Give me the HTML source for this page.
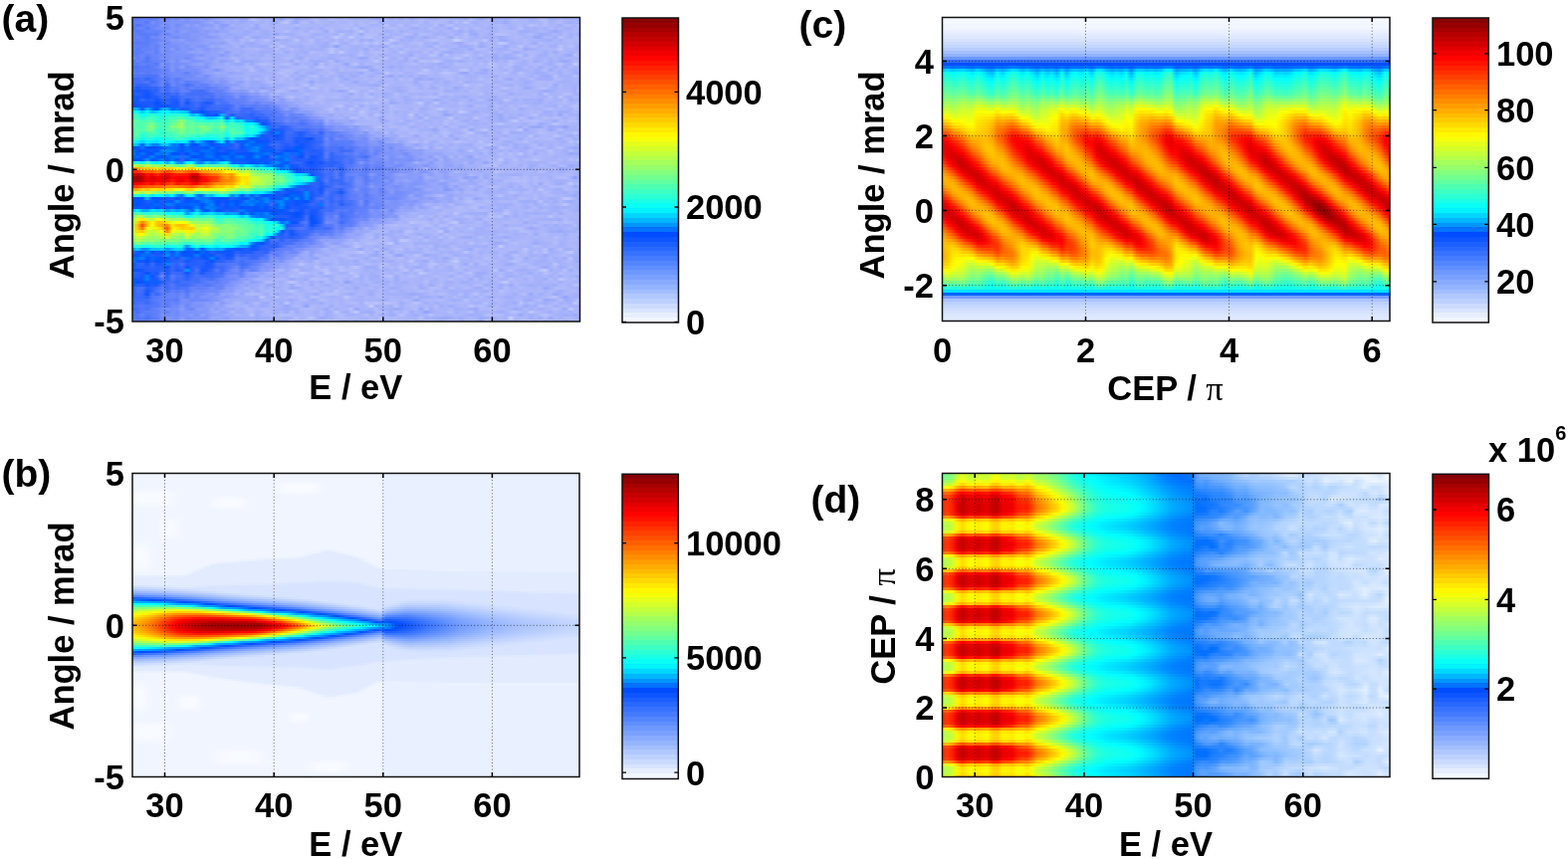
<!DOCTYPE html><html><head><meta charset="utf-8"><style>
html,body{margin:0;padding:0;background:#fff}
body{width:1575px;height:863px;position:relative;overflow:hidden;filter:blur(0.45px)}
.hm{position:absolute;overflow:hidden}
.hm i{display:block;width:100%}
svg{position:absolute;left:0;top:0}
text{font-family:"Liberation Sans",Arial,sans-serif;font-weight:bold;fill:#000}
</style></head><body>
<div class="hm" style="left:133px;top:17.5px;width:449.5px;height:305.5px"><i style="height:3px;background:linear-gradient(90deg,#6080fa,#5b7dfa,#6281fa,#6582fa,#6281fa,#6482fa,#7c93fa,#6e89fa,#7c93fa,#7890fa,#8398fa,#7990fa,#889bfa,#879afa,#8a9dfa,#879afa,#8fa0fa,#97a7fa,#9caafa,#9cabfa,#9dabfa,#a3b0fa,#96a6fa,#9aa9fa,#b7c1fa,#b2bbfa,#a6b2fa,#a9b4fa,#a5b2fa 140px 145px,#98a7fa,#b0bafa,#abb6fa,#99a8fa,#a4b0fa 170px 175px,#acb7fa,#b6bffa,#a7b3fa,#a8b4fa,#b2bcfa,#aeb8fa,#a9b5fa,#b0bafa,#a9b5fa,#a8b4fa,#a9b4fa,#acb7fa,#a5b1fa,#a2affa,#a6b3fa,#afb9fa,#a4b0fa,#acb7fa,#a2affa,#b1bbfa,#a2affa,#a9b5fa,#b2bcfa,#abb6fa,#a8b4fa,#a7b3fa,#b0bafa,#b1bbfa,#a7b3fa,#acb7fa,#a7b3fa,#a3b0fa,#b6c0fa,#a7b3fa,#a0aefa,#abb6fa,#afb9fa,#a3b0fa,#a7b3fa,#a2affa,#abb6fa,#b4befa,#aab5fa,#acb7fa,#a3b0fa,#a7b3fa,#b6bffa,#b2bcfa,#a2affa,#a4b1fa,#adb8fa,#a9b4fa,#a6b2fa,#a5b2fa,#a2affa)"></i><i style="height:3px;background:linear-gradient(90deg,#6180fa 0px 5px,#6583fa,#5579fa,#768ffa,#6885fa,#7990fa,#7a92fa,#7c93fa,#7e94fa 45px 50px,#7d93fa,#7f95fa,#7e94fa,#8599fa,#91a2fa,#9aa9fa,#899cfa,#97a6fa,#9fadfa,#9cabfa,#a2affa,#99a8fa,#a1affa,#a2affa,#a9b4fa,#a1affa,#adb8fa,#a2affa,#9caafa,#b3bdfa,#bcc5fb,#a4b0fa,#96a6fa,#b0bafa,#b2bcfa,#a4b1fa,#afb9fa,#acb7fa,#abb6fa,#a5b1fa,#acb7fa,#a7b3fa,#aab5fa,#afb9fa,#abb6fa,#b0bafa,#a9b4fa,#b1bbfa 240px 245px,#9eacfa,#a9b5fa 255px 260px,#a5b2fa,#acb7fa,#aab6fa,#a6b2fa,#a7b3fa,#b1bbfa,#a3b0fa,#adb8fa,#b1bafa,#afb9fa,#acb7fa,#9dabfa,#b2bbfa,#a8b4fa,#bac4fb,#a9b4fa,#a2affa,#abb6fa,#adb8fa,#a7b3fa,#a4b0fa,#a4b1fa,#9ba9fa,#a7b3fa,#adb8fa,#aab5fa,#a9b5fa,#a8b4fa,#a9b5fa,#a8b3fa,#b6c0fa,#a3b0fa,#adb8fa,#b2bbfa,#a4b1fa,#9fadfa,#a5b2fa,#a8b3fa)"></i><i style="height:3px;background:linear-gradient(90deg,#6985fa,#4d75fa,#5e7ffa,#6382fa,#6d88fa,#6784fa,#8397fa,#708bfa,#8197fa,#728cfa,#7d93fa,#8e9ffa,#8397fa,#90a1fa,#8096fa,#899cfa,#8b9efa,#9dabfa,#899cfa,#8c9efa,#a5b1fa,#9eacfa,#a4b1fa,#a2affa,#abb6fa,#96a6fa,#acb7fa,#a8b4fa,#a3b0fa,#acb7fa,#a9b5fa,#acb7fa,#a9b5fa,#b1bbfa,#abb6fa,#aab5fa,#abb6fa,#a8b4fa,#abb6fa,#a3b0fa,#abb6fa,#aab5fa,#aeb8fa,#adb7fa,#b2bcfa,#a5b1fa,#b1bbfa,#aeb9fa,#a6b2fa 240px 245px,#acb7fa,#b9c3fb,#a6b2fa,#a7b3fa,#b4befa,#a3b0fa,#aeb8fa,#b1bbfa,#a8b4fa,#aab5fa,#a7b3fa,#b5bffa,#9caafa,#adb8fa,#b5bffa,#a4b1fa,#abb6fa,#a6b3fa,#abb6fa,#a9b5fa,#a7b3fa,#aeb9fa,#a4b1fa,#acb7fa,#afb9fa,#a8b4fa,#a6b2fa,#aab6fa,#afb9fa,#a4b1fa,#b7c0fa,#b0bafa,#a9b4fa,#b3bdfa,#a9b4fa,#a9b5fa,#a2affa,#afbafa,#adb8fa,#a6b3fa,#bdc6fb)"></i><i style="height:3px;background:linear-gradient(90deg,#4e75fa,#6583fa,#6885fa,#567afa,#6885fa,#728cfa,#758efa,#6c88fa,#8197fa,#7b92fa,#8096fa,#8297fa,#8096fa,#8499fa,#8c9efa,#94a5fa,#91a2fa,#9baafa,#8fa0fa,#99a8fa,#98a7fa,#a0adfa,#9dacfa,#a7b3fa,#9dabfa,#97a6fa,#a7b3fa,#aab5fa,#a8b4fa,#aab6fa,#acb7fa,#a7b3fa,#aab5fa,#9eacfa,#a8b4fa,#a6b2fa,#a2affa,#abb6fa,#9eacfa,#adb8fa,#afb9fa,#abb6fa,#aab5fa,#b4bdfa,#a9b5fa,#b6c0fa,#9fadfa,#a9b5fa,#adb8fa,#afb9fa,#acb7fa,#aab6fa,#b0bafa,#afbafa,#aab5fa,#adb7fa,#a2affa,#a1aefa,#a9b4fa,#a5b2fa,#b3bdfa,#a4b1fa,#a9b5fa,#a5b2fa,#9dabfa,#bcc5fb,#a7b3fa,#b1bbfa,#a5b1fa,#b3bdfa,#acb7fa,#a7b3fa,#a4b1fa,#a8b4fa,#afb9fa,#adb7fa,#a2affa,#a9b4fa,#b6c0fa,#a3b0fa,#a6b2fa,#a3b0fa,#abb6fa,#a3b0fa,#b1bbfa,#a5b1fa,#acb7fa,#a4b1fa,#a2affa,#aeb9fa,#a9b5fa)"></i><i style="height:3px;background:linear-gradient(90deg,#6281fa,#587bfa,#5f7ffa,#6482fa,#6583fa,#6281fa,#6b87fa,#7c93fa,#8297fa,#718bfa,#8c9efa,#8498fa,#8095fa,#7f95fa,#8c9efa,#879bfa,#8ea0fa,#8a9dfa,#96a6fa,#93a4fa,#a4b0fa,#a2affa,#a0aefa,#99a8fa,#9eacfa,#a9b5fa,#a0adfa,#a0aefa,#a8b3fa,#a9b4fa 145px 150px,#b5bffa,#a7b3fa,#a6b3fa,#afb9fa,#a3b0fa,#b3bdfa,#adb7fa,#acb7fa,#9aa9fa,#b5bffa,#a5b1fa,#a2affa,#a6b2fa,#a0aefa,#b0bafa,#bcc5fb,#a3b0fa,#b2bcfa,#abb6fa,#b2bcfa,#a1affa,#a3b0fa,#aeb8fa,#a2affa,#a8b4fa,#aab5fa,#a8b4fa,#aab6fa,#a4b1fa,#a7b3fa,#abb6fa,#a2affa,#adb8fa,#a7b3fa,#a6b2fa,#9eacfa,#acb7fa,#9cabfa,#a8b3fa,#aab5fa,#aeb8fa,#a5b1fa,#a8b4fa,#b1bbfa 370px 375px,#adb8fa,#aeb8fa,#a1aefa,#9fadfa,#a3b0fa,#a6b2fa,#acb7fa,#a8b4fa,#a2affa,#99a8fa,#a2affa,#abb6fa,#a9b4fa,#acb7fa,#aeb9fa)"></i><i style="height:3px;background:linear-gradient(90deg,#6482fa,#5f7ffa,#577bfa,#5b7dfa,#5f7ffa,#5b7dfa,#7890fa,#6784fa,#7a91fa,#7c93fa,#8197fa,#7c93fa,#8499fa,#879afa,#869afa,#889bfa,#96a6fa,#95a5fa,#a1aefa,#98a8fa,#99a8fa,#a0adfa,#9dabfa,#9dacfa,#a7b3fa,#a5b2fa,#a1aefa,#9eacfa,#a4b1fa,#95a5fa,#a8b4fa,#a1aefa,#9fadfa,#a9b5fa,#aeb9fa,#b1bbfa,#a7b3fa,#a1aefa,#a7b3fa 190px 195px,#abb6fa,#a5b1fa,#bac4fb,#a7b3fa,#a9b4fa,#b3bdfa,#99a8fa,#b4bdfa,#b1bbfa,#b2bcfa,#a1aefa,#afb9fa,#a4b1fa,#a5b1fa,#a7b3fa,#b3bdfa,#adb8fa,#9dabfa,#b3bcfa,#afb9fa,#aab5fa,#a3b0fa,#a7b3fa,#a3b0fa,#b1bbfa,#a2affa,#a5b1fa,#b5bffa,#9eacfa,#98a8fa,#aeb9fa,#a8b4fa,#9fadfa,#b4befa,#b9c2fb,#b3bdfa,#adb8fa 380px 385px,#a4b1fa,#a7b3fa,#b2bcfa,#a5b1fa,#9baafa,#a0aefa,#a2affa,#a9b4fa,#a2affa,#b0bafa,#a3b0fa,#a9b5fa,#a1aefa)"></i><i style="height:3px;background:linear-gradient(90deg,#5f7ffa,#6784fa,#6381fa,#5479fa,#6f8afa,#6b87fa,#7e94fa,#7b92fa,#7890fa,#718bfa,#7e94fa,#7a92fa,#8398fa,#8498fa,#8c9efa,#8599fa,#889bfa,#8ea0fa,#9aa9fa 90px 95px,#9eacfa,#94a4fa,#9eacfa,#afb9fa,#9fadfa,#96a6fa,#a0adfa,#9fadfa,#a6b3fa,#b6c0fa,#b5bffa,#b1bbfa,#a9b4fa,#a6b2fa,#a3b0fa,#abb6fa,#a2affa,#abb6fa,#aeb8fa,#a3b0fa,#afb9fa,#c0c9fb,#b0bafa,#a8b4fa,#c3ccfb,#abb6fa 225px 230px,#b4befa 235px 240px,#acb7fa,#adb7fa,#a0adfa,#a6b2fa,#b5bffa,#afb9fa,#a4b0fa,#9baafa,#a6b2fa,#a7b3fa,#9baafa,#a9b5fa,#abb6fa,#b4befa,#acb7fa,#99a8fa,#b4befa,#a9b4fa,#b4bdfa,#a8b4fa,#a2affa,#abb6fa,#a4b0fa 355px 360px,#a6b2fa,#9cabfa,#a3b0fa,#abb6fa,#aeb8fa,#afb9fa,#a5b2fa,#abb6fa,#95a5fa,#9caafa,#aab6fa,#abb6fa,#9dabfa,#b8c2fa,#acb7fa,#a2affa,#afbafa,#acb7fa)"></i><i style="height:3px;background:linear-gradient(90deg,#6583fa,#5c7dfa,#6381fa,#597cfa,#6482fa,#6784fa,#728cfa,#768ffa,#889bfa,#8599fa,#8e9ffa,#8095fa,#7c93fa,#8499fa,#8b9dfa,#92a3fa,#93a4fa,#98a7fa,#9aa9fa,#a5b1fa,#a1aefa,#99a8fa,#afb9fa,#a3b0fa,#b2bcfa,#a2affa,#aab5fa,#b6bffa,#a6b2fa,#9aa9fa,#a6b3fa,#9fadfa,#a8b4fa,#bac3fb,#a5b1fa,#abb6fa,#b4befa,#a3b0fa,#a7b3fa,#adb7fa,#a2affa,#afb9fa,#a4b1fa,#b0bafa,#a5b1fa,#b1bbfa,#9eacfa,#a7b3fa,#9eacfa,#afb9fa,#acb7fa,#a3b0fa,#c0c9fb,#b1bbfa,#a1affa,#a5b2fa,#a2affa,#abb6fa,#a5b1fa,#aeb8fa,#b3bdfa,#b6c0fa,#adb7fa 310px 315px,#adb8fa,#c7d0fb,#b9c3fb,#adb7fa,#a7b3fa,#adb8fa,#afb9fa,#bcc5fb,#9aa9fa,#b1bbfa,#9dabfa,#9eacfa,#a7b3fa,#adb8fa,#a8b4fa,#b1bbfa,#a7b3fa,#a9b4fa,#a5b1fa,#a2affa,#9cabfa,#acb7fa,#a1affa,#afb9fa 435px 440px,#adb8fa,#b0bafa)"></i><i style="height:3px;background:linear-gradient(90deg,#5c7dfa,#5a7cfa,#5b7dfa,#5c7dfa,#6683fa,#6b87fa,#8096fa,#6e89fa,#7d93fa,#8196fa,#7f95fa,#879bfa,#8498fa,#8a9cfa,#8b9dfa,#92a3fa,#899cfa,#91a2fa,#8d9ffa,#99a8fa,#a7b3fa,#a3b0fa,#a8b4fa,#9eacfa,#99a8fa,#a1affa,#a9b5fa,#a8b4fa,#a5b2fa,#b2bcfa,#a6b2fa,#a6b3fa,#acb7fa,#abb6fa,#a7b3fa,#afb9fa 175px 180px,#a3b0fa,#a7b3fa,#9dabfa,#b0bafa,#b7c1fa,#a2affa 210px 215px,#aeb9fa,#b4befa,#a9b5fa,#b7c1fa,#abb6fa,#bbc4fb,#abb6fa,#bac4fb,#abb6fa,#9eacfa,#abb6fa,#a4b0fa,#aeb8fa,#afbafa,#b5bffa,#a2affa,#a9b5fa,#9dacfa,#b2bcfa,#abb6fa,#a9b4fa,#9fadfa,#9caafa,#aeb8fa,#b2bcfa,#b7c1fa,#a0adfa,#aab5fa,#aeb8fa,#aab5fa,#bfc8fb,#b7c1fa,#a2affa,#a6b2fa,#a8b4fa,#b0bafa,#a5b1fa,#9cabfa,#b3bcfa,#a9b5fa,#acb7fa,#a7b3fa,#a9b5fa,#aab6fa,#b0bafa,#a9b5fa,#aeb8fa)"></i><i style="height:3px;background:linear-gradient(90deg,#6382fa,#6180fa,#5f7ffa,#6080fa,#6a86fa,#6080fa,#7a92fa,#738dfa,#7991fa,#7890fa,#8398fa,#7b92fa,#8b9dfa,#8398fa,#7f95fa,#879bfa,#9baafa,#93a4fa,#9dabfa,#9cabfa,#9dabfa,#aab5fa,#96a6fa,#a2affa,#9dabfa,#9fadfa,#9baafa,#9dabfa,#b2bcfa,#a7b3fa,#b9c2fb,#abb6fa,#a3b0fa,#a2affa,#9fadfa,#abb6fa,#a6b3fa,#a8b4fa,#a0adfa,#9eacfa,#acb7fa,#8e9ffa,#a9b5fa,#acb7fa,#a5b1fa,#a4b0fa,#a5b2fa,#aeb8fa,#9eacfa,#a9b4fa,#9eacfa,#9fadfa,#b3bdfa,#b0bafa 265px 270px,#a7b3fa,#a9b4fa,#a7b3fa,#afb9fa,#a6b2fa,#9fadfa,#b3bdfa,#aab6fa,#a7b3fa,#aab5fa,#aab6fa,#9cabfa,#a0adfa,#a3b0fa,#aeb9fa,#99a8fa,#a6b2fa,#adb8fa,#abb6fa,#acb7fa,#9aa9fa,#a7b3fa,#a8b4fa,#bbc4fb,#a4b0fa,#b1bbfa 400px 405px,#a4b1fa,#afb9fa,#a3b0fa,#a1aefa,#b7c1fa,#aab5fa,#b5bffa,#a9b5fa,#a2affa)"></i><i style="height:3px;background:linear-gradient(90deg,#6a87fa,#5479fa,#6583fa,#6382fa,#6885fa,#6281fa,#8197fa,#718bfa,#879bfa,#728cfa,#8297fa,#7f95fa,#7c93fa,#8ea0fa,#8a9dfa,#7f95fa,#90a1fa,#8b9efa,#95a5fa,#9fadfa 95px 100px,#a0aefa,#a2affa,#a8b4fa 115px 120px,#aeb9fa,#a4b1fa,#a3b0fa,#a2affa,#b5bffa,#a2affa,#a8b4fa,#b3bdfa,#a8b3fa,#a3b0fa,#a5b1fa,#a3b0fa,#a2affa 185px 190px,#a9b5fa,#bac3fb,#aeb9fa,#a6b2fa,#acb7fa,#a4b1fa,#a3b0fa,#a9b4fa,#9baafa,#b0bafa,#a2affa,#acb7fa,#afb9fa,#a5b1fa,#adb8fa,#a3b0fa,#b2bcfa,#a9b4fa,#afb9fa,#abb6fa,#acb7fa,#b1bbfa,#a4b1fa,#b2bcfa,#b0bafa,#a3b0fa,#a2affa,#a4b1fa,#a6b3fa,#99a8fa,#b2bcfa,#aeb9fa,#b0bafa,#a2affa,#a7b3fa,#a1aefa,#a2affa,#abb6fa,#afb9fa,#b0bafa,#99a8fa,#a2affa,#a5b1fa,#abb6fa,#aab6fa,#abb6fa 420px 425px,#bdc6fb,#a9b5fa,#acb7fa,#a7b3fa 445px 450px)"></i><i style="height:3px;background:linear-gradient(90deg,#5b7dfa,#5f7ffa,#5d7efa,#6c87fa,#6e89fa,#5b7dfa,#8096fa,#738cfa,#7a91fa,#7f95fa,#7e94fa,#8599fa,#8fa1fa,#8ea0fa,#93a3fa,#8b9dfa,#92a2fa,#93a3fa,#9dacfa,#899cfa,#9eacfa,#a1aefa,#9cabfa,#a3b0fa,#a7b3fa,#a3b0fa,#9eacfa,#a1aefa,#a0aefa,#abb6fa,#adb8fa,#99a8fa,#aab5fa,#a5b1fa,#a3b0fa,#9eacfa,#b3bdfa,#acb7fa 185px 190px,#abb6fa,#bdc6fb,#aab5fa,#c1cafb,#a7b3fa,#a5b1fa 220px 225px,#b2bcfa,#a2affa,#afb9fa,#b2bcfa,#b0bafa,#afb9fa,#a8b3fa,#a3b0fa,#bac3fb,#adb7fa,#a2affa,#a7b3fa,#a5b2fa,#b5befa,#a2affa,#b5bffa,#a7b3fa,#9fadfa,#9baafa,#a5b2fa,#a2affa,#adb8fa,#acb7fa,#a0aefa,#a9b4fa,#aab5fa,#b4befa,#a8b4fa,#a4b1fa,#afb9fa,#acb7fa,#9dacfa,#a8b3fa,#abb6fa,#b1bbfa,#adb8fa,#abb6fa,#9fadfa,#adb8fa,#9caafa,#afbafa,#abb6fa,#a3b0fa,#abb6fa,#afb9fa)"></i><i style="height:3px;background:linear-gradient(90deg,#6180fa,#5b7dfa,#6d88fa,#5c7efa,#6784fa,#6885fa,#738cfa,#748dfa,#8096fa,#7991fa,#7e94fa,#7d93fa,#7991fa,#8b9dfa,#7f95fa,#90a1fa 75px 80px,#92a3fa,#889bfa,#94a4fa,#a0aefa,#97a7fa,#a1aefa,#a7b3fa,#9fadfa,#a3b0fa,#9eacfa,#aab5fa,#a4b1fa,#a2affa,#a5b2fa,#a8b4fa,#adb8fa,#a2affa,#a7b3fa,#a5b1fa,#abb6fa,#a9b4fa,#b0bafa,#a8b4fa,#a3b0fa,#a8b4fa,#a3b0fa,#a7b3fa,#9fadfa,#aab5fa,#b6bffa,#a6b2fa,#aab5fa,#b0bafa,#a4b1fa,#a7b3fa,#a6b2fa,#abb6fa,#a7b3fa 270px 275px,#9caafa,#aeb8fa,#a9b4fa,#a6b2fa,#b7c0fa,#b5bffa,#99a8fa,#b7c1fa,#a5b1fa,#afb9fa,#aeb9fa,#b9c2fb,#afb9fa,#a3b0fa,#b4bdfa,#a5b1fa,#a7b3fa,#9aa9fa,#acb7fa,#a0adfa,#a2affa,#abb6fa,#b6c0fa,#9eacfa,#b3bdfa,#acb7fa,#a2affa,#a1aefa,#afb9fa,#a9b5fa,#abb6fa,#a0aefa,#97a6fa,#b8c1fa,#a2affa)"></i><i style="height:3px;background:linear-gradient(90deg,#728cfa,#5d7efa,#6985fa,#4d75fa,#6583fa,#6986fa,#7a91fa,#748dfa,#7c93fa,#7991fa,#7e94fa,#718bfa,#7e94fa,#8d9ffa,#92a3fa,#8fa1fa,#889bfa,#97a7fa,#9ba9fa,#99a8fa,#a7b3fa,#a9b4fa,#9caafa,#a4b0fa,#a5b2fa,#a1affa,#a9b5fa,#aab6fa,#aab5fa,#a3b0fa,#a7b3fa,#b0bafa,#aab5fa,#a3b0fa,#9baafa,#b1bbfa,#a6b2fa,#aab6fa,#a3b0fa,#a5b2fa,#9eacfa,#a5b1fa,#adb7fa 210px 215px,#a6b2fa 220px 225px,#98a7fa,#9dabfa,#b2bbfa,#a6b2fa,#b3bdfa,#b6c0fa,#a3b0fa,#a5b1fa,#b0bafa,#9dabfa,#b0bafa,#b2bbfa,#a4b1fa,#a7b3fa,#aab5fa,#a9b5fa,#a7b3fa,#aab5fa 315px 320px,#b8c2fa,#b3bdfa,#a4b1fa,#aeb8fa,#a5b1fa,#a0adfa,#abb6fa,#a7b3fa,#9aa9fa,#a4b1fa,#9caafa,#9eacfa,#a3b0fa,#aab5fa,#afb9fa,#b1bbfa,#a5b2fa 405px 410px,#aab5fa,#a3b0fa,#adb8fa,#a1aefa,#a9b4fa,#a9b5fa,#a9b4fa,#aab5fa)"></i><i style="height:3px;background:linear-gradient(90deg,#4d75fa,#6684fa,#5f7ffa,#5177fa,#6080fa,#6583fa,#6a86fa,#768efa,#8599fa,#748dfa,#8b9dfa,#8a9dfa,#7c93fa,#8095fa,#8297fa,#8d9ffa 75px 80px,#9caafa,#8a9cfa,#94a5fa,#98a7fa,#afb9fa,#99a8fa,#97a6fa,#99a8fa,#9eacfa,#a5b1fa,#a8b4fa,#a2affa,#a4b1fa,#a6b2fa,#aab5fa,#9caafa,#b1bbfa,#a8b4fa,#adb7fa,#a1aefa,#9eacfa,#a0adfa,#a3b0fa,#b4bdfa,#9aa9fa,#a5b1fa,#aab5fa,#a9b4fa,#abb6fa,#a6b2fa,#a7b3fa,#abb6fa,#bec7fb,#a9b5fa,#a5b2fa,#a5b1fa,#aab5fa,#a6b2fa,#a1affa,#acb7fa,#9eacfa,#b9c2fb,#b2bcfa,#afb9fa,#bdc6fb,#b0bafa,#a0adfa 315px 320px,#a8b4fa,#9cabfa,#a7b3fa,#acb7fa,#a7b3fa,#aab5fa,#a4b0fa,#b5befa,#a2affa,#acb7fa,#a3b0fa,#b5bffa,#acb7fa,#a8b4fa,#a2affa,#b2bcfa,#9dabfa,#a5b2fa,#adb7fa,#a0aefa,#a8b4fa,#a0aefa,#98a7fa,#a3b0fa,#adb7fa,#acb7fa)"></i><i style="height:3px;background:linear-gradient(90deg,#587bfa,#577bfa,#6482fa,#5c7dfa,#5e7ffa,#5177fa,#8599fa,#6986fa,#7d93fa,#718bfa,#7b92fa,#7991fa,#879bfa,#8d9ffa,#93a3fa,#8197fa,#90a1fa,#98a7fa,#97a7fa,#a4b0fa,#9ba9fa,#97a7fa 105px 110px,#adb7fa,#98a7fa,#a9b5fa,#b3bdfa,#aeb9fa,#aeb8fa,#a7b3fa,#afb9fa,#b3bdfa,#aab5fa,#9aa9fa,#adb8fa,#a5b2fa,#a8b4fa,#95a5fa,#b8c1fa,#a1aefa,#b2bcfa,#adb8fa,#a9b5fa,#92a3fa,#aeb9fa,#b8c2fa,#9fadfa,#afb9fa,#abb6fa,#a9b5fa,#a8b4fa,#aab5fa,#a7b3fa,#a6b2fa,#a3b0fa,#acb7fa,#aeb9fa,#b1bbfa,#a5b1fa,#a9b5fa,#a5b1fa 300px 305px,#9dabfa,#a7b3fa,#a3b0fa,#b2bcfa,#b1bbfa,#abb6fa,#b2bcfa,#a4b1fa,#b3bdfa,#a8b4fa,#bdc6fb,#b1bbfa,#abb6fa 370px 375px,#b7c1fa,#a8b4fa,#a2affa,#a4b1fa,#aeb8fa,#adb8fa,#b2bcfa,#a4b1fa,#9eacfa,#adb7fa,#b6c0fa,#a7b3fa,#a4b0fa,#c0c9fb,#a8b4fa)"></i><i style="height:3px;background:linear-gradient(90deg,#4a73fa,#5076fa,#577afa,#5177fa,#5a7cfa,#6583fa,#7890fa,#6a86fa,#7f95fa,#738dfa,#8b9dfa,#738cfa,#7a92fa,#8397fa,#8398fa,#7e94fa,#95a5fa,#9aa9fa,#9dabfa 90px 95px,#a4b1fa,#a0aefa,#a4b0fa,#acb7fa,#adb8fa,#9baafa,#a5b2fa,#a7b3fa 135px 145px,#a2affa,#a4b0fa,#acb7fa,#aeb8fa,#b0bafa,#b2bcfa,#9eacfa,#afb9fa,#b9c3fb,#afb9fa,#aeb9fa,#a6b3fa,#afb9fa,#a5b1fa,#a6b2fa,#a0adfa,#99a8fa,#94a4fa,#9fadfa,#b1bbfa,#acb7fa,#a7b3fa,#9aa9fa,#a4b1fa,#a0aefa,#aab5fa,#a5b1fa,#a4b0fa,#acb7fa,#a3b0fa,#a1aefa,#aab5fa,#a1affa,#9dabfa,#a8b4fa,#a9b4fa,#abb6fa,#adb8fa,#a8b4fa,#acb7fa,#abb6fa,#aeb9fa,#b5bffa,#b0bafa,#a6b3fa,#b2bcfa,#adb8fa,#9dabfa,#a1aefa,#aeb8fa,#a4b1fa,#adb8fa,#9dabfa,#adb8fa,#a8b4fa,#9fadfa,#afb9fa,#9fadfa,#afb9fa,#a7b3fa,#abb6fa)"></i><i style="height:3px;background:linear-gradient(90deg,#587bfa,#5378fa,#597cfa,#587bfa 15px 20px,#597cfa,#6a86fa,#5f7ffa,#8196fa,#6a86fa,#738dfa,#7890fa,#768ffa,#778ffa,#869afa,#90a1fa,#8ea0fa,#8095fa,#92a2fa,#a1affa,#9eacfa,#a7b3fa,#a2affa,#a0aefa,#b5bffa,#a1aefa,#9aa9fa,#a7b3fa,#a9b5fa,#9fadfa,#b0bafa,#b1bbfa,#b3bcfa,#a9b5fa,#a5b2fa,#a9b5fa,#a5b1fa,#a3b0fa,#a5b1fa,#afb9fa,#abb6fa,#a0adfa,#b0bafa,#abb6fa,#acb7fa,#aab5fa,#b1bbfa,#b3bdfa,#96a6fa,#a2affa,#aeb8fa,#a9b5fa,#a4b1fa,#abb6fa,#a4b1fa,#adb8fa,#abb6fa,#a9b5fa,#acb7fa,#bdc6fb,#a9b4fa,#a7b3fa,#a5b2fa,#b0bafa,#a6b2fa,#a7b3fa,#b7c1fa,#bbc4fb,#a5b2fa,#b0bafa,#a2affa,#99a8fa,#adb8fa,#aeb8fa,#a9b4fa,#a4b1fa,#b1bbfa,#a0adfa,#a2affa,#a4b1fa,#adb7fa,#a2affa,#a3b0fa,#b2bcfa,#9aa9fa,#abb6fa,#a6b2fa,#adb7fa,#a6b2fa,#a0aefa,#afb9fa)"></i><i style="height:3px;background:linear-gradient(90deg,#6281fa,#567afa,#6080fa,#5378fa,#5c7dfa,#5f7ffa,#6a86fa,#6784fa,#728bfa,#718bfa,#6f8afa,#6080fa,#768ffa,#718bfa,#8397fa,#8e9ffa,#92a3fa,#9caafa,#98a8fa 90px 95px,#92a3fa,#9ba9fa,#9baafa,#a4b0fa,#a7b3fa,#a3b0fa 125px 130px,#a4b0fa,#a4b1fa,#a8b4fa,#b6c0fa,#b0bafa,#aeb8fa,#9caafa,#abb6fa,#a4b0fa,#9eacfa,#a6b2fa,#abb6fa 190px 195px,#b0bafa,#a7b3fa,#a1aefa,#a5b1fa,#a3b0fa,#a4b0fa,#9aa9fa,#adb8fa,#a8b4fa,#a4b0fa,#a0adfa,#bdc6fb,#adb7fa,#aab6fa,#b0bafa,#a3b0fa,#a7b3fa,#acb7fa,#b6bffa,#b3bdfa,#b0bafa,#a6b2fa,#b2bcfa,#bac3fb,#b4befa,#adb8fa,#9dabfa,#97a6fa,#acb7fa,#a2affa,#9fadfa,#a0adfa,#aab5fa,#b3bdfa,#acb7fa,#b8c1fa,#a7b3fa,#a3b0fa,#b8c2fa,#a9b5fa,#a7b3fa,#a0adfa,#9fadfa,#a3b0fa,#aeb8fa,#abb6fa,#a0aefa,#adb8fa,#a9b5fa,#9eacfa,#a8b4fa)"></i><i style="height:3px;background:linear-gradient(90deg,#5378fa,#5077fa,#4f76fa,#4a73fa,#4973fa,#4d75fa,#718bfa,#6180fa,#6f8afa,#708bfa,#718bfa,#6e89fa,#708afa,#7c93fa,#8096fa,#748dfa,#8c9efa,#92a3fa,#93a4fa,#96a6fa,#9fadfa 100px 105px,#a2affa,#a3b0fa,#9eacfa 120px 125px,#a1aefa,#aab6fa,#a4b0fa,#a8b3fa,#a8b4fa,#b5bffa,#a3b0fa,#a9b5fa,#9caafa,#a4b1fa,#b1bbfa,#b3bdfa,#a0aefa,#afb9fa,#a4b1fa,#abb6fa,#9aa9fa,#a8b4fa,#9eacfa,#9fadfa,#acb7fa,#abb6fa,#9eacfa,#a9b4fa,#afb9fa,#a0aefa,#96a6fa,#a9b5fa,#9facfa,#aab5fa,#9fadfa,#aab6fa,#9fadfa,#a5b1fa,#aab5fa,#a7b3fa,#acb7fa,#b1bbfa,#b0bafa,#a9b4fa,#b0bafa,#a5b2fa,#a5b1fa 340px 345px,#acb7fa,#a8b4fa,#a9b4fa,#9fadfa,#aeb9fa,#abb6fa,#aab5fa,#a9b5fa,#aeb8fa,#adb8fa,#a1aefa,#adb8fa,#a2affa,#9aa9fa,#9fadfa,#b7c0fa,#a3b0fa,#a5b1fa,#a4b1fa,#b5bffa,#a3b0fa)"></i><i style="height:3px;background:linear-gradient(90deg,#3f6dfa 0px 5px,#4872fa,#3266fb,#4671fa,#5378fa,#5d7efa,#5479fa,#6a86fa,#587bfa,#6a86fa,#728cfa,#748dfa,#778ffa,#758efa,#7991fa,#869afa,#8b9dfa,#8499fa,#90a1fa,#97a7fa,#9eacfa,#9baafa,#acb7fa,#9eacfa,#a9b5fa,#a2affa,#afb9fa,#9fadfa,#a4b1fa,#b0bafa,#a6b2fa,#adb8fa,#9ba9fa,#a4b1fa,#aeb8fa,#a6b3fa,#a8b4fa,#a0adfa,#a6b2fa,#a5b1fa,#b0bafa,#a3b0fa,#99a8fa,#a4b0fa,#a9b4fa,#a7b3fa,#afb9fa,#a7b3fa,#b0bafa,#a8b4fa,#abb6fa,#aeb9fa,#a4b1fa,#b4befa,#a9b4fa,#b2bcfa,#9baafa,#9aa9fa,#a2affa,#9ba9fa,#a4b1fa 305px 310px,#abb6fa,#afb9fa,#a7b3fa,#acb7fa,#abb6fa,#a3b0fa,#a9b5fa,#b4befa,#aab5fa,#aeb8fa,#aab6fa,#b0bafa,#a0adfa,#9ba9fa,#b0bafa,#a4b0fa,#a4b1fa,#b0bafa,#a8b3fa,#9eacfa,#a2affa,#9dabfa,#b1bbfa,#aeb8fa,#a6b2fa 435px 440px,#a8b4fa,#abb6fa)"></i><i style="height:3px;background:linear-gradient(90deg,#3c6bfa,#406efa,#426efa,#5077fa,#3768fa,#4b74fa,#6b87fa,#4d75fa,#6e89fa,#5c7efa,#6f8afa,#5a7cfa,#6482fa,#6583fa,#718bfa,#7991fa,#7d93fa,#8b9dfa,#7e94fa,#8a9cfa,#9baafa,#90a1fa,#8e9ffa,#a5b1fa,#98a7fa,#97a7fa,#9cabfa,#abb6fa,#afbafa,#a7b3fa,#aab5fa,#a7b3fa,#a8b4fa,#a4b1fa,#acb7fa,#a9b5fa,#93a3fa,#a9b5fa,#a3b0fa,#a6b3fa,#a7b3fa,#afb9fa,#a5b1fa,#a9b5fa,#a3b0fa,#9aa9fa,#a7b3fa,#a3b0fa,#b0bafa,#a8b4fa,#9dacfa,#a9b5fa,#adb8fa,#a7b3fa,#aab5fa,#aab6fa,#abb6fa,#9aa9fa,#afb9fa,#acb7fa,#adb7fa,#a0adfa,#abb6fa,#9fadfa,#a7b3fa,#a9b4fa,#b4befa,#a0adfa,#a5b1fa,#a6b2fa,#a9b5fa,#acb7fa,#b2bcfa,#a2affa,#a7b3fa,#abb6fa,#adb8fa,#a8b4fa,#a9b5fa,#9dabfa,#a3b0fa,#adb8fa,#b1bbfa,#aab6fa,#afb9fa,#a8b4fa,#a6b2fa,#a4b1fa,#a6b2fa,#aab5fa,#a4b1fa)"></i><i style="height:3px;background:linear-gradient(90deg,#4570fa,#2f64fb,#3266fb,#3668fa,#4a73fa,#4f76fa,#6b87fa,#3969fa,#6c88fa,#5f7ffa,#6080fa,#4671fa,#5479fa,#6885fa,#6080fa,#6180fa,#7890fa,#748dfa,#7a92fa,#8599fa,#8a9dfa,#8b9dfa,#9aa9fa,#a2affa,#98a7fa,#9cabfa,#96a6fa,#9cabfa,#a8b4fa,#a1aefa,#9eacfa,#a5b1fa,#aab5fa,#a3b0fa,#abb6fa,#b7c1fa,#9fadfa,#b2bcfa,#abb6fa 190px 205px,#b4bdfa,#a5b1fa,#a8b4fa 220px 225px,#a1aefa 230px 235px,#9fadfa,#9baafa,#a5b2fa,#b5befa,#a7b3fa,#a9b4fa,#a8b4fa,#adb8fa,#afb9fa,#a3b0fa,#a2affa,#b1bbfa,#a5b1fa,#aab5fa,#abb6fa,#a4b0fa,#a9b5fa,#adb7fa,#a8b4fa,#b9c2fb,#adb8fa,#acb7fa,#b3bdfa,#a7b3fa 355px 360px,#adb8fa,#aab5fa,#a4b1fa,#a1aefa,#aeb9fa,#a6b2fa,#a1affa,#a9b4fa,#aeb9fa 405px 410px,#abb6fa,#b0bafa,#9aa9fa,#adb8fa,#a6b2fa,#a7b3fa,#a4b1fa,#acb7fa)"></i><i style="height:3px;background:linear-gradient(90deg,#3b6bfa,#1958fe,#2d63fc,#2a61fc,#3165fb,#3265fb,#5278fa,#3a6afa,#587bfa,#567afa,#6482fa,#567afa,#6482fa,#597cfa,#6080fa,#567afa,#6281fa,#6784fa,#758efa,#708bfa,#91a2fa,#9aa9fa,#92a3fa,#9aa9fa,#94a4fa,#99a8fa,#8fa0fa,#98a7fa,#99a8fa,#a1aefa,#a6b2fa,#abb6fa,#b3bdfa,#aeb8fa,#abb6fa,#a3b0fa,#b6c0fa,#b3bdfa,#a7b3fa,#b0bafa,#a6b2fa,#acb7fa,#aeb9fa,#b3bdfa,#a9b5fa,#aeb8fa,#adb8fa 230px 235px,#a7b3fa,#a8b4fa,#b6c0fa,#aab5fa,#a6b2fa,#a1affa,#a3b0fa,#a7b3fa,#b1bbfa,#aeb9fa,#a2affa,#aeb8fa,#a1affa,#a0adfa,#b1bbfa,#a6b2fa,#aab5fa,#9aa9fa,#a3b0fa,#acb7fa,#a6b2fa,#afbafa,#aab5fa,#a7b3fa,#a8b4fa,#a7b3fa,#afb9fa,#b8c1fa,#abb6fa,#afb9fa,#aeb8fa,#99a8fa,#a0aefa,#aab5fa,#b4befa,#b3bdfa,#a6b2fa,#a1aefa,#abb6fa,#a8b4fa,#a7b3fa,#a1aefa,#b8c2fa)"></i><i style="height:3px;background:linear-gradient(90deg,#245efd,#1657fe,#1a58fe,#1757fe,#2961fc,#2e64fb,#567afa,#3e6cfa,#567afa,#4b74fa,#6382fa,#6080fa,#4771fa,#4772fa,#3e6cfa,#5177fa,#6683fa,#6080fa,#6482fa,#7890fa,#8a9cfa,#899cfa,#869afa,#8b9dfa,#a5b1fa,#91a2fa,#acb7fa,#a1affa,#99a8fa,#afb9fa,#b1bbfa,#a8b4fa,#9ba9fa,#9caafa,#acb7fa,#a1aefa,#a4b1fa,#a7b3fa,#a6b2fa,#aeb8fa,#a3b0fa,#a1aefa,#95a5fa,#a2affa,#bdc6fb,#b2bcfa,#a6b3fa,#a8b4fa,#b8c1fa,#aab5fa,#abb6fa,#a9b5fa,#aab5fa,#a2affa,#9eacfa,#a4b1fa,#b1bbfa,#afb9fa,#aeb8fa,#a9b5fa,#acb7fa,#abb6fa,#afbafa,#a2affa,#a3b0fa,#a2affa,#a9b5fa,#a6b2fa,#afbafa,#b0bafa,#adb7fa,#a5b1fa,#aab5fa,#b1bbfa,#a8b4fa,#a6b2fa,#a8b4fa,#aeb8fa,#a8b4fa,#acb7fa,#abb6fa,#a9b5fa,#a3b0fa,#9caafa,#9eacfa,#a4b1fa,#acb7fa,#abb6fa 435px 440px,#a1aefa,#c0c9fb)"></i><i style="height:3px;background:linear-gradient(90deg,#225dfd,#265ffc,#1f5bfd,#0c54ff,#225dfd,#3467fb,#3f6dfa,#2f64fb,#446ffa,#3668fb,#597cfa,#4470fa,#426efa,#4470fa,#436ffa,#446ffa,#4b74fa,#6180fa,#597cfa,#6684fa,#728cfa,#7c93fa,#738cfa,#7d93fa,#8b9dfa,#8599fa,#97a7fa,#95a5fa,#a8b4fa,#a9b5fa,#9dabfa,#a4b0fa,#a4b1fa,#a2affa,#a5b1fa,#afb9fa,#a8b4fa,#a9b5fa,#acb7fa,#aab5fa,#abb6fa,#adb8fa,#abb6fa,#a7b3fa,#9aa9fa,#afb9fa,#a5b1fa,#b4befa,#9dabfa,#abb6fa,#a8b4fa,#a0adfa,#a2affa,#b4befa,#a5b1fa,#aab6fa,#a4b1fa,#a8b4fa,#a4b0fa,#a7b3fa,#aab5fa,#a0aefa,#b5bffa,#acb7fa,#b0bafa,#aab5fa,#acb7fa,#aab5fa,#acb7fa 340px 345px,#b6bffa,#a9b5fa,#a7b3fa,#adb8fa,#aeb8fa,#adb8fa,#9dabfa,#a7b3fa,#a6b2fa,#abb6fa,#acb7fa,#afb9fa,#9eacfa,#b6c0fa,#a7b3fa,#a9b5fa,#abb6fa,#b5bffa,#b2bcfa,#a2affa,#aeb8fa)"></i><i style="height:3px;background:linear-gradient(90deg,#1d5afd,#1557fe,#1b59fe,#0e54fe,#1e5bfd,#235efd,#3f6dfa,#3b6afa,#2860fc,#2f64fb,#4973fa,#4470fa,#4872fa,#5177fa,#436ffa,#4e75fa,#436ffa,#5d7efa,#567afa,#5f7ffa,#6482fa,#7f95fa,#6180fa,#6c88fa,#7990fa,#7c93fa,#8699fa,#879afa,#9eacfa,#91a2fa,#97a6fa,#aab5fa,#b6bffa,#a5b2fa,#a8b4fa,#9fadfa,#a8b4fa,#acb7fa,#b3bdfa,#a9b5fa,#adb8fa,#b1bbfa,#aab5fa,#a1aefa,#a8b4fa,#b0bafa,#a6b3fa,#b1bbfa,#b5bffa,#a5b2fa,#adb7fa,#a1aefa,#a7b3fa,#afb9fa,#a7b3fa,#9fadfa,#aab5fa,#b1bbfa,#aeb8fa,#afb9fa,#b2bcfa,#b3bcfa,#a6b2fa,#a1aefa,#abb6fa,#a3b0fa,#a2affa,#9dabfa,#aab5fa,#abb6fa,#a6b2fa,#a8b4fa,#a7b3fa,#9fadfa,#acb7fa,#a7b3fa,#b0bafa,#aab5fa,#aeb8fa,#aeb9fa,#aab6fa,#acb7fa,#a6b2fa,#a3b0fa,#b4befa,#a2affa,#bbc4fb,#a7b3fa,#a4b0fa,#adb8fa,#aab6fa)"></i><i style="height:3px;background:linear-gradient(90deg,#1c59fe,#0f55fe,#3567fb,#1e5bfd,#265ffc,#0f55fe,#2760fc,#2a61fc,#215cfd,#1e5afd,#4a73fa,#245efd,#3e6cfa,#4e75fa,#416efa,#3869fa,#3768fa,#4a73fa,#4772fa,#5d7efa,#5f7ffa,#6582fa,#6381fa,#6a86fa,#7b92fa,#768efa,#7a92fa,#8397fa,#8fa1fa,#99a8fa,#879afa,#98a8fa,#a7b3fa,#99a8fa,#a4b1fa,#a1aefa,#a9b4fa,#aeb8fa 185px 190px,#a6b2fa,#a3b0fa,#a5b2fa,#a4b1fa,#a0aefa,#a7b3fa,#a1affa,#a1aefa,#a7b3fa,#a9b5fa,#acb7fa,#b2bbfa,#b5befa,#9fadfa,#a9b4fa,#acb7fa,#9dabfa,#a2affa,#a8b4fa,#a1affa,#aab5fa,#a6b2fa,#9baafa,#a1aefa,#aab6fa,#a3b0fa,#a0adfa,#a9b5fa,#abb6fa,#9baafa,#aab6fa,#b2bcfa,#a7b3fa,#98a7fa,#a4b0fa,#a1affa,#bac3fb,#acb7fa,#9fadfa,#abb6fa,#9eacfa,#a5b1fa 400px 405px,#9caafa,#acb7fa,#abb6fa,#a7b3fa,#a6b2fa,#b5bffa,#9fadfa,#a6b2fa,#a9b5fa)"></i><i style="height:3px;background:linear-gradient(90deg,#0050ff,#1557fe,#1a58fe,#1c59fe,#1958fe,#0451ff,#1b59fe,#2e64fb,#1d5afe,#1557fe,#416efa,#1055fe,#3567fb,#3f6dfa,#2d63fc,#1958fe,#275ffc,#5479fa,#4972fa,#4b74fa,#5f7ffa,#6080fa,#6180fa,#6a86fa,#6d89fa,#6180fa,#728cfa,#748dfa,#728cfa,#8c9efa,#889bfa,#90a1fa,#94a4fa,#9eacfa,#9baafa,#aab5fa,#aeb8fa,#a3b0fa,#b0bafa,#a5b2fa,#a8b4fa,#adb8fa,#abb6fa,#a9b4fa,#a5b1fa,#adb7fa,#aab5fa,#b3bdfa,#aab6fa,#b8c1fa,#a9b4fa,#acb7fa,#99a8fa,#9fadfa,#a9b5fa,#a2affa,#a6b2fa,#b1bbfa,#bcc6fb,#a0aefa,#a6b2fa,#b8c2fa,#a4b1fa,#a2affa,#adb8fa,#a3b0fa,#b6c0fa,#aab5fa,#a8b4fa,#a3b0fa,#a6b2fa,#a7b3fa,#a5b1fa,#adb8fa,#9eacfa,#abb6fa,#a3b0fa,#a9b4fa,#aab6fa,#a4b1fa,#a5b2fa,#9fadfa,#a1aefa,#adb7fa,#a5b1fa,#a8b4fa,#aeb9fa,#b1bbfa,#a7b3fa,#acb7fa,#b3bdfa)"></i><i style="height:3px;background:linear-gradient(90deg,#0251ff,#0652ff,#1657fe,#1958fe,#1f5bfd,#0b54ff,#0d54fe,#0f55fe,#1a59fe,#1958fe,#3668fa,#2a61fc,#3165fb,#416efa,#255ffd,#2b62fc,#3e6cfa,#3f6dfa,#416efa,#3e6cfa,#4470fa,#6784fa,#5077fa,#5e7ffa,#5579fa,#5b7dfa,#6583fa,#5b7dfa,#6d89fa,#728cfa,#8297fa,#869afa,#93a4fa,#8fa0fa,#a0aefa,#9baafa,#a4b0fa,#a3b0fa,#a4b0fa,#a8b4fa,#a9b4fa,#b4befa,#b8c2fa,#a0adfa,#a5b1fa,#b4befa,#9baafa,#aeb8fa,#a5b2fa,#a6b2fa,#a8b4fa,#a4b1fa,#b3bdfa,#a9b5fa,#abb6fa,#a8b4fa,#abb6fa,#adb8fa,#aeb8fa,#a2affa,#afb9fa,#a6b2fa 305px 310px,#aab5fa,#a6b2fa,#a5b1fa,#adb7fa,#a6b3fa,#9baafa,#b1bbfa,#abb6fa,#aeb9fa,#9ba9fa,#b4bdfa,#a9b4fa,#a2affa,#afb9fa,#aab5fa,#aeb8fa,#b3bdfa,#a9b5fa,#a5b2fa,#acb7fa,#a8b3fa,#a4b1fa,#a0aefa,#b2bcfa,#a4b1fa,#adb8fa,#b8c2fa,#aeb9fa)"></i><i style="height:3px;background:linear-gradient(90deg,#00b6ff,#00b2ff,#0e54fe,#00bcff,#0071ff,#0050ff,#00a8ff,#00b6ff,#0062ff,#0077ff,#1c5afe,#1858fe,#2f64fb,#3366fb,#1657fe,#3567fb,#3768fa,#3e6cfa,#3a6afa,#3366fb,#4a73fa,#5d7efa,#3f6dfa,#3d6cfa,#3f6dfa,#5b7dfa,#5c7dfa,#5177fa,#6180fa,#6281fa,#7a91fa,#8d9ffa,#7a91fa,#7d93fa,#94a4fa,#9aa9fa,#9baafa,#9eacfa,#9fadfa,#aab5fa,#b7c0fa,#9eacfa,#acb7fa,#a0adfa,#b9c2fb,#a6b2fa,#acb7fa,#b1bbfa,#a2affa,#a0adfa,#adb8fa,#a4b1fa,#b1bbfa,#adb8fa,#abb6fa 270px 275px,#a4b1fa,#b2bcfa,#a2affa 290px 295px,#aab6fa,#b2bbfa,#bcc6fb,#a9b5fa,#aeb8fa,#a8b4fa,#b0bafa,#a9b4fa,#a9b5fa,#a9b4fa,#a7b3fa 350px 355px,#a2affa,#aeb9fa,#a4b0fa,#a8b4fa,#acb7fa,#b0bafa,#9eacfa,#a7b3fa,#acb7fa,#a8b4fa,#a9b4fa,#adb7fa,#b3bdfa,#a8b4fa,#aab5fa,#abb6fa,#a2affa,#b3bdfa,#b0bafa)"></i><i style="height:3px;background:linear-gradient(90deg,#05fffa,#0cfff3,#00caff,#00fdff,#00bfff,#00d3ff,#00ffff,#05fffa,#00d8ff,#00e1ff,#00cbff,#00c3ff,#1757fe,#1b59fe,#0351ff,#1958fe,#235dfd,#215cfd,#2b62fc,#3f6dfa,#4570fa,#4c74fa,#3a6afa,#436ffa,#3a6afa,#406efa,#4d75fa,#5278fa 135px 140px,#567afa,#6c87fa,#748dfa,#6f8afa,#869afa,#8b9dfa,#899cfa,#90a1fa,#9dabfa,#a5b2fa,#a3b0fa,#b3bdfa,#a3b0fa,#a9b4fa,#a8b4fa,#adb8fa,#a3b0fa,#bcc5fb,#afb9fa,#a5b1fa,#aeb8fa,#9eacfa,#a6b2fa,#aeb9fa,#a1aefa,#a9b5fa,#a4b1fa,#adb8fa 280px 285px,#a4b0fa,#a8b4fa,#aeb8fa,#afb9fa,#a4b1fa,#9caafa,#aeb9fa,#a4b0fa,#c1cafb,#b3bdfa,#a4b0fa,#9dabfa,#a8b4fa,#a5b1fa,#a7b3fa,#a1affa,#b0bafa,#a4b1fa,#acb7fa,#abb6fa,#a8b4fa,#aab5fa,#aeb8fa,#aab6fa,#afb9fa,#9eacfa,#a3b0fa,#abb6fa,#9dabfa,#9fadfa,#a5b1fa,#acb7fa,#a7b3fa)"></i><i style="height:3px;background:linear-gradient(90deg,#32ffce,#3affc6,#06fff9,#17ffe8,#32ffcd,#18ffe7,#1effe1,#19ffe6,#22ffdd,#25ffda,#27ffd9,#10ffef,#00b3ff,#00d8ff,#0087ff,#0c54ff,#1858fe,#0953ff,#00bcff,#4470fa,#1c5afe,#3e6cfa,#396afa,#3568fb,#2b62fc,#3d6cfa,#3a6afa,#4c74fa 135px 140px,#5b7dfa 145px 150px,#7991fa,#6181fa,#6b87fa,#6986fa,#8197fa,#8a9cfa,#95a5fa,#9fadfa,#9eacfa,#98a7fa,#a7b3fa,#a0aefa,#a9b5fa,#a5b1fa,#a5b2fa,#b3bdfa,#aeb9fa,#a2affa,#b8c1fa,#a9b4fa,#abb6fa,#afb9fa,#a8b4fa,#a7b3fa,#a5b1fa,#bfc8fb,#9dabfa,#acb7fa,#a1affa,#aab5fa,#adb8fa,#a9b5fa,#92a3fa,#9dacfa,#abb6fa,#a7b3fa,#a1aefa,#a5b1fa,#a8b4fa,#aab5fa,#b1bbfa,#a3b0fa,#a1aefa,#99a8fa,#adb7fa,#a4b1fa,#a9b5fa,#a0adfa,#a9b5fa,#adb8fa,#b6c0fa,#a4b0fa,#a8b3fa,#a1aefa,#adb7fa,#96a6fa,#aeb8fa,#a5b2fa,#a6b2fa,#a1aefa)"></i><i style="height:3px;background:linear-gradient(90deg,#46ffba,#40ffc0,#1dffe2,#3effc2,#43ffbd,#2dffd3,#28ffd8,#38ffc7,#42ffbe,#4cffb4,#4fffb1,#2cffd3,#30ffcf,#11ffee,#04fffb,#00c6ff,#00c2ff,#00d5ff,#0ffff0,#0150ff,#00e8ff,#2760fc,#3065fb,#3567fb,#2f64fb,#215cfd,#3668fb,#3466fb,#5378fa,#4f76fa,#577bfa,#6482fa,#5f7ffa,#5d7efa,#6885fa,#6d89fa,#7e94fa,#8297fa,#8fa0fa,#9baafa,#9eacfa,#a3b0fa,#a6b2fa,#9aa9fa,#b2bcfa,#b3bdfa,#a4b0fa,#b0bafa,#acb7fa 240px 245px,#98a8fa,#aeb8fa,#aeb9fa,#acb7fa,#a7b3fa,#a5b2fa,#b4befa,#a6b2fa,#9baafa,#b7c1fa,#a5b1fa,#a3b0fa,#a8b4fa,#aab6fa,#bcc6fb,#a0aefa,#abb6fa,#aab6fa,#a0aefa,#bcc5fb,#a9b5fa,#a5b1fa,#a4b0fa,#a4b1fa,#9aa9fa,#a7b3fa,#a1affa,#a3b0fa,#b4befa,#aeb9fa,#9aa9fa,#abb6fa,#a9b5fa,#b3bdfa,#abb6fa,#b3bdfa,#adb8fa,#a5b1fa,#afb9fa,#adb8fa,#9fadfa)"></i><i style="height:3px;background:linear-gradient(90deg,#5affa6,#5cffa4,#43ffbc,#4bffb5,#5bffa4,#29ffd6,#40ffbf,#41ffbe,#57ffa8,#66ff9a,#91ff6f,#55ffaa,#55ffab,#2cffd3,#33ffcc,#21ffde,#23ffdc,#2affd6,#4cffb4,#00ddff,#21ffde,#00d3ff,#00e1ff,#008aff,#0089ff,#1757fe,#225dfd,#1f5bfd,#4771fa,#5479fa,#5378fa,#6d88fa,#5e7ffa,#6784fa,#5378fa,#6382fa,#6f89fa,#7c93fa,#748dfa,#9eacfa,#899cfa,#9aa9fa 205px 210px,#9dabfa,#94a4fa,#a4b1fa,#a6b2fa,#a8b4fa,#aab6fa,#adb8fa,#9caafa,#9eacfa,#aeb8fa,#a8b3fa,#b1bbfa,#a2affa,#a4b0fa,#a8b4fa,#afb9fa,#a3b0fa,#a4b1fa,#aab5fa,#a3b0fa,#b3bdfa,#adb8fa,#b0bafa,#a8b4fa,#9dabfa,#a8b4fa,#a1aefa,#a9b4fa,#acb7fa,#a1affa,#a5b1fa,#9eacfa,#a2affa,#afb9fa,#bec7fb,#a8b4fa,#b2bbfa,#b4bdfa,#b4befa,#adb8fa,#aab5fa,#a9b4fa,#9aa9fa,#b2bcfa,#a9b4fa,#b2bcfa,#b0bafa,#a8b4fa)"></i><i style="height:3px;background:linear-gradient(90deg,#60ffa0,#52ffae,#51ffaf,#61ff9f,#80ff80,#45ffba,#46ffba,#4dffb3,#61ff9f,#8eff72,#9dff63,#52ffad,#68ff98,#5dffa2,#5fffa0,#4cffb4,#5fffa0,#46ffb9,#71ff8f,#1cffe4,#4bffb4,#31ffcf,#25ffdb,#00f1ff,#00fdff,#00d4ff,#0853ff,#1356fe,#3467fb,#3c6bfa,#4671fa,#577bfa,#5479fa,#567afa,#4972fa,#5278fa,#6784fa,#6d88fa,#6583fa,#93a3fa,#889bfa,#8c9efa,#8fa0fa,#9caafa,#9baafa,#acb7fa,#a9b4fa,#aab5fa 235px 245px,#a9b4fa,#abb6fa,#acb7fa,#a6b2fa,#a2affa 270px 275px,#b2bbfa,#a7b3fa,#a4b0fa,#abb6fa,#a6b2fa,#abb6fa,#a6b2fa,#b5bffa,#a6b2fa,#acb7fa,#aeb9fa,#abb6fa,#a2affa 340px 345px,#a7b3fa,#a3b0fa,#acb7fa,#b2bcfa,#b8c2fa,#a9b5fa,#aab5fa,#a9b4fa,#a8b4fa,#a0aefa,#b0bafa,#afb9fa,#9baafa,#a3b0fa,#abb6fa,#bac3fb,#afb9fa,#acb7fa,#aab5fa,#a8b4fa,#abb6fa)"></i><i style="height:3px;background:linear-gradient(90deg,#67ff99,#54ffac,#48ffb7,#6eff91,#89ff77,#4affb5,#45ffba,#49ffb7,#84ff7c,#8cff74,#a0ff60,#5fffa1,#6dff93,#61ff9e,#87ff78,#6eff92,#5dffa3,#4bffb4,#94ff6c,#47ffb9,#40ffc0,#46ffba,#38ffc7,#04fffb,#30ffd0,#00feff,#00c7ff,#0088ff,#3366fb,#3d6bfa,#2c62fc,#3467fb,#4872fa,#5479fa,#567afa 170px 175px,#597cfa,#6080fa,#597cfa,#7b92fa,#738dfa,#8699fa,#8096fa,#8499fa,#94a4fa,#869afa,#9baafa,#99a8fa,#a1aefa,#b1bbfa,#b3bdfa,#a5b1fa,#b1bbfa,#adb7fa,#abb6fa,#afbafa,#a0aefa,#a3b0fa,#a8b3fa,#a5b1fa,#afb9fa,#a3b0fa,#afb9fa,#9eacfa,#aeb8fa,#adb8fa,#a0aefa,#a4b1fa,#b0bafa,#a4b1fa,#a9b4fa 350px 355px,#a4b1fa 360px 365px,#a1affa,#a5b2fa,#a6b3fa,#aab5fa,#9eacfa,#aeb9fa,#9baafa,#99a8fa 405px 410px,#aab5fa,#9aa9fa,#a0aefa,#a1aefa,#91a2fa,#a7b3fa,#a5b1fa,#b2bcfa)"></i><i style="height:3px;background:linear-gradient(90deg,#49ffb7,#61ff9f,#4bffb4,#70ff90,#7bff85,#34ffcb,#41ffbe,#51ffae,#6aff96,#66ff99,#8bff75,#54ffab,#6bff95,#4bffb4,#75ff8b 70px 75px,#55ffaa,#3fffc0,#77ff89,#2effd2,#61ff9f,#42ffbd 105px 110px,#04fffb,#1effe1,#13ffec,#00f1ff,#0095ff,#205cfd 140px 145px,#1d5afe,#3567fb,#3a6afa,#4a73fa,#4470fa,#3f6dfa,#4e75fa,#5579fa,#4c74fa,#6784fa,#738dfa,#7f95fa,#8499fa,#7e94fa,#8599fa,#879afa,#95a5fa,#a0aefa,#9aa9fa,#abb6fa,#a4b1fa,#a8b4fa,#a2affa 260px 265px,#acb7fa,#aeb9fa,#a9b5fa,#adb8fa,#a2affa,#a6b2fa,#9fadfa,#96a6fa,#afb9fa,#adb8fa,#a5b2fa,#a6b2fa,#abb6fa,#b7c0fa,#96a6fa,#a8b4fa,#b2bcfa,#bdc6fb,#9fadfa,#a6b3fa,#a9b4fa,#b0bafa,#aab5fa,#acb7fa,#bec7fb,#95a5fa,#a6b2fa,#abb6fa,#b0bafa,#adb8fa,#97a7fa,#a6b2fa,#b3bdfa,#a2affa,#a5b2fa,#a5b1fa,#aab5fa)"></i><i style="height:3px;background:linear-gradient(90deg,#57ffa9,#5bffa4,#3bffc5,#44ffbb,#57ffa8,#3dffc3,#2cffd4,#41ffbe,#4dffb2,#5cffa3,#7cff84,#4fffb1,#64ff9c,#52ffae,#67ff99,#43ffbd,#46ffb9,#41ffbe,#4cffb3,#15ffea,#5dffa3,#4dffb2,#4effb2,#08fff7,#22ffdd,#01fffe,#00a5ff,#2b62fc,#1155fe,#0086ff,#1456fe,#3c6bfa,#3d6cfa,#2961fc,#215cfd,#3567fb,#426ffa,#5278fa,#2d63fc,#6381fa,#577bfa,#6482fa,#6e89fa,#748dfa,#8095fa,#869afa,#90a1fa,#7f95fa,#a2affa,#98a7fa,#9dabfa,#b1bbfa,#99a8fa,#abb6fa,#aab5fa,#a7b3fa,#afbafa,#afb9fa,#a9b5fa,#afb9fa,#a8b4fa,#a0adfa,#b0bafa,#b6bffa,#aab5fa,#a6b2fa,#a4b1fa,#b1bbfa,#bdc6fb,#a3b0fa,#a4b0fa,#9eacfa,#b0bafa,#a5b1fa,#a2affa,#b8c1fa,#a1affa,#9facfa,#a5b1fa 390px 395px,#a4b0fa,#abb6fa,#b4befa,#b0bafa,#aab6fa,#afb9fa,#a2affa,#acb7fa,#aab5fa,#b7c1fa,#a6b2fa)"></i><i style="height:3px;background:linear-gradient(90deg,#47ffb9,#5bffa5,#1cffe4,#3cffc3,#41ffbe,#28ffd7,#3fffc1,#3fffc0,#37ffc9,#4cffb4,#59ffa7,#48ffb8,#3affc6,#34ffcb,#35ffcb,#21ffde,#29ffd6,#23ffdc,#4affb6,#08fff7,#43ffbd,#26ffda,#17ffe8,#00e2ff,#00f1ff,#00a4ff,#1256fe,#1f5bfd,#1e5bfd,#0953ff,#1657fe,#3a6afa,#3668fa,#2a61fc,#1f5bfd,#396afa 175px 180px,#3f6dfa,#406efa,#6381fa,#5c7dfa,#6382fa,#5b7dfa,#718bfa 215px 220px,#8398fa,#7b92fa,#8096fa,#92a3fa,#9baafa,#99a8fa,#a0aefa,#9fadfa,#9cabfa,#b0bafa,#a9b5fa,#aab5fa,#98a7fa,#aab6fa,#adb8fa,#a4b0fa,#b1bbfa,#a5b2fa,#b6c0fa,#9aa9fa,#a9b5fa,#acb7fa,#b3bdfa,#aab5fa,#a8b4fa,#aeb9fa,#a0aefa,#abb6fa,#a8b4fa,#a7b3fa,#9fadfa,#acb7fa,#a8b4fa,#a7b3fa,#a5b1fa,#b8c1fa,#a1aefa,#aab5fa,#aeb9fa,#a9b5fa,#b9c2fb,#aeb9fa,#a8b3fa,#9fadfa,#aab5fa,#a6b2fa)"></i><i style="height:3px;background:linear-gradient(90deg,#34ffcc,#3effc2,#0cfff3,#25ffda,#20ffdf,#07fff8,#14ffec,#1bffe4,#2affd5,#3effc2,#33ffcd,#1bffe4,#15ffea,#16ffea,#02fffd,#00fbff,#08fff7,#12ffed,#28ffd8,#00bfff,#20ffdf,#00bfff,#00c3ff,#007bff,#0052ff,#005bff,#1958fe,#1657fe,#2760fc,#1356fe,#1d5afd,#3869fa,#3266fb,#1958fe,#1d5afd,#1256fe,#0a53ff,#3d6bfa,#3d6cfa,#728cfa,#4d75fa,#718bfa,#6784fa,#6683fa,#728cfa,#7b92fa,#7890fa,#738cfa,#96a6fa,#899cfa,#90a1fa,#8b9dfa,#94a4fa,#a0aefa,#a0adfa,#a2affa,#a8b3fa,#a6b2fa,#a5b1fa,#a9b4fa,#adb8fa,#acb7fa 305px 310px,#a6b2fa,#a8b4fa,#9ba9fa,#aab5fa,#a8b4fa,#adb8fa,#a8b4fa,#acb7fa,#afb9fa,#a8b3fa,#9dabfa,#afb9fa,#adb8fa,#a9b5fa,#a7b3fa,#9fadfa,#adb8fa,#aab5fa,#afb9fa 405px 410px,#acb7fa,#b1bbfa,#a6b2fa,#a1affa,#adb7fa,#aeb8fa,#9fadfa,#aab6fa)"></i><i style="height:3px;background:linear-gradient(90deg,#20ffdf,#00f3ff,#00d3ff,#00f1ff,#00e7ff,#00e1ff,#08fff7,#00fcff,#00f7ff,#00dfff,#00f5ff,#00e7ff,#0062ff,#00cbff,#008fff,#0062ff,#0150ff,#009fff,#00eeff,#0e54fe,#00a5ff,#1e5bfd,#005eff,#0060ff,#0075ff,#0050ff,#0c54ff,#0b54ff,#2760fc,#3165fb,#265ffc,#3266fb,#3065fb,#1356fe,#1f5bfd,#1858fe,#245efd,#3366fb,#3567fb,#6784fa,#5479fa,#5e7efa,#597cfa,#5e7efa,#597cfa,#718bfa,#728cfa,#758efa,#899cfa,#8398fa,#758efa,#95a5fa,#94a4fa,#a1aefa,#93a4fa,#a1aefa,#aeb8fa,#b3bcfa,#a3b0fa,#b3bdfa,#a0aefa,#a1aefa,#b1bbfa,#abb6fa,#a9b4fa,#b5befa,#b2bcfa,#aeb8fa,#a9b5fa,#a7b3fa,#b8c2fa,#a7b3fa,#aab5fa,#abb6fa,#acb7fa,#a2affa,#9eacfa,#acb7fa,#aab6fa,#b6bffa,#acb7fa,#a4b1fa,#aab5fa,#a7b3fa,#aab5fa,#a8b4fa,#a4b1fa,#a4b0fa,#b9c2fb,#abb6fa,#c2cbfb)"></i><i style="height:3px;background:linear-gradient(90deg,#00ceff,#00c2ff,#005aff,#00cdff,#0088ff,#0081ff,#00c1ff,#00ccff,#0078ff,#0083ff,#0052ff,#009fff,#0150ff 60px 65px,#0084ff,#0071ff,#0853ff,#1155fe,#006cff,#006dff,#1b59fe,#3d6bfa,#0953ff,#0082ff,#0060ff,#0069ff,#0066ff,#1657fe,#3b6bfa,#3f6dfa,#2e63fb,#215cfd,#2d63fc,#205cfd,#0e55fe,#1f5bfd,#2760fc,#3366fb,#4771fa,#6684fa,#5479fa,#5378fa,#597cfa,#577bfa,#5f7ffa,#6e89fa,#7790fa,#708bfa,#8196fa,#8297fa,#7991fa,#8397fa,#8196fa,#889bfa,#899cfa,#9eacfa,#a0aefa,#92a3fa,#a0aefa,#a6b2fa,#9dabfa,#abb6fa,#a1affa,#aab6fa,#9fadfa,#aab5fa,#a3b0fa,#a1aefa,#9dabfa,#afb9fa,#acb7fa,#b4befa,#b7c0fa,#acb7fa,#a8b4fa,#a0adfa,#acb7fa,#9baafa,#a7b3fa,#a2affa,#abb6fa,#b2bcfa,#9dacfa,#abb6fa,#a1aefa,#abb6fa,#a5b1fa,#aab5fa,#abb6fa,#aab5fa,#a4b1fa)"></i><i style="height:3px;background:linear-gradient(90deg,#0652ff,#0451ff,#0077ff,#0150ff,#0050ff,#0752ff,#0061ff,#0076ff,#0079ff,#0071ff,#0752ff,#006eff,#0d54fe,#1155fe,#005fff,#0852ff,#0078ff,#0752ff,#1055fe,#1b59fe,#275ffc,#2f64fb,#0953ff,#006aff,#0070ff,#008aff,#0065ff,#0f55fe,#1d5afd,#3768fa,#265ffc,#1757fe,#1d5afe,#005cff,#0b53ff,#225dfd,#265ffc,#3467fb,#3266fb,#587bfa,#4972fa,#4d75fa,#3f6dfa,#5a7cfa,#4f76fa,#5d7efa,#6a86fa,#6985fa,#7991fa,#6e89fa,#728cfa,#889bfa,#708afa,#8c9efa,#879afa,#91a2fa,#93a4fa,#a7b3fa,#a2affa,#b0bafa,#98a7fa,#adb7fa,#b1bbfa,#9eacfa,#abb6fa,#a9b5fa,#a1aefa,#a5b2fa,#a6b3fa,#a4b1fa,#b9c2fb,#9fadfa 355px 360px,#9baafa,#bac3fb,#afb9fa,#adb7fa,#9cabfa,#a5b1fa,#9caafa,#a5b2fa,#adb8fa,#b3bcfa,#adb7fa,#9facfa,#afb9fa,#b7c0fa,#a7b3fa,#9fadfa,#97a7fa,#a0adfa)"></i><i style="height:3px;background:linear-gradient(90deg,#0073ff,#0b54ff,#0053ff,#0057ff,#005cff,#0051ff,#0085ff,#008cff,#0083ff,#006aff,#0052ff,#0071ff,#0063ff,#0c54ff,#006bff,#0072ff,#0066ff,#0059ff,#1e5bfd,#0e54fe,#005fff,#1d5afd,#1557fe,#1958fe,#007fff,#0085ff,#0b54ff,#0063ff,#005eff,#2b62fc,#1858fe,#0552ff,#0953ff,#0058ff,#0069ff,#2a61fc,#215cfd,#265ffc,#2a61fc,#5278fa,#4872fa,#4e75fa,#3e6cfa,#416efa,#4470fa,#6683fa,#6482fa,#5e7efa,#7e94fa,#6583fa,#6f8afa,#8398fa,#7b92fa,#8599fa,#7b92fa,#879afa,#8d9ffa,#8e9ffa,#8b9efa,#9aa9fa,#9caafa,#a0aefa,#9eacfa,#a2affa,#a6b2fa,#a5b2fa,#97a7fa,#a2affa,#b7c1fa,#9fadfa,#a8b4fa,#b0bafa,#9fadfa,#a9b5fa,#a2affa,#adb8fa,#a1affa,#abb6fa,#a2affa,#a3b0fa,#b1bbfa,#a6b2fa,#a5b2fa,#a9b5fa,#b7c1fa,#a7b3fa,#abb6fa,#a0aefa,#b1bbfa,#a2affa,#a8b4fa)"></i><i style="height:3px;background:linear-gradient(90deg,#0087ff,#0150ff,#0077ff,#0752ff,#0251ff,#007cff,#0071ff,#0085ff,#0150ff,#0552ff,#1557fe,#0150ff,#0073ff,#006cff,#0752ff,#006cff,#006bff,#0250ff,#0652ff,#0251ff,#0069ff,#0d54fe,#0953ff,#0a53ff,#0652ff,#0070ff,#0065ff,#0077ff,#235dfd,#0e55fe,#005eff,#007bff,#215cfd,#0071ff,#1055fe,#3065fb,#255ffd,#2860fc,#215cfd,#5e7efa,#3266fb,#4973fa,#4771fa,#5a7cfa,#5579fa,#6885fa,#577afa,#6080fa,#728cfa,#6482fa,#7890fa,#7e94fa,#7c93fa,#8196fa,#8297fa,#728cfa,#899cfa,#8e9ffa,#8a9cfa,#97a7fa 295px 300px,#95a5fa,#96a6fa,#a1aefa,#a0aefa,#a5b1fa,#a0aefa 330px 335px,#a4b0fa,#a6b2fa,#9baafa,#afb9fa,#9dabfa,#a5b1fa,#b5bffa,#a8b4fa,#b4befa,#aab5fa,#b9c3fb,#a4b0fa,#aeb9fa,#9dabfa,#aeb8fa,#a8b4fa,#b3bdfa,#aab5fa,#a8b4fa,#a5b2fa,#97a7fa,#9dabfa,#a3b0fa)"></i><i style="height:3px;background:linear-gradient(90deg,#0953ff,#006dff,#0059ff,#1155fe,#0080ff,#0059ff,#0057ff,#0064ff,#0072ff,#0078ff,#2b62fc,#0079ff,#0552ff,#0451ff,#0b53ff,#0073ff 75px 80px,#0150ff,#0069ff,#0075ff,#0054ff,#0072ff,#007cff,#0853ff,#005bff,#0089ff,#0061ff,#0351ff,#3869fa,#0086ff,#006cff,#0073ff,#2961fc,#1f5bfd,#0451ff,#3969fa,#1256fe,#1b59fe,#2960fc,#5a7dfa,#3165fb,#3a6afa,#3e6dfa,#4872fa,#4e75fa,#5e7ffa,#5278fa,#4570fa,#6b87fa,#738dfa,#8095fa,#899cfa,#778ffa,#8197fa,#8b9efa,#7f95fa,#7c93fa,#8b9dfa,#92a3fa,#97a6fa,#8a9dfa,#a2affa,#9caafa,#91a2fa,#acb7fa,#9caafa,#acb7fa,#9baafa,#90a1fa,#aeb8fa,#a7b3fa,#a5b1fa,#acb7fa,#a4b1fa,#adb8fa,#acb7fa,#aeb9fa,#a9b4fa,#a5b1fa,#a1affa,#a9b5fa,#b0bafa,#acb7fa 410px 415px,#abb6fa,#a4b1fa,#a9b5fa,#a8b4fa 435px 440px,#a9b5fa,#acb7fa)"></i><i style="height:3px;background:linear-gradient(90deg,#0351ff,#0050ff,#0351ff,#0094ff,#0150ff,#005fff,#007fff,#0b53ff,#0076ff,#0050ff,#2f64fb,#0652ff,#0075ff 60px 65px,#0d54fe,#005aff,#0059ff,#006dff,#0053ff,#0076ff,#005dff,#1456fe,#0062ff,#0a53ff,#0953ff,#0062ff,#0b54ff,#1256fe,#1a59fe,#006dff,#005eff,#0083ff,#2a61fc,#205cfd,#225dfd,#265ffc,#1757fe,#1958fe,#2961fc,#4972fa,#2c62fc,#3f6dfa,#3e6cfa,#5077fa,#426ffa,#5e7ffa,#6784fa,#597cfa,#748dfa,#758efa,#708afa,#889cfa,#748dfa,#7c93fa,#7e94fa,#7a91fa,#768ffa,#8a9dfa,#8196fa,#94a4fa,#97a7fa,#8c9efa,#a5b2fa,#8d9ffa,#9baafa,#a2affa,#9eacfa,#9fadfa,#99a8fa,#9eacfa,#a3b0fa,#a8b4fa,#afb9fa,#a7b3fa,#bec7fb,#a2affa,#a9b4fa,#b6c0fa,#a5b1fa,#afb9fa,#acb7fa,#b7c1fa,#aeb9fa,#a8b4fa,#a9b5fa,#a7b3fa,#aeb8fa,#a5b1fa,#b4befa,#adb8fa,#bfc8fb)"></i><i style="height:3px;background:linear-gradient(90deg,#1fffe0,#2affd6,#00eeff,#51ffae,#02fffd,#00ebff,#02fffd,#00aeff,#0ffff0,#009bff,#0085ff,#06fff9,#04fffb,#0085ff,#0087ff,#00d0ff,#009aff,#00b6ff,#00e6ff,#00f7ff,#0060ff,#0067ff,#1c59fe,#0060ff,#0451ff,#0a53ff,#0061ff,#0551ff,#0071ff,#0089ff,#0064ff,#0f55fe,#2760fc,#3266fb,#2f64fb,#1256fe,#0451ff,#1e5bfd,#1757fe,#3266fb,#2b62fc,#2c62fc,#3b6bfa,#4e75fa,#4470fa,#6281fa,#8297fa,#6381fa,#7990fa,#6c88fa 245px 250px,#7c93fa,#778ffa,#879bfa,#7a92fa,#8297fa,#889bfa,#a0aefa,#95a5fa,#97a7fa,#8599fa,#9aa9fa,#9eacfa,#94a4fa,#96a6fa,#a1affa,#9dabfa,#aab5fa,#94a5fa,#a6b2fa,#a3b0fa,#92a3fa,#abb6fa,#b2bbfa,#b0bafa,#9dabfa,#aab5fa,#aeb9fa,#a9b5fa 390px 395px,#a2affa,#a4b0fa,#a6b2fa,#a5b2fa,#afb9fa,#b2bcfa,#a6b2fa,#a5b1fa,#a8b3fa,#a7b3fa,#a4b1fa)"></i><i style="height:3px;background:linear-gradient(90deg,#b5ff4b,#c4ff3b,#8fff71,#c0ff40,#95ff6a,#90ff70,#a0ff60,#88ff77,#89ff77,#66ff9a,#57ffa8,#98ff67,#a7ff59,#37ffc8,#44ffbc,#6bff95,#52ffae,#5cffa4,#57ffa9,#61ff9f,#13ffec,#1bffe4,#00beff,#07fff8,#00d8ff,#00a8ff,#00c9ff,#008fff,#0084ff,#0063ff,#0056ff,#0083ff,#1356fe,#1b59fe,#2d63fc,#1c59fe,#1356fe,#1d5afe,#2760fc,#3366fb,#2860fc,#3869fa,#3165fb,#5378fa,#5277fa,#6281fa,#6c87fa,#597bfa,#708afa,#6482fa,#6986fa,#7e94fa 255px 260px,#748dfa,#768efa,#8297fa,#889bfa,#8a9cfa,#8ea0fa,#7e94fa,#90a1fa,#94a4fa,#a1affa,#92a3fa,#91a2fa,#9dabfa,#96a6fa,#a3b0fa,#a1aefa,#a4b1fa,#a9b5fa,#b0bafa,#aeb9fa,#b7c1fa,#a3b0fa,#aab5fa 375px 380px,#adb8fa,#a2affa,#afb9fa,#9dabfa,#a1aefa,#aeb8fa,#aab6fa,#a4b1fa,#a0adfa,#afb9fa,#acb7fa,#97a6fa,#a2affa 445px 450px)"></i><i style="height:3px;background:linear-gradient(90deg,#ff9e00,#ffa100,#ffce00,#ffc700,#ffd400,#ffea00,#ffcb00,#ffe400,#ffdf00,#fcff03,#edff12,#ffe400,#ffd200,#f5ff0a,#ddff23,#f4ff0b,#deff21,#d7ff29,#e6ff1a,#beff41,#97ff69,#85ff7b,#58ffa8,#79ff87,#49ffb7,#2cffd3,#27ffd8,#08fff7,#06fff9,#00adff,#0070ff,#0090ff,#1356fe,#0a53ff,#205cfd,#2860fc,#1456fe,#235dfd,#2c63fc,#4b74fa,#3f6dfa,#4872fa,#1a59fe,#5579fa,#5d7efa,#6a86fa,#6c87fa,#4d75fa,#6d88fa,#5e7efa,#5c7dfa,#708bfa,#6f8afa,#7890fa,#8498fa,#7f95fa,#7991fa,#8ea0fa,#8e9ffa,#a9b5fa,#879bfa,#91a2fa,#9fadfa,#95a5fa,#9caafa,#98a7fa,#91a2fa,#a5b2fa,#9fadfa,#a5b2fa,#a9b4fa,#a3b0fa,#9cabfa,#a5b1fa,#acb7fa,#a5b1fa,#a7b3fa,#a3b0fa,#adb7fa,#a8b4fa,#9dabfa,#a9b4fa,#a2affa,#a9b4fa,#a8b4fa,#aeb9fa,#94a4fa,#a0aefa 435px 445px,#b0bafa)"></i><i style="height:3px;background:linear-gradient(90deg,#ff3700,#ff2100,#ff4b00,#ff6200,#ff5b00,#ff8000,#ff5e00,#ff4400,#ff6000,#ff7a00,#ff8400,#ff6300,#ff5500,#ff6200,#ff9d00,#ff9a00,#ffb700,#ffbb00,#ffd700,#fffa00,#ffeb00,#daff25,#b0ff50,#d0ff2f,#8eff71,#7cff84,#5affa5,#5affa6,#50ffaf,#09fff7,#04fffb,#00f0ff,#009aff,#0c54ff,#1156fe,#205cfd,#1a59fe,#255ffd,#3768fa,#4b74fa,#3969fa,#567afa,#3567fb,#5378fa,#607ffa,#6683fa,#6482fa,#567afa,#6e89fa,#6c88fa,#6e89fa,#7c93fa,#718bfa,#758efa,#8196fa,#7f95fa,#8297fa,#91a2fa,#8096fa 290px 295px,#90a1fa,#9eacfa,#8c9efa,#91a2fa,#9aa9fa,#acb7fa,#9fadfa,#a0adfa,#a2affa,#a5b2fa,#9dabfa,#a8b4fa,#a4b1fa,#b7c1fa,#b0bafa,#a9b4fa,#afb9fa,#a9b4fa,#a9b5fa,#a7b3fa,#abb6fa,#a4b1fa,#b3bdfa,#acb7fa,#9eacfa,#acb7fa,#9eacfa,#a6b2fa,#aab6fa,#a8b4fa,#9dabfa)"></i><i style="height:3px;background:linear-gradient(90deg,#db0000,#c70000,#d20000,#ff1400,#ff0400,#ff2b00,#ff0100,#e70000,#ff1500,#ff1c00,#ff1800,#ff1600,#de0000,#d90000,#ff3100,#ff4c00,#ff6400,#ff7100,#ff9d00,#ffaf00,#ff9600,#ffea00,#fbff04,#fffc00,#b3ff4d,#9eff62,#9cff64,#97ff69,#8eff72,#52ffae,#51ffae,#38ffc7,#23ffdc,#00daff,#00ddff,#00c6ff,#0d54fe,#245efd,#2c62fc,#426ffa,#3f6dfa,#587bfa,#2f64fb,#6281fa,#6684fa,#6e89fa,#5e7ffa,#5d7efa,#8499fa,#738cfa,#6583fa,#7a92fa,#7790fa,#8d9ffa,#92a3fa,#8c9efa,#879bfa,#899cfa,#8a9dfa,#99a8fa,#899cfa,#9baafa 305px 310px,#8fa0fa,#a3b0fa,#9dacfa,#9eacfa,#98a7fa,#b0bafa,#a4b0fa,#a9b5fa,#9dabfa,#a7b3fa,#acb7fa,#a2affa,#a4b1fa,#a1affa,#a1aefa,#a3b0fa,#adb8fa,#a7b3fa 400px 405px,#a6b2fa,#a6b3fa,#a8b4fa,#acb7fa,#a9b5fa,#b0bafa,#afb9fa,#a4b0fa,#abb6fa)"></i><i style="height:3px;background:linear-gradient(90deg,#b00000,#a20000,#bc0000,#fe0000,#d50000,#f90000,#e90000,#cd0000,#ff0700,#f30000,#f80000,#fd0000,#b60000 60px 65px,#ff0400,#ff1500,#ff3200,#ff3900,#ff7700,#ffa100,#ff8200,#ffbf00,#ffe400,#ffe100,#d0ff2f,#c7ff39,#adff52,#abff55,#95ff6b,#69ff97,#77ff89,#3dffc2,#2fffd1,#10ffef,#22ffde,#2bffd4,#00f2ff,#0079ff,#2d63fc,#4a73fa,#3969fa,#567afa,#3a6afa,#5c7dfa,#5278fa,#6f8afa,#6c88fa,#5378fa,#768efa,#6b87fa,#748dfa,#6f8afa,#7890fa,#869afa,#899cfa,#8a9cfa,#889bfa,#8a9dfa,#8096fa,#a0aefa,#9aa9fa,#96a6fa,#9aa9fa,#8c9efa,#98a7fa,#9eacfa,#a4b0fa,#8fa0fa,#98a8fa,#8fa0fa,#aeb9fa,#99a8fa,#a8b3fa,#aeb9fa,#a8b4fa 370px 375px,#abb6fa,#b4befa,#abb6fa,#b3bcfa,#a8b4fa,#b3bdfa,#a7b3fa,#acb7fa,#a2affa,#afb9fa,#b3bdfa,#b4befa,#a7b3fa,#8c9efa,#b4bdfa)"></i><i style="height:3px;background:linear-gradient(90deg,#b90000,#a50000,#bb0000,#f30000,#df0000,#f50000,#ea0000,#f30000,#ff1600,#fa0000,#e80000,#ff0b00,#da0000,#c70000,#ff0700,#ff0b00,#ff3900,#ff4200,#ff7e00,#ff8500,#ff8c00,#ffb800,#ffea00,#ffe500,#d0ff2f,#cfff30,#b5ff4b,#a0ff60,#9fff60,#6eff91,#85ff7b,#55ffaa,#3bffc4,#10ffef,#16ffe9,#23ffdc,#00eeff,#006bff,#2d63fc,#587bfa,#3266fb,#3d6cfa,#3768fa,#5c7dfa,#5177fa,#778ffa,#718bfa,#587bfa,#6a86fa,#6d88fa,#718bfa,#8498fa,#6e89fa,#8fa0fa,#8b9dfa,#95a5fa,#8c9efa,#8499fa,#8297fa,#95a5fa,#90a1fa,#8fa0fa,#a3b0fa,#9aa9fa,#97a7fa 320px 325px,#aab5fa,#a6b2fa,#97a7fa,#a5b2fa,#a2affa,#afb9fa,#9fadfa,#a6b2fa,#a0adfa,#b1bbfa,#aeb8fa,#b3bdfa 385px 390px,#b4befa,#a9b4fa,#b1bbfa,#aab6fa,#afb9fa,#a8b4fa,#a4b1fa 425px 435px,#abb6fa,#a5b2fa,#acb7fa)"></i><i style="height:3px;background:linear-gradient(90deg,#e70000,#f20000,#f90000,#ff1c00,#ff0000,#ff2500,#ff0a00,#ff2e00,#ff4600,#ff1200,#ff2100,#ff2700,#ff0b00,#f80000,#ff2d00,#ff4300,#ff6200,#ff9000,#ff8b00,#ff9f00,#ffa300,#ffd000,#fff800,#ffde00,#bfff41,#b9ff47,#b2ff4e,#9bff65,#93ff6d,#57ffa9,#62ff9e,#32ffcd,#1dffe3,#00eaff,#00d3ff,#00a2ff,#2d63fc,#3064fb,#1b59fe,#4872fa,#3769fa,#4872fa,#3366fb,#426ffa,#5378fa,#738cfa,#738dfa,#5c7dfa,#7991fa,#6d89fa,#738cfa,#748dfa,#7b92fa,#8a9cfa,#7f95fa,#899cfa,#8498fa,#7f95fa,#8297fa,#8c9efa,#97a6fa 300px 305px,#8a9dfa,#8fa0fa,#a1aefa,#a5b1fa,#9eacfa 330px 340px,#9cabfa,#acb7fa,#abb6fa,#a0adfa,#a6b2fa,#abb6fa,#aab5fa,#a4b1fa,#a7b3fa,#aeb8fa,#b2bcfa,#a3b0fa,#b2bcfa,#9aa9fa,#b2bcfa,#adb8fa,#a1aefa,#9facfa,#a8b4fa,#bfc8fb,#aab5fa,#bac4fb)"></i><i style="height:3px;background:linear-gradient(90deg,#ff3a00,#ff3700,#ff5100,#ff5d00,#ff6000,#ff6b00,#ff6a00,#ff7d00,#ff8600,#ff8000,#ff7600,#ff6e00,#ff5a00,#ff7700,#ff8d00,#ff7e00,#ffa700,#ffc500,#ffc100,#ffe100,#ffd300,#eeff12,#beff41,#e8ff17,#a6ff5a,#80ff80,#88ff78,#70ff8f,#5bffa5,#23ffdc,#26ffd9,#16ffea,#00b2ff,#0075ff,#1a59fe,#1b59fe,#225dfd,#3165fb,#1b59fe,#2e63fb,#3d6bfa,#5177fa,#4872fa,#4973fa,#4e76fa,#6f8afa,#6b87fa,#6784fa,#8599fa,#7990fa,#718bfa,#7e94fa 255px 260px,#738dfa,#7b92fa,#889bfa,#8297fa,#8a9dfa,#8ea0fa,#8fa0fa,#93a3fa,#95a5fa,#98a7fa,#899cfa,#a1aefa,#91a2fa,#a1aefa,#a2affa,#aeb9fa,#a2affa,#9fadfa,#acb7fa,#b2bcfa 360px 365px,#a8b4fa,#a9b4fa,#9dacfa,#acb7fa,#a3b0fa,#b2bcfa,#abb6fa,#a1aefa,#abb6fa,#a5b2fa,#b3bdfa,#b0bafa,#adb8fa,#b1bbfa,#acb7fa,#9eacfa,#abb6fa)"></i><i style="height:3px;background:linear-gradient(90deg,#ffad00,#ffa500,#ffd400,#ffbc00,#ffde00,#ffd900,#ffd200,#ffe300,#ffe600,#e9ff16,#feff01,#ffd300,#ffd400,#eaff15,#e1ff1f,#fff200,#ddff22,#e1ff1e,#eeff11,#ddff22,#bfff40,#9eff61,#7dff83,#95ff6b,#5fffa1,#46ffb9,#4fffb1,#34ffcc,#2effd2,#00d7ff,#0096ff,#0953ff,#0061ff,#1958fe,#2860fc,#1657fe,#255ffd,#2961fc,#1155fe,#4570fa,#416efa,#3e6cfa,#2b62fc,#4e76fa,#5e7ffa,#7c93fa,#6281fa,#6180fa,#708bfa,#768efa,#6080fa,#7d93fa,#879afa,#7991fa,#8297fa,#8498fa,#8297fa,#7b92fa,#8398fa,#97a7fa,#98a8fa,#93a3fa,#9aa9fa,#8498fa,#8c9efa,#a0aefa,#91a2fa,#a7b3fa 335px 340px,#97a7fa,#acb7fa,#aab5fa,#9caafa,#abb6fa,#9fadfa,#a4b0fa,#acb7fa,#a4b1fa,#a1aefa,#a3b0fa,#afb9fa,#a2affa,#bcc6fb,#abb6fa,#a8b4fa,#a2affa,#9fadfa,#b3bdfa,#adb8fa,#aab5fa,#acb7fa)"></i><i style="height:3px;background:linear-gradient(90deg,#c1ff3e,#c9ff36,#99ff67,#ccff33,#acff54,#87ff79,#97ff69,#85ff7b,#8eff72,#5effa2,#60ffa0,#8eff72,#97ff69,#43ffbd,#5dffa2,#6cff94,#5affa6,#6dff93,#90ff70,#6dff92,#4cffb3,#36ffca,#11ffef,#35ffcb,#10ffef,#00e9ff,#00f5ff,#00c7ff,#00a9ff,#1155fe,#225dfd,#1757fe,#0058ff,#1055fe,#1356fe,#0090ff,#1858fe,#3064fb,#1657fe,#577bfa,#3769fa,#3266fb,#1757fe,#4671fa,#6080fa,#6885fa 225px 230px,#5e7ffa,#748dfa 240px 245px,#6582fa,#718bfa,#889bfa,#748dfa,#768efa,#7b92fa,#7f95fa,#8b9dfa,#869afa,#8b9dfa,#8fa0fa,#94a5fa,#93a4fa,#97a6fa,#9cabfa,#a6b3fa,#a0adfa,#abb6fa,#acb7fa,#a5b1fa,#adb8fa,#a2affa 355px 360px,#a5b1fa,#a4b0fa,#a5b2fa,#b5bffa,#b1bbfa,#a7b3fa,#b1bbfa,#aeb8fa,#a9b5fa,#a7b3fa,#b6bffa,#a9b4fa,#a3b0fa,#a6b2fa,#9eacfa,#acb7fa,#a0adfa,#99a8fa)"></i><i style="height:3px;background:linear-gradient(90deg,#28ffd7,#37ffc9,#00fdff,#39ffc7,#00e7ff,#07fff8,#00f3ff,#00ceff,#01fffe,#0099ff,#0077ff,#02fffd,#00f8ff,#007cff,#0069ff,#00ccff,#00b8ff,#00fcff,#15ffea,#0afff6,#0086ff,#00baff,#0752ff,#009bff,#005eff,#0089ff,#0054ff,#0251ff,#1155fe,#1858fe,#1256fe,#0050ff,#0067ff,#0064ff,#0f55fe,#0090ff,#1657fe,#2961fc,#2f64fb,#4f76fa,#3366fb,#436ffa,#3366fb,#4d75fa,#5b7dfa,#5e7efa,#708afa,#5479fa,#6c87fa,#728cfa,#6a86fa,#7890fa,#7790fa,#758efa,#778ffa,#7d94fa,#98a7fa,#7f95fa,#8398fa,#9aa9fa,#99a8fa,#a5b1fa,#b0bafa,#9baafa,#92a3fa,#a0aefa 325px 330px,#a4b0fa,#a1aefa,#a7b3fa,#aeb8fa,#adb8fa,#a4b1fa,#acb7fa,#b8c2fa,#a5b1fa,#a7b3fa,#9fadfa,#a8b4fa,#a9b4fa,#aab5fa,#afb9fa,#a7b3fa,#adb7fa,#b0bafa,#aab5fa,#a8b4fa,#a6b2fa,#a4b1fa,#99a8fa,#abb6fa)"></i><i style="height:3px;background:linear-gradient(90deg,#0056ff,#0351ff,#0451ff,#00b4ff,#0251ff,#0250ff,#0f55fe,#1256fe,#1f5bfd,#0b53ff,#1c59fe,#0351ff,#0a53ff,#0085ff,#0073ff,#007bff,#0c54ff,#0351ff,#0451ff,#0150ff,#2760fc,#0062ff,#0d54fe,#0351ff,#0087ff,#0552ff,#006eff,#0084ff,#0251ff,#0e55fe,#0062ff,#0090ff,#0351ff,#008cff,#0351ff,#0087ff,#0e55fe,#436ffa,#4973fa,#446ffa,#3266fb,#4b74fa,#3869fa,#4c74fa,#5c7dfa,#6381fa,#6985fa,#5e7ffa,#6683fa,#6e89fa,#738dfa 250px 255px,#6f8afa 260px 265px,#7991fa,#8398fa,#90a1fa,#92a2fa,#889bfa,#90a1fa,#899cfa,#95a5fa,#9facfa,#99a8fa,#97a6fa,#aeb8fa,#99a8fa,#adb7fa,#adb8fa,#96a6fa,#a1aefa,#adb7fa,#a3b0fa,#9fadfa,#a4b1fa,#a1aefa,#a6b2fa,#a5b1fa,#b1bbfa,#b0bafa,#a7b3fa,#b3bdfa,#a4b1fa,#a9b5fa,#a0aefa,#a2affa,#acb7fa,#bfc8fb,#b4befa,#a9b4fa,#9aa9fa)"></i><i style="height:3px;background:linear-gradient(90deg,#0351ff,#0052ff,#0752ff,#1e5bfd,#0066ff,#0552ff,#205cfd,#0061ff,#0b54ff,#008dff,#1858fe,#0652ff,#005bff,#0055ff,#0074ff,#0084ff,#0072ff,#0050ff,#0f55fe,#0652ff,#0060ff,#0055ff,#1155fe,#0086ff,#0071ff,#0073ff,#0061ff,#0088ff,#265ffc,#007dff,#0086ff,#0063ff,#1958fe,#0057ff,#1155fe,#0055ff,#245efd,#3768fa,#2a61fc,#4d75fa,#2f64fb,#436ffa,#3064fb,#4a73fa,#4671fa,#5b7dfa,#7a91fa,#4c74fa,#6c88fa,#6e89fa,#708bfa,#8498fa,#7c93fa,#7890fa,#8297fa 270px 275px,#869afa,#8196fa,#90a1fa,#93a4fa,#9aa9fa,#92a2fa,#9caafa,#9eacfa,#96a6fa,#a4b1fa,#a5b2fa,#b2bcfa,#b6c0fa,#acb7fa,#a8b4fa,#b1bbfa,#b0bafa,#a3b0fa,#adb7fa,#adb8fa,#abb6fa,#b1bbfa,#a2affa,#9eacfa,#a1aefa,#9eacfa,#b9c2fb,#a2affa,#aab5fa,#9fadfa,#adb8fa,#a3b0fa,#9caafa,#a4b1fa,#a8b3fa)"></i><i style="height:3px;background:linear-gradient(90deg,#0053ff,#0150ff,#0a53ff,#1356fe,#005dff,#0069ff,#1456fe,#0080ff,#0078ff,#005bff,#0061ff,#0060ff,#006bff,#006aff,#0050ff,#006fff,#0088ff,#0050ff,#1e5bfd,#0055ff,#006dff,#0150ff,#0074ff,#0071ff,#0085ff,#005cff,#0067ff,#0061ff,#3e6cfa,#005eff,#0090ff,#1256fe,#1858fe,#0953ff,#1256fe,#225dfd,#3768fa,#2d63fc,#0077ff,#4e75fa,#3b6afa,#4b74fa,#255ffd,#3e6cfa,#4570fa,#5a7cfa,#748dfa,#5077fa,#7991fa,#6985fa,#6e89fa,#7f95fa,#7d93fa,#7e94fa,#7f95fa,#8d9ffa,#8398fa,#91a2fa,#92a2fa,#aab5fa,#a4b0fa,#a0aefa,#a8b4fa,#9facfa,#b1bbfa,#9fadfa,#a2affa,#a7b3fa,#acb7fa,#b1bbfa 345px 350px,#aeb8fa,#a8b4fa,#a4b0fa,#a3b0fa,#a1aefa 375px 380px,#adb8fa,#acb7fa,#a1aefa,#aeb9fa,#a1aefa,#a8b4fa,#b3bdfa,#a5b2fa,#a7b3fa,#aeb9fa,#bcc5fb,#a6b2fa,#a5b2fa,#a2affa)"></i><i style="height:3px;background:linear-gradient(90deg,#0063ff,#0a53ff,#1456fe,#0552ff,#0065ff,#0652ff,#1858fe,#0853ff,#1e5afd,#0050ff,#005cff,#0150ff,#005eff,#0083ff,#0752ff,#0086ff,#0078ff,#0068ff,#1457fe,#0752ff,#005fff,#1456fe,#0552ff,#0853ff,#0c54ff,#0251ff,#0065ff,#0652ff,#1f5bfd,#0062ff,#0080ff,#0451ff,#1d5afe,#1858fe,#1757fe 170px 175px,#265ffc 180px 185px,#1f5bfd,#436ffa,#3a6afa,#4771fa,#4772fa,#4771fa,#5177fa,#567afa,#6381fa,#5f7ffa,#6a87fa,#6583fa,#6b87fa,#7b92fa,#7f95fa,#7d94fa,#91a2fa,#8fa0fa,#8c9efa,#a0aefa,#8fa0fa,#99a8fa,#a2affa,#b4befa,#abb6fa,#a1affa,#a3b0fa,#afb9fa,#b2bcfa,#a8b4fa,#b1bbfa,#b5bffa,#9eacfa,#a8b4fa,#a6b2fa,#aab5fa,#a1affa 370px 375px,#a9b5fa,#abb6fa 385px 390px,#a2affa,#a7b3fa,#b1bbfa,#9fadfa,#a8b4fa,#a5b1fa,#9eacfa,#a5b1fa,#a2affa,#a9b4fa,#a4b1fa,#a2affa)"></i><i style="height:3px;background:linear-gradient(90deg,#00baff,#00f4ff,#00aeff,#00acff,#00e8ff,#00c8ff,#00dcff,#0091ff,#00c0ff,#0097ff,#00bbff,#0094ff,#005cff,#00d0ff,#006aff,#0150ff,#008bff,#0853ff,#0c54ff,#215cfd,#1356fe,#255efd,#0080ff,#0061ff,#0a53ff,#0053ff,#0953ff,#0552ff 135px 140px,#1055fe,#0057ff,#1356fe,#3366fb,#1e5bfd,#0f55fe,#2e64fb,#1a58fe,#1b59fe,#3969fa,#4570fa,#3c6bfa,#567afa,#5378fa,#587bfa,#4e75fa,#5f7ffa,#6281fa,#6381fa,#8398fa,#758efa,#8196fa,#8c9efa,#6f8afa,#8a9cfa,#98a7fa,#93a4fa,#95a5fa,#9baafa,#a3b0fa,#a1affa,#a6b2fa,#a5b1fa,#a1aefa,#adb8fa,#a8b4fa,#adb7fa,#afbafa,#adb8fa,#a8b4fa,#adb8fa,#b0bafa,#aeb9fa,#a8b4fa,#9fadfa,#a0aefa,#b6bffa,#abb6fa,#a5b1fa,#acb7fa,#aab5fa,#b0bafa,#a8b4fa,#aab5fa,#afb9fa,#a5b2fa,#a2affa,#a6b2fa,#b1bbfa,#a7b3fa,#a4b0fa,#a1aefa)"></i><i style="height:3px;background:linear-gradient(90deg,#20ffdf,#56ffaa,#2effd2,#27ffd9,#39ffc7,#32ffce,#34ffcb,#06fff9,#18ffe7,#08fff7,#14ffeb,#0093ff,#00d8ff,#0dfff2,#00bcff,#00d3ff,#00e3ff,#00baff,#00c8ff,#0095ff,#00a8ff,#009eff,#0050ff,#0085ff,#0251ff,#0074ff,#0067ff,#0089ff,#0050ff,#0953ff,#1356fe,#0e55fe,#0f55fe,#0451ff,#0c54ff,#2961fc,#1456fe,#1c5afe,#3567fb,#577bfa,#5177fa,#5c7dfa,#446ffa,#5177fa,#4d75fa,#6a86fa,#6181fa,#6482fa,#7b92fa 240px 245px,#7a91fa,#889bfa,#7d93fa,#95a5fa,#9aa9fa,#9dabfa,#a8b4fa 280px 285px,#a2affa,#a5b1fa,#a3b0fa,#a6b2fa,#afb9fa,#b0bafa,#a2affa,#bbc4fb,#a8b4fa,#a4b1fa,#a1aefa,#9fadfa,#a1affa,#9baafa,#b7c1fa,#abb6fa,#a7b3fa,#bbc5fb,#aeb9fa,#a1aefa,#aeb8fa,#a2affa,#a4b1fa,#a0aefa,#a3b0fa,#a5b1fa,#a4b1fa,#afb9fa,#9dabfa,#aab6fa,#afb9fa,#a6b2fa,#b3bdfa)"></i><i style="height:3px;background:linear-gradient(90deg,#5fffa0,#b1ff4f,#a3ff5d,#6eff92,#79ff87,#8fff71,#83ff7d,#57ffa8,#58ffa8,#4dffb3,#4effb1,#0cfff3,#21ffde,#40ffbf,#25ffda,#42ffbd,#39ffc7,#10ffef,#1affe5,#16ffea,#18ffe8,#03fffd,#00cbff,#00f7ff,#0084ff,#0079ff,#0070ff,#0076ff,#0080ff,#225dfd,#235efd,#245efd,#1256fe,#0251ff,#1557fe,#436ffa,#0351ff,#1c59fe,#3366fb,#6281fa,#567afa,#728cfa,#3b6bfa,#4a73fa,#5579fa,#5e7ffa,#6a86fa,#6683fa,#7790fa,#7a92fa,#7890fa,#7f95fa,#899cfa,#7f95fa,#a6b2fa,#a0aefa,#a5b1fa,#a5b2fa,#b6c0fa,#a7b3fa,#acb7fa,#a3b0fa,#b0bafa,#9cabfa,#a9b4fa,#acb7fa,#a6b3fa,#b4befa,#b0bafa,#a5b1fa,#abb6fa,#a8b4fa,#bbc4fb,#b3bdfa,#b6c0fa,#9dabfa,#aab5fa,#a0aefa,#abb6fa,#a2affa,#adb8fa,#adb7fa,#aab6fa,#a9b4fa,#bac3fb,#a9b5fa,#b0bafa,#aeb9fa,#abb6fa,#acb7fa,#aab5fa)"></i><i style="height:3px;background:linear-gradient(90deg,#7eff82,#efff10,#ffe200,#d0ff2f,#b6ff49,#f1ff0e,#e2ff1d,#b3ff4d,#99ff66,#9cff64,#98ff68,#88ff78,#66ff9a,#78ff88,#64ff9b,#6bff94,#77ff89,#2effd1,#44ffbb,#54ffab,#4dffb3,#3cffc3,#43ffbd,#34ffcb,#04fffb,#00eeff,#08fff8,#008cff,#0552ff,#0d54fe,#0251ff,#1858fe,#1356fe,#1958fe,#1f5bfd,#4470fa,#0050ff,#1858fe,#3064fb,#6683fa,#6281fa,#6784fa,#4c74fa,#4b74fa,#5f7ffa,#6d88fa,#748dfa,#6d88fa,#8a9dfa,#8297fa,#92a3fa,#93a3fa,#9baafa,#91a2fa,#a2affa,#a9b5fa,#acb7fa,#aeb8fa,#a9b4fa,#a7b3fa,#9dabfa,#b2bcfa,#a5b1fa,#b3bdfa,#abb6fa,#a1aefa,#a0aefa,#a3b0fa,#adb8fa,#a2affa,#9eacfa,#b3bdfa,#adb7fa,#a8b4fa,#a7b3fa,#a6b3fa,#aab5fa,#adb8fa,#a5b1fa,#aeb8fa,#aab5fa,#a5b2fa 405px 410px,#a2affa 415px 420px,#a4b0fa,#9eacfa,#b2bcfa,#a7b3fa 440px 445px,#aab5fa)"></i><i style="height:3px;background:linear-gradient(90deg,#8fff71,#ffd900,#ff8500,#ffc500,#fffe00,#ffc200,#ffc100,#ffde00,#e1ff1f,#fbff04,#fcff03,#e4ff1c,#a3ff5d,#9dff63,#95ff6b,#9dff63,#7fff81,#51ffaf,#45ffbb,#6aff96,#66ff9a,#54ffab,#5cffa3,#47ffb8,#3dffc3,#24ffdc,#2effd2,#0dfff2,#06fff9,#00ddff,#0067ff,#0095ff,#0852ff,#0b53ff,#4771fa,#5479fa,#0251ff,#1155fe,#2f64fb,#748dfa,#6b87fa,#6482fa,#3d6cfa,#5579fa,#5d7efa,#6c87fa,#8699fa,#7f95fa,#899cfa,#90a1fa,#8a9dfa,#97a7fa,#9caafa,#a4b1fa,#a9b4fa,#a4b0fa,#b9c2fb,#b4befa,#b0bafa,#b3bdfa,#a9b4fa,#b1bbfa,#a4b1fa,#a9b5fa,#b6bffa,#bdc6fb,#9baafa,#a7b3fa,#a6b2fa,#acb7fa,#b0bafa,#9fadfa,#b2bbfa,#acb7fa,#a9b4fa,#afb9fa,#adb7fa 380px 385px,#acb7fa,#9eacfa,#a9b4fa,#a2affa,#afb9fa,#adb8fa 415px 420px,#b5bffa,#a9b4fa,#b4befa,#b2bcfa,#a9b5fa,#a7b3fa)"></i><i style="height:3px;background:linear-gradient(90deg,#93ff6d,#ffc000,#ff4600,#ffc400,#fbff04,#ffc200,#ffaa00,#ff8100,#ffee00,#ffc300,#ffbd00,#ffd600,#f2ff0d,#bbff44,#c1ff3e,#c9ff36,#a7ff59,#77ff89,#8aff76,#88ff78,#7cff84,#6aff96,#67ff99,#52ffad,#5dffa3,#37ffc8,#49ffb7,#18ffe7,#21ffdf,#2fffd1,#00e1ff,#1657fe,#215dfd,#2961fc,#3768fa,#4a73fa,#0d54fe,#2860fc,#3f6dfa,#587bfa,#5479fa,#6d89fa,#5278fa,#6281fa,#5b7dfa,#748dfa,#899cfa 230px 235px,#8d9efa,#9caafa,#a7b3fa,#a9b4fa,#aeb9fa,#b2bcfa,#aab5fa,#aeb9fa,#abb6fa,#a6b2fa,#adb7fa,#b4befa,#b0bafa,#a3b0fa,#b1bbfa 310px 315px,#a6b2fa,#b0bafa 325px 330px,#a7b3fa,#aab5fa,#adb8fa,#acb7fa,#a1aefa,#a6b3fa,#aeb8fa,#acb7fa,#9dabfa,#aab6fa,#a6b2fa,#a7b3fa,#acb7fa,#a8b3fa,#b0bafa,#abb6fa,#a0aefa,#aab5fa,#9eacfa,#a7b3fa,#a5b1fa,#a8b4fa,#afb9fa,#a1aefa)"></i><i style="height:3px;background:linear-gradient(90deg,#a9ff57,#ffc900,#ff7000,#fdff02,#d9ff27,#ffef00,#ffcc00,#ff4f00,#fff100,#ffe900,#ffcc00,#ffd800,#ffc900,#cdff32,#d8ff28,#fcff03,#b6ff49,#b5ff4b,#80ff80,#88ff78,#90ff6f,#7eff82,#74ff8c,#5cffa4,#5cffa3,#49ffb7,#52ffae,#17ffe8,#32ffce,#09fff6,#16ffe9,#2e63fb,#3a6afa,#4771fa,#5177fa,#436ffa,#2c62fc,#406dfa,#4470fa,#3c6bfa,#4973fa,#6c88fa,#597cfa,#768efa,#7c93fa,#8fa0fa,#8a9dfa,#a4b1fa,#93a3fa,#a0aefa,#a6b3fa,#a5b1fa,#aab5fa,#abb6fa,#a6b2fa,#a5b1fa,#adb8fa,#9eacfa,#b3bdfa,#a3b0fa,#a7b3fa,#b1bbfa,#a3b0fa,#a0adfa,#b6bffa,#a5b1fa,#aab5fa,#a8b3fa,#b7c0fa,#a5b1fa,#a1aefa,#a7b3fa,#aeb8fa,#acb7fa,#a7b3fa,#abb6fa,#b4bdfa,#b2bcfa,#b5bffa,#a9b4fa,#9caafa,#a0adfa,#abb6fa 410px 415px,#a2affa,#a4b1fa,#a0aefa,#a6b2fa,#acb7fa,#a5b1fa,#9cabfa)"></i><i style="height:3px;background:linear-gradient(90deg,#9dff62,#ffdb00,#ffc600,#d3ff2d,#c0ff3f,#d0ff2f,#fffb00,#ff7b00,#eaff15,#e0ff1f,#deff21,#fff300,#fff000,#c0ff3f,#d0ff2f,#e0ff20,#a6ff5a 80px 85px,#85ff7b,#8cff74,#91ff6f,#64ff9c,#77ff89,#65ff9b,#4affb6,#3fffc1,#5bffa4,#1affe5,#2fffd0,#00f7ff,#0055ff,#3065fb,#0e55fe,#3467fb,#3f6dfa,#3d6cfa,#416efa,#5479fa,#4f76fa,#5278fa,#5c7efa,#728cfa,#6a86fa,#7d93fa,#869afa,#98a8fa,#96a6fa,#9aa9fa,#a4b1fa,#a9b5fa,#aab5fa,#afb9fa,#9cabfa,#a5b1fa,#9ba9fa,#b7c0fa,#b6bffa,#a7b3fa,#aab6fa,#acb7fa,#adb8fa,#abb6fa,#bfc8fb,#98a7fa,#abb6fa 320px 325px,#a2affa,#aab6fa,#a7b3fa,#a4b1fa,#a3b0fa,#a5b1fa,#a1aefa 360px 365px,#a8b4fa,#a5b1fa,#acb7fa,#a3b0fa,#b2bcfa,#b3bdfa,#aeb8fa,#a5b1fa,#adb7fa,#abb6fa,#9fadfa,#9dabfa,#99a8fa,#a0aefa,#a3b0fa,#a4b1fa,#b0bafa)"></i><i style="height:3px;background:linear-gradient(90deg,#98ff68,#f4ff0b,#fffc00,#c6ff39,#adff52,#b5ff4b,#d9ff26,#ffd900,#baff45,#b7ff48,#96ff6a,#eaff15,#b4ff4c,#99ff66,#b6ff49,#c5ff3a,#96ff6a,#7bff85,#78ff88,#83ff7d,#84ff7c,#62ff9e,#6dff92,#64ff9c,#37ffc9,#41ffbe,#53ffac,#02fffd,#04fffb,#0082ff,#1c5afe,#3768fa,#0e54fe,#275ffc,#3a6afa,#396afa,#5479fa,#6c88fa,#577afa,#6885fa,#6281fa,#7890fa,#7a91fa,#8ea0fa,#97a7fa,#90a1fa,#99a8fa,#a9b5fa,#acb7fa,#9baafa,#a6b2fa,#a0aefa,#9eacfa,#aab5fa,#a2affa,#b1bbfa,#a9b5fa,#a3b0fa,#9fadfa,#a9b4fa,#a5b1fa,#afb9fa,#a2affa,#b3bcfa,#abb6fa,#aab5fa,#afbafa,#adb8fa,#abb6fa,#a2affa,#a4b1fa,#a6b2fa 355px 365px,#b0bafa,#abb6fa,#aab6fa,#a3b0fa,#a7b3fa,#a5b1fa,#b1bbfa,#9dacfa,#adb8fa,#b0bafa,#a9b4fa,#a7b3fa,#aab6fa,#9eacfa,#adb8fa,#acb7fa,#b3bdfa)"></i><i style="height:3px;background:linear-gradient(90deg,#92ff6e,#d2ff2d,#c1ff3e,#9cff64,#9fff61 20px 25px,#b5ff4a,#d0ff30,#a8ff58,#94ff6c,#83ff7d,#c5ff3b,#96ff6a 60px 65px,#a3ff5c,#9bff64,#92ff6e,#70ff90,#5cffa4,#7eff82,#82ff7e,#59ffa7,#5cffa4,#47ffb9,#41ffbf,#15ffea,#20ffdf,#00b7ff,#0351ff,#3366fb,#265ffc,#3064fb,#265ffc,#3165fb,#3a6afa,#4b74fa,#6a87fa,#6f8afa,#7a92fa,#7f95fa,#768efa,#7d94fa,#8599fa,#8d9ffa,#98a7fa,#9aa9fa,#a1aefa,#acb7fa,#b3bdfa,#9ba9fa,#aeb9fa,#b0bafa,#a1aefa,#a0aefa,#aab5fa,#9fadfa,#acb7fa,#abb6fa,#b3bdfa,#9aa9fa,#a8b3fa,#a3b0fa,#b5bffa,#a5b1fa,#b7c0fa,#adb8fa,#a3b0fa,#9eacfa,#9dabfa,#a8b4fa,#b2bcfa,#a5b2fa,#abb6fa,#a3b0fa,#a5b1fa,#9caafa,#a4b0fa,#a9b5fa,#a5b1fa,#aab6fa,#abb6fa,#acb7fa,#aab5fa,#adb7fa,#a8b4fa,#b4bdfa,#acb7fa,#a4b1fa,#aeb8fa,#b0bafa,#9baafa)"></i><i style="height:3px;background:linear-gradient(90deg,#65ff9b,#beff41,#96ff6a,#8eff72,#94ff6c,#83ff7d,#89ff77,#88ff78,#7dff83,#85ff7b,#64ff9c,#74ff8c,#70ff90,#71ff8f,#6dff93,#7aff86,#75ff8b,#36ffca,#5bffa4,#61ff9f,#4dffb2,#39ffc7,#43ffbd,#2effd1,#02fffd,#00efff,#00d8ff,#1557fe,#4973fa,#4a73fa,#2c62fc,#4872fa,#416efa,#3f6dfa,#587bfa,#5d7efa,#6482fa,#7890fa,#8fa0fa 190px 195px,#92a3fa,#8fa0fa,#8fa1fa,#9caafa,#a8b4fa,#9eacfa,#aab6fa,#afb9fa,#a8b4fa,#a9b4fa,#b1bbfa,#afbafa,#a7b3fa,#9caafa,#bdc6fb,#bcc6fb,#aeb8fa,#acb7fa,#a3b0fa,#b5bffa,#a7b3fa,#a6b2fa,#a2affa,#adb8fa,#aeb9fa,#aab5fa,#acb7fa 330px 340px,#a3b0fa,#aab5fa 350px 355px,#a4b1fa,#aab6fa,#a7b3fa,#b4bdfa,#a8b4fa 380px 385px,#adb8fa,#acb7fa,#aeb9fa,#a0adfa,#a9b5fa,#adb8fa 415px 420px,#afb9fa,#a7b3fa 430px 435px,#aeb9fa,#aeb8fa,#a7b3fa)"></i><i style="height:3px;background:linear-gradient(90deg,#32ffcd,#87ff79,#5cffa3,#51ffaf,#65ff9b,#4cffb3,#67ff98,#48ffb8,#5affa6,#59ffa7,#41ffbe,#29ffd6,#39ffc7,#4fffb1,#4affb6,#54ffac,#4bffb5,#24ffdc,#2dffd2,#32ffce,#30ffd0,#1cffe4,#00f0ff,#05fffa,#0088ff,#005cff,#0050ff,#215dfd,#3a6afa,#2f64fb,#4470fa 150px 155px,#4872fa,#5f7ffa,#6180fa,#6f8afa,#6885fa,#7b92fa,#8599fa,#9dacfa,#94a4fa,#8d9ffa,#96a6fa,#a8b4fa,#a7b3fa,#b5bffa,#a7b3fa,#b0bafa,#b4bdfa,#b0bafa,#a3b0fa,#b5befa,#c0c9fb,#9aa9fa,#acb7fa 270px 275px,#b1bbfa,#a1aefa,#a4b1fa,#a3b0fa,#a5b2fa,#a2affa,#a6b2fa,#aab5fa,#a2affa,#a7b3fa,#adb7fa,#a6b2fa,#b8c2fa,#a8b4fa,#aeb8fa,#b4befa,#a5b1fa,#9ba9fa,#a0adfa,#a4b1fa,#aeb9fa,#b4bdfa,#abb6fa,#aeb8fa,#a7b3fa,#9cabfa,#a3b0fa,#a6b2fa 415px 420px,#b5befa,#a4b0fa,#a7b3fa,#aeb8fa,#a9b5fa,#aab5fa)"></i><i style="height:3px;background:linear-gradient(90deg,#06fff9,#2effd1,#1affe6,#12ffee,#24ffdb,#2dffd2,#26ffda,#0efff1,#10fff0,#1effe1,#1cffe3,#0086ff,#00f1ff,#20ffdf,#00e6ff,#0cfff4,#0dfff2,#00edff,#0afff5,#00f9ff,#00f4ff,#00d2ff,#00adff,#00aeff,#0c54ff,#0062ff,#2a61fc,#3266fb,#2860fc,#2b62fc,#4470fa,#5b7dfa,#6684fa,#6683fa,#6684fa,#748dfa,#7f95fa,#889bfa,#869afa,#96a5fa,#a3b0fa,#a2affa,#9dabfa,#97a6fa,#a4b1fa,#bbc4fb,#adb8fa,#a6b2fa,#abb6fa,#a1aefa,#abb6fa,#a5b2fa 255px 260px,#acb7fa,#adb7fa,#acb7fa,#b1bbfa,#a9b4fa,#aeb8fa,#a9b5fa,#b1bbfa,#9dacfa,#a5b2fa,#9fadfa,#adb8fa,#acb7fa,#a5b2fa,#a6b3fa,#a7b3fa,#a3b0fa,#a5b2fa,#a1aefa,#adb7fa,#a2affa,#c7cffb,#a7b3fa,#abb6fa,#acb7fa,#a9b5fa,#aab5fa,#a6b2fa,#b0bafa,#adb8fa,#a6b2fa,#adb7fa,#acb7fa,#a5b2fa,#a7b3fa,#adb8fa,#afb9fa,#a5b2fa)"></i><i style="height:3px;background:linear-gradient(90deg,#0092ff,#00d3ff,#008dff,#008eff,#00c4ff,#00beff,#00c9ff,#008eff,#00baff,#00d2ff,#00cdff,#005eff,#0070ff,#00baff,#0150ff,#0097ff,#00b5ff,#009dff,#00a8ff,#0063ff,#0065ff,#0d54fe,#1456fe,#1f5bfd,#0c54ff,#1557fe,#2b62fc 130px 135px,#3d6cfa,#5378fa,#6180fa,#6582fa,#6583fa,#7991fa,#7a92fa,#889bfa,#8d9ffa,#91a2fa,#a0aefa,#a9b5fa,#9aa9fa,#a2affa,#a8b4fa 210px 215px,#a7b3fa,#a9b4fa,#99a8fa,#adb8fa,#a5b1fa,#b2bcfa,#a5b1fa,#9dabfa,#aab5fa,#afb9fa,#b6bffa,#a1aefa,#aeb8fa,#a8b3fa,#a4b1fa,#b0bafa,#a9b4fa,#a0adfa,#afb9fa,#abb6fa,#a9b4fa,#b6bffa,#acb7fa,#a3b0fa,#9ba9fa,#b0bafa,#a9b4fa,#a6b3fa,#abb6fa,#adb8fa,#aab6fa,#acb7fa,#afb9fa,#abb6fa,#aab5fa,#bbc5fb,#a8b4fa,#aab6fa,#a8b4fa,#b9c2fb,#9baafa,#a9b4fa,#b6bffa,#a1affa,#a4b1fa,#adb7fa,#a0aefa)"></i><i style="height:3px;background:linear-gradient(90deg,#2961fc,#1456fe,#0250ff,#0087ff,#0050ff,#1a59fe,#0652ff,#0082ff,#0752ff,#0087ff,#0652ff,#0050ff,#1055fe,#0050ff,#0069ff,#0d54fe,#245efd,#1456fe,#1356fe,#1456fe 95px 100px,#2f64fb,#1e5bfd,#1c5afe,#245efd,#3869fa,#3467fb,#2e63fb,#6080fa,#6582fa,#6382fa,#7a91fa,#6c87fa,#708bfa,#8fa0fa,#a2affa,#899cfa,#98a7fa,#9baafa,#a6b3fa,#a5b2fa,#a2affa,#a9b4fa,#adb7fa,#afb9fa,#b5befa,#bdc6fb,#acb7fa 235px 240px,#97a7fa,#adb8fa,#b1bbfa,#9baafa,#aeb9fa,#abb6fa,#a2affa 275px 285px,#a4b1fa,#afbafa,#adb8fa,#acb7fa,#a4b1fa,#aab6fa,#a1aefa,#a7b3fa,#a6b2fa,#bbc4fb,#a7b3fa,#b0bafa,#a2affa,#aab5fa,#a3b0fa,#a4b0fa,#acb7fa,#adb8fa,#a1aefa,#9fadfa,#aeb8fa,#b5bffa,#a2affa,#b3bdfa,#a9b4fa,#b9c3fb,#a1aefa,#a6b2fa,#abb6fa,#b1bbfa,#c0c9fb,#a9b4fa,#a3b0fa)"></i><i style="height:3px;background:linear-gradient(90deg,#0e54fe,#0a53ff,#006fff,#006aff,#255efd,#1557fe,#1f5bfd,#0094ff,#1456fe,#0078ff,#0f55fe,#0b54ff,#0a53ff,#0085ff,#0552ff,#005fff,#0b54ff,#2860fc,#235dfd,#1055fe,#0f55fe,#4470fa,#2961fc,#3e6cfa,#3265fb,#3869fa,#3e6cfa,#5278fa,#738cfa,#597cfa,#6f89fa,#7b92fa,#7d94fa,#8498fa,#9aa9fa,#9cabfa,#8ea0fa,#a6b2fa,#a2affa,#9caafa,#a8b4fa 200px 205px,#afb9fa,#aeb8fa,#a0aefa,#a4b1fa,#a6b3fa,#acb7fa,#9cabfa,#9caafa,#a7b3fa,#aeb9fa,#b0bafa,#98a7fa,#96a5fa,#adb8fa,#a7b3fa,#b9c2fb,#aeb9fa,#9aa9fa,#a3b0fa,#a2affa,#abb6fa,#b0bafa,#abb6fa,#a0aefa,#a6b2fa,#a4b0fa 335px 340px,#aeb8fa,#a8b3fa,#afb9fa,#b0bafa,#a5b1fa,#b3bcfa,#9eacfa,#a7b3fa,#b3bdfa,#adb7fa,#b0bafa,#a2affa,#a4b1fa,#a8b4fa,#9cabfa,#a8b4fa,#aab6fa,#afb9fa,#b2bbfa,#a6b2fa,#a3b0fa,#a9b5fa)"></i><i style="height:3px;background:linear-gradient(90deg,#006eff,#006cff,#0084ff,#0351ff,#0068ff,#005dff,#0c54ff,#0056ff,#245efd,#1356fe,#3467fb,#0073ff,#1657fe,#255efd,#1256fe,#0652ff,#0086ff,#0058ff,#2c62fc,#1958fe,#205cfd,#5177fa,#4771fa,#4772fa,#3668fa,#3b6bfa,#597cfa,#5479fa,#7c93fa,#7991fa,#6f8afa,#8196fa,#879afa,#a0aefa,#95a5fa,#9fadfa,#95a5fa,#91a2fa,#a9b5fa,#aab6fa,#a9b5fa 200px 205px,#a1affa,#adb8fa,#aeb9fa,#a9b5fa,#a9b4fa,#9eacfa,#adb7fa,#adb8fa,#a5b1fa,#a5b2fa,#b0bafa,#acb7fa,#b4bdfa,#a3b0fa,#afb9fa,#aeb8fa,#acb7fa,#b0bafa,#a9b4fa,#a3b0fa,#a7b3fa,#9aa9fa,#a8b4fa,#b7c0fa,#a9b5fa,#adb8fa,#a2affa,#abb6fa,#a7b3fa,#b4befa,#aeb9fa,#a8b4fa,#acb7fa,#a9b5fa,#9dabfa,#b3bcfa,#b2bcfa,#a0adfa,#a7b3fa,#aeb8fa,#a6b2fa,#a2affa,#aeb9fa,#a2affa,#aab5fa,#9fadfa,#bbc4fb,#9baafa,#aab5fa)"></i><i style="height:3px;background:linear-gradient(90deg,#007cff,#0f55fe,#1557fe,#0150ff,#1e5bfd,#0251ff,#1456fe,#0064ff,#275ffc,#2961fc,#2e64fb,#1456fe,#215cfd,#265ffc,#2961fc,#1a58fe,#0953ff,#2860fc,#2b62fc,#3a6afa,#3c6bfa,#5278fa,#416efa,#5076fa 115px 120px,#577bfa,#6381fa,#6683fa,#7e94fa,#8398fa,#7b92fa,#91a2fa,#99a8fa,#9dacfa,#a6b3fa,#9eacfa,#9aa9fa,#aeb9fa,#a5b2fa,#a9b4fa,#a5b2fa,#adb8fa,#a0adfa,#a4b1fa,#a5b1fa,#9aa9fa,#aeb8fa,#a9b5fa,#a4b0fa,#a1affa,#a8b4fa,#a4b1fa,#9eacfa,#aab5fa,#abb6fa,#a8b4fa,#bdc6fb,#a5b1fa 285px 290px,#9aa9fa,#b3bdfa,#a6b3fa,#a6b2fa,#a4b0fa,#b2bcfa,#c3ccfb,#a8b4fa,#a7b3fa 335px 340px,#aeb8fa,#afb9fa,#aab5fa,#b0bafa 360px 365px,#a7b3fa,#a5b1fa,#b1bbfa,#b8c1fa,#b0bafa,#a4b1fa,#abb6fa,#a4b1fa 405px 410px,#a0aefa,#abb6fa,#a8b4fa,#a3b0fa,#acb7fa,#b0bafa,#a1aefa,#9eacfa)"></i><i style="height:3px;background:linear-gradient(90deg,#0652ff,#2b62fc,#3265fb,#1457fe,#3a6afa,#1557fe,#1e5bfd,#0085ff,#3a6afa,#2b62fc,#4470fa,#215cfd,#255efd,#2860fc,#2a61fc,#1055fe,#1d5afe,#4772fa,#4570fa,#4b74fa,#5378fa,#5479fa,#3e6cfa,#4570fa,#587bfa,#6180fa,#738cfa,#889bfa,#8498fa,#8d9ffa,#92a3fa,#93a4fa,#a2affa,#a6b2fa,#b8c2fa,#a7b3fa,#a3b0fa,#acb7fa,#a1aefa,#9eacfa,#a4b1fa,#abb6fa,#a4b0fa 210px 215px,#a8b4fa,#a1aefa,#a6b2fa,#b2bcfa,#abb6fa,#a8b4fa,#b2bcfa,#b4befa,#a8b4fa,#a5b2fa,#b0bafa,#a5b2fa,#b0bafa,#b2bcfa,#a3b0fa,#a8b4fa,#b8c1fa,#b6c0fa,#a9b4fa,#afbafa,#afb9fa,#b4befa,#abb6fa,#99a8fa,#b6c0fa,#9dabfa,#b0bafa,#b2bcfa,#a3b0fa,#abb6fa 365px 370px,#a1aefa,#9baafa,#a6b3fa,#b1bbfa 390px 395px,#aab5fa,#a2affa,#a6b2fa,#a7b3fa,#a1affa,#bcc5fb,#a3b0fa,#a9b4fa,#a9b5fa,#a6b2fa,#abb6fa)"></i><i style="height:3px;background:linear-gradient(90deg,#1155fe,#2860fc,#255ffd 10px 15px,#3064fb,#215dfd,#265ffc,#0552ff,#3869fa,#245efd,#3869fa,#0c54ff,#2961fc,#3467fb,#1e5bfd,#1657fe,#215cfd,#3b6bfa,#3969fa,#4872fa,#577bfa,#6b87fa,#4671fa,#5378fa,#6583fa,#6d88fa,#8096fa,#7e94fa,#889bfa,#8fa0fa,#9aa9fa,#95a5fa,#9dacfa,#a2affa,#a0aefa,#a9b5fa,#a0aefa,#bac3fb,#a5b1fa,#afb9fa,#a6b2fa,#aeb9fa,#b6bffa,#a5b2fa,#b3bdfa,#bdc6fb,#abb6fa,#9fadfa,#9cabfa,#9eacfa,#b8c2fa,#a9b5fa,#b0bafa,#a8b3fa,#b8c2fa,#a4b1fa,#a8b3fa,#a0adfa,#a0aefa,#a8b4fa,#b6bffa,#a5b1fa,#aeb8fa,#a9b4fa,#a0aefa,#b9c2fb,#abb6fa,#b0bafa,#a7b3fa,#a6b2fa,#a7b3fa,#a6b2fa,#afb9fa,#adb8fa,#aab5fa,#a8b3fa,#aab5fa,#b0bafa,#abb6fa,#a8b4fa,#b2bcfa,#b0bafa,#a5b2fa,#99a8fa,#a8b4fa,#b1bbfa,#9eacfa,#a5b1fa,#b1bafa,#a7b3fa,#a6b2fa)"></i><i style="height:3px;background:linear-gradient(90deg,#0953ff,#0c54ff,#1356fe,#255ffd 15px 20px,#235dfd,#2b62fc,#1a58fe,#3668fa,#1d5afd,#2a61fc,#009aff,#245efd,#4b74fa,#1456fe,#1d5afe,#3064fb,#5579fa,#3567fb,#4e76fa,#6b87fa,#748dfa,#5579fa,#748dfa,#5d7efa,#6d88fa,#879bfa,#8599fa,#92a3fa,#a2affa,#aab6fa,#98a7fa,#a8b3fa,#b4befa,#a0aefa,#a1aefa,#a6b2fa,#aab5fa,#b1bbfa,#b7c1fa,#a4b1fa,#a6b2fa,#b5bffa,#b1bafa,#b0bafa,#adb8fa,#abb6fa,#9fadfa,#a9b5fa,#a2affa,#a9b5fa,#a3b0fa,#abb6fa,#a3b0fa,#afb9fa,#b8c2fa,#a2affa,#b4befa,#b3bdfa,#9fadfa,#acb7fa,#a9b5fa,#a8b4fa,#a6b2fa,#a2affa,#acb7fa,#b1bbfa,#a3b0fa,#abb6fa,#adb8fa,#a5b1fa 350px 355px,#a8b4fa,#bbc5fb,#9aa9fa,#aab5fa,#b5bffa,#a6b2fa,#a0aefa,#a1aefa,#a7b3fa,#a6b2fa,#b8c2fa,#c1cafb,#a0aefa,#a8b4fa 425px 430px,#b6c0fa,#9dacfa,#aeb9fa,#a4b0fa)"></i><i style="height:3px;background:linear-gradient(90deg,#215cfd,#2760fc,#1c5afe,#0752ff,#235dfd,#1958fe,#5177fa,#1858fe,#3c6bfa,#3b6afa,#3366fb,#0f55fe,#3165fb,#416efa,#1d5afe,#3266fb,#3768fa,#4771fa,#406efa,#6381fa,#6582fa,#6b87fa,#6180fa,#869afa,#8a9dfa,#92a3fa,#90a1fa,#9dabfa,#a1aefa,#a2affa,#9baafa,#9fadfa,#abb6fa,#a9b5fa,#b7c1fa,#aeb8fa,#abb6fa,#adb8fa,#9baafa,#bfc8fb,#aeb8fa,#aab5fa,#a3b0fa,#a7b3fa,#b8c1fa,#b1bbfa,#a6b2fa,#a9b4fa,#a2affa,#a5b2fa,#abb6fa,#acb7fa,#a4b1fa,#afb9fa,#acb7fa,#a1affa,#adb7fa,#a6b2fa,#c0c9fb,#afbafa,#aab5fa,#a6b2fa,#abb6fa,#a9b5fa,#b0bafa,#aab5fa,#a4b1fa,#b1bbfa,#b5befa,#a2affa,#9cabfa,#9fadfa,#aeb9fa,#abb6fa,#adb7fa,#a5b2fa,#a4b0fa,#afb9fa,#a5b1fa,#a7b3fa,#9fadfa,#abb6fa,#a7b3fa,#b8c1fa,#adb7fa,#a5b1fa,#b3bdfa,#afbafa,#aab5fa,#acb7fa,#b0bafa)"></i><i style="height:3px;background:linear-gradient(90deg,#1f5bfd,#245efd,#1657fe,#0081ff,#0c54ff,#2c63fc,#6e89fa,#205cfd,#5579fa,#416efa 45px 50px,#225dfd,#3869fa,#4872fa,#3d6cfa,#3a6afa 75px 80px,#4671fa,#4c74fa,#6c88fa,#768efa,#7890fa,#6784fa,#869afa,#8599fa,#899cfa,#9dabfa,#99a8fa,#97a7fa,#9fadfa,#a4b0fa,#9fadfa,#b2bcfa,#acb7fa,#a8b4fa,#a3b0fa,#a0adfa,#adb8fa,#a8b4fa,#a0aefa,#a1aefa,#adb8fa,#b0bafa,#acb7fa,#a6b3fa,#bdc6fb,#9fadfa,#abb6fa,#a2affa,#9eacfa,#acb7fa,#b5befa,#b7c0fa,#9dabfa,#aeb8fa,#a9b5fa,#b4befa,#adb8fa,#a7b3fa,#a5b2fa,#a9b5fa,#b1bbfa,#abb6fa 310px 315px,#a0aefa,#adb8fa,#b3bcfa,#a6b2fa,#b0bafa,#a0adfa 345px 350px,#acb7fa 355px 360px,#a4b1fa,#b6c0fa,#a2affa,#a0adfa,#a7b3fa,#a8b4fa,#aeb8fa,#afb9fa,#a6b2fa,#a7b3fa,#adb8fa,#a2affa,#acb7fa,#a2affa,#b0bafa,#a7b3fa,#a4b1fa,#a2affa)"></i><i style="height:3px;background:linear-gradient(90deg,#0953ff,#1457fe,#1657fe,#0083ff,#1757fe,#1d5afe,#4e75fa,#2860fc,#4c75fa,#3b6afa,#3d6cfa,#2a61fc,#416efa 60px 65px,#4e75fa,#4d75fa,#4470fa,#577afa,#6482fa,#6a86fa,#708afa,#748efa,#879bfa,#8b9dfa,#95a5fa,#a1affa,#a2affa,#a0aefa,#a8b4fa,#a7b3fa,#aab5fa,#a6b2fa,#98a7fa,#a4b1fa,#a1affa,#9aa9fa,#b3bdfa,#b2bcfa,#afb9fa,#b3bdfa,#a1aefa,#b2bcfa,#aeb8fa,#a2affa,#afb9fa,#a7b3fa,#a3b0fa,#aeb8fa,#a0aefa,#a4b1fa,#a6b2fa,#aab5fa,#b0bafa,#9baafa,#adb8fa,#abb6fa,#aab5fa 280px 285px,#a5b1fa,#aeb9fa,#a9b5fa,#a2affa,#b1bbfa,#a9b5fa,#b2bcfa,#aab5fa,#a7b3fa,#afb9fa,#9baafa,#b4befa,#a0aefa,#aab5fa,#a7b3fa,#b0bafa,#a5b1fa,#a6b2fa,#b6c0fa,#aab5fa,#abb6fa,#a3b0fa,#b2bcfa,#a4b0fa,#a7b3fa,#9eacfa,#b3bdfa,#a2affa,#c0c9fb,#b3bdfa,#abb6fa,#b2bcfa,#a4b0fa)"></i><i style="height:3px;background:linear-gradient(90deg,#0068ff,#0251ff,#0e55fe,#0065ff,#1958fe,#0065ff,#265ffc,#3a6afa,#4470fa,#3065fb,#426ffa,#416efa,#4872fa,#4470fa,#4f76fa,#5c7dfa,#6281fa,#5b7dfa,#6885fa,#6c87fa,#7f95fa,#8498fa,#8c9efa,#9caafa,#8b9dfa,#92a3fa,#9baafa,#afb9fa,#abb6fa,#a3b0fa,#a0aefa,#aeb8fa,#bdc6fb,#b0bafa,#a4b0fa,#aeb9fa,#9eacfa,#abb6fa,#9dabfa,#b1bbfa,#a9b5fa,#a3b0fa,#afb9fa,#90a1fa,#a0aefa,#acb7fa,#a5b2fa,#abb6fa,#aab6fa,#9fadfa,#a7b3fa,#9dabfa,#a9b5fa,#a2affa,#a4b1fa,#a0aefa,#abb6fa,#a6b2fa 285px 290px,#b4befa,#a3b0fa,#a7b3fa,#afb9fa,#a4b1fa,#a2affa,#acb7fa,#a5b2fa,#9fadfa,#a6b2fa,#a8b4fa,#aab5fa,#b0bafa,#a1affa,#aab5fa,#afbafa,#c1cafb,#a9b5fa,#aeb8fa,#aab6fa,#a9b4fa,#abb6fa,#a6b2fa,#a2affa,#acb7fa,#a7b3fa,#adb8fa,#a3b0fa,#abb6fa 435px 440px,#a7b3fa,#a9b4fa)"></i><i style="height:3px;background:linear-gradient(90deg,#1256fe,#265ffc,#2760fc,#1256fe,#215dfd,#1e5afd,#4872fa,#3e6cfa,#5378fa,#3c6bfa 45px 50px,#3e6cfa,#4b73fa,#5a7cfa,#5b7dfa,#4f76fa,#597cfa,#6784fa,#6884fa,#7a91fa,#7f95fa,#8c9efa,#97a6fa,#90a1fa,#9caafa,#99a8fa,#a8b4fa,#99a8fa,#96a6fa,#aab6fa,#a2affa,#aeb9fa,#9aa9fa,#b2bcfa,#abb6fa,#acb7fa,#9cabfa,#b0bafa,#a6b2fa,#a1aefa,#a6b3fa,#acb7fa,#a7b3fa,#acb7fa,#a4b1fa,#a5b1fa,#a7b3fa,#a2affa,#acb7fa,#abb6fa,#a7b3fa,#a5b1fa,#acb7fa,#a5b1fa,#a4b1fa,#a8b4fa,#aab5fa,#acb7fa,#9fadfa,#aeb9fa,#9dabfa,#abb6fa,#b4befa,#a4b1fa,#a8b4fa,#acb7fa,#aab5fa,#abb6fa,#a4b1fa,#b2bbfa,#b0bafa,#a0aefa,#a5b2fa,#aab6fa,#9eacfa,#adb7fa,#9aa9fa,#aeb8fa,#a7b3fa 390px 395px,#9eacfa,#a4b1fa,#a5b2fa,#a4b1fa,#a2affa,#a1affa,#adb8fa,#acb7fa,#a7b3fa,#b5bffa,#b6c0fa)"></i><i style="height:3px;background:linear-gradient(90deg,#215cfd,#436ffa,#4772fa,#265ffc,#2d63fc,#406efa,#5c7dfa,#3869fa,#4f76fa,#436ffa,#4d75fa,#4973fa,#6482fa,#6180fa,#5e7ffa,#6281fa,#728cfa,#6583fa,#6885fa,#8599fa,#8398fa,#93a3fa,#94a4fa,#a4b1fa,#98a7fa,#9eacfa,#aab5fa,#9eacfa,#abb6fa,#9fadfa,#a6b2fa,#abb6fa,#99a8fa,#9eacfa,#a3b0fa,#afb9fa,#abb6fa,#a5b1fa,#acb7fa,#adb8fa,#a6b2fa,#a7b3fa,#b3bcfa,#a3b0fa,#a9b4fa,#9aa9fa,#a9b5fa,#aab5fa,#aeb8fa,#a4b1fa,#abb6fa,#a8b4fa,#a1aefa,#9fadfa,#a7b3fa,#abb6fa,#aab5fa,#b0bafa,#9fadfa,#a4b1fa,#b3bcfa,#b2bcfa,#adb8fa,#9dacfa,#b4bdfa,#a9b5fa,#a8b4fa,#b1bbfa,#abb6fa,#9eacfa,#a1aefa,#b4befa,#a6b2fa,#a9b4fa,#a1aefa,#b2bcfa,#a8b4fa,#a4b1fa,#b1bbfa,#a9b5fa 395px 400px,#a6b2fa,#adb8fa,#96a6fa,#a4b1fa,#b1bbfa,#afb9fa,#b1bbfa,#a8b4fa 440px 445px,#a4b0fa)"></i><i style="height:3px;background:linear-gradient(90deg,#255efd,#4470fa,#3f6dfa,#1757fe,#3266fb,#4973fa,#6381fa,#436ffa,#6180fa,#5177fa,#6482fa,#4c74fa,#6583fa,#6c87fa,#6784fa,#6d88fa,#6f8afa,#708afa,#8096fa,#8a9cfa,#879bfa,#9baafa,#99a8fa,#96a6fa,#a8b4fa,#9aa9fa,#a5b1fa,#aab5fa,#a9b5fa,#acb7fa,#a2affa,#acb7fa,#b8c2fa,#adb7fa,#a3b0fa,#aab5fa,#adb8fa,#b0bafa,#a1aefa,#adb8fa,#a5b1fa,#b9c3fb,#abb6fa,#afb9fa,#abb6fa,#a8b4fa,#acb7fa,#a6b2fa,#a1aefa,#a8b4fa,#b2bbfa,#a2affa,#aeb8fa,#a9b5fa,#a1affa,#a8b4fa,#aab5fa,#aab6fa,#b2bcfa,#acb7fa,#b2bcfa,#a6b2fa,#acb7fa,#a9b5fa,#a1affa,#a3b0fa,#a7b3fa,#a3b0fa,#a4b0fa,#a9b4fa,#a4b1fa,#9fadfa,#abb6fa,#a7b3fa,#b5bffa,#afb9fa,#a8b4fa,#acb7fa,#a7b3fa,#abb6fa,#aab5fa,#a9b5fa,#adb8fa,#a4b1fa,#aeb8fa,#a8b4fa,#a0adfa,#a8b4fa,#adb8fa,#adb7fa,#a5b1fa)"></i><i style="height:3px;background:linear-gradient(90deg,#265ffc,#3f6dfa,#3a6afa,#0853ff,#4c74fa,#3668fa,#597cfa,#5d7efa,#6885fa,#6080fa,#708bfa,#577afa,#758efa,#6b87fa,#6f8afa,#7991fa,#8398fa,#748dfa,#92a3fa,#8fa1fa,#94a4fa,#a6b2fa,#92a3fa,#aab6fa,#aeb8fa,#acb7fa,#abb6fa,#9caafa,#b0bafa,#99a8fa,#a6b2fa,#a1aefa,#a4b1fa,#aeb8fa,#abb6fa,#a5b2fa,#a6b2fa,#9aa9fa,#afb9fa,#b3bdfa,#b2bcfa,#b3bdfa,#aab5fa,#a7b3fa,#9baafa,#a8b4fa,#adb8fa,#a8b4fa,#9ba9fa,#adb7fa,#afb9fa,#a5b2fa,#a4b0fa 260px 265px,#a4b1fa,#a2affa,#9caafa 280px 285px,#a1affa,#a6b2fa,#afb9fa,#adb8fa,#b3bdfa,#adb8fa,#a8b4fa,#a3b0fa,#b2bcfa,#9fadfa,#aab6fa,#b8c1fa,#a6b3fa,#b0bafa,#afb9fa,#a9b5fa,#b1bbfa,#a9b4fa,#a8b4fa,#a1aefa,#b0bafa,#b2bcfa,#96a6fa,#adb8fa,#9fadfa,#aab5fa,#acb7fa,#99a8fa,#a3b0fa,#acb7fa,#abb6fa,#a4b0fa,#aab5fa)"></i><i style="height:3px;background:linear-gradient(90deg,#2f64fb,#3c6bfa,#3b6bfa,#265ffc,#4f76fa,#5379fa,#6181fa,#6180fa,#6683fa,#5f7ffa,#748dfa,#597cfa,#7790fa,#6985fa,#7a92fa,#7c93fa,#7991fa,#8499fa,#8a9cfa,#869afa,#94a4fa,#95a5fa,#9caafa,#a0aefa,#a1affa,#98a7fa,#bec7fb,#a3b0fa 135px 140px,#b4befa,#a6b2fa,#a9b5fa,#afb9fa,#a7b3fa,#b1bbfa,#9eacfa,#b2bcfa 180px 185px,#acb7fa,#a9b5fa,#a4b1fa,#a7b3fa,#a8b4fa,#bfc8fb,#acb7fa,#aab5fa,#a2affa,#b0bafa,#a6b2fa,#acb7fa,#afb9fa,#a9b5fa,#abb6fa,#a8b4fa,#a9b5fa,#a2affa,#a3b0fa,#b1bbfa,#9eacfa,#9fadfa,#a3b0fa,#a7b3fa,#9baafa,#abb6fa,#a7b3fa,#b0bafa,#a7b3fa,#a0aefa,#acb7fa,#a3b0fa,#b0bafa,#a5b1fa,#9dabfa,#aab6fa,#a9b5fa,#a1aefa,#a1affa,#a9b5fa,#a7b3fa,#a8b4fa,#a2affa,#a4b1fa,#a7b3fa,#aeb8fa,#b4befa,#b8c1fa,#a6b2fa,#93a3fa,#a4b1fa,#a2affa,#a9b5fa)"></i><i style="height:3px;background:linear-gradient(90deg,#3769fa,#406efa,#3e6cfa,#3d6cfa,#5177fa,#5b7dfa,#6281fa,#5c7dfa,#5d7efa,#597bfa,#778ffa 50px 55px,#6a86fa,#6e89fa,#6f8afa 70px 75px,#7e94fa,#7e95fa,#8fa0fa,#9aa9fa,#98a8fa,#9eacfa,#9caafa,#9baafa 115px 120px,#9aa9fa,#a7b3fa,#aab5fa,#a3b0fa,#a0aefa,#a4b1fa,#a5b2fa,#9aa9fa,#a4b1fa,#afb9fa,#acb7fa,#9cabfa,#a2affa,#b3bdfa,#afb9fa,#a6b2fa,#abb6fa,#a5b1fa,#b0bafa,#a9b4fa,#a6b2fa,#a4b1fa,#a8b4fa,#a9b4fa,#a9b5fa,#a5b1fa,#a4b0fa,#adb8fa,#aeb8fa,#a8b4fa,#b0bafa,#aab6fa,#97a7fa,#a5b1fa,#acb7fa 295px 300px,#adb8fa,#b0bafa,#abb6fa,#a3b0fa,#a2affa,#a3b0fa,#b9c2fb,#a7b3fa,#aeb9fa,#a8b4fa,#a9b5fa,#abb6fa,#b2bcfa,#aab5fa,#a9b5fa,#a5b2fa,#a8b4fa,#afbafa,#9eacfa,#9dabfa,#abb6fa,#b3bdfa,#98a7fa,#9dabfa,#a3b0fa,#b5bffa,#9cabfa,#a1aefa,#adb8fa,#bdc6fb)"></i><i style="height:3px;background:linear-gradient(90deg,#2e63fb,#4872fa,#4a73fa,#396afa,#4c74fa,#5479fa,#6583fa,#5b7dfa,#6985fa,#6180fa,#7890fa,#718bfa,#768ffa,#8197fa,#7f95fa,#889bfa,#8398fa,#9aa9fa,#8599fa,#97a6fa,#9caafa,#a9b5fa,#a3b0fa,#96a5fa,#a2affa,#afb9fa,#9facfa,#9aa9fa,#aab5fa,#a7b3fa,#9caafa,#bcc5fb,#9fadfa,#adb8fa,#a5b2fa,#a0adfa,#a3b0fa,#a5b1fa,#9fadfa,#adb8fa,#a7b3fa,#aeb9fa,#a6b2fa,#acb7fa,#afbafa 220px 225px,#a2affa,#b7c1fa,#b3bdfa,#b8c2fa,#b2bcfa,#b8c2fa,#b4bdfa,#b2bcfa,#9eacfa,#a9b4fa,#afb9fa,#b9c3fb,#afb9fa,#a0adfa,#acb7fa,#a3b0fa,#a7b3fa,#a9b5fa,#acb7fa,#abb6fa,#acb7fa,#afb9fa,#a9b5fa,#a2affa,#a6b2fa,#b6bffa,#a5b2fa,#a7b3fa,#aeb8fa,#a3b0fa,#a5b1fa,#9caafa,#bbc5fb,#a4b1fa,#b2bcfa,#a8b4fa,#a6b2fa,#9fadfa,#a8b4fa,#afb9fa,#a4b0fa,#a6b2fa,#a1aefa,#c0c9fb,#a9b5fa)"></i><i style="height:3px;background:linear-gradient(90deg,#4c74fa 0px 5px,#5579fa,#4c74fa,#5278fa,#5378fa,#6482fa,#577bfa,#6d88fa 40px 45px,#8297fa,#6a86fa,#7a91fa,#7e94fa,#7c93fa,#889bfa,#8c9efa,#93a3fa,#8e9ffa,#a1affa,#a5b2fa 100px 105px,#a5b1fa,#a8b4fa,#9dabfa,#a8b4fa,#98a7fa,#9fadfa,#a7b3fa,#a8b4fa,#a3b0fa,#97a6fa,#a5b2fa,#afb9fa,#a8b4fa,#90a1fa,#b0bafa,#abb6fa,#a9b4fa,#adb8fa,#9fadfa,#aeb8fa,#aab5fa,#a5b2fa,#a5b1fa,#abb6fa,#a8b4fa,#aab5fa,#c6cffb,#a4b0fa,#a7b3fa,#aab5fa,#a2affa,#b8c1fa,#a0adfa,#adb8fa,#b0bafa,#b1bbfa,#a6b2fa,#aeb8fa,#a4b0fa,#b4befa,#a0aefa,#abb6fa,#9caafa,#a6b2fa,#acb7fa,#abb6fa,#b8c2fa,#abb6fa,#b3bdfa,#aeb8fa,#9aa9fa,#b1bbfa,#a5b1fa,#a5b2fa,#abb6fa,#aab5fa,#aeb8fa,#9caafa,#a5b1fa,#a1affa,#b7c1fa,#aab5fa,#b1bbfa,#a1aefa,#abb6fa,#afb9fa,#a8b4fa 440px 445px,#aab5fa)"></i><i style="height:3px;background:linear-gradient(90deg,#3e6cfa,#4570fa,#5278fa,#4872fa,#5b7dfa,#6482fa,#718bfa,#758efa,#6f8afa,#738dfa,#899cfa,#738cfa,#6b87fa,#8599fa 65px 70px,#8498fa,#95a5fa,#899cfa,#98a7fa,#97a7fa,#97a6fa,#a2affa,#9aa9fa,#adb8fa,#acb7fa,#a2affa,#aab5fa 130px 135px,#a7b3fa,#a2affa,#9eacfa,#9aa9fa,#9dacfa,#a1aefa,#aeb9fa,#afb9fa,#b2bcfa,#abb6fa,#a7b3fa,#9aa9fa,#aeb8fa,#a4b0fa,#acb7fa,#a9b4fa,#b7c0fa,#97a6fa,#a7b3fa,#a8b4fa 235px 240px,#b3bdfa,#a2affa,#a5b2fa,#a1affa,#9cabfa,#a2affa,#acb7fa,#aab5fa,#b3bdfa,#97a6fa,#b3bdfa,#9fadfa,#aeb9fa,#a6b2fa,#a8b4fa,#afb9fa,#a1aefa,#a2affa,#a7b3fa,#a1affa,#9baafa,#b0bafa,#acb7fa,#b2bcfa,#aeb8fa,#aab5fa 370px 375px,#a7b3fa,#9caafa,#a2affa,#abb6fa,#a4b1fa,#acb7fa,#a1aefa,#abb6fa,#a9b5fa,#b3bdfa,#acb7fa,#9aa9fa,#bec7fb,#a9b5fa,#adb8fa)"></i><i style="height:3px;background:linear-gradient(90deg,#597bfa,#426ffa,#587bfa,#5c7dfa,#5e7ffa,#6080fa,#718bfa,#6180fa,#758efa,#6e89fa,#8297fa,#7b92fa,#7c93fa,#7f95fa,#8096fa,#8599fa,#92a3fa,#9aa9fa,#8d9ffa,#94a4fa,#abb6fa,#9dabfa,#9cabfa,#a8b4fa,#abb6fa,#9eacfa,#a2affa,#b0bafa,#a7b3fa,#9eacfa,#aab6fa,#9baafa,#b3bdfa,#9facfa,#aab5fa,#b0bafa,#abb6fa,#a2affa,#b3bdfa,#a1aefa,#a4b0fa,#bdc6fb,#a7b3fa,#a0aefa,#aeb9fa,#c0c9fb,#a3b0fa,#a1aefa,#9eacfa,#b0bafa,#b1bbfa,#adb8fa,#a0adfa,#b0bafa,#a8b4fa,#b7c0fa,#9eacfa,#a9b5fa,#a8b4fa,#90a1fa,#a1aefa,#a5b1fa,#a9b4fa,#aab6fa,#b5bffa,#a2affa,#abb6fa,#aab6fa,#b6bffa,#a0adfa,#a8b4fa,#a7b3fa,#acb7fa,#a5b1fa,#a2affa,#a4b1fa,#b1bbfa,#b7c1fa,#aab5fa,#a5b2fa,#bec8fb,#b0bafa,#adb8fa,#a9b4fa,#a1aefa,#acb7fa,#a2affa,#abb6fa,#a2affa,#aeb8fa,#a9b5fa)"></i><i style="height:3px;background:linear-gradient(90deg,#4f76fa 0px 5px,#6583fa,#5177fa,#5c7efa,#5f7ffa,#7a92fa,#6f8afa,#768ffa,#708afa,#7d93fa,#7d94fa,#879afa,#768ffa,#8ea0fa,#8297fa,#8e9ffa,#91a2fa,#93a4fa,#9cabfa,#99a8fa,#a8b4fa,#a2affa,#a0aefa,#b7c1fa,#9aa9fa,#a6b3fa,#a8b4fa,#afb9fa,#a9b4fa,#b3bdfa,#b0bafa,#aeb8fa,#a9b4fa,#a9b5fa,#aeb9fa,#adb8fa,#a5b1fa,#afb9fa,#9eacfa,#a5b1fa,#aeb9fa,#b4befa,#a9b4fa,#a2affa,#a8b4fa,#a9b4fa,#b6bffa,#a3b0fa,#b2bcfa,#9eacfa,#a9b5fa,#9dabfa,#a4b1fa,#bac3fb,#aab5fa,#a5b1fa,#9fadfa,#aab6fa,#a6b2fa,#b7c1fa,#a8b4fa,#abb6fa,#a5b1fa,#aab5fa,#abb6fa,#aab5fa,#a5b1fa,#9fadfa,#a2affa,#a1aefa,#b1bbfa,#b5befa,#b2bbfa,#b1bbfa,#a5b2fa,#aab5fa,#abb6fa,#98a8fa,#abb6fa,#a2affa,#a9b4fa,#b1bbfa,#b7c1fa,#adb8fa,#a6b2fa,#a5b2fa,#a0adfa,#a5b1fa,#9baafa,#aeb9fa)"></i><i style="height:3px;background:linear-gradient(90deg,#5b7dfa,#4d75fa,#577bfa,#4872fa,#567afa,#5d7efa,#758efa,#7d94fa,#7d93fa,#748efa,#899cfa,#778ffa,#8095fa,#8398fa,#8096fa,#8095fa,#96a6fa 80px 85px,#93a4fa,#8ea0fa,#9cabfa,#9caafa,#9eacfa,#a0adfa,#a0aefa,#9baafa,#a0aefa,#9eacfa,#a5b2fa,#a9b4fa,#a7b3fa,#a0aefa,#a7b3fa,#b4befa,#a5b1fa,#b1bbfa,#bbc5fb,#a9b5fa,#9caafa,#a2affa,#a4b1fa,#afb9fa,#b1bbfa 210px 215px,#acb7fa,#aeb9fa,#a8b4fa,#a7b3fa,#b0bafa,#a5b2fa,#bcc5fb,#adb8fa 255px 260px,#afb9fa,#abb6fa 270px 275px,#a7b3fa,#a6b2fa,#b7c1fa,#a2affa,#a6b2fa,#a0adfa,#9eacfa,#9caafa,#9fadfa,#a9b4fa,#9eacfa,#a8b4fa,#abb6fa,#a8b4fa,#9baafa,#a1aefa,#a7b3fa,#a8b4fa,#afb9fa,#a2affa,#c8d1fb,#a8b4fa,#abb6fa,#adb8fa,#a2affa,#abb6fa,#9eacfa,#b2bcfa,#99a8fa,#adb8fa,#a3b0fa,#adb7fa,#adb8fa,#a8b4fa,#a3b0fa)"></i><i style="height:2.5px;background:linear-gradient(90deg,#5f7ffa,#5d7efa,#5f7ffa,#5d7efa,#6b87fa,#6180fa,#708afa,#6985fa,#7d93fa,#778ffa,#93a4fa,#8196fa,#8599fa,#8297fa,#8499fa,#8b9dfa,#8fa0fa,#869afa,#9cabfa,#9aa9fa,#a1aefa,#a6b2fa,#a2affa,#a1aefa,#a8b4fa,#96a6fa,#a6b2fa,#a7b3fa,#9baafa,#9caafa,#9eacfa,#9fadfa,#b7c1fa,#acb7fa,#abb6fa,#aeb9fa,#9eacfa,#a2affa,#afb9fa,#b4befa,#b6bffa,#b3bdfa,#a8b4fa,#a5b1fa,#adb8fa,#9eacfa,#abb6fa,#a6b2fa,#b2bcfa,#abb6fa,#b3bdfa,#a9b4fa,#a3b0fa,#abb6fa,#aab5fa,#a0aefa,#acb7fa,#a1aefa,#a7b3fa,#aeb8fa,#afbafa,#a7b3fa,#a2affa,#aab6fa,#b3bdfa,#adb8fa,#a2affa,#a7b3fa,#abb6fa,#a9b5fa,#9aa9fa,#c0c9fb,#b3bdfa,#a1aefa,#a4b1fa,#a6b2fa,#afb9fa,#a2affa,#afb9fa,#adb8fa,#b0bafa,#a5b1fa,#b3bcfa,#a5b1fa,#adb8fa,#a4b1fa,#acb7fa,#9dabfa,#abb6fa,#aab5fa,#adb8fa)"></i></div>
<div class="hm" style="left:133px;top:475.5px;width:449px;height:305px"><i style="height:8px;background:linear-gradient(90deg,#f0f5ff 0px 249px,#e9f0ff 254px 449px)"></i><i style="height:2px;background:linear-gradient(90deg,#f0f5ff 0px 140px,#f1f6ff,#f3f7ff,#f4f7ff,#f4f8ff 160px 175px,#f3f7ff,#f2f7ff,#f1f6ff,#f0f5ff 195px 249px,#e9f0ff 254px 449px)"></i><i style="height:2px;background:linear-gradient(90deg,#f0f5ff 0px 140px,#f2f7ff,#f5f8ff,#f7faff 155px 180px,#f5f8ff,#f2f6ff,#f0f5ff 195px 249px,#e9f0ff 254px 449px)"></i><i style="height:2px;background:linear-gradient(90deg,#f0f5ff 0px 140px,#f3f7ff,#f5f9ff,#f7faff,#f8fbff 160px 175px,#f7faff,#f5f9ff,#f2f7ff,#f0f5ff 195px 249px,#e9f0ff 254px 449px)"></i><i style="height:2px;background:linear-gradient(90deg,#f1f5ff 0px 5px,#f1f6ff 10px 25px,#f1f5ff 30px 35px,#f0f5ff 40px 140px,#f3f7ff,#f6f9ff,#f7faff,#f8fbff 160px 175px,#f7faff,#f5f9ff,#f2f7ff,#f0f5ff 195px 249px,#e9f0ff 254px 449px)"></i><i style="height:2px;background:linear-gradient(90deg,#f3f7ff 0px 5px,#f4f7ff 10px 25px,#f3f7ff 30px 35px,#f2f6ff,#f0f5ff 45px 140px,#f3f7ff,#f5f9ff,#f7faff,#f8fbff 160px 175px,#f7faff,#f5f9ff,#f2f7ff,#f0f5ff 195px 249px,#e9f0ff 254px 449px)"></i><i style="height:2px;background:linear-gradient(90deg,#f5f9ff,#f6f9ff,#f7faff 10px 20px,#f6faff,#f6f9ff,#f5f8ff,#f3f7ff,#f1f6ff,#f0f5ff 50px 140px,#f2f6ff,#f4f8ff,#f5f9ff,#f6f9ff 160px 175px,#f5f9ff,#f4f8ff,#f2f6ff,#f0f5ff 195px 249px,#e9f0ff 254px 449px)"></i><i style="height:2px;background:linear-gradient(90deg,#f6f9ff,#f8faff,#f8fbff 10px 25px,#f7faff,#f6f9ff,#f4f8ff,#f1f6ff,#f0f5ff 50px 145px,#f1f6ff,#f2f6ff 155px 180px,#f1f6ff,#f0f5ff 190px 249px,#e9f0ff 254px 449px)"></i><i style="height:2px;background:linear-gradient(90deg,#f7faff,#f8faff,#f8fbff 10px 25px,#f8faff,#f6f9ff,#f4f8ff,#f1f6ff,#f0f5ff 50px 75px,#f1f5ff,#f1f6ff,#f2f6ff 90px 105px,#f1f6ff,#f1f5ff,#f0f5ff 120px 249px,#e9f0ff 254px 449px)"></i><i style="height:2px;background:linear-gradient(90deg,#f7faff,#f8faff,#f8fbff 10px 25px,#f8faff,#f6f9ff,#f4f8ff,#f1f6ff,#f0f5ff 50px 75px,#f2f7ff,#f5f8ff,#f6f9ff 90px 105px,#f5f8ff,#f2f6ff,#f0f5ff 120px 249px,#e9f0ff 254px 449px)"></i><i style="height:2px;background:linear-gradient(90deg,#f7faff,#f8faff,#f8fbff 10px 25px,#f8faff,#f6f9ff,#f4f8ff,#f1f6ff,#f0f5ff 50px 75px,#f3f7ff,#f6f9ff,#f8faff,#f8fbff 95px 100px,#f8faff,#f6f9ff,#f3f7ff,#f0f5ff 120px 249px,#e9f0ff 254px 449px)"></i><i style="height:2px;background:linear-gradient(90deg,#f6f9ff,#f7faff 5px 30px,#f6f9ff,#f4f7ff,#f1f6ff,#f0f5ff 50px 70px,#f1f5ff,#f3f7ff,#f7faff,#f8fbff 90px 105px,#f6f9ff,#f3f7ff,#f0f5ff 120px 249px,#e9f0ff 254px 449px)"></i><i style="height:2px;background:linear-gradient(90deg,#f4f8ff,#f5f8ff,#f5f9ff 10px 25px,#f5f8ff,#f4f8ff,#f2f7ff,#f1f6ff,#f0f5ff 50px 70px,#f1f5ff,#f3f7ff,#f7faff,#f8fbff 90px 105px,#f6f9ff,#f3f7ff,#f0f5ff 120px 249px,#e9f0ff 254px 449px)"></i><i style="height:2px;background:linear-gradient(90deg,#f2f6ff 0px 35px,#f1f6ff,#f0f5ff 45px 75px,#f3f7ff,#f6f9ff,#f7faff 90px 105px,#f6f9ff,#f3f7ff,#f0f5ff 120px 249px,#e9f0ff 254px 449px)"></i><i style="height:2px;background:linear-gradient(90deg,#f0f5ff 0px 75px,#f2f6ff,#f3f7ff,#f4f8ff 90px 105px,#f3f7ff,#f1f6ff,#f0f5ff 120px 249px,#e9f0ff 254px 449px)"></i><i style="height:6px;background:linear-gradient(90deg,#f0f5ff 0px 249px,#e9f0ff 254px 449px)"></i><i style="height:2px;background:linear-gradient(90deg,#f0f5ff 0px 25px,#f1f6ff 30px 40px,#f1f5ff,#f0f5ff 50px 249px,#e9f0ff 254px 449px)"></i><i style="height:2px;background:linear-gradient(90deg,#f0f5ff 0px 25px,#f3f7ff 30px 40px,#f2f7ff,#f0f5ff 50px 249px,#e9f0ff 254px 449px)"></i><i style="height:2px;background:linear-gradient(90deg,#f0f5ff 0px 25px,#f5f8ff,#f6f9ff 35px 40px,#f4f8ff,#f0f5ff 50px 249px,#e9f0ff 254px 449px)"></i><i style="height:2px;background:linear-gradient(90deg,#f0f5ff 0px 20px,#f1f5ff,#f6f9ff,#f8faff,#f7faff,#f5f8ff,#f0f5ff 50px 249px,#e9f0ff 254px 449px)"></i><i style="height:8px;background:linear-gradient(90deg,#f0f5ff 0px 20px,#f1f5ff,#f6f9ff,#f8fbff 35px 40px,#f5f9ff,#f0f5ff 50px 249px,#e9f0ff 254px 449px)"></i><i style="height:2px;background:linear-gradient(90deg,#f0f5ff 0px 20px,#f1f5ff,#f6f9ff,#f8fbff,#f8faff,#f5f9ff,#f0f5ff 50px 249px,#e9f0ff 254px 449px)"></i><i style="height:2px;background:linear-gradient(90deg,#f0f5ff 0px 20px,#f1f5ff,#f5f9ff,#f7faff 35px 40px,#f5f8ff,#f0f5ff 50px 249px,#e9f0ff 254px 449px)"></i><i style="height:2px;background:linear-gradient(90deg,#f0f5ff 0px 25px,#f4f7ff,#f5f8ff 35px 40px,#f3f7ff,#f0f5ff 50px 249px,#e9f0ff 254px 449px)"></i><i style="height:2px;background:linear-gradient(90deg,#f0f5ff 0px 25px,#f2f6ff 30px 40px,#f1f6ff,#f0f5ff 50px 249px,#e9f0ff 254px 449px)"></i><i style="height:2px;background:linear-gradient(90deg,#f0f5ff 0px 249px,#e9f0ff 254px 449px)"></i><i style="height:2px;background:linear-gradient(90deg,#f1f6ff,#f2f6ff 5px 10px,#f1f6ff,#f0f5ff 20px 249px,#e9f0ff 254px 449px)"></i><i style="height:2px;background:linear-gradient(90deg,#f3f7ff 0px 15px,#f1f5ff,#f0f5ff 25px 249px,#e9f0ff 254px 449px)"></i><i style="height:2px;background:linear-gradient(90deg,#f5f8ff,#f5f9ff 5px 10px,#f4f8ff,#f1f6ff,#f0f5ff 25px 249px,#e9f0ff 254px 449px)"></i><i style="height:2px;background:linear-gradient(90deg,#f6f9ff,#f7faff 5px 10px,#f5f9ff,#f1f6ff,#f0f5ff 25px 249px,#e9f0ff 254px 449px)"></i><i style="height:2px;background:linear-gradient(90deg,#f7faff,#f8faff 5px 10px,#f6f9ff,#f2f6ff,#f0f5ff 25px 185px,#eff4ff,#eaf0ff 195px 200px,#eff4ff,#f0f5ff 210px 249px,#e9f0ff 254px 449px)"></i><i style="height:2px;background:linear-gradient(90deg,#f7faff,#f8fbff 5px 10px,#f7faff,#f2f6ff,#f0f5ff 25px 180px,#edf3ff,#e6eeff,#e2ebff 195px 200px,#e6eeff,#edf3ff,#f0f5ff 215px 249px,#e9f0ff 254px 449px)"></i><i style="height:2px;background:linear-gradient(90deg,#f7faff,#f8fbff 5px 10px,#f7faff,#f2f6ff,#f0f5ff 25px 170px,#eff4ff,#e9f0ff,#e3ecff,#e2ebff 190px 205px,#e3ecff,#eaf0ff,#eff4ff,#f0f5ff 224px 249px,#e9f0ff 254px 449px)"></i><i style="height:2px;background:linear-gradient(90deg,#f7faff,#f8fbff 5px 10px,#f7faff,#f2f6ff,#f0f5ff 25px 160px,#eff4ff,#edf3ff,#e6eeff,#e2ebff 180px 215px,#e6eeff,#edf3ff,#f0f5ff 229px 249px,#e9f0ff 254px 449px)"></i><i style="height:2px;background:linear-gradient(90deg,#f7faff,#f8fbff 5px 10px,#f7faff,#f2f6ff,#f0f5ff 25px 120px,#eff5ff,#eff4ff,#eef3ff,#edf3ff,#ecf2ff,#ebf1ff,#e9f0ff,#e8efff,#e7eeff,#e3ecff,#e2ebff 175px 220px,#e3ecff,#ecf2ff,#f0f5ff 234px 249px,#e9f0ff 254px 449px)"></i><i style="height:2px;background:linear-gradient(90deg,#f7faff,#f8fbff 5px 10px,#f7faff,#f2f6ff,#f0f5ff 25px 100px,#eff4ff,#edf3ff,#ecf2ff,#e9f0ff,#e7efff,#e6eeff,#e4edff,#e4ecff,#e3ecff,#e2ebff 150px 224px,#e3ecff,#eef4ff,#f0f5ff 239px 249px,#e9f0ff 254px 449px)"></i><i style="height:2px;background:linear-gradient(90deg,#f7faff,#f8fbff 5px 10px,#f7faff,#f2f6ff,#f0f5ff 25px 80px,#eef4ff,#ecf2ff,#eaf1ff,#e8efff,#e6eeff,#e4ecff,#e3ebff,#e2ebff 120px 229px,#e5edff,#eff5ff,#f0f5ff 244px 249px,#e9f0ff 254px 449px)"></i><i style="height:2px;background:linear-gradient(90deg,#f7faff,#f8faff 5px 10px,#f6f9ff,#f2f6ff,#f0f5ff 25px 75px,#e9f0ff,#e5edff,#e3ecff,#e2ebff 95px 234px,#e7efff,#f0f5ff 244px 249px,#e9f0ff 254px 449px)"></i><i style="height:2px;background:linear-gradient(90deg,#f6f9ff,#f7faff 5px 10px,#f6f9ff,#f2f6ff,#f0f5ff 25px 70px,#e9f0ff,#e2ebff 80px 239px,#eaf1ff,#eff4ff,#e9f0ff 254px 449px)"></i><i style="height:2px;background:linear-gradient(90deg,#f5f9ff,#f6f9ff 5px 10px,#f5f8ff,#f1f6ff,#f0f5ff 25px 65px,#eaf1ff,#e2ebff 75px 244px,#e7eeff,#e8efff,#e9f0ff 259px 449px)"></i><i style="height:2px;background:linear-gradient(90deg,#f4f8ff 0px 10px,#f3f7ff,#f1f6ff,#f0f5ff 25px 60px,#ebf1ff,#e2ebff 70px 269px,#e3ecff,#e4ecff,#e4edff,#e5edff,#e6eeff,#e7efff,#e9f0ff 304px 449px)"></i><i style="height:2px;background:linear-gradient(90deg,#f2f6ff,#f2f7ff 5px 10px,#f2f6ff,#f0f5ff 20px 55px,#ecf2ff,#e2ebff 65px 319px,#e3ebff 324px 329px,#e3ecff 334px 364px,#e4ecff 369px 384px,#e4edff 389px 399px,#e5edff 404px 429px,#e6eeff 434px 449px)"></i><i style="height:2px;background:linear-gradient(90deg,#f0f5ff 0px 15px,#eff4ff 20px 50px,#ecf2ff,#e3ebff,#e2ebff 65px 449px)"></i><i style="height:2px;background:linear-gradient(90deg,#e7eeff 0px 15px,#e6eeff 20px 50px,#e3ecff,#e2ebff 60px 449px)"></i><i style="height:2px;background:#e2ebff"></i><i style="height:2px;background:linear-gradient(90deg,#e2ebff 0px 180px,#e1eaff,#e0eaff,#dfe9ff 195px 200px,#e0eaff,#e1eaff,#e2ebff 215px 449px)"></i><i style="height:2px;background:linear-gradient(90deg,#e2ebff 0px 145px,#e1eaff 150px 155px,#e0e9ff,#dfe9ff,#dee8ff,#dde7ff,#dbe6ff,#dae5ff,#d9e5ff,#d8e4ff 195px 200px,#d9e5ff,#dae5ff,#dbe6ff,#dde7ff,#dee8ff,#e1eaff,#e2ebff 234px 449px)"></i><i style="height:2px;background:linear-gradient(90deg,#e0e9ff,#e1eaff,#e2ebff 10px 80px,#e1eaff 85px 100px,#e0eaff,#e0e9ff 110px 115px,#dfe9ff 120px 125px,#dee8ff,#dde8ff,#dce7ff,#dbe6ff,#dae6ff,#d9e5ff,#d9e4ff,#d8e4ff 165px 224px,#dae5ff,#dee8ff,#e2ebff 239px 449px)"></i><i style="height:2px;background:linear-gradient(90deg,#d3e0ff,#d4e1ff,#d6e2ff,#d8e4ff,#d9e5ff,#dbe6ff,#dce7ff,#dee8ff,#e0eaff,#e1ebff 45px 50px,#e1eaff,#e0eaff,#dfe9ff,#dee8ff,#dce7ff,#dbe6ff,#dae6ff,#dae5ff 90px 95px,#d9e5ff 100px 105px,#d9e4ff 110px 115px,#d8e4ff 120px 234px,#dbe6ff,#e0e9ff,#e2ebff 249px 449px)"></i><i style="height:2px;background:linear-gradient(90deg,#c2d4ff,#c4d6ff,#c6d7ff,#c8d9ff,#cadaff,#ccdcff,#ceddff,#d0dfff,#d3e0ff,#d6e2ff,#d8e4ff,#dae6ff,#d9e5ff,#d8e4ff 65px 239px,#d9e4ff,#dbe6ff,#dce6ff,#dce7ff,#dde7ff,#dde8ff,#dee8ff 274px 279px,#dfe9ff 284px 289px,#e0e9ff,#e0eaff,#e1eaff 304px 314px,#e2ebff 319px 449px)"></i><i style="height:2px;background:linear-gradient(90deg,#aec6ff,#b0c8ff,#b3caff,#b5cbff,#b8cdff,#bacfff,#bcd0ff,#bfd2ff,#c3d5ff,#c6d7ff,#c9d9ff,#ccdbff,#cfddff,#d1dfff,#d5e2ff,#d8e4ff 75px 289px,#d9e4ff,#d9e5ff,#dae5ff 304px 309px,#dbe6ff 314px 319px,#dce6ff,#dce7ff,#dde7ff,#dde8ff,#dee8ff,#dee9ff,#dfe9ff,#e0e9ff,#e0eaff 364px 369px,#e1eaff 374px 379px,#e1ebff,#e2ebff 389px 449px)"></i><i style="height:2px;background:linear-gradient(90deg,#96b5ff,#99b7ff,#9cb9ff,#9fbbff,#a2bdff,#a4bfff,#a7c1ff,#abc4ff,#afc7ff,#b2c9ff,#b6ccff,#bacfff,#bdd1ff,#c1d3ff,#c5d6ff,#c9d9ff,#cddcff,#d1dfff,#d4e1ff,#d7e3ff,#d8e4ff 100px 354px,#d9e4ff,#d9e5ff 364px 369px,#dae5ff,#dae6ff,#dbe6ff 384px 389px,#dce7ff,#dde7ff,#dde8ff,#dee8ff 409px 414px,#dfe9ff 419px 424px,#e0e9ff,#e0eaff,#e1eaff 439px 444px,#e1ebff)"></i><i style="height:2px;background:linear-gradient(90deg,#78a0ff,#7ca3ff,#80a5ff,#83a8ff,#87abff,#8aadff,#8eafff,#92b2ff,#97b6ff,#9bb9ff,#a0bcff,#a4bfff,#a8c2ff,#acc5ff,#b1c8ff,#b6ccff,#bbd0ff,#c0d3ff,#c4d6ff,#c8d8ff,#cbdbff,#cfddff,#d2e0ff,#d5e2ff,#d8e4ff 120px 424px,#d9e4ff,#d9e5ff,#dae5ff 439px 444px,#dbe6ff)"></i><i style="height:2px;background:linear-gradient(90deg,#5083ff,#5587ff,#5a8bff,#5f8eff,#6492ff,#6995ff,#6d98ff,#739cff,#79a1ff,#7fa5ff,#85a9ff,#8aadff,#8fb0ff,#94b4ff,#9ab8ff,#a0bcff,#a6c0ff,#acc4ff,#b0c8ff,#b5cbff,#b9ceff,#bdd1ff,#c1d4ff,#c5d6ff,#c8d9ff,#ccdbff,#cfdeff,#d2e0ff,#d5e2ff,#d8e4ff 145px 449px)"></i><i style="height:2px;background:linear-gradient(90deg,#1d5fff,#2364ff,#2968ff,#2f6cff,#3571ff,#3b75ff,#4179ff,#497eff,#5184ff,#598aff,#618fff,#6895ff,#6f99ff,#759eff,#7da3ff,#85a9ff,#8caeff,#93b3ff,#99b7ff,#9ebbff,#a3bfff,#a8c2ff,#adc5ff,#b1c9ff,#b6ccff,#baceff,#bed1ff,#c1d4ff,#c5d6ff,#c8d9ff,#ccdbff,#cfdeff,#d2e0ff,#d5e2ff,#d8e4ff 170px 449px)"></i><i style="height:2px;background:linear-gradient(90deg,#0081ff,#0074ff,#0065ff,#0055ff,#024cff,#0850ff,#0d54ff,#155aff,#1f61ff,#2867ff,#316eff,#3a74ff,#437bff,#4c81ff,#5688ff,#6190ff,#6b97ff,#749dff,#7ca3ff,#83a7ff,#89acff,#8fb0ff,#95b4ff,#9ab8ff,#9fbcff,#a4bfff,#a9c2ff,#adc5ff,#b1c9ff,#b6ccff,#baceff,#bdd1ff,#c1d4ff,#c5d6ff,#c9d9ff,#ceddff,#d2e0ff,#d7e3ff,#d8e4ff 190px 269px,#d6e3ff,#d3e1ff,#d3e0ff 284px 314px,#d4e1ff,#d6e2ff,#d7e3ff,#d8e4ff 334px 449px)"></i><i style="height:2px;background:linear-gradient(90deg,#00b6ff,#00aaff,#00a9ff,#00a6ff,#00a2ff,#009dff,#0097ff,#008dff,#007dff,#0068ff,#0050ff,#0750ff,#1056ff,#195dff,#2465ff,#316eff,#3e77ff,#4a80ff,#5587ff,#5e8eff,#6794ff,#6f99ff,#769fff,#7da4ff,#84a8ff,#8aacff,#8fb1ff,#95b4ff,#9ab8ff,#9fbcff,#a4bfff,#a8c2ff,#adc5ff,#b1c9ff,#b6ccff,#bcd0ff,#c2d4ff,#c7d8ff,#ccdbff,#d1dfff,#d5e2ff,#d8e4ff 205px 264px,#d3e1ff,#ceddff,#cbdaff 279px 284px,#cadaff,#cbdaff,#cbdbff 299px 309px,#ccdbff,#cddcff,#d0deff,#d2dfff,#d3e1ff,#d5e2ff,#d6e3ff,#d8e4ff 349px 449px)"></i><i style="height:2px;background:linear-gradient(90deg,#12ffed,#0ffff0,#0bfff4,#06fff9,#00ffff,#00f7ff,#00ebff,#00d6ff,#00b7ff,#00a9ff,#00a5ff,#009eff,#0094ff,#0087ff,#0071ff,#0050ff,#0a52ff,#175bff,#2364ff,#2e6bff,#3973ff,#437aff,#4d82ff,#5788ff,#5f8fff,#6894ff,#6f9aff,#769fff,#7da4ff,#84a8ff,#8aacff,#8fb0ff,#95b4ff,#9ab8ff,#a0bcff,#a7c1ff,#aec6ff,#b4caff,#bacfff,#bfd3ff,#c5d7ff,#cbdbff,#d0deff,#d5e2ff,#d8e4ff 220px 254px,#d6e3ff,#d0deff,#c9daff,#c3d5ff,#c0d3ff 279px 289px,#c1d3ff,#c1d4ff,#c2d4ff,#c2d5ff,#c3d5ff,#c5d7ff,#c8d9ff,#cbdaff,#cddcff,#cfddff,#d1dfff,#d3e0ff,#d4e1ff,#d6e2ff,#d7e3ff,#d8e4ff 369px 449px)"></i><i style="height:2px;background:linear-gradient(90deg,#4affb5,#4bffb5,#4bffb4,#4affb5,#4bffb5 20px 25px,#4affb6,#45ffbb,#3cffc4,#30ffcf,#21ffde,#0ffff0,#00f8ff,#00d5ff,#00aaff,#00a5ff,#009aff,#008aff,#0074ff,#0059ff,#054fff,#0f56ff,#1a5dff,#2565ff,#306dff,#3a74ff,#447bff,#4e82ff,#5788ff,#5f8fff,#6794ff,#6f9aff,#769fff,#7da4ff,#85a9ff,#8eafff,#96b5ff,#9dbaff,#a4bfff,#abc4ff,#b2c9ff,#b9ceff,#bfd2ff,#c5d7ff,#cbdbff,#d0deff,#d5e2ff,#d8e4ff 234px 249px,#d4e1ff,#ccdbff,#c4d6ff,#bcd0ff,#b5cbff,#b2c9ff,#b3caff,#b4caff,#b5cbff,#b6ccff,#b7ccff,#b8cdff,#b9ceff,#bcd0ff,#bfd3ff,#c3d5ff,#c5d6ff,#c7d8ff,#cadaff,#ccdbff,#ceddff,#d0deff,#d2e0ff,#d3e1ff,#d5e2ff,#d6e3ff,#d8e4ff 384px 449px)"></i><i style="height:2px;background:linear-gradient(90deg,#7dff83,#81ff7f,#85ff7b,#88ff78,#8dff73,#92ff6d,#97ff69,#99ff67,#97ff69,#94ff6c,#8cff74,#81ff7f,#73ff8d,#64ff9b,#4effb2,#31ffce,#11ffee,#00e4ff,#00aaff,#00a7ff,#00a0ff,#0094ff,#0085ff,#006fff,#0054ff,#064fff,#1057ff,#1b5eff,#2565ff,#306dff,#3a74ff,#447bff,#4d82ff,#5788ff,#6190ff,#6d98ff,#77a0ff,#81a6ff,#8aadff,#92b2ff,#9ab8ff,#a3beff,#aac4ff,#b2c9ff,#b8ceff,#bfd2ff,#c6d7ff,#ccdcff,#d3e0ff,#d8e4ff 244px 249px,#c6d8ff,#bdd1ff,#b4caff,#acc5ff,#a5c0ff,#a2beff,#a4bfff,#a5c0ff,#a7c1ff,#a9c2ff,#aac4ff,#acc5ff,#aec6ff,#b1c9ff,#b6ccff,#b9ceff,#bcd0ff,#bfd2ff,#c2d4ff,#c5d6ff,#c7d8ff,#cadaff,#cbdbff,#cddcff,#cfdeff,#d1dfff,#d2e0ff,#d4e1ff,#d6e2ff,#d7e3ff,#d8e4ff 404px 449px)"></i><i style="height:2px;background:linear-gradient(90deg,#a9ff57,#b0ff50,#b7ff49,#bdff43,#c6ff3a,#d0ff2f,#daff26,#e1ff1e,#e6ff1a,#e9ff16,#e7ff18,#e1ff1e,#daff26,#d1ff2e,#c2ff3d,#aeff52,#97ff69,#7eff82,#63ff9d,#48ffb8,#2affd5,#0bfff4,#00daff,#00a9ff,#00a6ff,#009fff,#0093ff,#0084ff,#006fff,#0055ff,#064fff,#1056ff,#1a5eff,#2565ff,#326eff,#4179ff,#4f83ff,#5c8cff,#6895ff,#739cff,#7ea4ff,#88abff,#91b2ff,#9ab8ff,#a2beff,#aac4ff,#b2c9ff,#bacfff,#c2d4ff,#c9d9ff,#d0deff,#b4caff,#a9c3ff,#a0bcff,#98b7ff,#92b2ff,#90b1ff,#92b3ff,#95b4ff,#97b6ff,#9ab8ff,#9dbaff,#9fbcff,#a2beff,#a6c1ff,#abc4ff,#afc7ff,#b3c9ff,#b6ccff,#b9ceff,#bcd0ff,#c0d3ff,#c2d5ff,#c4d6ff,#c7d8ff,#c9d9ff,#cbdaff,#cddcff,#cfddff,#d1dfff,#d2e0ff,#d4e1ff,#d5e2ff,#d6e3ff,#d8e4ff 419px 449px)"></i><i style="height:2px;background:linear-gradient(90deg,#cfff31,#d9ff27,#e2ff1d,#ebff14,#f8ff07,#fff800,#ffeb00,#ffe000,#ffd600,#ffce00,#ffcb00,#ffcc00,#ffcf00,#ffd200,#ffda00,#ffe700,#fff600,#f6ff09,#e3ff1c,#d0ff30,#baff45,#a3ff5c,#8bff75,#6fff91,#4fffb1,#2dffd3,#09fff6,#00d5ff,#00a9ff,#00a6ff,#009fff,#0093ff,#0085ff,#006fff,#004eff,#0d54ff,#1c5fff,#2b6aff,#3a74ff,#497fff,#5789ff,#6593ff,#729cff,#7ea4ff,#88abff,#91b2ff,#9bb9ff,#a5c0ff,#aec6ff,#b6ccff,#bed2ff,#9cb9ff,#91b2ff,#88acff,#82a7ff,#7da3ff,#7ca3ff,#80a5ff,#83a8ff,#87aaff,#8aadff,#8eafff,#91b2ff,#95b5ff,#9ab8ff,#a0bcff,#a4bfff,#a8c2ff,#acc5ff,#b0c8ff,#b4caff,#b7cdff,#bacfff,#bdd1ff,#bfd2ff,#c2d4ff,#c4d6ff,#c6d7ff,#c9d9ff,#cbdbff,#cddcff,#ceddff,#d0deff,#d1dfff,#d3e0ff,#d4e1ff,#d6e2ff,#d7e4ff,#d8e4ff 439px 449px)"></i><i style="height:2px;background:linear-gradient(90deg,#f0ff10,#fcff03,#fff700,#ffec00,#ffdd00,#ffcd00,#ffbc00,#ffad00,#ff9f00,#ff9200,#ff8b00,#ff8900,#ff8700,#ff8600,#ff8a00,#ff9200,#ff9c00,#ffa700,#ffb300,#ffc000,#ffcf00,#ffde00,#ffef00,#fdff02,#e4ff1b,#c7ff38,#a7ff59,#84ff7c,#60ffa0,#3effc2,#1cffe3,#00faff,#00cbff,#00a9ff,#00a5ff,#0097ff,#0082ff,#0060ff,#0750ff,#155aff,#2666ff,#3772ff,#487eff,#5789ff,#6593ff,#729cff,#7fa5ff,#8badff,#96b5ff,#a0bcff,#a9c3ff,#7ea4ff,#749dff,#6e99ff,#6996ff,#6693ff,#6894ff,#6c98ff,#719bff,#769eff,#7ba2ff,#7fa5ff,#84a8ff,#88acff,#8eafff,#94b4ff,#9ab8ff,#9ebbff,#a2beff,#a6c1ff,#abc4ff,#afc7ff,#b2c9ff,#b5cbff,#b8cdff,#bacfff,#bdd1ff,#c0d3ff,#c2d5ff,#c5d6ff,#c7d8ff,#c8d9ff,#cadaff,#ccdbff,#ceddff,#cfdeff,#d1dfff,#d3e0ff,#d4e1ff,#d6e2ff,#d8e4ff)"></i><i style="height:2px;background:linear-gradient(90deg,#fff400,#ffe600,#ffd900,#ffcd00,#ffbc00,#ffa800,#ff9500,#ff8200,#ff7000,#ff5f00,#ff5500,#ff4f00,#ff4a00,#ff4600 65px 70px,#ff4a00,#ff4f00,#ff5500,#ff5d00,#ff6700,#ff7100,#ff7b00,#ff8700,#ff9300,#ffa500,#ffbb00,#ffd700,#fff700,#e6ff1a,#c4ff3c,#a1ff5f,#7dff83,#5affa6,#3affc5,#18ffe7,#00f0ff,#00bdff,#00a8ff,#009eff,#008cff,#006dff,#044eff,#1459ff,#2666ff,#3772ff,#487eff,#598aff,#6995ff,#78a0ff,#85a9ff,#90b1ff,#5b8cff,#5587ff,#5285ff,#5084ff,#5083ff,#5386ff,#598aff,#5f8eff,#6593ff,#6b97ff,#719bff,#769fff,#7ca3ff,#82a7ff,#89acff,#8fb0ff,#94b4ff,#99b7ff,#9dbaff,#a2beff,#a6c1ff,#aac4ff,#adc6ff,#b0c8ff,#b3caff,#b6ccff,#b9ceff,#bcd0ff,#bfd2ff,#c1d3ff,#c3d5ff,#c5d6ff,#c7d8ff,#c8d9ff,#cadaff,#ccdcff,#ceddff,#d0deff,#d2dfff,#d3e1ff)"></i><i style="height:2px;background:linear-gradient(90deg,#ffdf00,#ffd000,#ffc200,#ffb300,#ffa000,#ff8a00,#ff7400,#ff5f00,#ff4a00,#ff3500,#ff2800,#ff2000,#ff1900,#ff1100,#ff0e00,#ff0f00,#ff1100,#ff1300,#ff1700,#ff1d00,#ff2300,#ff2a00,#ff3100,#ff3900,#ff4600,#ff5700,#ff7000,#ff8e00,#ffad00,#ffcb00,#ffed00,#ecff13,#c7ff39,#a3ff5c,#7eff82,#56ffaa,#31ffce,#11ffee,#00efff,#00c7ff,#00a9ff,#00a1ff,#008eff,#006dff,#044eff,#1459ff,#2767ff,#3c75ff,#4f83ff,#6190ff,#719bff,#3872ff,#3671ff 259px 264px,#3873ff,#3b74ff,#4078ff,#477dff,#4e83ff,#5688ff,#5d8dff,#6391ff,#6a96ff,#719bff,#78a0ff,#7fa5ff,#86aaff,#8badff,#90b1ff,#95b4ff,#9ab8ff,#9fbbff,#a3beff,#a6c1ff,#a9c3ff,#adc5ff,#b0c8ff,#b3caff,#b6ccff,#b9ceff,#bbcfff,#bdd1ff,#bfd2ff,#c1d4ff,#c3d5ff,#c5d7ff,#c7d8ff,#c9daff,#cbdbff,#cddcff,#cfdeff)"></i><i style="height:2px;background:linear-gradient(90deg,#ffcf00,#ffbf00,#ffaf00,#ff9f00,#ff8b00,#ff7300,#ff5b00,#ff4400,#ff2c00,#ff1500,#ff0600,#fb0000,#f10000,#e80000,#e30000,#e10000,#e00000,#df0000,#e00000,#e30000,#e70000,#ea0000,#ee0000,#f30000,#fb0000,#ff0800,#ff1c00,#ff3800,#ff5400,#ff7000,#ff9100,#ffb600,#ffda00,#fffd00,#d8ff27,#aeff52,#86ff7a,#5fffa0,#3effc2,#21ffde,#08fff7,#00e9ff,#00c5ff,#00a9ff,#00a1ff,#008eff,#006aff,#0851ff,#1d5fff,#326eff,#467cff,#165aff,#195dff,#1d60ff,#2364ff,#2867ff,#2f6dff,#3873ff,#4078ff,#497fff,#5184ff,#5889ff,#608fff,#6794ff,#6f99ff,#779fff,#7ea4ff,#83a8ff,#88abff,#8eafff,#93b3ff,#98b7ff,#9dbaff,#a0bcff,#a4bfff,#a7c1ff,#aac4ff,#aec6ff,#b1c8ff,#b4cbff,#b6ccff,#b8ceff,#bbcfff,#bdd1ff,#bfd2ff,#c1d4ff,#c3d5ff,#c5d7ff,#c7d8ff,#c9d9ff,#cbdbff)"></i><i style="height:2px;background:linear-gradient(90deg,#ffc300,#ffb300,#ffa200,#ff9100,#ff7c00,#ff6300,#ff4900,#ff3000,#ff1700,#fe0000,#ed0000,#e20000,#d60000,#cb0000,#c50000,#c10000,#be0000,#bb0000,#ba0000,#bb0000,#bd0000,#be0000,#c00000,#c20000,#c60000,#cd0000,#dc0000,#f40000,#ff0d00,#ff2600,#ff4500,#ff6900,#ff8d00,#ffb000,#ffd700,#fdff02,#d2ff2d,#a8ff57,#84ff7c,#64ff9c,#46ffb9,#2cffd4,#15ffea,#01fffe,#00e4ff,#00c3ff,#00a9ff,#009dff,#0081ff,#004fff,#1258ff,#005dff,#024cff,#0a52ff,#1258ff,#1a5eff,#2364ff,#2c6aff,#3671ff,#3f78ff,#487eff,#5083ff,#5889ff,#608fff,#6895ff,#709bff,#77a0ff,#7da4ff,#83a7ff,#88abff,#8eafff,#93b3ff,#98b7ff,#9cb9ff,#9fbcff,#a3beff,#a6c1ff,#aac3ff,#adc6ff,#b0c8ff,#b3c9ff,#b5cbff,#b7cdff,#b9ceff,#bbd0ff,#bdd1ff,#c0d3ff,#c2d4ff,#c4d6ff,#c6d7ff,#c8d9ff)"></i><i style="height:2px;background:linear-gradient(90deg,#ffbd00,#ffab00,#ff9a00,#ff8900,#ff7300,#ff5900,#ff3f00,#ff2500,#ff0b00,#f00000,#df0000,#d30000,#c70000,#bb0000,#b30000,#af0000,#aa0000,#a60000,#a40000 90px 100px,#a50000 105px 110px,#a60000,#a70000,#a90000,#b40000,#c80000,#dc0000,#f00000,#ff0c00,#ff2d00,#ff4f00,#ff7000,#ff9600,#ffc000,#ffe900,#ebff14,#c5ff3b,#a3ff5c,#84ff7c,#67ff99,#4dffb2,#38ffc7,#23ffdc,#0ffff0,#00f8ff,#00d9ff,#00b4ff,#00a5ff,#0091ff,#008fff,#0073ff,#0052ff,#0851ff,#1157ff,#1b5eff,#2565ff,#2f6cff,#3973ff,#427aff,#4a80ff,#5386ff,#5b8cff,#6492ff,#6d98ff,#749dff,#79a1ff,#7fa5ff,#85a9ff,#8badff,#90b1ff,#95b5ff,#99b7ff,#9cbaff,#a0bcff,#a4bfff,#a7c1ff,#abc4ff,#aec6ff,#b0c8ff,#b2c9ff,#b5cbff,#b7cdff,#b9ceff,#bbd0ff,#bed1ff,#c0d3ff,#c2d4ff,#c4d6ff,#c6d7ff)"></i><i style="height:2px;background:linear-gradient(90deg,#ffbb00,#ffa900,#ff9800,#ff8700,#ff7100,#ff5600,#ff3c00,#ff2200,#ff0800,#ed0000,#db0000,#cf0000,#c20000,#b60000,#ae0000,#a90000,#a40000,#a00000,#9d0000 90px 125px,#a70000,#b80000,#c90000,#da0000,#f20000,#ff1100,#ff2f00,#ff4d00,#ff7000,#ff9700,#ffbf00,#ffe600,#f4ff0b,#d4ff2c,#b4ff4c,#95ff6b,#7aff86,#64ff9c,#4effb2,#38ffc7,#24ffdb,#11ffee,#00fdff,#00dcff,#00b4ff,#009cff,#0080ff,#005dff,#054eff,#0f56ff,#195dff,#2364ff,#2d6bff,#3772ff,#4079ff,#497fff,#5285ff,#5a8bff,#6391ff,#6b97ff,#739cff,#78a0ff,#7ea4ff,#84a8ff,#8aacff,#8fb0ff,#94b4ff,#98b7ff,#9cb9ff,#9fbcff,#a3beff,#a7c1ff,#aac4ff,#adc6ff,#b0c7ff,#b2c9ff,#b4caff,#b6ccff,#b8ceff,#bbcfff,#bdd1ff,#bfd2ff,#c1d4ff,#c4d5ff,#c6d7ff)"></i><i style="height:2px;background:linear-gradient(90deg,#ffbd00,#ffac00,#ff9c00,#ff8b00,#ff7400,#ff5a00,#ff4100,#ff2700,#ff0d00,#f20000,#e10000,#d50000,#c90000,#bd0000,#b60000,#b10000,#ad0000,#a90000,#a70000 90px 95px,#a80000 100px 105px,#a90000,#aa0000,#ab0000,#ae0000,#ba0000,#cf0000,#e40000,#f90000,#ff1600,#ff3800,#ff5a00,#ff7c00,#ffa200,#ffcc00,#fff500,#deff21,#b8ff47,#97ff69,#78ff88,#5bffa5,#42ffbe,#2dffd2,#19ffe7,#05fffa,#00e9ff,#00c6ff,#00a9ff,#009dff,#0081ff,#0089ff,#006cff,#004dff,#0952ff,#1358ff,#1c5fff,#2666ff,#306dff,#3a74ff,#437aff,#4b80ff,#5486ff,#5c8cff,#6592ff,#6d98ff,#749dff,#7aa1ff,#80a5ff,#85a9ff,#8badff,#91b1ff,#95b5ff,#99b7ff,#9dbaff,#a0bdff,#a4bfff,#a8c2ff,#abc4ff,#aec6ff,#b1c8ff,#b3caff,#b5cbff,#b7cdff,#b9ceff,#bcd0ff,#bed1ff,#c0d3ff,#c2d5ff,#c4d6ff,#c7d8ff)"></i><i style="height:2px;background:linear-gradient(90deg,#ffc500,#ffb500,#ffa400,#ff9400,#ff7e00,#ff6500,#ff4c00,#ff3400,#ff1b00,#ff0200,#f10000,#e60000,#db0000,#d00000,#ca0000,#c60000,#c30000,#c10000,#c00000,#c20000,#c40000,#c60000,#c80000,#ca0000,#cf0000,#d60000,#e70000,#ff0100,#ff1a00,#ff3300,#ff5300,#ff7700,#ff9b00,#ffbf00,#ffe600,#eeff11,#c3ff3c,#9aff65,#77ff89,#56ffa9,#3affc6,#20ffdf,#0afff5,#00f0ff,#00d0ff,#00b0ff,#00a5ff,#0091ff,#006aff,#0851ff,#1d5fff,#004eff,#064fff,#0d54ff,#155aff,#1d5fff,#2565ff,#2e6cff,#3772ff,#4179ff,#497fff,#5184ff,#598aff,#6190ff,#6995ff,#719bff,#79a0ff,#7ea4ff,#84a8ff,#89acff,#8fb0ff,#94b4ff,#99b7ff,#9cbaff,#a0bcff,#a3bfff,#a7c1ff,#aac4ff,#aec6ff,#b1c8ff,#b3caff,#b5cbff,#b8cdff,#bacfff,#bcd0ff,#bed2ff,#c0d3ff,#c2d5ff,#c5d6ff,#c7d8ff,#c9d9ff)"></i><i style="height:2px;background:linear-gradient(90deg,#ffd100,#ffc200,#ffb200,#ffa300,#ff8f00,#ff7700,#ff6000,#ff4800,#ff3200,#ff1b00,#ff0c00,#ff0200,#f80000,#ef0000,#ea0000,#e90000,#e80000 80px 85px,#e90000,#ed0000,#f10000,#f50000,#fa0000,#ff0000,#ff0900,#ff1600,#ff2b00,#ff4700,#ff6400,#ff8100,#ffa200,#ffc700,#ffeb00,#efff10,#c7ff39,#9dff63,#76ff8a,#50ffb0,#2fffd0,#14ffeb,#00f8ff,#00d4ff,#00b0ff,#00a6ff,#0097ff,#007dff,#004fff,#1258ff,#2767ff,#3c75ff,#4f83ff,#1c5fff,#1e60ff,#2263ff,#2766ff,#2c6aff,#326fff,#3b74ff,#437aff,#4b80ff,#5386ff,#5a8bff,#6190ff,#6995ff,#709bff,#78a0ff,#7fa5ff,#84a9ff,#8aacff,#8fb0ff,#94b4ff,#99b8ff,#9ebbff,#a1bdff,#a5c0ff,#a8c2ff,#abc4ff,#afc7ff,#b2c9ff,#b5cbff,#b7cdff,#b9ceff,#bbd0ff,#bed1ff,#c0d3ff,#c2d4ff,#c4d6ff,#c6d7ff,#c8d9ff,#cadaff,#ccdbff)"></i><i style="height:2px;background:linear-gradient(90deg,#ffe300,#ffd400,#ffc600,#ffb800,#ffa500,#ff9000,#ff7a00,#ff6500,#ff5100,#ff3d00,#ff3000,#ff2900,#ff2200,#ff1b00,#ff1900,#ff1a00,#ff1c00,#ff1f00,#ff2400,#ff2a00,#ff3100,#ff3900,#ff4100,#ff4a00,#ff5700,#ff6a00,#ff8300,#ffa200,#ffc100,#ffdf00,#fdff02,#d7ff29,#b2ff4d,#90ff70,#6aff96,#43ffbc,#20ffdf,#01fffe,#00d6ff,#00afff,#00a6ff,#0097ff,#007dff,#0053ff,#0d54ff,#1f61ff,#326eff,#467dff,#588aff,#6995ff,#78a0ff,#3f77ff,#3c75ff 259px 264px,#3d76ff,#3f77ff,#447bff,#4a80ff,#5285ff,#598aff,#608fff,#6693ff,#6c98ff,#739cff,#7aa1ff,#81a6ff,#87abff,#8caeff,#91b2ff,#96b5ff,#9bb9ff,#a0bcff,#a4bfff,#a8c2ff,#abc4ff,#aec6ff,#b1c8ff,#b4cbff,#b7cdff,#bacfff,#bcd0ff,#bed2ff,#c0d3ff,#c2d5ff,#c4d6ff,#c6d7ff,#c8d9ff,#cadaff,#ccdcff,#ceddff,#d0deff)"></i><i style="height:2px;background:linear-gradient(90deg,#fff800,#ffec00,#ffdf00,#ffd200,#ffc200,#ffaf00,#ff9c00,#ff8a00,#ff7900,#ff6800,#ff5f00,#ff5a00,#ff5500,#ff5200,#ff5300,#ff5800,#ff5e00,#ff6500,#ff6d00,#ff7700,#ff8200,#ff8e00,#ff9a00,#ffa800,#ffba00,#ffd100,#ffee00,#efff10,#cdff33,#abff55,#88ff78,#64ff9c,#43ffbd,#24ffdc,#03fffc,#00cfff,#00a9ff,#00a2ff,#0093ff,#007bff,#0053ff,#0d55ff,#1f61ff,#306dff,#4179ff,#5184ff,#6190ff,#719bff,#7ea5ff,#8badff,#96b5ff,#6391ff,#5c8cff,#5789ff,#5587ff,#5487ff,#5789ff,#5d8dff,#6291ff,#6895ff,#6e99ff,#739dff,#79a1ff,#7ea4ff,#85a9ff,#8baeff,#91b2ff,#96b5ff,#9ab8ff,#9fbcff,#a4bfff,#a8c2ff,#acc5ff,#afc7ff,#b2c9ff,#b5cbff,#b8cdff,#bacfff,#bdd1ff,#c0d3ff,#c2d4ff,#c4d6ff,#c6d7ff,#c8d8ff,#c9daff,#cbdbff,#cddcff,#cfdeff,#d1dfff,#d2e0ff,#d4e1ff)"></i><i style="height:2px;background:linear-gradient(90deg,#e9ff16,#f5ff0a,#fffd00,#fff300,#ffe500,#ffd500,#ffc500,#ffb700,#ffa900,#ff9d00,#ff9700,#ff9500,#ff9400 60px 65px,#ff9900,#ffa200,#ffad00,#ffb900,#ffc600,#ffd400,#ffe400,#fff400,#f7ff08,#e2ff1d,#c9ff37,#abff55,#8aff76,#66ff9a,#42ffbd,#21ffdf,#00ffff,#00cdff,#00a9ff,#00a6ff,#009cff,#0089ff,#006bff,#024dff,#1157ff,#2062ff,#306dff,#4179ff,#5184ff,#608fff,#6d98ff,#79a1ff,#85a9ff,#90b1ff,#9bb9ff,#a5c0ff,#aec6ff,#84a8ff,#7aa2ff,#739dff,#6e99ff,#6b97ff,#6c97ff,#709aff,#759dff,#79a1ff,#7ea4ff,#82a7ff,#86aaff,#8badff,#90b1ff,#96b6ff,#9cb9ff,#a0bcff,#a4bfff,#a8c2ff,#acc5ff,#b0c8ff,#b4caff,#b7ccff,#b9ceff,#bcd0ff,#bed2ff,#c1d4ff,#c4d6ff,#c6d7ff,#c8d8ff,#cadaff,#cbdbff,#cddcff,#cfddff,#d1dfff,#d2e0ff,#d4e1ff,#d5e2ff,#d7e3ff,#d8e4ff)"></i><i style="height:2px;background:linear-gradient(90deg,#c7ff38,#d1ff2f,#daff25,#e3ff1d,#eeff11,#fcff03,#fff500,#ffeb00,#ffe300,#ffdb00,#ffd900,#ffdb00,#ffde00,#ffe200,#ffec00,#fffa00,#f3ff0c,#e0ff20,#cbff34,#b6ff49,#a0ff60,#88ff78,#6cff93,#4fffb1,#2dffd2,#0afff5,#00d7ff,#00a9ff,#00a6ff,#009fff,#0093ff,#0085ff,#006fff,#0055ff,#0851ff,#175bff,#2766ff,#3671ff,#447bff,#5285ff,#608fff,#6d98ff,#79a1ff,#84a8ff,#8eafff,#97b6ff,#a0bcff,#a9c3ff,#b2c9ff,#bacfff,#c2d4ff,#a1bdff,#96b5ff,#8dafff,#87aaff,#81a6ff,#80a6ff,#83a8ff,#87aaff,#8aadff,#8eafff,#91b2ff,#94b4ff,#98b7ff,#9cbaff,#a2beff,#a7c1ff,#aac4ff,#aec6ff,#b2c9ff,#b5cbff,#b9ceff,#bcd0ff,#bed2ff,#c1d3ff,#c3d5ff,#c5d7ff,#c8d8ff,#cadaff,#ccdbff,#ceddff,#cfdeff,#d1dfff,#d2e0ff,#d4e1ff,#d5e2ff,#d7e3ff,#d8e4ff 434px 449px)"></i><i style="height:2px;background:linear-gradient(90deg,#a0ff5f,#a7ff59,#adff53,#b3ff4d,#bbff45,#c4ff3b,#cdff32,#d3ff2c,#d7ff29,#d9ff27,#d6ff2a,#cfff31,#c6ff39,#bdff43,#adff53,#97ff69,#7fff81,#63ff9d,#46ffba,#29ffd6,#0afff5,#00dbff,#00a9ff,#00a6ff,#009fff,#0093ff,#0084ff,#006fff,#0055ff,#064fff,#1056ff,#1b5eff,#2565ff,#2f6dff,#3c76ff,#4b80ff,#5889ff,#6492ff,#709aff,#7aa1ff,#84a8ff,#8eafff,#97b6ff,#9fbcff,#a7c1ff,#afc7ff,#b6ccff,#bed2ff,#c6d7ff,#ccdcff,#d3e0ff,#b8cdff,#aec6ff,#a4bfff,#9dbaff,#96b5ff,#94b4ff,#96b5ff,#98b7ff,#9bb8ff,#9dbaff,#9fbcff,#a2beff,#a5c0ff,#a8c2ff,#adc6ff,#b1c8ff,#b5cbff,#b8cdff,#bbcfff,#bed2ff,#c1d4ff,#c4d6ff,#c6d7ff,#c8d9ff,#cadaff,#ccdbff,#ceddff,#d0deff,#d2dfff,#d3e0ff,#d5e2ff,#d6e2ff,#d7e3ff,#d8e4ff 419px 449px)"></i><i style="height:2px;background:linear-gradient(90deg,#73ff8c,#77ff89,#7aff86,#7dff83,#81ff7f,#85ff7b,#89ff77 30px 35px,#86ff7a,#81ff7f,#78ff88,#6bff95,#5cffa3,#4cffb4,#34ffcb,#16ffe9,#00eeff,#00acff,#00a7ff,#00a0ff,#0095ff,#0086ff,#0070ff,#0055ff,#064fff,#1057ff,#1b5eff,#2565ff,#306dff,#3a74ff,#447bff,#4d82ff,#5788ff,#5f8eff,#6996ff,#749dff,#7ea4ff,#87abff,#90b1ff,#97b6ff,#9fbcff,#a7c1ff,#afc7ff,#b6ccff,#bcd0ff,#c3d5ff,#c9d9ff,#d0deff,#d5e2ff,#d8e4ff 244px 249px,#c9daff,#c0d3ff,#b8cdff,#b0c7ff,#a8c2ff,#a6c0ff,#a7c1ff,#a8c2ff,#aac3ff,#abc4ff,#adc5ff,#afc7ff,#b1c8ff,#b4caff,#b8cdff,#bbd0ff,#bed2ff,#c1d4ff,#c4d5ff,#c6d7ff,#c9d9ff,#cbdbff,#cddcff,#cfddff,#d0deff,#d2e0ff,#d4e1ff,#d5e2ff,#d7e3ff,#d8e4ff 399px 449px)"></i><i style="height:2px;background:linear-gradient(90deg,#40ffc0,#3fffc0,#3fffc1,#3dffc2,#3cffc3,#3bffc4,#39ffc6,#33ffcd,#28ffd7,#1bffe4,#0afff5,#00f2ff,#00ceff,#00aaff,#00a6ff,#009dff,#008dff,#0077ff,#005aff,#054eff,#0f56ff,#1a5dff,#2565ff,#306dff,#3a74ff,#447bff,#4e82ff,#5788ff,#5f8fff,#6894ff,#6f9aff,#769fff,#7da4ff,#84a8ff,#8badff,#93b3ff,#9bb9ff,#a2beff,#a9c2ff,#afc7ff,#b6ccff,#bcd0ff,#c3d5ff,#c9d9ff,#ceddff,#d3e0ff,#d8e4ff 229px 249px,#d6e2ff,#ceddff,#c7d8ff,#bfd2ff,#b8cdff,#b5cbff,#b6ccff 284px 289px,#b7cdff,#b8cdff,#b9ceff,#bacfff,#bbd0ff,#bed1ff,#c1d4ff,#c4d6ff,#c7d8ff,#c9d9ff,#cbdbff,#cddcff,#d0deff,#d1dfff,#d3e0ff,#d4e1ff,#d6e2ff,#d7e3ff,#d8e4ff 384px 449px)"></i><i style="height:2px;background:linear-gradient(90deg,#06fff9,#02fffd,#00fbff,#00f2ff,#00e8ff,#00dbff,#00cbff,#00b2ff,#00a9ff,#00a5ff,#009dff,#0093ff,#0085ff,#0073ff,#0057ff,#0851ff,#155aff,#2263ff,#2d6bff,#3873ff,#437aff,#4d81ff,#5688ff,#5f8eff,#6894ff,#6f9aff,#769fff,#7da4ff,#84a8ff,#8aacff,#8fb0ff,#95b4ff,#9ab8ff,#9fbcff,#a5c0ff,#acc4ff,#b2c9ff,#b8cdff,#bed1ff,#c3d5ff,#c9d9ff,#ceddff,#d3e0ff,#d8e4ff 215px 259px,#d2e0ff,#ccdbff,#c5d7ff,#c2d4ff 279px 284px,#c2d5ff,#c3d5ff 294px 299px,#c4d6ff 304px 309px,#c5d7ff,#c7d8ff,#cadaff,#ccdcff,#ceddff,#d0deff,#d2e0ff,#d4e1ff,#d5e2ff,#d7e3ff,#d8e4ff 364px 449px)"></i><i style="height:2px;background:linear-gradient(90deg,#00a9ff,#00a7ff,#00a4ff,#009fff,#0099ff,#0091ff,#0089ff,#007bff,#0065ff,#004dff,#0851ff,#1157ff,#1a5dff,#2364ff,#2f6cff,#3c75ff,#487eff,#5486ff,#5e8dff,#6693ff,#6e99ff,#769eff,#7da3ff,#84a8ff,#8aacff,#8fb1ff,#95b4ff,#9ab8ff,#9fbcff,#a4bfff,#a8c2ff,#adc5ff,#b1c9ff,#b5cbff,#bbcfff,#c0d3ff,#c5d7ff,#cadaff,#cfdeff,#d3e1ff,#d8e4ff 200px 264px,#d5e2ff,#d0deff,#cddcff,#ccdcff 284px 299px,#cddcff 304px 314px,#cfddff,#d1dfff,#d3e0ff,#d4e1ff,#d6e2ff,#d7e4ff,#d8e4ff 349px 449px)"></i><i style="height:2px;background:linear-gradient(90deg,#0069ff,#005aff,#004bff,#064fff,#0c53ff,#1257ff,#185cff,#2061ff,#2968ff,#326fff,#3c75ff,#447bff,#4d81ff,#5587ff,#5f8eff,#6995ff,#729cff,#7ba2ff,#82a7ff,#89acff,#8fb0ff,#94b4ff,#9ab8ff,#9fbcff,#a4bfff,#a9c2ff,#adc5ff,#b1c9ff,#b6ccff,#baceff,#bdd1ff,#c1d4ff,#c5d6ff,#c8d9ff,#ccdcff,#d1dfff,#d5e2ff,#d8e4ff 185px 269px,#d7e3ff,#d5e2ff,#d4e1ff 284px 314px,#d5e2ff,#d7e3ff,#d8e4ff 329px 449px)"></i><i style="height:2px;background:linear-gradient(90deg,#2767ff,#2d6bff,#3470ff,#3a74ff,#3f78ff,#457cff,#4b80ff,#5285ff,#5a8bff,#6290ff,#6995ff,#709aff,#769fff,#7ca3ff,#83a8ff,#8badff,#92b2ff,#98b7ff,#9ebbff,#a3beff,#a8c2ff,#adc5ff,#b1c8ff,#b6ccff,#baceff,#bed1ff,#c1d4ff,#c5d6ff,#c8d9ff,#ccdbff,#cfdeff,#d2e0ff,#d5e2ff,#d8e4ff 165px 389px,#d9e4ff,#d9e5ff 399px 404px,#dae5ff,#dbe6ff 414px 419px,#dce6ff,#dce7ff,#dde7ff,#dde8ff,#dee8ff,#dee9ff)"></i><i style="height:2px;background:linear-gradient(90deg,#598aff,#5e8dff,#6391ff,#6794ff,#6c97ff,#709aff,#749dff,#7aa1ff,#80a5ff,#85a9ff,#8badff,#90b1ff,#94b4ff,#99b7ff,#9fbbff,#a5c0ff,#aac4ff,#b0c8ff,#b5cbff,#b9ceff,#bdd1ff,#c1d4ff,#c5d6ff,#c8d9ff,#ccdbff,#cfdeff,#d2e0ff,#d5e2ff,#d8e4ff 140px 324px,#d9e4ff,#d9e5ff,#dae5ff 339px 344px,#dbe6ff 349px 354px,#dce7ff 359px 364px,#dde7ff,#dee8ff 374px 379px,#dfe9ff 384px 389px,#e0e9ff,#e0eaff,#e1eaff 404px 414px,#e2ebff 419px 449px)"></i><i style="height:2px;background:linear-gradient(90deg,#7fa5ff,#82a7ff,#86aaff,#89acff,#8dafff,#90b1ff,#93b3ff,#97b6ff,#9cb9ff,#a0bdff,#a5c0ff,#a9c2ff,#adc5ff,#b1c8ff,#b5cbff,#bacfff,#bfd2ff,#c4d6ff,#c8d8ff,#cbdbff,#cfddff,#d2e0ff,#d5e2ff,#d8e4ff 115px 284px,#d9e5ff,#dae5ff,#dbe6ff,#dce7ff,#dde7ff,#dee8ff,#dfe9ff 319px 324px,#e0e9ff,#e0eaff,#e1eaff 339px 344px,#e1ebff,#e2ebff 354px 449px)"></i><i style="height:2px;background:linear-gradient(90deg,#9bb9ff,#9ebbff,#a1bdff,#a4bfff,#a6c1ff,#a9c3ff,#acc5ff,#afc7ff,#b3caff,#b7ccff,#bacfff,#bed1ff,#c1d4ff,#c4d6ff,#c8d9ff,#ccdcff,#d0deff,#d4e1ff,#d7e3ff,#d8e4ff 95px 249px,#d9e5ff,#dae5ff,#dbe6ff,#dce7ff,#dde7ff,#dee8ff,#dfe9ff,#e0eaff,#e1eaff,#e1ebff,#e2ebff 304px 449px)"></i><i style="height:2px;background:linear-gradient(90deg,#b2c9ff,#b5cbff,#b7cdff,#b9ceff,#bcd0ff,#bed2ff,#c0d3ff,#c3d5ff,#c6d7ff,#c9daff,#ccdcff,#cfdeff,#d2e0ff,#d4e1ff,#d7e4ff,#d8e4ff 75px 234px,#d9e5ff,#dde7ff,#dfe9ff,#e0eaff,#e1eaff,#e1ebff,#e2ebff 269px 449px)"></i><i style="height:2px;background:linear-gradient(90deg,#c6d7ff,#c8d8ff,#cadaff,#ccdbff,#ceddff,#cfdeff,#d1dfff,#d3e1ff,#d6e2ff,#d8e4ff,#dbe6ff,#dde7ff 55px 60px,#dbe6ff,#dae5ff,#d9e5ff,#d8e4ff 80px 224px,#d9e5ff,#dde7ff,#e0eaff,#e2ebff 244px 449px)"></i><i style="height:2px;background:linear-gradient(90deg,#d6e2ff,#d7e3ff,#d9e4ff,#dae5ff,#dce7ff,#dde8ff,#dee8ff,#e0eaff,#e2ebff 40px 65px,#e1eaff,#e0eaff,#dfe9ff,#dee8ff 85px 90px,#dde8ff 95px 100px,#dde7ff,#dce7ff 110px 115px,#dbe6ff 120px 130px,#dae5ff 135px 140px,#d9e5ff 145px 150px,#d9e4ff,#d8e4ff 160px 210px,#d9e4ff,#dbe6ff,#dde8ff,#e0eaff,#e2ebff 234px 449px)"></i><i style="height:2px;background:linear-gradient(90deg,#e2ebff 0px 120px,#e1ebff 125px 130px,#e1eaff 135px 140px,#e0eaff 145px 150px,#e0e9ff,#dfe9ff 160px 165px,#dee8ff,#dde7ff,#dbe6ff,#dae5ff,#d9e5ff,#d8e4ff,#d9e4ff,#dbe6ff,#dde8ff,#e0e9ff,#e1ebff,#e2ebff 224px 449px)"></i><i style="height:2px;background:linear-gradient(90deg,#e2ebff 0px 180px,#e1eaff,#e0eaff,#dfe9ff,#e0e9ff,#e1ebff,#e2ebff 210px 449px)"></i><i style="height:2px;background:linear-gradient(90deg,#ebf2ff 0px 50px,#e9f0ff,#e4edff,#e2ebff 65px 449px)"></i><i style="height:2px;background:linear-gradient(90deg,#f0f5ff 0px 55px,#eef3ff,#e9f0ff,#e4ecff,#e2ebff 75px 449px)"></i><i style="height:2px;background:linear-gradient(90deg,#f0f5ff 0px 65px,#edf3ff,#e8efff,#e3ecff,#e2ebff 85px 449px)"></i><i style="height:2px;background:linear-gradient(90deg,#f0f5ff 0px 75px,#ecf2ff,#e9f0ff,#e6eeff,#e3ecff,#e2ebff 100px 449px)"></i><i style="height:2px;background:linear-gradient(90deg,#f0f5ff 0px 85px,#eff4ff,#ecf2ff,#e9f0ff,#e6eeff,#e3ecff,#e2ebff 115px 449px)"></i><i style="height:2px;background:linear-gradient(90deg,#f1f5ff,#f2f6ff 5px 10px,#f0f5ff 15px 100px,#eff4ff,#ecf2ff,#e9f0ff,#e6eeff,#e3ecff,#e2ebff 130px 239px,#e4edff,#ebf1ff,#e9f0ff 254px 264px,#e8efff,#e7efff,#e7eeff,#e6eeff,#e5edff 289px 294px,#e4ecff 299px 304px,#e3ecff,#e3ebff,#e2ebff 319px 449px)"></i><i style="height:2px;background:linear-gradient(90deg,#f2f6ff,#f3f7ff 5px 10px,#f1f6ff,#f0f5ff 20px 115px,#eff4ff,#edf3ff,#eaf1ff,#e7efff,#e5edff,#e3ecff,#e2ebff 150px 239px,#eef3ff,#f0f5ff,#e9f0ff 254px 449px)"></i><i style="height:2px;background:linear-gradient(90deg,#f3f7ff,#f5f9ff,#f5f8ff,#f2f6ff,#f0f5ff 20px 130px,#eff5ff,#eef4ff,#ecf2ff,#eaf1ff,#e7efff,#e5edff,#e3ecff,#e2ebff 170px 234px,#ebf1ff,#f0f5ff 244px 249px,#e9f0ff 254px 449px)"></i><i style="height:2px;background:linear-gradient(90deg,#f4f7ff,#f7faff,#f6faff,#f2f7ff,#f0f5ff 20px 150px,#eff5ff,#eef4ff,#ecf2ff,#e7eeff,#e2ebff 175px 229px,#e7eeff,#f0f5ff 239px 249px,#e9f0ff 254px 449px)"></i><i style="height:2px;background:linear-gradient(90deg,#f4f8ff,#f8faff,#f7faff,#f3f7ff,#f0f5ff 20px 165px,#eff4ff,#e9f0ff,#e2ebff 180px 224px,#e4ecff,#eff4ff,#f0f5ff 239px 249px,#e9f0ff 254px 449px)"></i><i style="height:2px;background:linear-gradient(90deg,#f4f8ff,#f8fbff 5px 10px,#f3f7ff,#f0f5ff 20px 175px,#eaf1ff,#e3ecff,#e2ebff 190px 220px,#e4edff,#edf3ff,#f0f5ff 234px 249px,#e9f0ff 254px 449px)"></i><i style="height:2px;background:linear-gradient(90deg,#f4f8ff,#f8fbff 5px 10px,#f3f7ff,#f0f5ff 20px 40px,#f1f5ff,#f2f6ff 50px 65px,#f0f5ff 70px 180px,#ecf2ff,#e4ecff,#e2ebff 195px 205px,#e3ebff,#e6eeff,#eaf1ff,#eef3ff,#f0f5ff 229px 249px,#e9f0ff 254px 449px)"></i><i style="height:2px;background:linear-gradient(90deg,#f4f8ff,#f8fbff 5px 10px,#f3f7ff,#f0f5ff 20px 40px,#f2f6ff,#f5f8ff,#f5f9ff 55px 60px,#f4f8ff,#f1f6ff,#f0f5ff 75px 185px,#edf3ff,#e5edff,#e4ecff,#e8efff,#ecf2ff,#eff4ff,#f0f5ff 220px 249px,#e9f0ff 254px 449px)"></i><i style="height:2px;background:linear-gradient(90deg,#f4f8ff,#f8fbff 5px 10px,#f3f7ff,#f0f5ff 20px 40px,#f2f7ff,#f7faff 50px 60px,#f6f9ff,#f2f6ff,#f0f5ff 75px 190px,#eff4ff,#edf3ff,#f0f5ff 205px 249px,#e9f0ff 254px 449px)"></i><i style="height:4px;background:linear-gradient(90deg,#f4f8ff,#f8fbff 5px 10px,#f3f7ff,#f0f5ff 20px 40px,#f3f7ff,#f7faff,#f8fbff 55px 60px,#f7faff,#f2f6ff,#f0f5ff 75px 249px,#e9f0ff 254px 449px)"></i><i style="height:2px;background:linear-gradient(90deg,#f4f8ff,#f8faff 5px 10px,#f3f7ff,#f0f5ff 20px 40px,#f3f7ff,#f7faff,#f8fbff 55px 60px,#f7faff,#f2f6ff,#f0f5ff 75px 249px,#e9f0ff 254px 449px)"></i><i style="height:2px;background:linear-gradient(90deg,#f4f8ff,#f7faff 5px 10px,#f2f7ff,#f0f5ff 20px 40px,#f3f7ff,#f7faff,#f8fbff 55px 60px,#f7faff,#f2f6ff,#f0f5ff 75px 249px,#e9f0ff 254px 449px)"></i><i style="height:2px;background:linear-gradient(90deg,#f3f7ff,#f6f9ff 5px 10px,#f2f6ff,#f0f5ff 20px 40px,#f2f6ff,#f6f9ff,#f7faff 55px 60px,#f5f9ff,#f2f6ff,#f0f5ff 75px 249px,#e9f0ff 254px 449px)"></i><i style="height:2px;background:linear-gradient(90deg,#f2f6ff,#f4f8ff 5px 10px,#f1f6ff,#f0f5ff 20px 40px,#f1f6ff,#f3f7ff,#f4f7ff 55px 60px,#f3f7ff,#f1f5ff,#f0f5ff 75px 249px,#e9f0ff 254px 449px)"></i><i style="height:2px;background:linear-gradient(90deg,#f1f6ff,#f2f7ff 5px 10px,#f1f5ff,#f0f5ff 20px 45px,#f1f5ff,#f1f6ff 55px 60px,#f1f5ff,#f0f5ff 70px 155px,#f1f6ff,#f2f6ff 165px 170px,#f1f6ff,#f0f5ff 180px 249px,#e9f0ff 254px 449px)"></i><i style="height:2px;background:linear-gradient(90deg,#f0f5ff,#f1f6ff 5px 10px,#f0f5ff 15px 155px,#f5f8ff,#f6f9ff 165px 170px,#f5f8ff,#f0f5ff 180px 249px,#e9f0ff 254px 449px)"></i><i style="height:2px;background:linear-gradient(90deg,#f0f5ff 0px 155px,#f6f9ff,#f8fbff 165px 170px,#f6f9ff,#f0f5ff 180px 249px,#e9f0ff 254px 449px)"></i><i style="height:2px;background:linear-gradient(90deg,#f0f5ff 0px 150px,#f1f5ff,#f6f9ff,#f8fbff 165px 170px,#f6f9ff,#f0f5ff 180px 249px,#e9f0ff 254px 449px)"></i><i style="height:2px;background:linear-gradient(90deg,#f0f5ff 0px 155px,#f6f9ff,#f8faff 165px 170px,#f5f9ff,#f0f5ff 180px 249px,#e9f0ff 254px 449px)"></i><i style="height:2px;background:linear-gradient(90deg,#f1f6ff,#f2f6ff 5px 30px,#f1f6ff,#f0f5ff 40px 155px,#f3f7ff,#f4f8ff 165px 170px,#f3f7ff,#f0f5ff 180px 249px,#e9f0ff 254px 449px)"></i><i style="height:2px;background:linear-gradient(90deg,#f3f7ff,#f4f8ff,#f5f8ff 10px 25px,#f4f8ff,#f2f7ff,#f1f5ff,#f0f5ff 45px 249px,#e9f0ff 254px 449px)"></i><i style="height:2px;background:linear-gradient(90deg,#f4f8ff,#f6f9ff,#f7faff 10px 25px,#f6f9ff,#f3f7ff,#f1f6ff,#f0f5ff 45px 249px,#e9f0ff 254px 449px)"></i><i style="height:2px;background:linear-gradient(90deg,#f5f8ff,#f7faff,#f8faff,#f8fbff 15px 20px,#f8faff,#f7faff,#f4f8ff,#f1f6ff,#f0f5ff 45px 249px,#e9f0ff 254px 449px)"></i><i style="height:8px;background:linear-gradient(90deg,#f5f8ff,#f7faff,#f8fbff 10px 25px,#f7faff,#f4f8ff,#f1f6ff,#f0f5ff 45px 249px,#e9f0ff 254px 449px)"></i><i style="height:2px;background:linear-gradient(90deg,#f4f8ff,#f7faff 5px 10px,#f8faff 15px 20px,#f7faff,#f6f9ff,#f4f8ff,#f1f6ff,#f0f5ff 45px 249px,#e9f0ff 254px 449px)"></i><i style="height:2px;background:linear-gradient(90deg,#f3f7ff,#f5f9ff,#f6f9ff 10px 25px,#f5f8ff,#f3f7ff,#f1f5ff,#f0f5ff 45px 249px,#e9f0ff 254px 449px)"></i><i style="height:2px;background:linear-gradient(90deg,#f2f6ff,#f3f7ff 5px 30px,#f2f6ff,#f0f5ff 40px 249px,#e9f0ff 254px 449px)"></i><i style="height:2px;background:linear-gradient(90deg,#f1f5ff,#f1f6ff 5px 30px,#f0f5ff 35px 249px,#e9f0ff 254px 449px)"></i><i style="height:2px;background:linear-gradient(90deg,#f0f5ff 0px 249px,#e9f0ff 254px 449px)"></i><i style="height:2px;background:linear-gradient(90deg,#f0f5ff 0px 85px,#f1f5ff 90px 95px,#f1f6ff 100px 115px,#f1f5ff 120px 125px,#f0f5ff 130px 249px,#e9f0ff 254px 449px)"></i><i style="height:2px;background:linear-gradient(90deg,#f0f5ff 0px 75px,#f1f5ff,#f2f6ff,#f3f7ff 90px 95px,#f4f7ff 100px 115px,#f3f7ff 120px 125px,#f2f6ff,#f1f5ff,#f0f5ff 140px 249px,#e9f0ff 254px 449px)"></i><i style="height:2px;background:linear-gradient(90deg,#f0f5ff 0px 75px,#f1f6ff,#f3f7ff,#f5f9ff,#f6f9ff,#f7faff 100px 110px,#f6faff,#f6f9ff,#f5f8ff,#f3f7ff,#f1f6ff,#f0f5ff 140px 249px,#e9f0ff 254px 449px)"></i><i style="height:2px;background:linear-gradient(90deg,#f0f5ff 0px 75px,#f2f6ff,#f4f8ff,#f6f9ff,#f8faff,#f8fbff 100px 115px,#f7faff,#f6f9ff,#f4f8ff,#f1f6ff,#f0f5ff 140px 249px,#e9f0ff 254px 449px)"></i><i style="height:4px;background:linear-gradient(90deg,#f0f5ff 0px 75px,#f2f6ff,#f4f8ff,#f7faff,#f8faff,#f8fbff 100px 115px,#f8faff,#f6f9ff,#f4f8ff,#f2f6ff,#f0f5ff 140px 249px,#e9f0ff 254px 449px)"></i><i style="height:2px;background:linear-gradient(90deg,#f0f5ff 0px 75px,#f2f6ff,#f4f8ff,#f6faff,#f8faff,#f8fbff 100px 115px,#f8faff,#f6f9ff,#f4f8ff,#f2f6ff,#f0f5ff 140px 249px,#e9f0ff 254px 449px)"></i><i style="height:2px;background:linear-gradient(90deg,#f0f5ff 0px 75px,#f2f6ff,#f4f8ff,#f6f9ff,#f7faff 95px 120px,#f6f9ff,#f4f7ff,#f1f6ff,#f0f5ff 140px 170px,#f1f5ff,#f2f6ff,#f3f7ff,#f4f8ff 190px 205px,#f3f7ff,#f2f6ff,#f1f5ff,#f0f5ff 224px 249px,#e9f0ff 254px 449px)"></i><i style="height:2px;background:linear-gradient(90deg,#f0f5ff 0px 75px,#f1f6ff,#f3f7ff,#f4f8ff,#f5f8ff,#f5f9ff 100px 115px,#f5f8ff,#f4f8ff,#f2f7ff,#f1f6ff,#f0f5ff 140px 170px,#f1f6ff,#f4f8ff,#f6f9ff,#f7faff 190px 205px,#f6f9ff,#f4f8ff,#f1f6ff,#f0f5ff 224px 249px,#e9f0ff 254px 449px)"></i><i style="height:2px;background:linear-gradient(90deg,#f0f5ff 0px 80px,#f1f6ff,#f2f6ff 90px 125px,#f1f6ff,#f0f5ff 135px 170px,#f1f6ff,#f4f8ff,#f7faff,#f8fbff 190px 205px,#f7faff,#f4f8ff,#f1f6ff,#f0f5ff 224px 249px,#e9f0ff 254px 449px)"></i><i style="height:2px;background:linear-gradient(90deg,#f0f5ff 0px 170px,#f1f6ff,#f5f8ff,#f7faff,#f8fbff 190px 205px,#f7faff,#f4f8ff,#f1f6ff,#f0f5ff 224px 249px,#e9f0ff 254px 449px)"></i><i style="height:2px;background:linear-gradient(90deg,#f0f5ff 0px 170px,#f1f6ff,#f4f8ff,#f7faff,#f8faff,#f8fbff 195px 200px,#f8faff,#f7faff,#f4f8ff,#f1f6ff,#f0f5ff 224px 249px,#e9f0ff 254px 449px)"></i><i style="height:2px;background:linear-gradient(90deg,#f0f5ff 0px 170px,#f1f6ff,#f3f7ff,#f5f9ff,#f6f9ff 190px 205px,#f5f8ff,#f3f7ff,#f1f6ff,#f0f5ff 224px 249px,#e9f0ff 254px 449px)"></i><i style="height:2px;background:linear-gradient(90deg,#f0f5ff 0px 175px,#f1f6ff,#f2f6ff 185px 210px,#f1f6ff,#f0f5ff 220px 249px,#e9f0ff 254px 449px)"></i><i style="height:3px;background:linear-gradient(90deg,#f0f5ff 0px 249px,#e9f0ff 254px 449px)"></i></div>
<div class="hm" style="left:946.5px;top:17.5px;width:449.5px;height:305px"><i style="height:3px;background:#f5f8ff"></i><i style="height:3px;background:#f3f7ff"></i><i style="height:3px;background:#f1f6ff"></i><i style="height:3px;background:#f0f5ff"></i><i style="height:3px;background:#eaf0ff"></i><i style="height:3px;background:#e4ecff"></i><i style="height:3px;background:#dee8ff"></i><i style="height:3px;background:#d6e2ff"></i><i style="height:3px;background:#cddcff"></i><i style="height:3px;background:#c4d6ff"></i><i style="height:3px;background:#b7cdff"></i><i style="height:3px;background:#a5c0ff"></i><i style="height:3px;background:#93b3ff"></i><i style="height:3px;background:#6c97ff"></i><i style="height:3px;background:#3571ff"></i><i style="height:3px;background:#064fff"></i><i style="height:3px;background:linear-gradient(90deg,#0072ff,#0079ff,#0070ff,#0074ff,#0078ff,#0071ff,#006bff,#0076ff,#006eff,#0064ff,#0061ff,#0070ff,#0067ff,#006fff,#007bff,#0077ff,#006bff,#0073ff,#006aff,#0061ff,#006dff,#0064ff,#0069ff,#0060ff,#0073ff,#0062ff,#006fff,#0070ff,#006bff,#0074ff,#0065ff,#007bff 155px 160px,#006dff,#0067ff,#006bff,#0067ff,#0070ff,#005eff,#0074ff,#0076ff,#006eff,#0071ff,#006cff,#0072ff,#0082ff,#0081ff,#0062ff,#0069ff,#006bff,#006eff,#0062ff,#0075ff,#007cff,#0077ff,#0080ff,#0071ff,#0069ff,#0079ff,#006cff,#006bff,#006fff,#007cff,#0062ff,#0068ff,#0075ff,#0071ff,#0066ff,#0068ff,#0066ff,#0068ff,#0070ff,#0072ff,#007aff,#0069ff,#006fff,#007bff 380px 385px,#0077ff,#0070ff,#007aff,#0084ff,#0071ff,#0072ff,#006eff,#0077ff,#0073ff,#0066ff,#0062ff,#0072ff,#0078ff)"></i><i style="height:3px;background:linear-gradient(90deg,#00c9ff,#00deff,#00c4ff,#00d0ff,#00daff,#00c5ff,#00b5ff,#00d7ff,#00bcff,#009eff,#0095ff,#00c4ff,#00a6ff,#00c1ff,#00e4ff,#00d8ff,#00b3ff,#00ccff,#00b0ff,#0094ff,#00bbff,#009fff,#00aeff,#0092ff,#00ccff,#0098ff,#00c0ff,#00c3ff,#00b4ff,#00ceff,#00a3ff,#00e4ff,#00e6ff,#00baff,#00a6ff,#00b4ff,#00a7ff,#00c3ff,#008bff,#00ceff,#00d4ff,#00bdff,#00c5ff,#00b7ff,#00c8ff,#00f7ff,#00f3ff,#0098ff,#00adff,#00b4ff,#00bcff,#0096ff,#00d1ff,#00e7ff,#00d7ff,#00f1ff,#00c7ff,#00aeff,#00ddff,#00b8ff,#00b3ff,#00bfff,#00e6ff,#0096ff,#00acff,#00d3ff,#00c7ff,#00a4ff,#00a9ff,#00a4ff,#00aaff,#00c4ff,#00caff,#00e1ff,#00afff,#00c1ff,#00e6ff,#00e3ff,#00d7ff,#00c4ff,#00e2ff,#00feff,#00c7ff,#00c8ff,#00beff,#00d8ff,#00cbff,#00a6ff,#0096ff,#00caff,#00daff)"></i><i style="height:3px;background:linear-gradient(90deg,#04fffb,#15ffea,#00feff,#09fff6,#12ffee,#00ffff,#00ebff,#0ffff0,#00f4ff,#00cbff,#00beff,#00feff,#00d7ff,#00fbff,#1affe5,#10ffef,#00e9ff,#06fff9,#00e6ff,#00bcff,#00f3ff,#00cdff,#00e3ff,#00baff,#06fff9,#00c2ff,#00f9ff,#00fcff,#00eaff,#07fff8,#00d2ff,#1affe5,#1bffe4,#00f2ff,#00d7ff,#00eaff,#00d8ff,#00fdff,#00b0ff,#08fff7,#0dfff2,#00f6ff,#00ffff,#00edff,#03fffd,#2dffd2,#29ffd7,#00c3ff,#00e1ff,#00eaff,#00f4ff,#00c0ff,#0afff5,#1dffe3,#0ffff0,#26ffd9,#02fffd,#00e2ff,#15ffea,#00efff,#00e9ff,#00f7ff,#1cffe3,#00c0ff,#00dfff,#0cfff3,#02fffd,#00d4ff,#00dcff,#00d3ff,#00ddff,#00feff,#04fffb,#18ffe8,#00e3ff,#00fbff,#1bffe4,#19ffe6,#0ffff0,#00feff,#19ffe7,#34ffcb,#02fffd,#03fffc,#00f7ff,#10ffef,#05fffa,#00d6ff,#00c0ff,#05fffb,#12ffed)"></i><i style="height:3px;background:linear-gradient(90deg,#12ffed,#24ffdc,#0dfff2,#18ffe7,#20ffdf,#0ffff0,#01fffe,#1dffe2,#07fff8,#00e5ff,#00d8ff,#0efff1,#00efff,#0cfff3,#29ffd7,#1effe1,#00ffff,#15ffea,#00fbff,#00d6ff,#06fff9,#00e6ff,#00f9ff,#00d4ff,#15ffea,#00dcff,#0afff5,#0dfff2,#00ffff,#16ffe9,#00ebff,#28ffd7,#2affd6,#05fffa,#00efff,#00ffff,#00f0ff,#0dfff2,#00caff,#16ffe9,#1bffe4,#08fff7,#0ffff0,#03fffc,#11ffee,#3bffc4,#37ffc8,#00ddff,#00f7ff,#00ffff,#07fff8,#00daff,#18ffe7,#2bffd4,#1effe2,#35ffcb,#10ffef,#00f8ff,#23ffdc,#03fffc,#00feff,#09fff6,#2affd5,#00daff,#00f6ff,#1affe5,#10ffef,#00edff,#00f3ff,#00ecff,#00f4ff,#0efff2,#12ffed,#26ffd9,#00f9ff,#0cfff4,#2affd6,#28ffd8,#1effe1,#0efff1,#27ffd8,#43ffbd,#10ffef,#11ffee,#09fff6,#1effe1,#14ffec,#00eeff,#00daff,#13ffec,#20ffdf)"></i><i style="height:3px;background:linear-gradient(90deg,#20ffdf,#32ffce,#1cffe4,#26ffd9,#2effd1,#1dffe2,#0ffff0,#2cffd4,#15ffea,#00faff,#00f0ff,#1cffe3,#03fffc,#1affe5,#37ffc9,#2dffd3,#0efff1,#23ffdc,#0cfff3,#00eeff,#15ffeb,#00fcff,#0afff5,#00ecff,#23ffdc,#00f3ff,#19ffe6,#1bffe4,#0efff1,#24ffdb,#01fffe,#36ffc9,#38ffc7,#14ffeb,#04fffb,#0efff1,#04fffb,#1bffe4,#00e4ff,#24ffdb,#29ffd6,#17ffe9,#1dffe2,#11ffee,#1fffe0,#4affb6,#45ffba,#00f4ff,#09fff6,#0efff1,#15ffea,#00f1ff,#27ffd9,#39ffc6,#2cffd3,#43ffbd,#1fffe0,#0afff5,#31ffce,#12ffed,#0efff1,#17ffe8,#38ffc7,#00f1ff,#08fff7,#28ffd7,#1effe1,#02fffd,#06fff9,#02fffd,#07fff8,#1cffe3,#21ffdf,#34ffcb,#0afff5,#1affe5,#38ffc7,#36ffca,#2cffd3,#1cffe3,#35ffca,#51ffaf,#1effe1,#1fffe0,#17ffe8,#2dffd3,#22ffdd,#03fffc,#00f1ff,#21ffde,#2fffd1)"></i><i style="height:3px;background:linear-gradient(90deg,#2effd1,#40ffc0,#29ffd6,#34ffcc,#3cffc4,#2bffd5,#1dffe2,#39ffc6,#23ffdd,#0bfff4,#04fffb,#2affd5,#11ffee,#28ffd8,#45ffbb,#3affc5,#1cffe4,#31ffcf,#1affe6,#02fffd,#22ffdd,#0cfff4,#18ffe7,#01fffe,#31ffcf,#06fffa,#26ffd9,#29ffd7,#1cffe3,#32ffce,#0efff1,#44ffbb,#46ffba,#21ffde,#11ffee,#1cffe3,#12ffed,#29ffd7,#00f9ff,#32ffcd,#37ffc8,#24ffdb,#2bffd5,#1fffe1,#2dffd3,#57ffa8,#53ffad,#06fff9,#17ffe8,#1cffe3,#23ffdd,#04fffb,#34ffcb,#47ffb9,#3affc6,#51ffaf,#2cffd3,#18ffe8,#3fffc1,#1fffe0,#1bffe4,#25ffda,#46ffb9,#04fffb,#16ffe9,#36ffca,#2cffd3,#10ffef,#14ffeb,#0ffff0,#15ffea,#29ffd6,#2effd1,#42ffbe,#18ffe7,#28ffd8,#46ffba,#44ffbc,#3affc6,#2affd6,#43ffbd,#5fffa1,#2cffd3,#2dffd2,#25ffda,#3affc5,#30ffd0,#11ffee,#04fffb,#2fffd1,#3cffc3)"></i><i style="height:3px;background:linear-gradient(90deg,#3bffc4,#4dffb3,#37ffc9,#41ffbe,#49ffb6,#38ffc7,#2affd5,#47ffb9,#30ffcf,#18ffe7,#11ffee,#37ffc8,#1effe1,#35ffca,#52ffae,#48ffb8,#29ffd6,#3effc1,#27ffd8,#10ffef,#30ffd0,#19ffe6,#25ffda,#0ffff0,#3effc1,#13ffec,#34ffcc,#36ffc9,#29ffd6,#3fffc0,#1cffe3,#51ffae,#53ffad,#2fffd1,#1fffe0,#29ffd6,#1fffe0,#36ffc9,#09fff6,#3fffc0,#44ffbb,#32ffce,#38ffc7,#2cffd3,#3affc5,#65ff9b,#60ff9f,#14ffeb,#24ffdb,#29ffd6,#30ffcf,#12ffed,#42ffbe,#54ffab,#47ffb9,#5effa2,#3affc6,#25ffda,#4cffb3,#2dffd3,#29ffd7,#33ffcd,#53ffac,#12ffed,#23ffdc,#43ffbc,#39ffc6,#1dffe2,#21ffde,#1dffe3,#22ffdd,#37ffc9,#3cffc4,#4fffb0,#25ffda,#35ffcb,#53ffad,#51ffaf,#47ffb8,#37ffc8,#50ffaf,#6cff94,#39ffc6,#3affc5,#32ffcd,#48ffb8,#3dffc3,#1effe1,#12ffed,#3cffc3,#4affb6)"></i><i style="height:3px;background:linear-gradient(90deg,#49ffb7,#5affa5,#44ffbb,#4fffb1,#57ffa9,#45ffba,#38ffc8,#54ffac,#3dffc2,#25ffda,#1effe1,#45ffbb,#2cffd4,#42ffbd,#5fffa0,#55ffab,#36ffc9,#4bffb4,#34ffcb,#1dffe2,#3dffc3,#26ffd9,#33ffcd,#1cffe3,#4bffb4,#20ffdf,#41ffbe,#43ffbc,#37ffc9,#4cffb3,#29ffd6,#5fffa1,#60ff9f,#3cffc3,#2cffd3,#37ffc9,#2cffd3,#43ffbc,#17ffe9,#4dffb3,#52ffae,#3fffc1,#45ffba,#39ffc6,#48ffb8,#72ff8e,#6eff92,#21ffde,#32ffce,#37ffc9,#3dffc2,#1fffe0,#4fffb1,#62ff9e,#54ffab,#6bff94,#47ffb8,#32ffcd,#5affa6,#3affc5,#36ffc9,#40ffc0,#61ff9f,#1fffe0,#30ffcf,#51ffaf,#47ffb9,#2bffd5,#2effd1,#2affd5,#2fffd0,#44ffbb,#49ffb7,#5dffa3,#33ffcd,#42ffbd,#60ff9f,#5effa1,#54ffab,#45ffbb,#5effa2,#79ff87,#47ffb9,#48ffb8,#40ffc0,#55ffab,#4affb5,#2cffd4,#1fffe0,#4affb6,#57ffa9)"></i><i style="height:3px;background:linear-gradient(90deg,#56ffaa,#67ff98,#51ffae,#5cffa4,#64ff9c,#53ffad,#45ffba,#61ff9f,#4bffb5,#33ffcc,#2cffd3,#52ffae,#39ffc6,#50ffb0,#6cff94,#62ff9d,#44ffbc,#59ffa7,#42ffbe,#2bffd4,#4affb5,#34ffcc,#40ffbf,#2affd6,#59ffa7,#2effd1,#4effb1,#51ffaf,#44ffbb,#5affa6,#37ffc9,#6cff94,#6dff92,#49ffb6,#3affc6,#44ffbb,#3affc6,#51ffaf,#24ffdb,#5affa6,#5fffa1,#4cffb3,#53ffad,#47ffb9,#55ffab,#7fff81,#7bff85,#2fffd1,#3fffc0,#44ffbb,#4bffb5,#2dffd3,#5cffa4,#6fff91,#61ff9e,#78ff88,#54ffab,#40ffc0,#67ff99,#47ffb8,#44ffbc,#4dffb2,#6eff92,#2dffd2,#3effc2,#5effa2,#54ffac,#38ffc7,#3cffc3,#37ffc8,#3dffc3,#52ffae,#56ffa9,#6aff96,#40ffbf,#50ffb0,#6dff92,#6bff95,#62ff9e,#52ffae,#6bff95,#86ff7a,#54ffac,#55ffab,#4dffb3,#62ff9e,#58ffa8,#39ffc6,#2dffd3,#57ffa9,#64ff9c)"></i><i style="height:3px;background:linear-gradient(90deg,#63ff9d,#74ff8c,#5fffa1,#69ff97,#70ff90,#60ffa0,#53ffad,#6eff92,#58ffa8,#41ffbe,#3affc5,#5fffa1,#47ffb8,#5dffa3,#79ff87,#6fff91,#51ffae,#66ff9a,#4fffb0,#39ffc6,#58ffa8,#42ffbe,#4effb2,#38ffc7,#66ff9a,#3cffc3,#5cffa4,#5effa2,#52ffae,#67ff99,#45ffbb,#78ff88,#7aff86,#57ffa9,#48ffb8,#52ffae,#48ffb8,#5effa2,#33ffcd,#67ff99,#6cff94,#5affa6,#60ffa0,#54ffab,#62ff9e,#8aff76,#86ff7a,#3dffc3,#4dffb3,#52ffae,#58ffa7,#3bffc4,#69ff97,#7bff85,#6eff92,#84ff7c,#62ff9e,#4effb2,#73ff8d,#55ffab,#51ffae,#5bffa5,#7aff86,#3bffc4,#4cffb4,#6bff95,#61ff9f,#46ffb9,#4affb6,#45ffba,#4bffb5,#5fffa1,#63ff9c,#76ff8a,#4effb2,#5dffa3,#7aff86,#78ff88,#6eff92,#5fffa1,#77ff89,#91ff6f,#61ff9f,#62ff9e,#5affa5,#6fff91,#65ff9b,#47ffb9,#3bffc4,#64ff9c,#71ff8f)"></i><i style="height:3px;background:linear-gradient(90deg,#73ff8d,#84ff7c,#71ff8f,#7cff84,#85ff7b,#77ff88,#6cff93,#87ff79,#73ff8d,#5cffa4,#54ffac,#76ff8a,#5cffa3,#6fff91,#88ff78,#7fff81,#62ff9d,#77ff89,#64ff9c,#50ffaf,#70ff90,#5dffa3,#69ff97,#54ffac,#7fff81,#55ffaa,#72ff8e 130px 135px,#65ff9b,#77ff88,#56ffaa,#87ff79,#8aff76,#6aff96,#5dffa3,#69ff97,#61ff9f,#78ff88,#4fffb1,#81ff7f,#85ff7b,#72ff8e,#76ff8a,#68ff97,#74ff8c,#99ff67,#95ff6b,#4fffb1,#5fffa0,#66ff9a,#6fff91,#55ffab,#83ff7d,#94ff6c,#88ff78,#9bff64,#79ff87,#64ff9c,#86ff7a,#67ff99,#62ff9e,#6bff95,#8aff76,#4fffb0,#62ff9e,#82ff7e,#7bff85,#62ff9e,#65ff9a,#60ff9f,#64ff9c,#75ff8b,#77ff89,#87ff79,#5fffa0,#6dff93,#89ff77,#88ff77,#82ff7e,#75ff8b,#8eff72,#a8ff58,#7cff84,#7dff83,#75ff8b,#86ff7a,#7bff85,#5cffa4,#4effb1,#74ff8b,#80ff80)"></i><i style="height:3px;background:linear-gradient(90deg,#84ff7c,#94ff6c,#83ff7d,#8fff71,#9bff65,#91ff6f,#89ff77,#a5ff5b,#93ff6d,#7fff81,#76ff8a,#93ff6d,#78ff88,#87ff79,#9bff65,#90ff70,#74ff8c,#89ff77,#78ff88,#69ff97,#8aff75,#7cff84,#8aff76,#77ff89,#9fff61,#76ff89,#8fff71,#8cff74,#7dff83,#8bff75,#69ff97,#97ff69,#9aff66,#7dff83,#73ff8d,#81ff7f,#7dff83,#95ff6b,#71ff8f,#a1ff5f,#a5ff5b,#92ff6e,#93ff6d,#83ff7d,#8aff76,#aaff55,#a4ff5b,#61ff9f,#72ff8e,#7bff85,#86ff7a,#71ff8f,#9fff61,#b2ff4d,#a8ff58,#baff45,#98ff68,#81ff7f,#9dff63,#7dff83,#75ff8b,#7dff83,#9aff66,#64ff9c,#79ff87,#9aff66,#97ff69,#83ff7d,#88ff78,#83ff7d,#85ff7b,#92ff6e,#91ff6f,#9cff63,#74ff8c,#7fff81,#99ff67 380px 385px,#95ff6b,#8cff74,#a7ff59,#c3ff3c,#9bff64,#9dff62,#95ff6a,#a5ff5b,#97ff69,#77ff89,#67ff99,#88ff78,#91ff6f)"></i><i style="height:3px;background:linear-gradient(90deg,#96ff6a,#a4ff5c,#93ff6d,#a0ff60,#adff53,#a6ff59,#a3ff5d,#c0ff3f,#b2ff4e,#a0ff60,#98ff68,#b3ff4d,#97ff69,#a1ff5f,#b1ff4f,#a2ff5d,#86ff7a,#98ff67,#8aff76,#7eff82,#a1ff5f,#96ff6a,#a7ff59,#98ff68,#bfff41,#98ff68,#aeff52,#a9ff57,#97ff69,#a1ff5e,#7eff82,#a8ff58,#a9ff57,#8eff72,#86ff7a,#96ff6a,#95ff6b,#afff51,#90ff70,#c0ff3f,#c5ff3b,#b2ff4d,#b2ff4e,#a0ff60,#a3ff5d,#bfff41,#b6ff4a,#74ff8c,#83ff7c,#8dff73,#99ff66,#89ff77,#b9ff47,#ceff31,#c7ff39,#daff25,#b8ff47,#a0ff60,#b8ff48,#95ff6b,#8bff75,#8eff71,#a9ff56,#76ff8a,#8bff74,#afff51,#afff50,#a0ff60,#a7ff58,#a4ff5b,#a6ff59,#b1ff4e,#aeff52,#b5ff4b,#8bff75,#92ff6e,#a9ff57,#a8ff57,#a5ff5b,#9fff61,#bdff43,#dcff23,#b9ff47,#bdff43,#b7ff49,#c5ff3b,#b6ff49,#95ff6b,#82ff7e,#9eff62,#a3ff5c)"></i><i style="height:3px;background:linear-gradient(90deg,#aaff56,#b4ff4b,#a3ff5d,#afff50,#bdff42,#b9ff46,#b9ff47,#d9ff27,#ceff31,#bfff40,#baff46,#d4ff2b,#b8ff48,#beff41,#caff36,#b8ff48,#99ff67,#a8ff58,#99ff67,#8fff71,#b3ff4d,#adff53,#c1ff3e,#b6ff49,#dfff20,#baff45,#cfff30,#c8ff37,#b4ff4c,#bbff45,#95ff6b,#baff46,#b9ff47,#9dff62,#96ff6a,#a7ff59,#a9ff57,#c6ff39,#abff54,#deff22,#e4ff1b,#d4ff2b,#d3ff2c,#c0ff40 215px 220px,#d6ff29,#caff36,#87ff79,#94ff6c,#9cff64,#aaff56,#9dff63,#cfff31,#e8ff17,#e4ff1b,#f9ff06,#daff25,#c2ff3d,#d7ff29,#b1ff4f,#a3ff5d,#a2ff5e,#b9ff46,#87ff79,#9bff64,#c0ff40,#c4ff3b,#b9ff46,#c5ff3a 340px 345px,#c9ff37,#d3ff2c,#cdff32,#d1ff2e,#a4ff5b,#a7ff58,#baff46,#b7ff48,#b4ff4c,#afff50,#ceff31,#f0ff0f,#d3ff2d,#dbff24,#d7ff28,#e6ff19,#d8ff28,#b5ff4a,#a0ff60,#b7ff49,#b8ff47)"></i><i style="height:3px;background:linear-gradient(90deg,#c0ff40,#c6ff39,#b3ff4d,#beff42,#cbff34,#c9ff36,#cbff34,#eeff11,#e8ff17,#ddff22,#dbff24,#f6ff09,#dbff24,#dfff20,#e7ff19,#d1ff2f,#aeff52,#b9ff47,#a8ff58,#9eff62,#c2ff3d,#c0ff40,#d8ff27,#d2ff2d,#feff01,#ddff22,#f1ff0e,#eaff15,#d4ff2c,#d7ff28,#afff51,#ceff31,#caff36,#adff53,#a5ff5b,#b6ff49,#baff45,#daff26,#c4ff3b,#f8ff07,#fffc00,#f5ff0a,#f6ff09,#e3ff1d,#e0ff1f,#f2ff0d,#e1ff1e,#9cff64,#a5ff5b,#abff55,#b8ff48,#adff53,#e1ff1f,#feff01,#ffff00,#ffe900,#fcff03,#e6ff1a,#f8ff07,#d1ff2e,#beff41,#b9ff46,#cbff35,#97ff69,#aaff56,#ceff32,#d5ff2a,#cfff30,#dfff20,#e4ff1b,#ebff15,#f6ff09,#f0ff0f,#f1ff0e,#c2ff3e,#c0ff3f,#cdff32,#c7ff38,#c2ff3e,#bdff42,#ddff22,#fffd00,#e9ff16,#f6ff09,#f7ff08,#fff700,#faff05,#d9ff27,#c1ff3e,#d3ff2c,#d0ff2f)"></i><i style="height:3px;background:linear-gradient(90deg,#d7ff28,#d9ff26,#c3ff3c,#cbff35,#d7ff29,#d5ff2a,#d9ff26,#feff01,#fcff03,#f6ff09,#f8ff07,#ffea00,#fdff02,#fffe00,#fffa00,#ecff14,#c5ff3a,#cbff35,#b7ff49,#aaff55,#ceff32,#cdff32,#e8ff17 110px 115px,#ffe900,#fbff04,#ffee00,#fff400,#f4ff0b,#f5ff0a,#caff35,#e4ff1b,#dcff24,#bcff43,#b2ff4d,#c2ff3d,#c7ff38,#e8ff17,#d7ff29,#fff200,#ffe500,#ffed00,#ffea00,#fffa00,#fffe00,#fff100,#faff05,#b3ff4d,#b6ff49,#b9ff47,#c4ff3c,#b9ff46,#edff12,#fff200,#ffec00,#ffd200,#ffe600,#fff800,#ffe600,#f2ff0d,#dcff23,#d2ff2d,#deff22,#a7ff59,#b6ff49,#d8ff27,#e1ff1f,#deff21,#f3ff0c,#fdff02,#fff600,#ffe900,#ffee00 360px 365px,#e1ff1e,#dbff24,#e2ff1d,#d8ff28,#cfff31,#c9ff37,#e7ff18,#fff200,#f9ff06,#fff400,#ffef00,#ffdc00,#ffe500,#fbff04,#e3ff1c,#f2ff0d,#eaff15)"></i><i style="height:3px;background:linear-gradient(90deg,#f1ff0e,#efff10,#d5ff2b,#d8ff27,#e1ff1e,#dfff21,#e4ff1b,#fff500,#fff300,#fff400,#ffef00,#ffd100,#ffe400,#ffdf00,#ffdc00,#fff600,#dfff20 80px 85px,#c6ff39,#b7ff49,#d7ff28 100px 105px,#f4ff0b,#f9ff06,#ffd600,#ffea00,#ffd300,#ffd700,#ffeb00,#ffec00,#e8ff17,#fdff02,#f0ff0f,#cdff32,#c0ff3f,#cdff32,#d2ff2e,#f2ff0d,#e5ff1a,#ffe300,#ffd200,#ffd500,#ffcf00,#ffdc00,#ffdf00,#ffd400,#ffea00,#cdff33,#caff35,#c8ff38,#cfff31,#c3ff3c,#f6ff09,#ffe800,#ffde00,#ffc000,#ffcf00,#ffdb00,#ffc800,#ffec00,#fdff02,#eeff11,#f4ff0b,#b9ff46,#c3ff3c,#e1ff1e,#e9ff16 330px 335px,#fffd00,#ffee00,#ffdf00,#ffce00,#ffd000,#ffcf00,#fffc00,#f8ff07,#fbff04,#ebff14,#ddff22,#d4ff2c,#f0ff0f,#ffeb00,#fffa00,#ffe600,#ffdc00,#ffc400,#ffca00,#ffe400,#fff900,#ffee00,#fff700)"></i><i style="height:3px;background:linear-gradient(90deg,#fff100,#fff700,#e9ff16,#e8ff17,#edff12,#e8ff17,#edff12,#ffed00,#ffe800,#ffe500,#ffdb00,#ffb900,#ffc700,#ffc000,#ffbd00,#ffd700,#feff01,#f7ff08,#d9ff26,#c5ff3a,#e0ff1f,#dfff20,#fdff02,#fff900,#ffc700,#ffd400,#ffb900,#ffba00,#ffcb00,#ffcd00,#fff600,#ffe800,#fff800,#e1ff1f,#cfff30,#d9ff27,#dbff24,#fbff04,#f1ff0f,#ffd600,#ffc200,#ffc000,#ffb600,#ffbf00 215px 220px,#ffb500,#ffcd00,#eaff15,#e2ff1d,#daff26,#dbff24,#cdff32,#feff01,#ffe100,#ffd400,#ffb100,#ffba00,#ffc100,#ffab00,#ffcb00,#ffe100,#fff100 305px 310px,#cfff30,#d3ff2d,#ebff14,#f0ff0f,#f1ff0e,#fff300,#ffe000,#ffcb00,#ffb500,#ffb300,#ffb000,#ffdb00,#ffe700,#ffe900,#fffd00,#eeff11,#e0ff1f,#f8ff07,#ffe600,#fff200,#ffdb00,#ffcc00,#ffb000 425px 430px,#ffc600,#ffd800,#ffce00,#ffda00)"></i><i style="height:3px;background:linear-gradient(90deg,#ffd300,#ffdd00,#fffd00,#fbff04,#faff05,#f3ff0d,#f5ff0a,#ffe600,#ffdf00,#ffd800,#ffca00,#ffa500,#ffad00,#ffa200,#ff9d00,#ffb700,#ffe100,#ffec00,#f0ff0f,#d6ff29,#ebff14,#e7ff18,#fffb00,#fff100,#ffbc00,#ffc200,#ffa200,#ff9e00,#ffac00,#ffad00,#ffd600,#ffcb00,#ffdf00,#f8ff07,#e2ff1e,#e6ff19,#e5ff1a,#fffc00,#faff05,#ffcd00,#ffb500,#ffaf00,#ff9f00,#ffa300,#ffa000,#ff9500,#ffad00,#fff400,#feff01,#efff10,#ebff15,#d9ff27,#fffa00,#ffdc00,#ffcc00,#ffa600,#ffa900 280px 285px,#ff8f00,#ffaa00,#ffbe00,#ffd000,#ffd500,#eaff15,#e6ff19,#f7ff08,#f8ff07 330px 335px,#ffec00,#ffd500,#ffbc00,#ffa000,#ff9800,#ff9100,#ffb900,#ffc600,#ffcc00,#ffe400,#fffb00,#efff10,#fffd00,#ffe100,#ffec00,#ffd400,#ffc000,#ff9f00,#ff9900,#ffa900,#ffb700,#ffad00,#ffba00)"></i><i style="height:3px;background:linear-gradient(90deg,#ffb300,#ffc000,#ffe300,#ffef00,#fff400,#feff01 25px 30px,#ffe000,#ffd900,#ffcf00,#ffbc00,#ff9300,#ff9600,#ff8600,#ff7d00,#ff9500,#ffbf00,#ffce00,#fff300,#ebff14,#f8ff07,#f0ff0f,#fff600,#ffeb00,#ffb500,#ffb400,#ff8f00,#ff8500,#ff8e00,#ff8d00,#ffb400,#ffac00,#ffc300,#ffed00,#f7ff08,#f5ff0a,#f0ff0f,#fff500,#fffd00,#ffc700,#ffac00,#ffa100,#ff8c00,#ff8a00,#ff8200,#ff7500,#ff8c00,#ffd200,#ffe200,#fff600,#fdff02,#e6ff19,#fff300,#ffd800,#ffc700,#ff9f00,#ff9c00,#ff9500,#ff7600,#ff8b00,#ff9b00,#ffad00,#ffb500,#fff600,#fdff02,#fff900,#fffd00,#feff01,#ffe700,#ffce00,#ffb000,#ff8e00,#ff8000,#ff7400,#ff9700,#ffa300,#ffab00,#ffc700,#ffe400,#fffc00,#fff200,#ffdb00,#ffe800,#ffcf00,#ffb800,#ff9300,#ff8600,#ff8f00,#ff9800,#ff8b00,#ff9800)"></i><i style="height:3px;background:linear-gradient(90deg,#ff9100,#ffa000,#ffc600,#ffd700,#ffe200,#fff200,#fff700,#ffdb00,#ffd400,#ffc800,#ffb200,#ff8600,#ff8200,#ff6d00,#ff5f00,#ff7200,#ff9b00,#ffac00,#ffd500,#fff900,#fff500,#fbff04,#fff000,#ffe700,#ffb000,#ffab00,#ff8000,#ff6f00,#ff7200,#ff6d00,#ff9100,#ff8a00,#ffa300,#ffd100,#ffef00,#fff700,#feff01,#ffee00,#fff700,#ffc200,#ffa600,#ff9600,#ff7c00,#ff7400,#ff6700,#ff5600,#ff6900,#ffad00,#ffc100,#ffd900,#ffeb00,#f7ff08,#ffeb00,#ffd400,#ffc500,#ff9c00,#ff9300,#ff8600,#ff6000,#ff6e00,#ff7900,#ff8800,#ff9200,#ffd500,#ffe600,#ffe700,#fff200,#fffa00,#ffe400,#ffcb00,#ffa900,#ff8200,#ff6b00,#ff5900,#ff7600,#ff7f00,#ff8800,#ffa600,#ffc800,#ffe600,#ffe400,#ffd400,#ffe300,#ffcc00,#ffb400,#ff8b00,#ff7700,#ff7800,#ff7a00,#ff6a00,#ff7500)"></i><i style="height:3px;background:linear-gradient(90deg,#ff6e00,#ff7e00,#ffa600,#ffbb00,#ffcc00,#ffe200,#ffec00,#ffd500,#ffcf00,#ffc300,#ffab00,#ff7c00,#ff7200,#ff5700,#ff4300,#ff5100,#ff7600,#ff8700,#ffb400,#ffdd00,#ffe100,#fff500,#ffea00,#ffe300,#ffaf00,#ffa500,#ff7600,#ff5d00,#ff5800,#ff4f00,#ff6e00,#ff6700,#ff8100,#ffb100,#ffd400,#ffe200,#fff100,#ffe400,#fff000,#ffbf00,#ffa200,#ff8f00,#ff7100,#ff6200,#ff4f00,#ff3800,#ff4700,#ff8700,#ff9c00,#ffb900,#ffd100,#fff300,#ffe000,#ffcf00,#ffc300,#ff9a00,#ff8e00,#ff7b00,#ff4f00,#ff5400,#ff5800,#ff6300,#ff6d00,#ffb000,#ffc700,#ffd000,#ffe300,#fff100,#ffe000,#ffc900,#ffa500,#ff7a00,#ff5c00,#ff4200,#ff5700,#ff5b00,#ff6300,#ff8200,#ffa800,#ffcc00,#ffd200,#ffca00,#ffdd00,#ffca00,#ffb100,#ff8600,#ff6d00,#ff6600,#ff6000,#ff4b00,#ff5200)"></i><i style="height:3px;background:linear-gradient(90deg,#ff4b00,#ff5a00,#ff8200,#ff9b00,#ffb200,#ffce00,#ffde00,#ffcd00,#ffcb00,#ffc000,#ffa700,#ff7500,#ff6600,#ff4500,#ff2c00,#ff3200,#ff5100,#ff6100,#ff8e00,#ffbc00,#ffc800,#ffe400,#ffe000,#ffdf00,#ffae00,#ffa300,#ff7000,#ff5100,#ff4300,#ff3300,#ff4c00,#ff4300,#ff5d00,#ff8e00,#ffb400,#ffc800,#ffde00,#ffd900,#ffe900,#ffbc00,#ffa000,#ff8b00,#ff6900,#ff5400,#ff3b00,#ff1e00,#ff2600,#ff6000,#ff7500,#ff9500,#ffb200,#ffdb00,#ffd100,#ffc800,#ffc000,#ff9b00,#ff8c00,#ff7400,#ff4300,#ff3f00,#ff3b00,#ff4000,#ff4600,#ff8800,#ffa400,#ffb400,#ffcf00,#ffe500,#ffdb00,#ffc800,#ffa500,#ff7600,#ff5200,#ff3100,#ff3c00,#ff3900,#ff3d00,#ff5c00,#ff8400,#ffad00,#ffbb00,#ffbc00,#ffd500,#ffc700,#ffb100,#ff8500,#ff6700,#ff5900,#ff4b00,#ff2f00,#ff3000)"></i><i style="height:3px;background:linear-gradient(90deg,#ff2900,#ff3500,#ff5d00,#ff7900,#ff9400,#ffb600,#ffcc00,#ffc300,#ffc500,#ffbd00,#ffa500,#ff7200,#ff5e00,#ff3800,#ff1800,#ff1600,#ff2d00,#ff3a00,#ff6600,#ff9600,#ffa900,#ffcd00,#ffd300,#ffd800,#ffae00,#ffa300,#ff6e00,#ff4900,#ff3300,#ff1b00,#ff2c00,#ff2000,#ff3800,#ff6800,#ff9100,#ffab00,#ffc700,#ffc900,#ffdf00,#ffb900,#ff9f00,#ff8900,#ff6400,#ff4b00,#ff2b00,#ff0800,#ff0900,#ff3b00,#ff4d00,#ff6d00,#ff8f00,#ffbe00,#ffbd00 260px 265px,#ffbc00,#ff9b00,#ff8d00,#ff7200,#ff3b00,#ff2f00,#ff2200,#ff1f00,#ff2000,#ff5e00,#ff7c00,#ff9200,#ffb500,#ffd400,#ffd300,#ffc600,#ffa600,#ff7600,#ff4d00,#ff2400,#ff2500,#ff1b00,#ff1900,#ff3500,#ff5c00,#ff8900,#ff9f00,#ffa800,#ffc900,#ffc200,#ffb000,#ff8600,#ff6600,#ff5000,#ff3a00,#ff1700,#ff1000)"></i><i style="height:3px;background:linear-gradient(90deg,#ff0900,#ff1100,#ff3600,#ff5300,#ff7200,#ff9900,#ffb600,#ffb500,#ffbd00,#ffba00,#ffa300,#ff7100,#ff5900,#ff2e00,#ff0800,#fe0000,#ff0d00,#ff1400,#ff3c00,#ff6d00,#ff8600,#ffb100,#ffc000,#ffce00,#ffac00,#ffa400,#ff7000,#ff4700,#ff2900,#ff0800,#ff1000,#fe0000,#ff1200,#ff4100,#ff6b00,#ff8900,#ffac00,#ffb600,#ffd100,#ffb300,#ff9e00,#ff8900,#ff6300,#ff4500,#ff2000,#f60000,#ee0000,#ff1700,#ff2500,#ff4400,#ff6800,#ff9b00,#ffa400,#ffad00,#ffb400,#ff9b00,#ff8e00,#ff7200,#ff3900,#ff2500,#ff0f00,#ff0200,#fc0000,#ff3400,#ff5100,#ff6c00,#ff9600,#ffbe00,#ffc700,#ffc100,#ffa700,#ff7900,#ff4d00,#ff1e00,#ff1400,#ff0000,#f60000,#ff0d00,#ff3300,#ff6200,#ff7d00,#ff9000,#ffb900,#ffba00,#ffaf00,#ff8900,#ff6700,#ff4d00,#ff2f00,#ff0400,#f40000)"></i><i style="height:3px;background:linear-gradient(90deg,#f70000,#fa0000,#ff1b00,#ff3600,#ff5700,#ff8200,#ffa500,#ffac00,#ffbb00,#ffbd00,#ffab00,#ff7d00,#ff6300,#ff3500,#ff0a00,#f80000,#fd0000,#fb0000,#ff1f00,#ff4d00,#ff6900,#ff9900,#ffb100,#ffc900,#ffb100,#ffae00,#ff7e00,#ff5300,#ff3000,#ff0700,#ff0400,#ec0000,#f90000,#ff2400,#ff4d00,#ff6e00,#ff9600,#ffa700,#ffc900,#ffb400,#ffa500,#ff9400,#ff6f00,#ff4f00,#ff2500,#f50000,#e60000,#ff0400,#ff0b00,#ff2500,#ff4800,#ff7f00,#ff8f00,#ffa100,#ffb200,#ffa100,#ff9a00,#ff8000,#ff4600,#ff2b00,#ff0d00,#f60000,#e80000,#ff1700,#ff3100,#ff4d00,#ff7c00,#ffab00,#ffbe00,#ffc200,#ffb000,#ff8700,#ff5c00,#ff2800,#ff1500,#f70000,#e50000,#f30000,#ff1500,#ff4200,#ff6200,#ff7c00,#ffac00,#ffb700,#ffb400,#ff9400,#ff7600,#ff5900,#ff3500,#ff0300,#ea0000)"></i><i style="height:3px;background:linear-gradient(90deg,#f10000,#ed0000,#ff0700,#ff2000,#ff4000,#ff6d00,#ff9500,#ffa300,#ffba00,#ffc300,#ffb700,#ff8d00,#ff7400,#ff4400,#ff1500,#fc0000,#f90000,#ef0000,#ff0900,#ff3200,#ff4e00,#ff8200,#ffa200,#ffc200,#ffb600,#ffba00,#ff9000,#ff6800,#ff4100,#ff1100,#ff0400,#e40000,#ea0000,#ff0f00,#ff3500,#ff5600,#ff8100,#ff9900,#ffc100,#ffb500,#ffae00,#ffa200,#ff8100,#ff6000,#ff3300,#ff0000,#e80000,#fb0000,#f90000,#ff0e00,#ff2e00,#ff6400,#ff7b00,#ff9500,#ffae00,#ffa800 275px 280px,#ff9200,#ff5a00,#ff3c00,#ff1700,#f70000,#e00000,#ff0300,#ff1700,#ff3200,#ff6300,#ff9700,#ffb400,#ffc300,#ffba00,#ff9900,#ff7100,#ff3c00,#ff2200,#fb0000,#df0000,#e40000,#fd0000,#ff2800,#ff4800,#ff6800,#ff9e00,#ffb300,#ffba00,#ffa300,#ff8900,#ff6c00,#ff4600,#ff0e00,#ec0000)"></i><i style="height:3px;background:linear-gradient(90deg,#f10000,#e40000,#f60000,#ff0a00,#ff2800,#ff5500,#ff8100,#ff9600,#ffb400,#ffc400,#ffbf00,#ff9c00,#ff8500,#ff5600,#ff2400,#ff0600,#f90000,#e70000,#f60000,#ff1900,#ff3300,#ff6800,#ff8d00,#ffb600,#ffb500,#ffc200,#ffa100,#ff7c00,#ff5500,#ff2100,#ff0b00,#e20000,#df0000,#fa0000,#ff1c00,#ff3d00,#ff6900,#ff8600,#ffb400,#ffb200,#ffb300,#ffad00,#ff9100,#ff7200,#ff4400,#ff0e00,#ef0000,#f80000,#ed0000,#f90000,#ff1400,#ff4800,#ff6200,#ff8400,#ffa600,#ffaa00,#ffb200,#ffa200,#ff6f00,#ff4f00,#ff2500,#fe0000,#de0000,#f40000,#ff0000,#ff1700,#ff4700,#ff7f00,#ffa400,#ffbd00,#ffc000,#ffa800,#ff8600,#ff5200,#ff3300,#ff0500,#e00000,#da0000,#ea0000,#ff0e00,#ff2d00,#ff5000,#ff8c00,#ffa900,#ffba00,#ffad00,#ff9a00,#ff8100,#ff5900,#ff1d00,#f30000)"></i><i style="height:3px;background:linear-gradient(90deg,#f60000,#df0000,#e80000,#f50000,#ff1100,#ff3c00,#ff6a00,#ff8500,#ffa900,#ffc100,#ffc400,#ffa900,#ff9500,#ff6900,#ff3600,#ff1300,#fe0000,#e50000,#e90000,#ff0200,#ff1800,#ff4b00,#ff7500,#ffa400,#ffae00,#ffc500,#ffae00,#ff9000,#ff6a00,#ff3400,#ff1600,#e50000,#d80000,#ea0000,#ff0600,#ff2300,#ff4f00,#ff7000,#ffa300,#ffaa00,#ffb400,#ffb600,#ffa000,#ff8400,#ff5800,#ff1f00,#fb0000,#fa0000,#e70000,#e80000,#fc0000,#ff2b00,#ff4700,#ff6e00,#ff9700,#ffa600,#ffb700,#ffb000,#ff8400,#ff6400,#ff3700,#ff0b00,#e10000,#eb0000,#ec0000,#fc0000,#ff2a00,#ff6300,#ff8f00,#ffb200,#ffbf00,#ffb300,#ff9800,#ff6900,#ff4800,#ff1500,#e60000,#d50000,#db0000,#f50000,#ff1200,#ff3600,#ff7500,#ff9a00,#ffb500,#ffb300,#ffa800,#ff9400,#ff6d00,#ff3000,#ff0100)"></i><i style="height:3px;background:linear-gradient(90deg,#ff0200,#e00000,#df0000,#e40000,#f90000,#ff2300,#ff5000,#ff7000,#ff9a00,#ffba00,#ffc500,#ffb200,#ffa400,#ff7c00,#ff4a00,#ff2300,#ff0800,#e70000,#e20000,#ef0000,#fd0000,#ff2d00,#ff5800,#ff8d00,#ffa200,#ffc200,#ffb700,#ffa100,#ff8000,#ff4a00,#ff2700,#ee0000,#d60000,#de0000,#f10000,#ff0a00,#ff3400,#ff5700,#ff8e00,#ff9e00,#ffb000,#ffba00,#ffac00,#ff9500,#ff6c00,#ff3300,#ff0b00,#ff0100,#e50000,#dd0000,#e70000,#ff1000,#ff2b00,#ff5400,#ff8400,#ff9d00,#ffb700,#ffba00,#ff9600,#ff7a00,#ff4d00,#ff1b00,#ea0000,#e80000,#de0000,#e50000,#ff0d00,#ff4500,#ff7500,#ffa000,#ffb900 350px 355px,#ffa800,#ff8000,#ff5f00,#ff2800,#f20000,#d60000,#d00000,#e10000,#f70000,#ff1a00,#ff5a00,#ff8600,#ffa900,#ffb300,#ffb200,#ffa500,#ff8300,#ff4600,#ff1300)"></i><i style="height:3px;background:linear-gradient(90deg,#ff1200,#e70000,#da0000,#d70000,#e60000,#ff0a00,#ff3500,#ff5800,#ff8700,#ffad00,#ffc100,#ffb800,#ffb100,#ff8e00,#ff5f00,#ff3600,#ff1600,#ed0000,#e00000,#e20000,#e80000,#ff1000,#ff3a00,#ff7200,#ff8f00,#ffb900,#ffba00,#ffaf00,#ff9400,#ff6200,#ff3b00,#fd0000,#db0000,#d70000,#e10000,#f30000,#ff1900,#ff3c00,#ff7500,#ff8c00,#ffa700,#ffba00,#ffb500,#ffa500,#ff7f00,#ff4900,#ff1e00,#ff0c00,#e80000,#d80000 245px 250px,#f60000,#ff0e00,#ff3800,#ff6c00,#ff8d00,#ffb200,#ffbe00,#ffa500,#ff8e00,#ff6300,#ff2f00,#f80000,#ea0000,#d70000,#d30000,#f10000,#ff2500,#ff5700,#ff8800,#ffac00,#ffb800,#ffb300,#ff9400,#ff7700,#ff3f00,#ff0500,#de0000,#cc0000,#d20000,#df0000,#fd0000,#ff3c00,#ff6d00,#ff9800,#ffad00,#ffb700,#ffb300,#ff9700,#ff5e00,#ff2800)"></i><i style="height:3px;background:linear-gradient(90deg,#ff2600,#f40000,#dc0000,#cf0000,#d50000,#f10000,#ff1a00,#ff3e00,#ff7000,#ff9c00,#ffb800,#ffb900,#ffba00,#ff9e00,#ff7400,#ff4b00,#ff2700,#f90000,#e20000,#da0000,#d60000,#f50000,#ff1c00,#ff5300,#ff7800,#ffaa00,#ffb700 130px 135px,#ffa600,#ff7a00,#ff5200,#ff1100,#e60000,#d60000,#d40000,#df0000,#fe0000,#ff2000,#ff5900,#ff7700,#ff9900,#ffb500,#ffb900,#ffb100,#ff9200,#ff5f00,#ff3300,#ff1b00,#f10000,#d70000,#cd0000,#e10000,#f20000,#ff1a00,#ff5000,#ff7900,#ffa500,#ffbd00,#ffaf00,#ffa000,#ff7a00,#ff4700,#ff0c00,#f30000,#d50000,#c70000,#da0000,#ff0600,#ff3600,#ff6c00,#ff9800,#ffb100,#ffb800,#ffa500,#ff8d00,#ff5900,#ff1c00,#ec0000,#cf0000,#c80000,#cc0000,#e30000,#ff1d00,#ff5000,#ff8200,#ffa100,#ffb600,#ffbc00,#ffa800,#ff7500,#ff4000)"></i><i style="height:3px;background:linear-gradient(90deg,#ff4000,#ff0c00,#ea0000,#d20000,#ce0000,#e30000,#ff0500,#ff2600,#ff5800,#ff8900,#ffac00,#ffb500,#ffbf00,#ffac00,#ff8800,#ff6300,#ff3f00,#ff0e00,#f00000,#e00000,#d10000,#e50000,#ff0400,#ff3800,#ff5e00,#ff9700,#ffae00,#ffba00,#ffb300,#ff9000,#ff6d00,#ff2c00,#fb0000,#e10000,#d50000 170px 175px,#ed0000,#ff0a00,#ff4100,#ff6000,#ff8700,#ffaa00,#ffb800,#ffb900,#ffa200,#ff7600,#ff4c00,#ff3300,#ff0400,#e20000,#cf0000,#d80000,#e00000,#ff0100,#ff3400,#ff6000,#ff9400,#ffb600,#ffb400,#ffaf00,#ff9100,#ff6200,#ff2700,#ff0900,#e10000,#c70000,#ce0000,#f00000,#ff1b00,#ff5000,#ff8100,#ffa300,#ffb600,#ffaf00,#ffa200,#ff7400,#ff3800,#ff0500,#de0000,#cb0000,#c30000,#d00000,#ff0400,#ff3400,#ff6900,#ff8f00,#ffae00,#ffc000,#ffb700,#ff8d00,#ff5c00)"></i><i style="height:3px;background:linear-gradient(90deg,#ff5e00,#ff2800,#ff0000,#dc0000,#cd0000,#d70000,#f10000,#ff0d00,#ff3e00,#ff7000,#ff9900,#ffab00,#ffbf00,#ffb600,#ff9a00,#ff7c00,#ff5a00,#ff2700,#ff0500,#eb0000,#d30000,#da0000,#ed0000,#ff1b00,#ff3f00,#ff7d00,#ff9d00,#ffb500,#ffbc00,#ffa400,#ff8900,#ff4b00,#ff1800,#f50000,#dc0000,#d10000,#de0000,#f30000,#ff2600,#ff4500,#ff7000,#ff9a00,#ffb100,#ffbc00,#ffaf00,#ff8b00,#ff6700,#ff4e00,#ff1d00,#f40000,#d80000,#d50000,#d10000,#e80000,#ff1700,#ff4200,#ff7c00,#ffa700,#ffb100,#ffb900,#ffa600,#ff7e00,#ff4500,#ff2400,#f40000,#cf0000,#c90000,#de0000,#fe0000,#ff3000,#ff6300,#ff8d00,#ffac00,#ffb300 365px 370px,#ff8f00,#ff5800,#ff2400,#f50000,#d60000,#c10000,#c20000,#eb0000,#ff1600,#ff4b00,#ff7600,#ff9f00,#ffbd00,#ffc100,#ffa100,#ff7800)"></i><i style="height:3px;background:linear-gradient(90deg,#ff8000,#ff4c00,#ff2000,#f20000,#d40000,#d10000,#df0000,#f20000,#ff1e00,#ff5000,#ff7e00,#ff9800,#ffb700,#ffba00,#ffaa00,#ff9500,#ff7900,#ff4800,#ff2100,#ff0100,#dd0000,#d70000,#db0000,#fc0000,#ff1b00,#ff5900,#ff8100,#ffa500,#ffbb00,#ffb300,#ffa500,#ff6e00,#ff3c00,#ff1400,#ef0000,#d50000 175px 180px,#de0000,#ff0900,#ff2400,#ff5000,#ff8000,#ffa000,#ffb800 215px 220px,#ff9f00,#ff8300,#ff6f00,#ff3d00,#ff1000,#e90000,#db0000,#c90000,#d20000,#f60000,#ff1e00,#ff5a00,#ff8d00,#ffa400,#ffbc00,#ffb700,#ff9a00,#ff6800,#ff4800,#ff1300,#e20000,#cd0000,#d20000,#e40000,#ff0d00,#ff3d00,#ff6c00,#ff9700,#ffad00,#ffbd00,#ffa800,#ff7b00,#ff4a00,#ff1800,#ed0000,#c90000,#ba0000,#d50000,#f50000,#ff2600,#ff5300,#ff8500,#ffaf00,#ffc200,#ffb200,#ff9500)"></i><i style="height:3px;background:linear-gradient(90deg,#ff9b00,#ff6f00,#ff4400,#ff1000,#e60000,#d40000,#d60000,#dd0000,#ff0200,#ff3000,#ff5f00,#ff7f00,#ffa700,#ffb500,#ffb200,#ffa800,#ff9400,#ff6700,#ff4100,#ff1c00,#ef0000,#de0000,#d40000,#e70000,#fa0000,#ff3400,#ff5e00,#ff8c00,#ffb000,#ffb700,#ffb800,#ff8d00,#ff6100,#ff3700,#ff0c00,#e40000,#d50000,#d10000,#f10000,#ff0500,#ff2f00,#ff6100,#ff8900,#ffab00,#ffb700,#ffaa00,#ff9900,#ff8d00,#ff5e00,#ff2f00,#ff0300,#e90000,#cb0000,#c60000,#dd0000,#fb0000,#ff3600,#ff6d00,#ff8e00,#ffb300,#ffbd00,#ffaf00,#ff8700,#ff6c00,#ff3500,#fd0000,#dc0000,#d10000,#d40000,#ee0000,#ff1800,#ff4700,#ff7800,#ff9b00,#ffbb00,#ffb600,#ff9700,#ff6e00,#ff3d00,#ff0e00,#dc0000,#bd0000,#c90000,#dc0000,#ff0400,#ff2e00,#ff6400,#ff9800,#ffb900,#ffb800,#ffa900)"></i><i style="height:3px;background:linear-gradient(90deg,#ffaf00,#ff8d00,#ff6700,#ff3300,#ff0200,#e30000,#d50000,#d10000,#ea0000,#ff1300,#ff3e00,#ff6100,#ff9000,#ffa800,#ffb000,#ffb200,#ffa900,#ff8400,#ff6100,#ff3b00,#ff0800,#ed0000,#d70000,#db0000,#e10000,#ff1200,#ff3a00,#ff6c00,#ff9a00,#ffb000,#ffc000,#ffa300,#ff8100,#ff5c00,#ff2e00,#fc0000,#df0000,#cd0000,#e10000,#eb0000,#ff0f00,#ff4100,#ff6c00,#ff9600,#ffad00 220px 225px,#ffa800,#ffa600,#ff7d00,#ff5000,#ff2000,#ff0000,#d60000,#c40000,#cd0000,#df0000,#ff1300,#ff4900,#ff7000,#ffa000,#ffb800,#ffb900,#ff9f00,#ff8d00,#ff5a00,#ff1f00,#f40000,#dc0000,#cf0000,#da0000,#f70000,#ff2100,#ff5400,#ff8000,#ffae00,#ffba00,#ffaa00,#ff8e00,#ff6300,#ff3300,#f90000,#cc0000,#c80000,#cc0000,#e70000,#ff0b00,#ff3f00,#ff7900,#ffa500,#ffb300 445px 450px)"></i><i style="height:3px;background:linear-gradient(90deg,#ffb800,#ffa400,#ff8800,#ff5700,#ff2300,#fa0000,#df0000,#cd0000,#db0000,#f90000,#ff2000,#ff4100,#ff7300,#ff9300,#ffa600,#ffb500,#ffb700,#ff9c00,#ff8000,#ff5b00,#ff2600,#ff0400,#e30000,#da0000,#d20000,#f50000,#ff1600,#ff4700,#ff7c00,#ff9e00,#ffbd00,#ffb000,#ff9b00,#ff7f00,#ff5200,#ff1d00,#f40000,#d40000,#d90000,#d80000,#f30000,#ff2000,#ff4c00,#ff7b00,#ff9b00,#ffa700,#ffae00,#ffb700,#ff9800,#ff7000,#ff4100,#ff1c00,#e90000,#cc0000,#c70000,#cb0000,#f30000,#ff2500,#ff4d00,#ff8400,#ffa900,#ffb900,#ffae00,#ffa800,#ff7d00,#ff4300,#ff1400,#f10000,#d50000,#d00000,#df0000,#fd0000,#ff2e00,#ff5d00,#ff9600,#ffb100,#ffb200,#ffa500,#ff8500,#ff5900,#ff1d00,#e60000,#d20000,#c60000,#d30000,#eb0000,#ff1b00,#ff5600,#ff8900,#ffa300,#ffb300)"></i><i style="height:3px;background:linear-gradient(90deg,#ffb600,#ffb100,#ffa200,#ff7900,#ff4700,#ff1a00,#f40000,#d30000 35px 40px,#e60000,#ff0400,#ff2100,#ff5400,#ff7900,#ff9500,#ffae00,#ffbd00,#ffad00,#ff9a00,#ff7a00,#ff4600,#ff2000,#f60000,#e30000,#cd0000,#e20000,#f60000,#ff2300,#ff5900,#ff8300,#ffaf00,#ffb200,#ffac00,#ff9c00,#ff7600,#ff4100,#ff1300,#e50000,#db0000,#cd0000,#dd0000,#ff0300,#ff2b00,#ff5c00,#ff8200,#ff9800,#ffab00,#ffc100,#ffad00,#ff8d00,#ff6200,#ff3c00,#ff0400,#dc0000,#cb0000,#c10000,#db0000,#ff0400,#ff2800,#ff6300,#ff9100,#ffae00,#ffb200,#ffbb00,#ff9a00,#ff6700,#ff3700,#ff0f00,#e60000,#d30000,#d10000,#e10000,#ff0900,#ff3700,#ff7600,#ff9c00,#ffad00,#ffb100,#ff9f00,#ff7d00,#ff4300,#ff0800,#e80000,#cc0000,#c90000,#d40000,#f90000,#ff3100,#ff6700,#ff8a00,#ffa700)"></i><i style="height:3px;background:linear-gradient(90deg,#ffa900,#ffb300 5px 10px,#ff9600,#ff6a00,#ff3d00,#ff1100,#e30000,#d50000,#db0000,#ee0000,#ff0400,#ff3400,#ff5a00,#ff7c00,#ff9f00,#ffba00,#ffb600,#ffae00,#ff9600,#ff6600,#ff3f00,#ff1100,#f40000,#d20000,#d90000,#df0000,#ff0200,#ff3400,#ff6100,#ff9700,#ffa800,#ffb200,#ffb000,#ff9600,#ff6600,#ff3500,#ff0000,#e90000,#cb0000,#cf0000,#e90000,#ff0c00,#ff3b00,#ff6400,#ff8100,#ffa000,#ffc200,#ffba00,#ffa400,#ff8100,#ff5d00,#ff2300,#f30000,#d80000,#c20000,#cd0000,#e90000,#ff0600,#ff3f00,#ff7200,#ff9900,#ffab00,#ffc300,#ffb000,#ff8700,#ff5c00,#ff3100,#ff0100,#df0000,#ce0000,#cf0000,#e90000,#ff1100,#ff5000,#ff7f00,#ff9d00,#ffb100,#ffb000,#ff9a00,#ff6900,#ff2d00,#ff0700,#de0000,#cb0000,#c60000,#de0000,#ff0e00,#ff4200,#ff6a00,#ff9100)"></i><i style="height:3px;background:linear-gradient(90deg,#ff9200,#ffaa00,#ffb900,#ffaa00,#ff8900,#ff6100,#ff3300,#fd0000,#e10000,#d90000,#e00000,#eb0000,#ff1500,#ff3a00,#ff5f00,#ff8900,#ffae00,#ffb600,#ffba00,#ffad00,#ff8400,#ff6000,#ff3000,#ff0d00,#e00000,#da0000,#d20000,#e60000,#ff1100,#ff3d00,#ff7800,#ff9300,#ffac00,#ffbb00,#ffae00,#ff8700,#ff5a00,#ff2100,#ff0100,#d40000,#c90000,#d80000,#f00000,#ff1b00,#ff4400,#ff6500,#ff8c00,#ffb900,#ffbe00,#ffb500,#ff9a00,#ff7d00,#ff4400,#ff1100,#ed0000,#cc0000,#ca0000,#d70000,#e80000,#ff1b00,#ff4e00,#ff7c00,#ff9900,#ffc000,#ffbc00,#ffa000,#ff7e00,#ff5500,#ff2200,#f60000,#d70000,#c70000,#d20000,#ed0000,#ff2900,#ff5a00,#ff8300,#ffa500,#ffb500,#ffaf00,#ff8900,#ff5300,#ff2b00,#f90000,#d80000,#c30000,#cd0000,#f00000,#ff1e00,#ff4500,#ff7300)"></i><i style="height:3px;background:linear-gradient(90deg,#ff7500,#ff9800,#ffb500 10px 15px,#ffa100,#ff8200,#ff5700,#ff1e00,#f80000,#e20000,#db0000,#da0000,#fa0000,#ff1b00,#ff3f00,#ff6d00,#ff9a00,#ffae00,#ffbe00,#ffbc00,#ff9d00,#ff7f00,#ff5000,#ff2900,#f50000,#e50000,#d00000,#d50000,#f30000,#ff1800,#ff5400,#ff7700,#ff9c00,#ffb900,#ffbc00,#ffa300,#ff7e00,#ff4600,#ff2000,#e70000,#ce0000,#cf0000,#dc0000,#fd0000,#ff2300,#ff4500,#ff7200,#ffa900,#ffb900,#ffbc00,#ffae00,#ff9900,#ff6400,#ff3200,#ff0900,#de0000,#d00000,#cf0000,#d20000,#fb0000,#ff2a00,#ff5900,#ff7f00,#ffb200,#ffbe00,#ffb000,#ff9a00,#ff7900,#ff4600,#ff1500,#e90000,#ca0000,#c40000,#d10000,#ff0300,#ff3200,#ff6000,#ff8e00,#ffae00,#ffb900,#ffa200,#ff7600,#ff5200,#ff1d00,#f00000,#cc0000,#c50000,#da0000,#fd0000,#ff2100,#ff5000)"></i><i style="height:3px;background:linear-gradient(90deg,#ff5200,#ff7c00,#ffa600,#ffb500,#ffb000,#ff9e00,#ff7a00,#ff4100,#ff1700,#f40000,#df0000,#d10000,#e60000,#fe0000,#ff1f00,#ff4e00,#ff8000,#ff9d00,#ffb800,#ffc300,#ffaf00,#ff9a00,#ff7000,#ff4900,#ff1100,#f70000,#d70000,#cf0000,#de0000,#f80000,#ff2f00,#ff5400,#ff8200,#ffad00,#ffbf00,#ffb500,#ff9c00,#ff6a00,#ff4300,#ff0400,#dd0000,#cf0000,#d00000,#e60000,#ff0500,#ff2400,#ff5300,#ff9100,#ffac00,#ffbb00,#ffb900,#ffaf00,#ff8200,#ff5300,#ff2900,#f70000,#df0000,#d20000,#c70000,#e20000,#ff0800,#ff3500,#ff5e00,#ff9b00,#ffb400,#ffb600,#ffae00,#ff9700,#ff6a00,#ff3800,#ff0500,#d80000,#c10000,#bd0000,#e00000,#ff0800,#ff3700,#ff6d00,#ff9b00,#ffb600,#ffb000,#ff9200,#ff7600,#ff4200,#ff1100,#e00000,#c90000,#cf0000,#e50000,#fe0000,#ff2b00)"></i><i style="height:3px;background:linear-gradient(90deg,#ff2e00,#ff5b00,#ff8d00,#ffaa00,#ffb400,#ffb000,#ff9700,#ff6500,#ff3900,#ff1100,#ee0000,#d20000,#da0000,#e70000,#ff0100,#ff2e00,#ff6200,#ff8600,#ffab00,#ffc100,#ffb900,#ffaf00,#ff8c00,#ff6a00,#ff3000,#ff1100,#e60000,#d20000,#d30000,#df0000,#ff0e00,#ff2f00,#ff6100,#ff9700,#ffb700,#ffbd00,#ffb200,#ff8b00,#ff6800,#ff2700,#f60000,#db0000,#cc0000,#d70000,#ea0000,#ff0500,#ff3200,#ff7300,#ff9600,#ffb100,#ffbb00,#ffbd00,#ff9b00,#ff7200,#ff4a00,#ff1600,#f60000,#de0000,#c60000,#d20000,#eb0000,#ff1200,#ff3a00,#ff7d00,#ffa100,#ffb100,#ffb800,#ffaf00,#ff8b00,#ff5c00,#ff2500,#ee0000,#c90000,#b30000,#c50000,#e00000,#ff0b00,#ff4500,#ff7d00,#ffa700,#ffb200,#ffa400,#ff9500,#ff6800,#ff3600,#fd0000,#d90000,#ce0000,#d50000,#e20000,#ff0800)"></i><i style="height:3px;background:linear-gradient(90deg,#ff0c00,#ff3700,#ff6e00,#ff9500,#ffae00,#ffb900,#ffae00,#ff8500,#ff5d00,#ff3200,#ff0700,#dc0000,#d70000,#d80000,#e70000,#ff0f00,#ff4200,#ff6900,#ff9500,#ffb700,#ffbb00,#ffbc00,#ffa400,#ff8800,#ff5100,#ff2f00,#fd0000,#df0000,#d30000,#d00000,#f10000,#ff0c00,#ff3d00,#ff7800,#ffa500,#ffb900,#ffbe00,#ffa400,#ff8b00,#ff4c00,#ff1800,#f00000,#d30000,#d00000,#d80000,#e80000,#ff1100,#ff5300,#ff7b00,#ff9e00,#ffb400,#ffc300,#ffac00,#ff8d00,#ff6a00,#ff3700,#ff1300,#f20000,#ce0000,#cd0000,#d80000,#f30000,#ff1600,#ff5a00,#ff8500,#ffa100,#ffb700,#ffbd00,#ffa500,#ff7f00,#ff4900,#ff0d00,#da0000,#b30000 365px 370px,#be0000,#de0000,#ff1700,#ff5500,#ff8d00,#ffa800,#ffab00,#ffac00,#ff8a00,#ff5c00,#ff2100,#f30000,#da0000,#d00000,#cf0000,#e80000)"></i><i style="height:3px;background:linear-gradient(90deg,#ef0000,#ff1400,#ff4b00,#ff7800,#ff9c00,#ffb600,#ffba00,#ff9f00,#ff7f00,#ff5600,#ff2600,#f10000,#dd0000,#d10000,#d50000,#f30000,#ff2200,#ff4900,#ff7a00,#ffa400,#ffb400,#ffc100,#ffb500,#ffa200,#ff7000,#ff4f00,#ff1a00,#f30000,#dc0000,#cc0000,#de0000,#ec0000,#ff1900,#ff5500,#ff8900,#ffaa00,#ffbf00,#ffb400,#ffa700,#ff6f00,#ff3c00,#ff0f00,#e50000,#d20000,#cd0000,#d30000,#f30000,#ff3200,#ff5b00,#ff8500,#ffa400,#ffc000,#ffb500,#ffa100,#ff8700,#ff5800,#ff3300,#ff0d00,#df0000,#d20000,#cf0000,#dc0000,#f50000,#ff3500,#ff6300,#ff8800,#ffab00,#ffc000,#ffb700,#ff9c00,#ff6e00,#ff3000,#f50000,#bf0000,#ad0000,#a60000,#b70000,#e80000,#ff2800,#ff6900,#ff9200,#ffa600,#ffb700,#ffa400,#ff8000,#ff4800,#ff1600,#f00000,#d70000,#c60000,#d10000)"></i><i style="height:3px;background:linear-gradient(90deg,#db0000,#f40000,#ff2700,#ff5600,#ff8200,#ffa900,#ffbc00,#ffaf00,#ff9c00,#ff7900,#ff4a00,#ff0f00,#ef0000,#d30000,#cb0000,#de0000,#ff0600,#ff2900,#ff5c00,#ff8c00,#ffa400,#ffbd00 105px 110px,#ffb500,#ff8c00,#ff6f00,#ff3a00,#ff0e00,#ed0000,#d20000,#d50000,#d60000,#f70000,#ff3000,#ff6700,#ff9200,#ffb400,#ffba00,#ffbb00,#ff8f00,#ff6100,#ff3200,#ff0100,#e00000,#cc0000,#c50000,#db0000,#ff1300,#ff3a00,#ff6600,#ff8d00,#ffb300,#ffb500,#ffae00,#ff9e00,#ff7600,#ff5500,#ff2c00,#f70000,#df0000,#d00000,#ce0000,#db0000,#ff1300,#ff3f00,#ff6800,#ff9500,#ffb800,#ffbf00,#ffb200,#ff8e00,#ff5600,#ff1800,#d70000,#b50000,#9b0000,#9a0000,#be0000,#f90000,#ff3e00,#ff7100,#ff9400,#ffb700,#ffb400,#ff9d00,#ff6d00,#ff3c00,#ff1000,#ea0000,#c80000,#c40000)"></i><i style="height:3px;background:linear-gradient(90deg,#d10000,#dd0000,#ff0600,#ff3200,#ff6100,#ff9200,#ffb300,#ffb500,#ffb000,#ff9800,#ff6e00,#ff3100,#ff0a00,#e10000,#c90000,#d00000,#ed0000,#ff0b00,#ff3b00,#ff6e00,#ff8d00,#ffb100,#ffbd00,#ffc100,#ffa200,#ff8d00,#ff5a00,#ff2d00,#ff0700,#e00000,#d80000,#c90000,#dd0000,#ff0d00,#ff4200,#ff7200,#ff9f00,#ffb300,#ffc500,#ffa600,#ff8200,#ff5700,#ff2300,#f80000,#d60000,#c00000,#ca0000,#f80000,#ff1a00,#ff4600,#ff7100,#ff9f00,#ffac00,#ffb200,#ffae00,#ff9000,#ff7400,#ff4d00,#ff1500,#f50000,#da0000,#cb0000,#c90000,#f50000,#ff1b00,#ff4400,#ff7700,#ffa600,#ffbb00,#ffbe00,#ffa900,#ff7a00,#ff3f00,#f90000,#cb0000,#9f0000,#8b0000,#9f0000,#cf0000,#ff1100,#ff4900,#ff7800,#ffaa00,#ffb800,#ffb100,#ff8d00,#ff6200,#ff3500,#ff0700,#d60000,#c20000)"></i><i style="height:3px;background:linear-gradient(90deg,#d20000,#cf0000,#eb0000,#ff1000,#ff3e00,#ff7300,#ff9f00,#ffb000,#ffba00,#ffb000,#ff8e00,#ff5600,#ff2a00,#f80000,#d30000,#cb0000,#dd0000,#f00000,#ff1c00,#ff4e00,#ff7100,#ff9d00,#ffb400,#ffc400,#ffb100,#ffa500,#ff7900,#ff4d00,#ff2400,#f60000,#e30000,#c70000,#cc0000,#ef0000,#ff1e00,#ff4e00,#ff8200,#ffa200,#ffc300,#ffb400,#ff9d00,#ff7b00,#ff4700,#ff1800,#ea0000,#c50000,#c20000,#e40000,#fd0000,#ff2500,#ff5100,#ff8400,#ff9b00,#ffac00,#ffb500,#ffa200,#ff9000,#ff6e00,#ff3600,#ff1200,#ed0000,#d20000,#c20000,#e00000,#fa0000,#ff1f00,#ff5400,#ff8a00,#ffad00,#ffbf00,#ffb900,#ff9900,#ff6700,#ff2400,#ed0000,#b40000,#8f0000 380px 385px,#af0000,#e60000,#ff1f00,#ff5400,#ff9200,#ffb000,#ffba00,#ffa500,#ff8400,#ff5b00,#ff2a00,#ef0000,#cc0000)"></i><i style="height:3px;background:linear-gradient(90deg,#dd0000,#cc0000,#d90000,#f10000,#ff1a00,#ff5000,#ff8300,#ffa000,#ffb900,#ffbe00,#ffa900,#ff7800,#ff4e00,#ff1700,#e60000,#d00000,#d40000,#dd0000,#ff0000,#ff2e00,#ff5200,#ff8300,#ffa200,#ffbe00,#ffb700 120px 125px,#ff9400,#ff6d00,#ff4400,#ff1200,#f60000,#cf0000,#c60000,#db0000,#fe0000,#ff2900,#ff5f00,#ff8800,#ffb600,#ffb700,#ffaf00,#ff9800,#ff6c00,#ff3c00,#ff0700,#d50000,#c30000,#d80000,#e60000,#ff0700,#ff3000,#ff6500,#ff8300,#ff9e00,#ffb300,#ffad00,#ffa600,#ff8b00,#ff5700,#ff3100,#ff0700,#e20000,#c60000,#d50000,#e20000,#fd0000,#ff2f00,#ff6900,#ff9400,#ffb400,#ffbf00,#ffae00,#ff8b00,#ff4f00,#ff1a00,#d80000,#a30000,#910000,#9e0000,#c60000,#f50000,#ff2c00,#ff7200,#ff9d00,#ffb700,#ffb300,#ffa000,#ff8000,#ff5000,#ff1000,#e00000)"></i><i style="height:3px;background:linear-gradient(90deg,#f10000,#d30000,#d20000,#dc0000,#fa0000,#ff2c00,#ff6200,#ff8700,#ffae00,#ffc100,#ffbb00,#ff9600,#ff7200,#ff3a00,#ff0300,#e00000,#d50000,#d10000,#e90000,#ff1000,#ff3200,#ff6400,#ff8a00,#ffb000,#ffb500,#ffc100,#ffa900,#ff8a00,#ff6400,#ff3100,#ff1000,#df0000,#cb0000,#d10000,#e60000,#ff0700,#ff3a00,#ff6700,#ff9f00,#ffae00,#ffb600,#ffae00,#ff8c00,#ff6100,#ff2a00,#ef0000,#cf0000,#d50000,#d70000,#ed0000,#ff1000,#ff4400,#ff6500,#ff8800,#ffa800,#ffaf00,#ffb300,#ffa400,#ff7600,#ff5300,#ff2600,#f90000,#d20000,#d40000,#d30000,#e20000,#ff0c00,#ff4400,#ff7500,#ff9f00,#ffb800,#ffb900,#ffa500,#ff7800,#ff4900,#ff0600,#c60000,#a40000,#9e0000,#b30000,#d50000,#ff0400,#ff4c00,#ff8000,#ffa800,#ffb400,#ffb200,#ff9e00,#ff7600,#ff3600,#fe0000)"></i><i style="height:3px;background:linear-gradient(90deg,#ff0c00,#e30000,#d50000,#d00000,#e10000,#ff0b00,#ff3e00,#ff6800,#ff9800,#ffba00,#ffc300,#ffab00,#ff9200,#ff5e00,#ff2400,#f90000,#e10000,#ce0000,#da0000,#f70000,#ff1300,#ff4400,#ff6d00,#ff9a00,#ffaa00,#ffc200,#ffb600,#ffa100,#ff8200,#ff5200,#ff2e00,#f60000,#d80000,#d10000,#d70000,#eb0000,#ff1700,#ff4200,#ff8000,#ff9a00,#ffb100,#ffb900,#ffa500,#ff8300,#ff4f00,#ff1100,#e50000,#dd0000,#d10000,#db0000,#f40000,#ff2400,#ff4400,#ff6c00,#ff9500,#ffa700,#ffb900,#ffb500,#ff9100,#ff7300,#ff4700,#ff1700,#e60000,#dd0000,#cf0000 320px 325px,#ed0000,#ff2000,#ff5100,#ff8200,#ffa700,#ffb700,#ffb500,#ff9700,#ff7500,#ff3600,#f30000,#c40000,#ad0000,#af0000,#bf0000,#e10000,#ff2500,#ff5c00,#ff8f00,#ffaa00,#ffb800,#ffb400,#ff9700,#ff5c00,#ff2300)"></i><i style="height:3px;background:linear-gradient(90deg,#ff2c00,#fb0000,#e20000,#d00000,#d10000,#ee0000,#ff1b00,#ff4400,#ff7a00,#ffa800,#ffc000,#ffb700,#ffab00,#ff8000,#ff4800,#ff1900,#f60000,#d50000,#d40000,#e50000,#f70000,#ff2400,#ff4d00,#ff7f00,#ff9700,#ffba00 125px 130px,#ffb100,#ff9c00,#ff7100,#ff4f00,#ff1400,#ec0000,#db0000,#d40000,#d90000,#f70000,#ff1e00,#ff5c00,#ff7e00,#ffa200,#ffb900,#ffb500,#ffa000,#ff7300,#ff3500,#ff0400,#f00000,#d40000,#d10000,#df0000,#ff0700,#ff2300,#ff4c00,#ff7b00,#ff9700,#ffb500,#ffbd00,#ffa500,#ff8f00,#ff6800,#ff3700,#ff0200,#ef0000,#d40000,#c60000,#d70000,#ff0000,#ff2c00,#ff5f00,#ff8c00,#ffa900,#ffb800,#ffab00,#ff9800,#ff6400,#ff2300,#ed0000,#c80000,#b90000,#b50000,#c80000,#ff0100,#ff3600,#ff6d00,#ff9400,#ffb200,#ffbf00,#ffb000,#ff7f00,#ff4a00)"></i><i style="height:3px;background:linear-gradient(90deg,#ff4e00,#ff1b00,#f70000,#d90000,#cc0000,#db0000,#fb0000,#ff2000,#ff5800,#ff8d00,#ffb200,#ffb800,#ffba00,#ff9c00,#ff6c00,#ff3d00,#ff1400,#e70000,#d70000,#db0000,#e30000,#ff0800,#ff2d00,#ff6000,#ff7d00,#ffaa00,#ffb600,#ffb900,#ffaf00,#ff8d00,#ff6f00,#ff3400,#ff0800,#ed0000,#da0000,#d10000,#e10000,#fc0000,#ff3700,#ff5c00,#ff8900,#ffae00,#ffb900,#ffb300,#ff9200,#ff5a00,#ff2800,#ff0c00,#e30000,#d00000,#d20000,#ee0000,#ff0500,#ff2b00,#ff5c00,#ff7f00,#ffa800,#ffbd00,#ffb100,#ffa600,#ff8600,#ff5800,#ff2100,#ff0800,#e20000,#c80000,#ca0000,#e50000,#ff0a00,#ff3b00,#ff6c00,#ff9200,#ffaf00,#ffb300,#ffb000,#ff8a00,#ff5000,#ff1a00,#eb0000,#cd0000,#b80000,#b90000,#e30000,#ff1100,#ff4800,#ff7600,#ffa000,#ffbe00,#ffbf00,#ff9c00,#ff6f00)"></i><i style="height:3px;background:linear-gradient(90deg,#ff6f00,#ff3c00,#ff1400,#eb0000,#d20000,#d10000,#e40000,#ff0000,#ff3400,#ff6c00,#ff9a00,#ffae00,#ffc000,#ffb000,#ff8a00,#ff6100,#ff3700,#ff0300,#e50000,#da0000,#d60000,#f00000,#ff0f00,#ff3f00,#ff5f00,#ff9300,#ffa900,#ffb800,#ffba00,#ffa300,#ff8c00,#ff5400,#ff2700,#ff0600,#e90000,#d40000,#d50000,#e30000,#ff1500,#ff3700,#ff6800,#ff9800,#ffb200,#ffbc00,#ffa900,#ff7b00,#ff4d00,#ff2e00,#fb0000,#da0000,#cd0000,#de0000,#ea0000,#ff0b00,#ff3b00,#ff6200,#ff9300,#ffb300,#ffb400,#ffb500,#ff9f00,#ff7800,#ff4300,#ff2600,#f80000,#d30000,#c90000,#d50000,#ed0000,#ff1800,#ff4800,#ff7400,#ff9b00,#ffae00,#ffbc00,#ffa500,#ff7700,#ff4600,#ff1400,#eb0000,#c60000,#b50000,#cf0000,#ef0000,#ff2200,#ff5100,#ff8500,#ffb100,#ffc300,#ffb000,#ff8e00)"></i><i style="height:3px;background:linear-gradient(90deg,#ff8c00,#ff5d00,#ff3400,#ff0500,#e00000,#d30000,#d70000,#e40000,#ff1200,#ff4900,#ff7c00,#ff9a00,#ffbb00,#ffb900,#ffa000,#ff8100,#ff5c00,#ff2300,#fd0000,#e50000,#d10000,#e00000,#f50000,#ff2100,#ff3f00,#ff7800,#ff9400,#ffae00,#ffbd00,#ffb100,#ffa500,#ff7200,#ff4600,#ff2400,#ff0100,#e00000,#d50000,#d20000,#f90000,#ff1300,#ff4300,#ff7b00,#ffa000,#ffb900,#ffb600,#ff9400,#ff6f00,#ff5400,#ff1c00,#ef0000,#d30000,#d70000,#d60000,#ed0000,#ff1a00,#ff4000,#ff7700,#ffa200,#ffad00,#ffbc00,#ffb200,#ff9300,#ff6200,#ff4800,#ff1600,#e60000,#d00000 330px 335px,#da0000,#f90000,#ff2500,#ff5100,#ff7f00,#ff9e00,#ffbd00,#ffb500,#ff9400,#ff6b00,#ff3c00,#ff0e00,#dd0000,#bb0000,#c50000,#d70000,#fe0000,#ff2a00,#ff6200,#ff9a00,#ffbb00,#ffb700,#ffa500)"></i><i style="height:3px;background:linear-gradient(90deg,#ffa200,#ff7a00,#ff5600,#ff2300,#f60000,#de0000,#d50000,#d20000,#f40000,#ff2700,#ff5b00,#ff7d00,#ffab00,#ffb700,#ffac00,#ff9a00,#ff7f00,#ff4700,#ff1d00,#fb0000,#d70000,#da0000,#e30000,#ff0800,#ff1e00,#ff5a00,#ff7900,#ff9c00,#ffb700,#ffb600,#ffb800,#ff8b00,#ff6400,#ff4500,#ff1e00,#f40000,#de0000,#cd0000,#e70000,#f20000,#ff1e00,#ff5700,#ff8500,#ffac00,#ffb700,#ffa300,#ff8a00,#ff7a00,#ff4100,#ff0e00,#e40000,#da0000,#ca0000,#d50000,#fa0000,#ff1d00,#ff5800,#ff8a00,#ff9c00,#ffba00,#ffbc00,#ffa900,#ff7e00,#ff6b00,#ff3700,#ff0000,#e00000,#d50000,#d10000,#e30000,#ff0500,#ff2c00,#ff5d00,#ff8400,#ffb200,#ffba00,#ffa600,#ff8900,#ff6100,#ff3400,#f90000,#ca0000,#c80000 410px 415px,#e20000,#ff0400,#ff3c00,#ff7b00,#ffa900,#ffb300,#ffb000)"></i><i style="height:3px;background:linear-gradient(90deg,#ffb100,#ff9400,#ff7900,#ff4a00,#ff1a00,#fb0000,#e80000,#d50000,#e90000,#ff1200,#ff3f00,#ff5f00,#ff9500,#ffab00,#ffad00,#ffab00,#ff9e00,#ff6d00,#ff4700,#ff2300,#f10000,#e70000,#e30000,#fd0000,#ff0900,#ff4200,#ff5f00,#ff8600,#ffaa00,#ffb200,#ffc200,#ff9e00,#ff8100,#ff6900,#ff4500,#ff1700,#fa0000,#dc0000,#ea0000,#e40000,#ff0400,#ff3900,#ff6700,#ff9600,#ffae00,#ffa600,#ff9d00,#ff9e00,#ff6b00,#ff3800,#ff0800,#f30000,#d20000,#cf0000,#ea0000,#ff0300,#ff3c00,#ff7000,#ff8700,#ffaf00,#ffbe00,#ffb600,#ff9500,#ff8e00,#ff5e00,#ff2500,#ff0100,#ee0000,#dd0000,#e10000,#f40000,#ff1200,#ff3f00,#ff6700,#ffa000,#ffb300,#ffad00,#ffa000,#ff8400,#ff5e00,#ff2300,#eb0000,#df0000,#d10000,#da0000,#ed0000,#ff1d00,#ff5c00,#ff9100,#ffa400,#ffb000)"></i><i style="height:3px;background:linear-gradient(90deg,#ffba00,#ffa800,#ff9900,#ff7000,#ff4200,#ff2100,#ff0700,#e60000,#ed0000,#ff0a00,#ff2d00,#ff4600,#ff7f00,#ff9b00,#ffa800,#ffb400,#ffb700,#ff9000,#ff7200,#ff4f00,#ff1700,#ff0300,#f00000,#ff0000,#fd0000,#ff3200,#ff4a00,#ff7100,#ff9b00,#ffab00,#ffc800,#ffac00,#ff9a00,#ff8c00,#ff6d00,#ff3f00,#ff1f00,#f70000,#fc0000,#e40000,#f60000,#ff2300,#ff4d00,#ff8000,#ff9f00,#ffa200,#ffa800,#ffbb00,#ff9300,#ff6500,#ff3300,#ff1900,#e70000,#d60000,#e60000,#f30000,#ff2800,#ff5b00,#ff7100,#ffa200,#ffba00,#ffbe00,#ffa700,#ffae00,#ff8400,#ff4d00,#ff2800,#ff1100,#f60000,#ee0000,#f20000,#ff0300,#ff2800,#ff4c00,#ff8b00,#ffa700,#ffac00,#ffae00,#ffa000,#ff8500,#ff4d00,#ff1300,#ff0300,#e70000,#e20000,#e40000,#ff0900,#ff4300,#ff7800,#ff9000,#ffa800)"></i><i style="height:3px;background:linear-gradient(90deg,#ffc100,#ffba00,#ffb800,#ff9800,#ff6f00,#ff4f00,#ff3100,#ff0600,#ff0400,#ff1300,#ff2b00,#ff3900,#ff7000,#ff8e00,#ffa100,#ffba00,#ffcc00,#ffb200,#ff9e00,#ff8200,#ff4600,#ff2d00,#ff0e00,#ff1200,#ff0300,#ff3000,#ff3f00,#ff6400,#ff9000,#ffa500,#ffcc00,#ffb900,#ffb100,#ffaf00,#ff9800,#ff6d00,#ff4c00,#ff1f00,#ff1e00,#f70000,#fa0000,#ff1c00,#ff3e00,#ff7000,#ff9200,#ff9d00,#ffb000,#ffd500,#ffb900,#ff9300,#ff6500,#ff4900,#ff0d00,#ee0000,#f20000,#f30000,#ff2100,#ff4f00,#ff6200,#ff9800,#ffb800,#ffc500,#ffb700,#ffcd00,#ffab00,#ff7800,#ff5600,#ff3e00,#ff1d00,#ff0b00,#ff0300,#ff0400,#ff1e00,#ff3b00,#ff7c00,#ff9c00,#ffaa00,#ffb900 385px 390px,#ffab00,#ff7b00,#ff4100,#ff3100,#ff0e00,#fc0000,#ef0000,#ff0600,#ff3700,#ff6800,#ff8000,#ff9f00)"></i><i style="height:3px;background:linear-gradient(90deg,#ffc000,#ffc400,#ffce00,#ffb800,#ff9600,#ff7c00,#ff5d00,#ff2c00,#ff2200,#ff2600,#ff3100,#ff3300,#ff6400,#ff8000,#ff9500,#ffb800,#ffd800,#ffc900,#ffc300,#ffaf00,#ff7600,#ff5b00,#ff3300,#ff2d00,#ff1000,#ff3500,#ff3a00,#ff5a00,#ff8500,#ff9c00,#ffcb00,#ffbe00,#ffc100,#ffcb00,#ffbd00,#ff9800,#ff7900,#ff4900,#ff4500,#ff1300,#ff0a00,#ff1f00,#ff3500,#ff6200,#ff8300,#ff9100,#ffae00,#ffe500,#ffd500,#ffba00,#ff9300,#ff7b00,#ff3800,#ff0f00,#ff0800,#fc0000,#ff2200,#ff4900,#ff5600,#ff8d00,#ffb100,#ffc500,#ffbf00,#ffe400,#ffcb00,#ff9e00,#ff8100,#ff6c00,#ff4700,#ff2e00,#ff1c00,#ff1000,#ff1d00,#ff3000,#ff6f00,#ff8f00,#ffa100,#ffba00,#ffc800 390px 395px,#ffa100,#ff6d00,#ff6000,#ff3900,#ff2000,#ff0400,#ff0d00,#ff3300,#ff5d00,#ff6f00,#ff9100)"></i><i style="height:3px;background:linear-gradient(90deg,#ffbb00,#ffc500,#ffdc00,#ffcf00,#ffb700,#ffa400,#ff8900,#ff5500,#ff4600,#ff4200 45px 50px,#ff3500,#ff5e00,#ff7300,#ff8800,#ffb000,#ffdb00,#ffd700,#ffde00,#ffd600,#ffa100,#ff8900,#ff5d00,#ff5000,#ff2500,#ff4200,#ff3c00,#ff5500,#ff7d00,#ff9100,#ffc600,#ffbd00,#ffc900,#ffdf00,#ffdb00,#ffbd00,#ffa400,#ff7300,#ff6e00,#ff3300,#ff2100,#ff2b00,#ff3600,#ff5900,#ff7600,#ff8200,#ffa600,#ffeb00,#ffe700,#ffd900,#ffbb00,#ffaa00,#ff6500,#ff3600,#ff2500,#ff0d00,#ff2a00,#ff4900,#ff4d00,#ff8300,#ffa800,#ffc000,#ffc100,#fff200,#ffe300,#ffbe00,#ffa800,#ff9800,#ff7200,#ff5600,#ff3c00,#ff2400,#ff2500,#ff2c00,#ff6500,#ff8200,#ff9500,#ffb500,#ffce00,#ffdb00,#ffbe00,#ff9200,#ff8d00,#ff6600,#ff4800,#ff2200,#ff1f00,#ff3900,#ff5800,#ff6200,#ff8200)"></i><i style="height:3px;background:linear-gradient(90deg,#ffb300,#ffc300,#ffe200,#ffdf00,#ffd100,#ffc700,#ffb300,#ff8000,#ff6f00,#ff6600,#ff5d00,#ff4400,#ff6200,#ff6e00,#ff7e00,#ffa700,#ffd800,#ffdd00,#fff000,#fff400,#ffc800,#ffb600,#ff8b00,#ff7a00,#ff4500,#ff5800,#ff4900,#ff5800,#ff7a00,#ff8b00,#ffc000,#ffb900,#ffcb00,#ffeb00,#fff200,#ffdc00,#ffca00,#ff9d00,#ff9a00,#ff5b00,#ff4200,#ff4400,#ff4200,#ff5b00,#ff6f00,#ff7700,#ff9d00,#ffea00,#ffef00,#ffed00,#ffdb00,#ffd300,#ff9200,#ff6200,#ff4c00,#ff2a00,#ff3d00,#ff5300,#ff4e00,#ff7e00,#ffa100,#ffba00,#ffbe00,#fff900,#fff300,#ffd700,#ffca00,#ffc000,#ff9e00,#ff8100,#ff6300,#ff4300,#ff3a00,#ff3500,#ff6500,#ff7a00,#ff8a00,#ffad00,#ffcd00,#ffe500,#ffd300,#ffb200,#ffb600,#ff9300,#ff7500,#ff4900,#ff3d00,#ff4c00,#ff5f00,#ff5d00,#ff7700)"></i><i style="height:3px;background:linear-gradient(90deg,#ffb000,#ffc100,#ffe600,#ffeb00,#ffe600 20px 25px,#ffd900,#ffab00,#ff9b00,#ff9000,#ff8100,#ff5e00,#ff7200,#ff7400,#ff7b00,#ffa200,#ffd500,#ffdf00,#fffc00,#f1ff0e,#ffe900,#ffe000,#ffb800,#ffa700,#ff6d00,#ff7900,#ff5f00,#ff6600,#ff8000,#ff8b00,#ffbf00,#ffb700,#ffcd00,#fff400,#faff05,#fff600,#ffec00,#ffc500,#ffc600,#ff8600,#ff6a00,#ff6500,#ff5b00,#ff6900,#ff7200,#ff7300,#ff9600,#ffe800,#fff400,#fffc00,#fff400,#fff800,#ffbd00,#ff9000,#ff7900,#ff5000,#ff5a00,#ff6700,#ff5800,#ff8200,#ffa000,#ffb700,#ffbd00,#fffe00 315px 320px,#ffeb00,#ffe700,#ffe600,#ffc800,#ffae00,#ff8e00,#ff6a00,#ff5900,#ff4900,#ff6f00,#ff7c00,#ff8600,#ffa800,#ffcb00,#ffeb00,#ffe300,#ffcb00,#ffdb00,#ffbe00,#ffa300,#ff7600,#ff6400,#ff6a00,#ff7200,#ff6400,#ff7500)"></i><i style="height:3px;background:linear-gradient(90deg,#ffb500,#ffc400,#ffec00,#fff700,#fffa00,#fbff04,#ffff00,#ffd600,#ffcb00,#ffc000,#ffae00,#ff8400,#ff9000,#ff8700,#ff8500,#ffa600,#ffd800,#ffe500,#f5ff0a,#daff25,#f5ff0a 100px 105px,#ffe700,#ffda00,#ff9d00,#ffa400,#ff8100,#ff8000,#ff9200,#ff9600,#ffc600,#ffbb00,#ffd300,#ffff00,#e7ff18,#edff12,#efff10,#ffed00,#fff400,#ffb500,#ff9800,#ff9000,#ff7f00,#ff8400,#ff8300,#ff7b00,#ff9900,#ffeb00,#fffa00,#f4ff0b,#f2ff0d,#e2ff1d,#ffe700,#ffc000,#ffab00,#ff7f00,#ff8300,#ff8800,#ff7000,#ff9200,#ffaa00,#ffbd00,#ffc100,#f8ff07,#f2ff0d,#fffe00,#fbff04,#f3ff0c,#fff300,#ffdd00,#ffbe00,#ff9800,#ff8200,#ff6b00,#ff8800,#ff8a00,#ff8c00,#ffaa00,#ffce00,#fff200,#fff100,#ffe200,#fffd00,#ffe900,#ffd300,#ffa700,#ff9300,#ff9400,#ff9300,#ff7900,#ff8000)"></i><i style="height:3px;background:linear-gradient(90deg,#ffbf00,#ffca00,#fff200,#feff01,#f5ff0a,#e3ff1c,#deff21,#fffb00,#fff600,#ffee00,#ffdc00,#ffad00,#ffb300,#ffa200,#ff9600,#ffb000,#ffde00,#ffe900,#ecff13,#caff36,#ddff23,#d2ff2d,#edff12,#f5ff0a,#ffcc00,#ffd200,#ffa900,#ffa000,#ffab00,#ffa700,#ffd200,#ffc300,#ffd900,#f6ff09,#d9ff27,#d8ff27,#d2ff2d,#eeff11,#dfff20,#ffe000,#ffc500,#ffbd00,#ffa700 210px 215px,#ff9d00,#ff8a00,#ffa100,#fff100,#feff01,#eaff15,#e0ff1f,#c6ff39,#f4ff0b,#ffe900,#ffd900,#ffae00,#ffb000,#ffaf00,#ff8e00,#ffa900,#ffb900,#ffc700 305px 310px,#f0ff0f,#e7ff18,#f1ff0e,#e4ff1b,#d3ff2c,#e4ff1b,#f6ff09,#ffec00,#ffc500,#ffad00,#ff9100,#ffa800,#ffa100,#ff9a00,#ffb200,#ffd300,#fff800,#fffa00,#fff200,#e5ff1a,#f1ff0e,#fffe00,#ffd600,#ffc300,#ffc100,#ffba00,#ff9700,#ff9400)"></i><i style="height:3px;background:linear-gradient(90deg,#ffcf00,#ffd500,#fffa00,#f5ff0a,#e9ff16,#d1ff2f,#c4ff3b,#e2ff1d,#e0ff1f,#e2ff1d,#f5ff0a,#ffd800,#ffdb00,#ffc300,#ffae00,#ffc000,#ffe900,#fff000,#e4ff1b,#bdff42,#caff35,#b6ff49,#c9ff36 110px 115px,#fff800,#feff01,#ffd400,#ffc500,#ffc900,#ffbe00,#ffe400,#ffce00,#ffe100,#ecff13,#cdff33,#c8ff37,#bbff45,#d0ff2f,#b9ff47,#f6ff09,#ffef00,#ffe800,#ffd100,#ffcd00,#ffbc00,#ffa000,#ffb000,#fffb00,#f7ff08,#e2ff1d,#d4ff2c,#b1ff4e,#d8ff28,#f2ff0d,#fbff04,#ffda00,#ffdd00,#ffd900,#ffb100,#ffc600,#ffcf00,#ffd600,#ffd100,#e6ff19,#ddff22,#e5ff1a,#d2ff2d,#b9ff46,#c3ff3c,#ceff31,#e7ff19,#fff100,#ffd900,#ffb900,#ffcd00,#ffbe00,#ffae00,#ffbf00,#ffdb00,#fffe00,#fcff03,#fffe00,#d0ff2f,#d3ff2c,#d9ff26,#ffff00,#fff000,#ffef00,#ffe500,#ffbb00,#ffaf00)"></i><i style="height:3px;background:linear-gradient(90deg,#ffe300 0px 5px,#f9ff07,#ecff13,#dfff20,#c2ff3d,#afff50,#c7ff38,#beff42,#baff46,#c8ff37,#fcff03,#fbff04,#ffe600,#ffcb00,#ffd600,#fff900,#fffa00,#dbff24,#b3ff4d,#bcff43,#a1ff5f,#acff53,#a4ff5b,#ddff23,#d0ff30,#fffe00,#ffeb00 135px 140px,#ffd900,#fff900,#ffdd00,#ffec00,#e1ff1e,#c1ff3e,#baff45,#a8ff58,#b8ff47,#99ff67,#d2ff2e,#e7ff18,#ecff13,#fffa00,#fff300,#ffdf00,#ffbb00,#ffc300,#f3ff0c,#ecff13,#d9ff26,#c9ff36,#a1ff5e,#c2ff3e,#d4ff2b,#d6ff29,#fcff03,#f6ff09,#fbff04,#ffd600,#ffe500,#ffe900 300px 305px,#ffdf00,#d9ff26,#d3ff2d,#daff25,#c4ff3c,#a5ff5b,#a8ff58,#acff53,#bfff40,#e3ff1c,#fcff03,#ffe100,#fff200,#ffdf00,#ffc800,#ffd100,#ffe700,#f6ff09,#f4ff0b,#f6ff09,#c0ff40,#bcff44,#baff46,#d9ff27,#e4ff1b,#e2ff1e,#edff12,#ffe000,#ffce00)"></i><i style="height:3px;background:linear-gradient(90deg,#fffd00,#fff600,#e8ff17,#dfff20,#d4ff2c,#b5ff4a,#9eff62,#b1ff4f,#a1ff5f,#96ff69,#a0ff60,#d2ff2d,#cfff30,#f1ff0e,#ffec00,#fff200,#eeff11,#f3ff0c,#ceff31,#a7ff59,#b0ff50,#90ff70,#95ff6b,#85ff7a,#b8ff47,#a5ff5a,#d5ff2b,#e9ff16,#edff12,#fff800,#e8ff17,#fff100,#fffc00,#d3ff2c,#b4ff4b,#adff53,#98ff68,#a4ff5c,#7eff82,#b2ff4d,#c3ff3d,#c3ff3c,#daff25,#e1ff1e,#faff05,#ffdb00,#ffdd00,#dcff23 235px 240px,#cdff32,#bfff41,#94ff6c,#b0ff4f,#bcff43,#b7ff49,#d7ff28,#cbff34,#ceff31,#fffd00,#f4ff0b,#f6ff09,#fbff04,#fff100,#c8ff37,#c5ff3a,#ceff31,#b6ff49,#93ff6c,#92ff6e,#90ff70,#9dff62,#bdff43,#d2ff2d,#f5ff0a,#e2ff1d,#fbff04,#ffe600,#ffe900,#fffa00,#e7ff18,#e9ff16,#edff13,#b2ff4e,#a9ff57,#a0ff5f,#b8ff47,#bdff42,#b6ff49,#c0ff40,#f5ff0a,#fff200)"></i><i style="height:3px;background:linear-gradient(90deg,#e1ff1f,#eeff11,#d2ff2d,#ceff31,#c6ff3a,#a8ff58,#8fff71,#9fff61,#89ff77,#78ff88,#7cff84,#abff55,#a6ff5a,#c8ff37,#edff12,#ebff14,#d1ff2e,#ddff23,#bcff43,#98ff68,#a3ff5d,#81ff7f,#82ff7e,#6bff95,#9aff66,#80ff80,#acff54,#bfff41,#c3ff3c,#e1ff1e,#c7ff39,#f3ff0c,#ecff13,#c1ff3f,#a4ff5b,#9eff61,#88ff78,#93ff6d,#66ff9a,#98ff68,#a3ff5d,#9fff61,#b3ff4d,#b8ff48,#d2ff2e,#fffe00,#fffc00,#bfff40,#c6ff3a,#bcff43,#b1ff4e,#86ff7a,#a2ff5e,#aaff56,#9dff63,#b8ff48,#a5ff5b,#a4ff5c,#d7ff28,#cbff35,#d1ff2e,#dcff23,#f4ff0b,#b2ff4d,#b4ff4c,#c0ff3f,#a8ff57,#83ff7c,#7fff81,#78ff88,#80ff80,#9bff65,#acff53,#cdff33,#b8ff47,#d2ff2d,#f5ff0a,#f7ff08,#ebff14,#d3ff2c,#daff25,#e1ff1e,#a5ff5b,#99ff67,#8cff74,#9eff62,#9cff63,#8fff71,#95ff6b,#cbff35,#e5ff1a)"></i><i style="height:3px;background:linear-gradient(90deg,#bdff42,#cfff31,#b8ff48,#b9ff47,#b4ff4b,#98ff68,#7fff81,#8eff72,#74ff8c,#5dffa3,#5cffa4,#89ff77,#7fff81,#a0ff5f,#c6ff39 70px 75px,#afff50,#c1ff3f,#a5ff5b,#85ff7b,#93ff6d,#71ff8f 105px 110px,#55ffab,#81ff7f,#5effa1,#88ff78,#98ff68,#9bff65,#baff46,#a2ff5d,#d4ff2c,#d2ff2d,#aaff56,#91ff6f,#8eff72,#78ff88,#82ff7e,#51ffae,#81ff7f,#88ff78,#7fff81,#8fff71,#91ff6f,#aaff55,#dbff25,#dfff21,#9eff62,#aaff56,#a7ff59,#a0ff60,#76ff8a,#93ff6d,#99ff66,#88ff78,#9eff62,#85ff7b,#7eff82,#afff50,#a2ff5e,#aaff56,#b9ff47,#d6ff29,#97ff68,#9eff62,#aeff51,#99ff67,#73ff8d,#6cff94,#62ff9e,#66ff99,#7eff82,#8bff75,#a8ff58,#90ff70,#aaff55,#cfff30,#d4ff2c,#ccff33,#baff46,#c6ff39,#d2ff2e,#97ff69,#8aff76,#79ff86,#89ff77,#81ff7f,#6dff93,#6eff92,#a3ff5d,#bcff43)"></i><i style="height:3px;background:linear-gradient(90deg,#98ff68,#adff53,#99ff67,#9fff61 15px 20px,#85ff7b,#6dff93,#7eff82,#60ff9f,#46ffba,#40ffc0,#6aff96,#5bffa5,#7cff84,#a1ff5f 70px 75px,#8bff75,#a1ff5f,#89ff77,#6cff94,#80ff80,#5effa1,#5fffa1,#41ffbf,#6aff96,#42ffbd,#68ff98,#74ff8c 135px 140px,#93ff6d,#7cff84,#b2ff4e,#b4ff4c,#8fff71,#79ff87 170px 175px,#65ff9b,#70ff90,#3dffc2,#6cff93,#70ff90,#62ff9e,#6fff91,#6dff93,#85ff7b,#b6ff4a,#baff45,#79ff87,#8aff76,#8bff75,#8aff76,#62ff9e,#83ff7d,#8aff76,#76ff8a,#88ff78,#68ff97,#5cffa4,#8cff74,#7aff86,#82ff7e,#93ff6d,#b5ff4a,#78ff88,#83ff7d,#99ff67,#86ff7a,#60ffa0,#5affa6,#4effb2,#50ffb0,#64ff9c,#6dff92,#88ff78,#6bff95,#84ff7c,#aaff56,#afff51,#aaff56,#9bff64,#adff52,#beff42,#85ff7b,#7aff86,#68ff98,#75ff8b,#69ff97,#4fffb1,#4bffb5,#7eff82,#96ff6a)"></i><i style="height:3px;background:linear-gradient(90deg,#71ff8f,#87ff79,#75ff8b,#7eff82,#82ff7e,#6cff94,#57ffa9,#6aff95,#4dffb2,#31ffce,#29ffd7,#50ffb0,#3cffc4,#59ffa7,#7dff83,#7bff85,#63ff9d,#7bff85,#65ff9a,#4cffb4,#65ff9a,#47ffb8,#4bffb5,#2dffd2,#57ffa9,#2affd5,#4dffb3,#54ffac,#4fffb0,#6dff93,#52ffae,#8cff74,#90ff70,#6dff93,#59ffa6,#5effa2,#4dffb3,#5cffa4,#29ffd6,#59ffa7,#5bffa4,#49ffb6,#53ffad,#4cffb3,#61ff9e,#92ff6e,#95ff6b,#50ffb0,#63ff9d,#68ff98,#6bff94,#47ffb8,#6eff92,#78ff88,#63ff9c,#75ff8a,#51ffaf,#3fffc0,#6cff94,#55ffab,#59ffa6,#6bff95,#90ff70,#52ffae,#61ff9f,#7dff83,#6cff93,#49ffb6,#45ffba,#3affc5,#3bffc4,#4effb2,#54ffac,#6bff95,#48ffb7,#5fffa1,#84ff7c,#89ff77,#84ff7c,#77ff89,#8eff72,#a3ff5c,#6cff93,#65ff9b,#55ffab,#63ff9d,#54ffab,#36ffca,#2dffd3,#5dffa3,#72ff8e)"></i><i style="height:3px;background:linear-gradient(90deg,#4affb5,#5dffa2,#4dffb3,#57ffa9,#5dffa3,#4cffb4,#3cffc3,#50ffb0,#38ffc7,#20ffdf,#18ffe7,#38ffc7,#24ffdb,#3bffc5,#57ffa8,#53ffac,#3dffc2,#52ffad,#40ffbf,#2dffd3,#46ffba,#2effd1,#34ffcb,#1cffe3,#41ffbf,#19ffe6,#35ffca,#39ffc7,#31ffce,#48ffb7,#2fffd0,#61ff9e,#66ff9a,#47ffb8,#39ffc7,#40ffc0,#33ffcc,#43ffbd,#18ffe7,#43ffbd,#44ffbb,#33ffcc,#39ffc6,#31ffce,#41ffbf,#69ff96,#6aff96,#2cffd3,#3dffc2,#43ffbd,#48ffb7,#2cffd4,#51ffaf,#5cffa4,#4cffb4,#5cffa4,#3bffc5,#29ffd7,#4dffb3,#35ffca,#37ffc9,#44ffbc,#64ff9b,#2fffd1,#3effc2,#58ffa8,#4dffb3,#31ffcf,#30ffd0,#27ffd8,#29ffd7,#38ffc7,#3cffc4,#4effb2,#2dffd3,#3effc2,#5cffa4,#5fffa1,#5affa6,#4fffb1,#65ff9b,#7bff85,#4dffb3,#49ffb6,#3effc2,#4bffb4,#3fffc1,#23ffdd,#18ffe7,#3fffc0,#4effb1)"></i><i style="height:3px;background:linear-gradient(90deg,#1dffe2,#26ffda,#1dffe2,#22ffdd,#26ffda,#1effe1,#17ffe8,#23ffdd,#18ffe7,#0cfff3,#09fff7,#19ffe7,#0efff1,#18ffe7,#25ffda,#22ffdd,#16ffe9,#20ffdf,#17ffe8,#0dfff2,#1bffe5,#10ffef,#15ffeb,#0afff5,#1dffe2,#09fff6,#17ffe8,#18ffe7,#13ffec,#1dffe2,#0ffff0,#28ffd8,#29ffd6,#1affe5,#14ffec,#18ffe7,#13ffec,#1cffe4,#07fff8,#1effe2,#1fffe0,#16ffe9,#19ffe6,#14ffeb,#1bffe5,#2effd2,#2dffd2,#0dfff2,#15ffea,#18ffe7,#1bffe4,#0efff1,#22ffde,#29ffd7,#22ffde,#2affd5,#1affe5,#11ffee,#22ffde,#15ffea,#14ffeb,#1affe6,#29ffd6,#0efff1,#16ffea,#23ffdc,#1fffe1,#12ffed 335px 340px,#0ffff0,#11ffee,#19ffe6,#1affe5,#23ffdc,#11ffee,#19ffe7,#27ffd9,#27ffd8,#24ffdc,#1effe2,#29ffd6,#35ffcb,#1fffe0,#1effe1,#1affe5,#22ffde,#1cffe3,#0efff1,#08fff7,#1bffe4,#21ffde)"></i><i style="height:3px;background:#00e0ff"></i><i style="height:3px;background:#0066ff"></i><i style="height:3px;background:#749dff"></i><i style="height:3px;background:#aac3ff"></i><i style="height:3px;background:#bcd0ff"></i><i style="height:3px;background:#c7d8ff"></i><i style="height:3px;background:#ceddff"></i><i style="height:3px;background:#d5e2ff"></i><i style="height:3px;background:#dbe6ff"></i><i style="height:3px;background:#e0e9ff"></i><i style="height:2px;background:#e3ecff"></i></div>
<div class="hm" style="left:946.5px;top:475.5px;width:449.5px;height:305px"><i style="height:3px;background:linear-gradient(90deg,#7dff83,#72ff8e,#8eff72,#c9ff37,#e5ff1a,#c7ff38,#bcff44,#d1ff2f,#c8ff38,#c4ff3c,#e9ff16,#efff10,#cbff34,#ccff34,#d2ff2d,#b7ff48,#b6ff49,#d0ff2f,#b9ff46,#9aff65,#9aff66,#8fff71,#7dff83,#6eff92,#57ffa8,#3effc1,#25ffdb,#17ffe9,#0efff1,#06fff9,#00fcff,#00f5ff,#00edff,#00e6ff,#00e0ff,#00dbff,#00d5ff,#00d0ff,#00c9ff,#00c0ff,#00b8ff,#00aeff,#00a2ff,#0093ff,#0084ff,#007bff,#0074ff,#006eff,#0571ff,#0973ff,#0e76ff,#5ea4ff,#70aeff,#74b0ff,#7ab3ff,#7db5ff,#7fb6ff,#83b8ff,#89bcff,#9ec8ff,#aacfff,#b7d6ff,#a8cdff,#abcfff,#b8d6ff,#bad8ff,#bdd9ff,#c3ddff,#cce2ff,#d6e7ff,#dcebff,#d9e9ff,#c6deff,#c7dfff,#c8e0ff,#cce2ff,#d2e5ff,#d9e9ff,#daeaff,#deecff,#e6f0ff,#e3efff 405px 410px,#e9f2ff,#ebf4ff,#eef5ff,#e8f2ff,#e3efff,#d6e8ff,#f0f7ff,#fafcff)"></i><i style="height:3px;background:linear-gradient(90deg,#85ff7b,#7bff85,#97ff69,#d1ff2e,#eeff11,#d0ff2f,#c5ff3b,#d9ff26,#d0ff2f,#ccff33,#f2ff0e,#f8ff08,#d4ff2b,#d5ff2a,#dcff23,#c3ff3d,#c2ff3d,#dcff23,#c5ff3b,#a5ff5b,#a3ff5d,#97ff69,#85ff7b,#74ff8b,#5dffa2,#44ffbc,#2affd5,#1bffe4,#12ffed,#08fff7,#01fffe,#00f8ff,#00f0ff,#00e8ff,#00e3ff,#00deff,#00d8ff,#00d3ff,#00cbff,#00c3ff,#00baff,#00b0ff,#00a5ff,#0097ff,#0089ff,#007eff,#0077ff,#0072ff,#006eff,#0470ff,#0873ff,#57a0ff,#67a8ff,#63a6ff,#70adff,#75b1ff,#79b3ff,#7fb6ff,#86baff,#95c3ff,#9ec7ff,#a5ccff,#a3cbff,#a7cdff,#add0ff,#aed1ff,#b0d2ff,#b5d5ff,#bbd8ff,#c1dcff,#c5deff 350px 355px,#c1dbff,#c8dfff,#cce2ff,#c7dfff,#d1e4ff,#deecff,#dbebff,#dcebff 395px 400px,#e2efff,#e6f0ff,#daeaff,#e0edff,#ebf3ff 425px 430px,#e8f2ff,#dfedff,#edf5ff,#f5f9ff)"></i><i style="height:3px;background:linear-gradient(90deg,#9dff62,#93ff6d,#afff51,#e9ff16,#fff900,#e8ff17,#ddff22,#f2ff0e,#e8ff17,#e4ff1b,#fff500,#fff000,#ecff13,#efff11,#f7ff08,#dfff20,#e0ff20,#f9ff06,#e0ff1f,#beff42,#b9ff47,#a9ff56,#94ff6c,#82ff7e,#6aff96,#50ffb0,#36ffca,#25ffda,#1affe6,#0ffff1,#05fffa,#00fdff,#00f5ff,#00edff,#00e8ff,#00e3ff,#00deff,#00d8ff,#00d1ff,#00c8ff,#00bfff,#00b6ff,#00abff,#009fff,#0092ff,#0085ff,#007cff,#0079ff,#0075ff,#0071ff,#006eff,#4b99ff,#58a0ff,#4c99ff,#60a4ff,#68a9ff,#6dacff,#75b1ff,#7eb5ff,#87bbff,#8cbdff,#8fbfff,#9ac6ff,#9fc9ff,#9ec7ff,#9ec8ff,#9fc9ff,#a4cbff,#a7cdff,#aaceff,#aacfff,#afd1ff,#b9d7ff,#c6deff,#cce2ff,#bfdaff,#cce2ff,#e1eeff,#daeaff,#d6e8ff,#cfe3ff,#deecff,#e6f0ff,#c8e0ff,#d2e6ff,#e5f0ff,#ebf4ff 430px 435px,#e6f0ff,#e7f1ff 445px 450px)"></i><i style="height:3px;background:linear-gradient(90deg,#c5ff3b,#bbff45,#d7ff29,#ffee00,#ffd300,#ffef00,#fff900,#ffe600,#ffee00,#fff300,#ffd100,#ffcb00,#ffec00,#ffe900,#ffe100,#fff600 75px 80px,#ffe000,#fff900,#dfff20,#d5ff2a,#c2ff3d,#aaff56,#95ff6a,#7dff83,#62ff9e,#47ffb9,#34ffcc,#25ffdb,#17ffe8,#0cfff3,#04fffb,#00fcff,#00f3ff,#00efff,#00eaff,#00e6ff,#00e1ff,#00d9ff,#00cfff,#00c6ff,#00bdff,#00b2ff,#00a7ff,#009cff,#0090ff,#0085ff,#007fff,#007cff,#0079ff,#0077ff,#3d91ff,#4b99ff,#4394ff,#539dff,#58a0ff,#5aa1ff,#65a7ff,#6fadff,#7cb4ff,#7eb6ff,#7fb6ff,#8cbeff,#93c2ff,#94c2ff,#93c2ff,#95c3ff,#98c5ff,#9ec8ff,#a4cbff,#afd2ff,#b3d4ff,#b0d2ff,#bcd9ff,#c2dcff,#b5d5ff,#c0dbff,#cfe4ff,#c5deff,#c4ddff,#c5deff,#d0e4ff,#d5e7ff,#c5deff,#d0e4ff,#e2eeff,#dbeaff,#d9e9ff,#d8e9ff,#deecff,#e0edff)"></i><i style="height:3px;background:linear-gradient(90deg,#fff900,#fcff03,#ffe800,#ffb100,#ff9600,#ffb100,#ffba00,#ffa700,#ffb100,#ffb600,#ff9400,#ff9000,#ffb100 60px 65px,#ffab00,#ffc400,#ffc700,#ffb600,#ffd400,#fffc00,#f5ff0a,#dfff21,#c3ff3d,#acff53,#92ff6d,#77ff89,#5bffa4,#45ffba,#33ffcd,#22ffdd,#15ffea,#0bfff4,#04fffb,#00fbff,#00f7ff,#00f3ff,#00eeff,#00eaff,#00e2ff,#00d9ff,#00cfff,#00c5ff,#00baff,#00b0ff,#00a5ff,#009aff,#008fff,#0088ff,#0083ff,#007fff,#007cff,#318aff,#4093ff,#3b90ff,#4796ff,#4a98ff,#4997ff,#569fff,#63a6ff,#73afff 295px 300px,#71aeff,#81b7ff,#89bcff,#8dbeff,#8cbdff,#8dbeff,#90c0ff,#98c4ff,#a0c9ff,#b7d6ff,#bad8ff,#abcfff,#b5d5ff,#bad8ff,#afd1ff,#b6d6ff,#c1dcff,#b4d4ff,#b5d5ff,#bfdaff,#c4ddff,#c8dfff,#c6dfff,#d2e5ff,#e1eeff,#cde3ff,#c9e0ff,#cee3ff,#d8e9ff,#ddecff)"></i><i style="height:3px;background:linear-gradient(90deg,#ffa700,#ffb000,#ff9400,#ff5d00,#ff4000,#ff5a00,#ff6300,#ff5000,#ff5b00,#ff6100,#ff4100,#ff3e00,#ff6200,#ff6700,#ff6900,#ff8b00,#ff9600,#ff8d00,#ffb200,#ffde00,#ffee00,#faff05,#ddff22,#c5ff3a,#aaff55,#8fff71,#72ff8e,#59ffa7,#42ffbe,#2effd1,#1effe1,#12ffed,#0bfff5,#04fffc,#01fffe,#00fcff,#00f8ff,#00f3ff,#00ecff,#00e3ff,#00d8ff,#00cdff,#00c2ff,#00b7ff,#00acff,#00a0ff,#0094ff,#008eff,#0088ff,#0083ff,#007fff,#2683ff,#2f89ff 260px 265px,#3a8fff,#3d91ff,#3c90ff,#4998ff,#559fff,#67a9ff,#68a9ff,#66a8ff,#77b2ff,#81b7ff,#84b9ff,#86baff,#89bcff,#8dbeff,#92c1ff,#96c3ff,#abcfff,#b2d3ff,#aed1ff,#b7d6ff,#bcd9ff,#b7d6ff,#b8d7ff,#bad8ff,#b6d6ff,#bad8ff,#c6deff,#c8e0ff,#cae1ff,#cae0ff,#cbe1ff,#cde2ff,#cfe4ff 430px 435px,#cce2ff,#d9e9ff,#e0edff)"></i><i style="height:3px;background:linear-gradient(90deg,#ff6100,#ff6900,#ff4d00,#ff1400,#f60000,#ff1000,#ff1800,#ff0500,#ff1100,#ff1900,#f90000,#f70000,#ff1e00,#ff2700,#ff3000,#ff5900,#ff6b00,#ff6900,#ff9300,#ffc300,#ffd400,#ffeb00,#f7ff08,#dfff21,#c3ff3d,#a6ff5a,#89ff77,#6dff93,#51ffae,#3affc5,#28ffd7,#19ffe6,#11ffee,#0afff5,#07fff8,#04fffb,#01fffe,#00fdff,#00f5ff,#00ecff,#00e1ff,#00d6ff,#00cbff,#00bfff,#00b3ff,#00a7ff,#009aff,#0094ff,#008eff,#0088ff,#0082ff,#1a7dff,#1d7fff,#2382ff,#2d88ff,#3089ff 275px 280px,#3c90ff,#4897ff,#5ba2ff,#5da3ff,#5ca2ff,#6eadff,#78b2ff,#7cb4ff,#7fb6ff,#84b9ff,#8abdff,#8cbdff,#8bbdff,#9fc8ff,#a9ceff,#b1d3ff,#b9d7ff,#bedaff,#bfdaff,#bbd8ff,#b4d4ff,#b8d7ff,#bfdbff,#cde2ff 400px 415px,#c4deff,#b8d7ff,#d1e4ff,#d5e7ff,#cae1ff,#d9e9ff,#e2eeff)"></i><i style="height:3px;background:linear-gradient(90deg,#ff3f00,#ff4700,#ff2a00,#f00000,#d30000,#ec0000,#f30000,#e10000,#ed0000,#f50000,#d70000,#d50000,#fc0000,#ff0600,#ff1000,#ff3a00,#ff4d00 80px 85px,#ff7800,#ffaa00,#ffbc00,#ffd300,#fff000,#f7ff08,#daff25,#bcff43,#9eff62,#80ff80,#60ff9f,#46ffba,#31ffce,#21ffdf,#18ffe7,#0ffff0,#0dfff2,#0afff5,#07fff8,#05fffa,#00feff,#00f4ff,#00eaff,#00deff,#00d2ff,#00c6ff,#00b9ff,#00adff,#00a0ff,#0099ff,#0093ff,#008dff,#0087ff,#1278ff,#167aff,#157aff,#2684ff,#2b87ff,#2c87ff,#338bff,#3d90ff,#559eff,#569fff,#539dff,#62a6ff,#6fadff,#7bb4ff,#80b6ff,#85baff,#8dbeff,#91c0ff,#92c1ff,#9ac5ff,#a1c9ff,#abcfff,#b8d6ff,#c0dbff,#c3ddff,#bcd9ff,#b3d4ff,#c6deff,#cde2ff,#d0e4ff,#cde3ff,#cce2ff,#cae1ff,#c3ddff,#b9d7ff,#cbe1ff 430px 435px,#b7d6ff,#cae1ff,#d7e8ff)"></i><i style="height:3px;background:linear-gradient(90deg,#ff3400,#ff3a00,#ff1e00,#e40000,#c70000,#df0000,#e70000,#d40000,#e10000,#e90000,#cb0000,#c90000,#f00000,#f70000,#ff0000,#ff2800,#ff3900,#ff3700,#ff6200,#ff9400,#ffa700,#ffbf00,#ffdc00,#fff400,#eeff11,#cfff30,#b0ff4f,#90ff70,#6dff93,#50ffb0,#39ffc6,#27ffd9,#1dffe2,#15ffeb,#12ffed,#0ffff0,#0dfff2,#0afff5,#04fffb,#00fbff,#00f0ff,#00e6ff,#00d9ff,#00ccff,#00bfff,#00b2ff,#00a5ff,#009eff,#0097ff,#0091ff,#008bff,#0b74ff,#1077ff,#0873ff,#2181ff,#2885ff,#2985ff,#2b86ff,#328bff,#509bff,#4f9bff,#4a98ff,#58a0ff,#67a8ff,#7ab4ff,#80b7ff,#87bbff,#8fbfff,#96c3ff,#9ac6ff,#95c2ff,#99c5ff,#a5ccff,#b7d6ff,#c2dcff,#c7dfff,#bedaff,#b3d3ff,#d3e6ff,#dbeaff,#d3e6ff,#cee3ff,#cbe1ff,#c7dfff,#c1dcff,#b9d7ff,#c6deff,#c1dbff,#a3cbff,#bbd8ff,#cce2ff)"></i><i style="height:3px;background:linear-gradient(90deg,#ff3000,#ff3600,#ff1a00,#e00000,#c20000,#db0000,#e30000,#d00000,#dd0000,#e50000,#c70000,#c50000,#eb0000,#f10000,#f60000,#ff1d00,#ff2b00,#ff2800,#ff5100,#ff8300,#ff9700,#ffaf00,#ffcd00,#ffe500,#feff01,#deff21,#beff41,#9cff64,#77ff89,#57ffa8,#3fffc0,#2bffd4,#22ffde,#18ffe7,#16ffe9,#13ffec,#11ffee,#0efff1,#08fff7,#01fffe,#00f5ff,#00eaff,#00deff,#00d1ff,#00c3ff,#00b6ff,#00a8ff,#00a1ff,#009bff,#0095ff,#008eff,#0571ff,#0b74ff,#0a74ff,#177bff,#1f7fff,#2b87ff,#2d88ff,#338bff,#4193ff,#4797ff,#4d9aff,#559fff,#65a8ff,#7fb6ff,#82b8ff,#88bbff,#92c1ff,#94c2ff,#93c1ff,#99c5ff,#a0c9ff,#a9ceff,#b7d6ff,#c0dbff 370px 375px,#bedaff,#bbd8ff,#cbe1ff 390px 395px,#bcd9ff,#c6dfff,#cde3ff,#c8dfff,#c7dfff,#c6dfff,#c3ddff,#c1dcff,#bedaff,#cae1ff,#d2e5ff)"></i><i style="height:3px;background:linear-gradient(90deg,#ff2e00,#ff3500,#ff1800,#de0000,#c10000,#da0000,#e10000,#cf0000,#db0000,#e30000,#c50000,#c40000,#e90000,#ee0000,#f10000,#ff1600,#ff2300,#ff1e00,#ff4700,#ff7900,#ff8d00,#ffa600,#ffc300,#ffdb00,#fff700,#e7ff18,#c7ff38,#a3ff5c,#7dff83,#5cffa3,#43ffbc,#2effd1,#24ffdb,#1bffe4,#18ffe7,#16ffe9,#13ffec,#11ffee,#0bfff4,#03fffc,#00f9ff,#00edff,#00e1ff,#00d4ff,#00c6ff,#00b8ff,#00abff,#00a3ff,#009dff,#0097ff,#0090ff,#006eff,#0872ff,#0f76ff,#1077ff,#187cff,#3089ff,#328aff,#358cff,#348cff,#4293ff,#529dff,#559eff,#66a8ff,#85baff,#86baff,#8abcff,#96c3ff,#93c2ff,#8bbdff,#9dc7ff,#a7cdff,#add0ff,#b8d6ff,#bedaff,#bad7ff,#bedaff,#c4ddff,#c3ddff,#bcd9ff,#a5ccff,#bfdbff,#d0e4ff,#c9e0ff,#cde3ff,#d3e6ff,#c1dcff,#c2dcff,#d8e9ff 440px 445px,#d8e8ff)"></i><i style="height:3px;background:linear-gradient(90deg,#ff2e00,#ff3500,#ff1800,#de0000,#c10000,#da0000,#e10000,#ce0000,#db0000,#e30000,#c50000,#c40000,#e90000,#ed0000,#f00000,#ff1400,#ff2000,#ff1b00,#ff4400,#ff7500,#ff8a00,#ffa200,#ffc000,#ffd800,#fff400,#eaff15,#caff35,#a6ff5a,#7fff81,#5effa2,#45ffbb,#2fffd0,#25ffda,#1cffe4,#19ffe6,#17ffe9,#14ffeb,#12ffee,#0cfff4,#04fffb,#00faff,#00eeff,#00e2ff,#00d5ff,#00c7ff,#00b9ff,#00abff,#00a4ff,#009eff,#0097ff,#0091ff,#006fff,#0370ff,#0973ff,#177bff,#1c7eff,#2281ff,#2d87ff,#378dff,#4494ff,#4696ff,#4796ff,#569fff,#69a9ff,#85baff,#82b8ff,#83b9ff,#8dbeff,#90c0ff 340px 345px,#96c3ff,#a0c9ff,#b1d3ff,#b2d3ff,#b3d3ff,#bbd8ff,#bcd9ff,#bbd8ff 385px 390px,#bad8ff,#b5d5ff,#b8d6ff,#bdd9ff,#d0e4ff,#d4e6ff,#d7e8ff,#cae1ff 430px 435px,#d8e8ff,#d1e5ff,#cde2ff)"></i><i style="height:3px;background:linear-gradient(90deg,#ff2f00,#ff3600,#ff1a00,#e00000,#c20000,#db0000,#e30000,#d00000,#dd0000,#e50000,#c60000,#c50000,#eb0000,#f00000,#f60000,#ff1c00,#ff2b00,#ff2700,#ff5100,#ff8300,#ff9700,#ffaf00,#ffcc00,#ffe400,#feff01,#dfff21,#bfff40,#9cff64,#77ff89,#58ffa8,#40ffc0,#2cffd4,#22ffdd,#19ffe7,#16ffe9,#13ffec,#11ffee,#0efff1,#08fff7,#01fffe,#00f6ff,#00ebff,#00deff,#00d1ff,#00c3ff,#00b6ff,#00a8ff,#00a1ff,#009bff,#0095ff,#008fff,#0370ff,#0671ff,#0a74ff,#2583ff,#2784ff,#1b7dff,#2e88ff,#4092ff,#59a1ff,#509cff,#4193ff,#5ba2ff,#70adff,#88bbff,#82b8ff,#80b7ff,#86baff,#8fbfff,#96c3ff,#90c0ff,#9ac6ff,#b7d6ff,#add0ff,#a8ceff,#bdd9ff,#bad8ff,#b3d4ff,#b4d4ff,#b9d7ff,#c5deff,#b1d3ff,#aacfff,#d7e8ff,#dbebff,#dbeaff,#d3e6ff 430px 435px,#d8e8ff,#cae1ff,#c3ddff)"></i><i style="height:3px;background:linear-gradient(90deg,#ff3c00,#ff4300,#ff2600,#ed0000,#cf0000,#e80000,#f00000,#dd0000,#ea0000,#f20000,#d30000,#d20000,#f90000,#ff0200,#ff0c00,#ff3600,#ff4900,#ff4800,#ff7300,#ffa500,#ffb800,#ffcf00,#ffec00,#fbff04,#deff21,#c0ff40,#a2ff5e,#83ff7d,#63ff9d,#48ffb8,#33ffcc,#22ffdd,#19ffe6,#11ffef,#0efff1,#0bfff4,#09fff7,#06fff9,#00ffff,#00f5ff,#00ebff,#00e0ff,#00d4ff,#00c7ff,#00bbff,#00aeff,#00a1ff,#009aff,#0094ff,#008eff,#0088ff,#1077ff,#1379ff,#177bff,#2784ff,#2b87ff,#2c87ff,#3d91ff,#4b99ff,#529cff,#559eff,#58a0ff,#70aeff,#7db5ff,#84b9ff,#85b9ff,#86baff,#81b7ff,#8ebfff,#9dc7ff,#9ac5ff,#a3caff,#bad8ff,#b0d2ff,#abcfff,#b9d7ff,#bbd8ff,#bcd9ff,#b9d7ff,#bedaff,#cce2ff,#bcd9ff,#b5d5ff,#d1e5ff,#d3e6ff,#d1e5ff,#d4e6ff,#d5e7ff,#d8e9ff,#cfe4ff,#cae1ff)"></i><i style="height:3px;background:linear-gradient(90deg,#ff8d00,#ff9500,#ff7900,#ff4100,#ff2400,#ff3e00,#ff4700,#ff3400,#ff3f00,#ff4600,#ff2600,#ff2300,#ff4900,#ff4f00,#ff5400,#ff7900,#ff8700,#ff8100,#ffa700,#ffd500,#ffe500,#fffb00,#e6ff1a,#ceff32,#b2ff4d,#96ff6a,#7aff86,#60ffa0,#47ffb9,#32ffcd,#22ffde,#14ffeb,#0dfff2,#06fff9,#03fffc,#00ffff,#00fbff,#00f7ff,#00efff,#00e6ff,#00dbff,#00d0ff,#00c5ff,#00baff,#00aeff,#00a2ff,#0096ff,#0090ff,#008aff,#0084ff,#007fff,#2181ff,#2683ff,#2985ff,#2e88ff,#358cff,#4293ff,#519cff,#5ba2ff,#4f9bff,#5ea3ff,#72afff,#88bbff,#8ebeff,#82b8ff,#8abcff,#8ebfff,#7db5ff,#8fbfff,#a6ccff,#a5ccff,#acd0ff,#bedaff,#b4d4ff,#aed1ff,#b5d5ff,#bdd9ff,#c6dfff,#bfdbff,#c3ddff,#d2e6ff,#c7dfff,#c1dbff,#cde2ff,#cbe1ff,#c7dfff,#d4e7ff,#d8e9ff 435px 440px,#d5e7ff,#d2e5ff)"></i><i style="height:3px;background:linear-gradient(90deg,#ebff14,#e1ff1e,#fdff02,#ffca00,#ffaf00,#ffca00,#ffd400,#ffc100,#ffca00,#ffcf00,#ffad00,#ffa800,#ffc900,#ffc600,#ffbf00,#ffd600 75px 80px,#ffc200,#ffdf00,#f7ff08,#eaff16,#d3ff2c,#b7ff49,#a0ff5f,#87ff79,#6bff94,#50ffb0,#3cffc4,#2bffd4,#1cffe3,#10ffef,#07fff8,#01fffe,#00f7ff,#00f3ff,#00eeff,#00eaff,#00e5ff,#00ddff,#00d4ff,#00caff,#00c0ff,#00b7ff,#00acff,#00a1ff,#0097ff,#008cff,#0086ff,#0080ff,#007eff,#007bff,#338bff,#3a8fff,#3d91ff,#4796ff,#529cff,#67a8ff,#69aaff,#6aaaff,#60a4ff,#6babff,#79b3ff,#8dbeff,#93c2ff,#8cbeff,#92c1ff,#96c3ff,#94c2ff,#a1c9ff,#afd1ff,#b0d2ff,#b5d5ff,#c0dbff,#b9d7ff,#b6d5ff,#bad7ff,#bdd9ff,#c1dbff,#bedaff,#c2dcff,#cee3ff,#d0e4ff,#d1e5ff,#cae1ff,#cce2ff,#d0e4ff,#cbe1ff,#cde2ff,#d6e8ff,#cce2ff,#c6deff)"></i><i style="height:3px;background:linear-gradient(90deg,#c2ff3d,#b8ff48,#d4ff2c,#fff100,#ffd700,#fff200,#fffd00,#ffea00,#fff200,#fff600,#ffd300,#ffce00,#ffee00,#ffed00,#ffe500,#fffc00,#fffd00,#ffe800,#faff06,#d1ff2f,#c5ff3b,#afff50,#94ff6c,#7fff81,#65ff9b,#4bffb5,#31ffcf,#21ffde,#16ffe9,#0cfff3,#03fffc,#00fbff,#00f2ff,#00ebff,#00e6ff,#00e1ff,#00dbff,#00d6ff,#00ceff,#00c6ff,#00bdff,#00b5ff,#00abff,#00a2ff,#0098ff,#008eff,#0084ff,#007fff,#007dff,#007bff,#0078ff,#4092ff,#4a98ff,#4c99ff,#59a1ff,#69aaff,#87bbff,#7bb4ff,#75b1ff,#6cabff,#73afff,#7db5ff,#8fbfff,#96c3ff,#95c2ff,#97c4ff,#9cc7ff,#aaceff,#b1d2ff,#b6d5ff,#b9d7ff,#bcd9ff,#c1dcff,#bedaff,#bcd9ff,#bedaff,#bdd9ff,#bad8ff,#bcd9ff,#c0dbff,#c8e0ff,#d8e9ff,#e0edff,#c7dfff,#cde2ff,#d8e9ff,#c1dcff,#c0dbff,#d4e6ff,#c3ddff,#b9d7ff)"></i><i style="height:3px;background:linear-gradient(90deg,#bcff43,#b2ff4e,#ceff32,#fff700,#ffdc00,#fff800,#fbff04,#ffef00,#fff800,#fffb00,#ffd900,#ffd300,#fff400 60px 65px,#ffee00,#f7ff08,#f4ff0b,#fff500,#eaff15,#c2ff3e,#b6ff49,#a1ff5f,#86ff7a,#70ff8f,#57ffa9,#3effc2,#24ffdb,#16ffe9,#0efff1,#05fffa,#00fcff,#00f5ff,#00edff,#00e6ff,#00e0ff,#00dbff,#00d5ff,#00d0ff,#00c9ff,#00c0ff,#00b8ff,#00b0ff,#00a7ff,#009eff,#0094ff,#008bff,#0081ff,#007eff,#007cff,#0079ff,#0077ff,#4796ff,#559eff,#549eff,#5ea3ff,#6babff,#83b8ff,#80b7ff,#7eb6ff,#71aeff,#79b3ff,#83b9ff,#94c2ff,#9ac6ff,#99c5ff,#9cc7ff,#a1caff,#b0d2ff,#b4d4ff,#b7d6ff,#c1dcff,#c3dcff,#bcd9ff 360px 370px,#b9d7ff 375px 380px,#b8d7ff,#c1dcff,#c3ddff,#bfdaff,#d0e4ff,#d9e9ff,#c5deff,#cbe1ff,#d6e8ff,#cce2ff,#cde2ff,#daeaff,#cee3ff,#c5deff)"></i><i style="height:3px;background:linear-gradient(90deg,#c1ff3f,#b6ff4a,#d2ff2e,#fff300,#ffd800,#fff400,#fffe00,#ffeb00,#fff400,#fff700,#ffd500,#ffcf00,#fff000,#ffef00,#ffe700,#ffff00,#feff01,#ffeb00,#f6ff09,#cdff32,#c2ff3e,#acff54,#91ff6f,#7bff85,#61ff9e,#48ffb8,#2effd1,#1effe1,#14ffeb,#0afff5,#02fffd,#00f9ff,#00f1ff,#00e9ff,#00e5ff,#00dfff,#00daff,#00d5ff,#00cdff,#00c5ff,#00bcff,#00b4ff,#00aaff,#00a1ff,#0097ff,#008dff,#0084ff,#007fff,#007dff,#007aff,#0078ff,#4495ff,#569fff,#519cff,#57a0ff,#61a5ff,#75b0ff,#7bb4ff,#7db5ff,#6eacff,#76b1ff,#83b8ff,#92c1ff,#98c5ff,#98c4ff,#9cc7ff,#a2caff,#b2d3ff,#b5d5ff 340px 345px,#c6dfff 350px 355px,#b4d4ff,#b8d6ff,#b9d7ff,#b2d3ff,#b3d4ff,#b5d5ff,#c5deff 390px 395px,#b4d4ff,#c6deff,#d1e4ff,#c1dcff,#c8e0ff,#d4e6ff,#d6e8ff,#d9e9ff,#e0edff,#d8e9ff,#d1e5ff)"></i><i style="height:3px;background:linear-gradient(90deg,#e1ff1e,#d7ff29,#f3ff0c,#ffd400,#ffb900,#ffd400,#ffdf00,#ffcc00,#ffd400,#ffd900,#ffb700,#ffb200,#ffd200,#ffd000,#ffc700,#ffdd00 75px 80px,#ffc900,#ffe500,#f1ff0e,#e4ff1b,#cdff32,#b1ff4e,#9bff65,#81ff7f,#66ff9a,#4bffb5,#37ffc8,#28ffd8,#1affe6,#0efff1,#05fffa,#00feff,#00f5ff,#00f1ff,#00ecff,#00e8ff,#00e3ff,#00dbff,#00d1ff,#00c8ff,#00beff,#00b5ff,#00aaff,#00a0ff,#0095ff,#008bff,#0085ff,#0080ff,#007dff,#007bff,#378dff,#4595ff 260px 265px,#4d9aff,#509cff,#529dff,#5ea3ff,#67a8ff,#65a7ff,#6eacff,#79b3ff,#84b9ff,#8dbeff,#97c4ff,#9cc7ff,#a2caff,#a6ccff,#aed1ff,#b7d6ff 345px 350px,#b8d6ff,#b5d5ff 360px 365px,#b4d4ff,#b5d5ff,#b9d7ff,#bfdaff,#c7dfff,#c8dfff,#bedaff,#c2dcff,#c4ddff,#bdd9ff,#c5deff,#d1e5ff 425px 430px,#d4e7ff,#dcebff,#d1e5ff,#c9e0ff)"></i><i style="height:3px;background:linear-gradient(90deg,#ffa100,#ffa900,#ff8d00,#ff5500,#ff3900,#ff5300,#ff5c00,#ff4900,#ff5400,#ff5a00,#ff3a00,#ff3700,#ff5c00,#ff6100,#ff6400,#ff8700,#ff9200,#ff8a00,#ffaf00,#ffdc00,#ffec00,#fcff03,#dfff20,#c7ff38,#acff53,#90ff6f,#74ff8c,#5bffa5,#43ffbc,#2fffd0,#1fffe0,#13ffed,#0bfff4,#04fffb,#01fffe,#00fdff,#00f8ff,#00f4ff,#00edff,#00e3ff,#00d9ff,#00ceff,#00c3ff,#00b8ff,#00acff,#00a1ff,#0095ff,#008eff,#0089ff,#0083ff,#007fff,#2583ff,#2e88ff,#338bff,#3c90ff,#398fff,#2985ff,#3c90ff,#4b99ff,#569fff,#61a5ff,#6babff,#73afff,#7fb6ff,#92c1ff,#9ac5ff,#9fc8ff,#98c4ff,#a6ccff,#b7d6ff,#a7cdff,#a8ceff,#b5d5ff,#b1d2ff,#afd1ff,#b7d6ff,#bedaff,#c7dfff,#c8e0ff,#c9e0ff,#c8e0ff,#bedaff,#b7d6ff,#b8d6ff,#c1dcff,#cee3ff,#cce2ff,#cfe4ff,#d8e9ff,#cae1ff,#c1dcff)"></i><i style="height:3px;background:linear-gradient(90deg,#ff4100,#ff4800,#ff2b00,#f10000,#d40000,#ed0000,#f50000,#e20000,#ee0000,#f60000,#d80000,#d60000,#fd0000,#ff0700,#ff1100,#ff3c00,#ff4f00,#ff4e00,#ff7900,#ffab00,#ffbe00,#ffd500,#fff100,#f5ff0a,#d9ff27,#bbff45,#9dff63,#7fff81,#5fffa0,#45ffba,#31ffcf,#20ffdf,#17ffe8,#0ffff0,#0cfff3,#0afff5,#07fff8,#04fffb,#00feff,#00f3ff,#00e9ff,#00deff,#00d2ff,#00c5ff,#00b9ff,#00acff,#009fff,#0099ff,#0093ff,#008dff,#0087ff,#1379ff,#187bff,#167aff,#2382ff,#2a86ff,#338bff,#348cff,#398eff,#4796ff,#4e9aff,#549dff,#63a6ff,#71aeff,#7fb6ff,#90c0ff,#9ac5ff,#8abdff,#9bc6ff,#afd2ff,#aed1ff,#afd1ff,#add0ff,#accfff,#abcfff,#add0ff,#b2d3ff,#b9d7ff,#bedaff,#c1dcff,#c2dcff,#bcd9ff,#b8d7ff,#bcd9ff,#c2dcff,#c9e0ff,#d4e7ff,#d7e8ff,#d3e6ff,#cde3ff,#cae1ff)"></i><i style="height:3px;background:linear-gradient(90deg,#ff3000,#ff3700,#ff1a00,#e00000,#c30000,#dc0000,#e30000,#d00000,#dd0000,#e50000,#c70000,#c60000,#ec0000,#f20000,#f80000,#ff1e00,#ff2d00,#ff2a00,#ff5400,#ff8600,#ff9a00,#ffb200,#ffcf00,#ffe700,#fbff04,#dbff24,#bcff43,#9aff66,#75ff8b,#56ffaa,#3effc1,#2bffd5,#21ffde,#18ffe7,#15ffea,#13ffed,#10ffef,#0dfff2,#08fff7,#00ffff,#00f5ff,#00eaff,#00ddff,#00d0ff,#00c3ff,#00b5ff,#00a8ff,#00a0ff,#009aff,#0094ff,#008eff,#0671ff,#0672ff,#0071ff,#0e76ff,#1f7fff,#4294ff,#3089ff,#2a86ff,#3b8fff,#3e91ff,#3f92ff,#57a0ff,#65a8ff,#6eacff,#88bbff,#97c4ff,#7eb6ff,#91c0ff,#a9ceff,#b6d5ff 350px 355px,#a5ccff,#a7cdff,#a8cdff,#a3cbff,#a7cdff,#abcfff,#b5d5ff,#bad8ff,#bcd9ff,#bad8ff 405px 410px,#c1dcff,#c3ddff,#c5deff,#ddebff,#dfedff,#cfe3ff,#d1e5ff,#d3e6ff)"></i><i style="height:3px;background:linear-gradient(90deg,#ff2e00,#ff3500,#ff1800,#de0000,#c10000,#da0000,#e10000,#ce0000,#db0000,#e30000,#c50000,#c40000,#e90000,#ed0000,#f00000,#ff1400,#ff2100,#ff1c00,#ff4400,#ff7600,#ff8a00,#ffa300,#ffc000,#ffd900,#fff500,#eaff15,#caff36,#a6ff5a,#7fff81,#5effa2,#44ffbb,#2fffd0,#25ffda,#1cffe4,#19ffe6,#16ffe9,#14ffeb,#11ffee,#0bfff4,#04fffb,#00f9ff,#00eeff,#00e2ff,#00d4ff,#00c7ff,#00b9ff,#00abff,#00a4ff,#009eff,#0097ff,#0091ff,#006eff,#0571ff,#0772ff,#0370ff,#1077ff,#378dff,#2885ff,#2683ff,#3d91ff,#4293ff,#4394ff,#519cff,#5ea4ff,#6babff,#83b8ff,#92c1ff,#8cbeff,#92c1ff,#97c4ff,#abcfff,#afd1ff,#a2caff,#a4cbff,#a6ccff,#b3d4ff,#aed1ff,#a6ccff,#b5d5ff,#bcd9ff,#bfdaff,#c2dcff,#c4ddff,#c2dcff,#c3ddff,#c4ddff,#cee3ff,#cfe4ff,#c7dfff,#c9e0ff,#cbe1ff)"></i><i style="height:3px;background:linear-gradient(90deg,#ff2f00,#ff3600,#ff1900,#df0000,#c20000,#da0000,#e20000,#cf0000,#dc0000,#e40000,#c60000,#c50000,#ea0000,#ef0000,#f40000,#ff1900,#ff2700,#ff2300,#ff4c00,#ff7e00,#ff9200,#ffab00,#ffc800,#ffe000,#fffc00,#e3ff1d,#c3ff3d,#a0ff60,#7aff86,#5affa6,#41ffbe,#2dffd2,#23ffdc,#1affe6,#17ffe8,#15ffeb,#12ffed,#0ffff0,#0afff6,#02fffd,#00f7ff,#00ecff,#00e0ff,#00d2ff,#00c5ff,#00b7ff,#00a9ff,#00a2ff,#009cff,#0096ff,#008fff,#0370ff,#0e76ff,#1b7dff,#0370ff,#0c75ff,#368dff,#2b86ff,#2a86ff,#4997ff,#4e9aff 300px 305px,#529dff,#5ea3ff,#6fadff,#83b8ff,#92c1ff,#9ec7ff,#96c3ff,#87bbff,#a2caff,#a9ceff,#a1c9ff,#a2caff,#a6ccff,#c5deff,#b8d6ff,#a1caff,#b7d6ff,#c0dbff,#c2dcff,#cae1ff,#cee3ff,#c4ddff,#c3ddff,#c4ddff,#c0dbff,#bfdbff,#c0dbff,#c2dcff,#c4ddff)"></i><i style="height:3px;background:linear-gradient(90deg,#ff3700,#ff3e00,#ff2200,#e80000,#ca0000,#e30000,#eb0000,#d80000,#e50000,#ed0000,#ce0000,#cd0000,#f40000,#fc0000,#ff0600,#ff2f00,#ff4100,#ff4000,#ff6b00,#ff9d00,#ffb000,#ffc700,#ffe400,#fffc00,#e6ff19,#c7ff38,#a9ff57,#89ff77,#68ff98,#4cffb4,#36ffc9,#24ffdb,#1bffe4,#12ffed,#10ffef,#0dfff2,#0bfff5,#08fff7,#02fffd,#00f8ff,#00eeff,#00e3ff,#00d6ff,#00c9ff,#00bdff,#00b0ff,#00a3ff,#009cff,#0096ff,#008fff,#0089ff,#0e76ff,#1a7dff,#2382ff,#1c7eff,#1f80ff,#2b87ff,#2f89ff,#378dff,#4d9aff,#539dff,#58a0ff,#63a6ff,#6fadff,#7ab4ff,#86baff,#90c0ff,#97c4ff,#9dc7ff,#a1c9ff,#a0c9ff,#a7cdff,#b4d4ff,#b2d3ff,#b3d4ff,#c6dfff,#bdd9ff,#aed1ff,#c3ddff,#c7dfff,#bcd9ff,#c2dcff,#c6deff,#c0dbff,#c1dcff,#c3dcff,#c7dfff,#c8dfff,#c6deff,#cbe2ff,#d0e4ff)"></i><i style="height:3px;background:linear-gradient(90deg,#ff7300,#ff7a00,#ff5e00,#ff2600,#ff0900,#ff2200,#ff2b00,#ff1800,#ff2300,#ff2b00,#ff0b00,#ff0900,#ff2f00,#ff3700,#ff3f00,#ff6600,#ff7700,#ff7300,#ff9c00,#ffcb00,#ffdc00,#fff200,#efff10,#d7ff28,#bcff44,#9fff61,#82ff7e,#67ff99,#4dffb3,#37ffc9,#25ffda,#17ffe8,#0ffff0,#08fff7,#05fffa,#02fffd,#00feff,#00faff,#00f3ff,#00e9ff,#00dfff,#00d3ff,#00c8ff,#00bcff,#00b1ff,#00a5ff,#0099ff,#0092ff,#008cff,#0086ff,#0080ff,#2080ff,#2d87ff,#328aff,#3d90ff,#398eff,#2784ff,#398fff,#4897ff,#569fff,#5ea4ff,#66a8ff,#78b2ff,#83b8ff,#8abcff,#8cbdff,#8fbfff,#94c2ff,#a6cdff,#bcd9ff,#a0c9ff,#a6ccff,#c8e0ff,#c4ddff,#c2dcff,#c8e0ff,#c4ddff,#bcd9ff,#cfe4ff,#cfe3ff,#b7d6ff,#bbd8ff,#bedaff,#bdd9ff,#bfdbff,#c2dcff,#cee3ff,#d0e4ff,#cce2ff,#d6e7ff,#dcebff)"></i><i style="height:3px;background:linear-gradient(90deg,#ffff00,#f6ff09,#ffed00,#ffb700,#ff9c00,#ffb700,#ffc000,#ffad00,#ffb700,#ffbc00,#ff9a00,#ff9500,#ffb600,#ffb500,#ffaf00,#ffc700,#ffc900,#ffb700,#ffd500,#fffd00,#f3ff0c,#dcff23,#c0ff40,#a9ff57,#8fff71,#74ff8c,#58ffa8,#42ffbd,#30ffcf,#20ffdf,#14ffec,#0afff6,#03fffc,#00faff,#00f6ff,#00f1ff,#00edff,#00e9ff,#00e1ff,#00d7ff,#00cdff,#00c3ff,#00b9ff,#00afff,#00a4ff,#0099ff,#008eff,#0088ff,#0082ff,#007fff,#007cff,#318aff,#4193ff,#4796ff,#4d9aff,#4e9aff,#4897ff,#58a0ff,#64a7ff,#6fadff,#74b0ff,#79b2ff,#87bbff,#90c0ff,#96c3ff,#95c3ff,#97c4ff,#9cc7ff,#a9ceff,#b8d6ff,#a4cbff,#a8ceff,#c1dbff,#c0dbff 365px 370px,#bfdaff,#bedaff 380px 385px,#d1e5ff 390px 395px,#bdd9ff,#c7dfff,#cde2ff,#c7dfff 415px 420px,#c6dfff,#cbe1ff,#cfe3ff,#d4e7ff,#d8e8ff,#d9e9ff)"></i><i style="height:3px;background:linear-gradient(90deg,#c6ff3a,#bbff44,#d7ff28,#ffee00,#ffd400,#ffef00,#fff900,#ffe600,#ffef00,#fff300,#ffd000,#ffcb00,#ffeb00,#ffe900,#ffe100,#fff700 75px 80px,#ffe300,#fffe00,#d7ff28,#cbff35,#b5ff4b,#9aff66,#84ff7c,#6aff96,#50ffb0,#36ffca,#25ffda,#19ffe6,#0efff1,#05fffa,#00fdff,#00f5ff,#00edff,#00e8ff,#00e3ff,#00deff,#00d8ff,#00d1ff,#00c8ff,#00bfff,#00b6ff,#00adff,#00a3ff,#0099ff,#008fff,#0085ff,#0080ff,#007dff,#007bff,#0079ff,#4092ff,#529cff,#57a0ff,#5aa1ff,#5ea4ff,#65a8ff,#72afff,#7cb4ff,#84b9ff,#86baff,#88bbff,#93c2ff,#9bc6ff,#a0c9ff,#9dc7ff 325px 330px,#a3caff,#abcfff,#b3d3ff,#a8cdff,#aacfff,#b8d6ff,#bcd9ff,#bddaff,#b5d5ff,#b9d7ff,#bfdbff,#d2e5ff,#d3e6ff,#c2dcff,#d2e5ff,#dcebff,#d1e5ff,#cee3ff,#cbe1ff,#c9e0ff,#cde2ff,#dcebff,#daeaff,#d7e8ff)"></i><i style="height:3px;background:linear-gradient(90deg,#bdff43,#b2ff4d,#ceff31,#fff600,#ffdc00,#fff800,#fcff03,#ffef00,#fff700,#fffb00,#ffd900,#ffd300,#fff400,#fff300,#ffee00,#f7ff08,#f5ff0a,#fff500,#ebff14,#c2ff3d,#b7ff48,#a2ff5e,#87ff79,#71ff8f,#58ffa8,#3effc1,#25ffda,#17ffe8,#0efff1,#06fff9,#00fdff,#00f5ff,#00edff,#00e6ff,#00e1ff,#00dbff,#00d6ff,#00d0ff,#00c9ff,#00c1ff,#00b8ff,#00b0ff,#00a7ff,#009eff,#0094ff,#008bff,#0081ff,#007eff,#007cff,#007aff,#0077ff,#4796ff,#58a0ff,#5ca2ff,#6babff,#72afff,#77b2ff,#7eb6ff,#85baff,#8bbdff,#88bbff,#82b8ff,#8fbfff,#9ac5ff,#a8cdff,#99c5ff,#93c2ff,#a1caff,#aed1ff,#bad8ff,#b8d6ff 350px 355px,#b7d6ff,#c1dcff,#c7dfff,#bad8ff,#bbd8ff,#bcd9ff,#cfe3ff,#d2e5ff,#cae1ff,#d3e6ff,#d8e8ff,#c8e0ff,#c8dfff,#c9e0ff 425px 430px,#cce2ff,#d2e5ff,#d4e7ff,#d6e7ff)"></i><i style="height:3px;background:linear-gradient(90deg,#bfff41,#b4ff4b,#d0ff2f,#fff400,#ffda00,#fff600,#feff01,#ffed00,#fff500,#fff900,#ffd700,#ffd100,#fff200,#fff100,#ffea00,#fcff03,#fbff04,#ffef00,#f2ff0e,#c9ff37,#bdff42,#a8ff58,#8dff73,#77ff89,#5dffa2,#44ffbc,#2affd5,#1bffe4,#12ffed,#08fff7,#01fffe,#00f7ff,#00f0ff,#00e8ff,#00e3ff,#00deff,#00d8ff,#00d3ff,#00cbff,#00c3ff,#00bbff,#00b2ff,#00a9ff,#009fff,#0096ff,#008cff,#0083ff,#007fff,#007cff,#007aff,#0078ff,#4595ff,#559eff,#569fff,#71aeff,#7bb4ff,#7eb6ff,#81b7ff,#85baff,#89bcff,#81b7ff,#75b1ff,#84b9ff,#93c2ff,#abcfff,#91c0ff,#85baff,#9cc7ff,#add0ff,#bedaff,#c5deff,#c3ddff,#b4d4ff,#c5deff,#cee3ff,#bedaff,#bbd8ff,#b8d7ff,#cae1ff,#d0e4ff,#d1e5ff,#d3e6ff,#d2e5ff,#bedaff,#c1dbff,#c7dfff,#c9e0ff,#cae1ff,#c7dfff,#cfe3ff,#d5e7ff)"></i><i style="height:3px;background:linear-gradient(90deg,#d5ff2a,#cbff35,#e7ff18,#ffdf00,#ffc500,#ffe000,#ffea00,#ffd700,#ffe000,#ffe400,#ffc200,#ffbd00,#ffdd00,#ffda00,#ffd200,#ffe700 75px 80px,#ffd200,#ffee00,#e8ff17,#dbff24,#c5ff3a,#aaff56,#93ff6d,#7aff86,#5fffa1,#44ffbc,#31ffce,#23ffdc,#16ffe9,#0bfff4,#03fffc,#00fbff,#00f2ff,#00eeff,#00e9ff,#00e5ff,#00dfff,#00d7ff,#00ceff,#00c5ff,#00bcff,#00b2ff,#00a8ff,#009eff,#0093ff,#0089ff,#0083ff,#007fff,#007dff,#007aff,#388eff,#4696ff,#549eff,#5fa4ff,#64a7ff,#67a9ff,#6babff,#70aeff,#73afff,#72aeff,#6fadff,#87bbff,#93c2ff,#9dc7ff,#9ac6ff,#9ac5ff,#9cc7ff,#a9ceff,#b7d6ff 345px 350px,#bad8ff,#bedaff,#c6deff,#c9e0ff,#bad8ff,#b8d7ff,#b7d6ff,#c6dfff,#cce2ff,#cee3ff,#d0e4ff 405px 410px,#c7dfff,#c9e0ff,#cde2ff,#c0dbff,#bfdbff,#c7dfff,#d4e6ff,#dcebff)"></i><i style="height:3px;background:linear-gradient(90deg,#ffc000,#ffc800,#ffad00,#ff7600,#ff5a00,#ff7400,#ff7d00,#ff6a00,#ff7500,#ff7b00,#ff5a00,#ff5600,#ff7a00,#ff7d00 65px 70px,#ff9b00,#ffa400,#ff9800,#ffbb00,#ffe600,#fff500,#f2ff0d,#d5ff2a,#beff41,#a3ff5c,#88ff78,#6bff94,#53ffac,#3dffc2,#2affd5,#1cffe4,#10ffef,#09fff6,#02fffd,#00fdff,#00f9ff,#00f5ff,#00f1ff,#00e9ff,#00e0ff,#00d5ff,#00cbff,#00c0ff,#00b5ff,#00aaff,#009eff,#0093ff,#008cff,#0087ff,#0081ff,#007eff,#2684ff,#318aff,#4b99ff,#4696ff 270px 275px,#4998ff,#4f9bff,#559eff,#569fff,#5da3ff,#65a7ff,#85b9ff,#90c0ff,#8dbeff,#a1c9ff,#acd0ff,#9ac6ff,#a3caff,#add0ff,#a8cdff,#b0d2ff,#c6dfff,#c5deff,#c3ddff,#b5d5ff 375px 385px,#c1dcff,#c7dfff,#cae1ff,#cce2ff,#cee3ff,#d0e4ff,#d2e5ff,#d3e6ff,#b7d6ff,#b5d5ff,#c7dfff,#d8e9ff,#e3efff)"></i><i style="height:3px;background:linear-gradient(90deg,#ff4a00,#ff5100,#ff3500,#fb0000,#de0000,#f70000,#ff0000,#ec0000,#f80000,#ff0100,#e10000,#e00000,#ff0800,#ff1100,#ff1b00,#ff4600,#ff5900,#ff5800,#ff8300,#ffb400,#ffc600,#ffdd00,#fff900,#edff13,#d0ff2f,#b3ff4d,#95ff6b,#78ff88,#5affa6,#41ffbf,#2dffd2,#1effe2,#15ffea,#0dfff2,#0afff5,#08fff7,#05fffa,#02fffd,#00faff,#00f1ff,#00e7ff,#00dbff,#00cfff,#00c3ff,#00b7ff,#00aaff,#009dff,#0097ff,#0091ff,#008bff,#0085ff,#157aff,#1c7eff,#2784ff,#2885ff,#2c87ff,#358cff,#3e91ff,#4796ff,#4c99ff,#549eff,#5da3ff,#6eadff,#79b2ff,#7db5ff,#88bbff,#90c0ff,#93c1ff,#9bc6ff,#a2caff,#add0ff,#b4d4ff,#bcd9ff,#bedaff,#bdd9ff,#b4d4ff,#b5d5ff,#b6d5ff,#c0dbff,#c4ddff,#c2dcff,#c7dfff,#cbe1ff 410px 415px,#cee3ff,#d2e5ff,#c1dcff,#c0dbff,#cde3ff,#d5e7ff,#dbeaff)"></i><i style="height:3px;background:linear-gradient(90deg,#ff3100,#ff3800,#ff1b00,#e20000,#c40000,#dd0000,#e40000,#d20000,#de0000,#e70000,#c80000,#c70000,#ed0000,#f40000,#fb0000,#ff2300,#ff3200,#ff3000,#ff5a00,#ff8c00,#ffa000,#ffb800,#ffd500,#ffed00,#f5ff0a,#d6ff29,#b7ff49,#95ff6a,#72ff8e,#53ffac,#3cffc3,#29ffd6,#1fffe0,#16ffe9,#14ffeb,#11ffee,#0ffff1,#0cfff3,#06fff9,#00feff,#00f3ff,#00e8ff,#00dbff,#00ceff,#00c1ff,#00b4ff,#00a6ff,#009fff,#0099ff,#0093ff,#008dff,#0772ff,#0a74ff,#0772ff,#0e76ff,#157aff,#2482ff,#318aff,#3d90ff,#4595ff,#4e9aff,#58a0ff,#5aa1ff,#63a6ff,#6eadff,#70aeff,#76b1ff,#8dbeff,#94c2ff,#98c4ff,#b2d3ff,#bad7ff,#b3d4ff,#b6d6ff,#b8d6ff,#b4d4ff,#b5d5ff,#b7d6ff,#bfdbff,#c1dcff,#bbd8ff,#c3ddff,#c9e0ff,#c6dfff,#cbe1ff,#d1e5ff,#cbe1ff,#cce2ff,#d4e6ff,#d2e5ff 445px 450px)"></i><i style="height:3px;background:linear-gradient(90deg,#ff2e00,#ff3500,#ff1800,#de0000,#c10000,#da0000,#e10000,#ce0000,#db0000,#e30000,#c50000,#c40000,#e90000,#ed0000,#f10000,#ff1500,#ff2200,#ff1d00,#ff4500,#ff7700,#ff8c00,#ffa400,#ffc100,#ffda00,#fff600,#e9ff16,#c9ff37,#a5ff5b,#7eff82,#5dffa3,#44ffbc,#2fffd0,#25ffda,#1bffe4,#19ffe6,#16ffe9,#14ffec,#11ffee,#0bfff4,#04fffb,#00f9ff,#00eeff,#00e2ff,#00d4ff,#00c6ff,#00b9ff,#00abff,#00a4ff,#009dff,#0097ff,#0091ff,#006eff,#0470ff,#0571ff,#0f76ff,#157aff,#1f80ff,#2a86ff,#348bff,#3c90ff,#4796ff,#539dff,#60a5ff,#6aaaff,#6eacff,#71aeff,#77b1ff,#81b7ff,#8ebeff,#9ac5ff,#a3cbff,#abcfff,#b1d2ff,#aed1ff,#add0ff,#b3d4ff,#b5d5ff,#b7d6ff,#bddaff,#bfdbff,#bcd9ff,#c1dbff,#c5deff,#cde2ff,#cce2ff,#c9e0ff,#cee3ff,#d0e4ff,#d1e5ff,#cde2ff,#cbe1ff)"></i><i style="height:3px;background:linear-gradient(90deg,#ff2e00,#ff3500,#ff1900,#df0000,#c10000,#da0000,#e20000,#cf0000,#db0000,#e40000,#c50000,#c40000,#ea0000,#ee0000,#f30000,#ff1800,#ff2500,#ff2000,#ff4900,#ff7b00,#ff9000,#ffa800,#ffc500,#ffde00,#fff900,#e5ff1a,#c5ff3a,#a2ff5e,#7cff84,#5bffa5,#42ffbd,#2effd2,#24ffdc,#1affe5,#18ffe7,#15ffea,#13ffed,#10ffef,#0afff5,#03fffc,#00f8ff,#00edff,#00e0ff,#00d3ff,#00c5ff,#00b8ff,#00aaff,#00a3ff,#009dff,#0096ff,#0090ff,#026fff,#0873ff,#0e76ff,#1a7dff,#1f80ff,#2683ff,#2d88ff,#358cff,#3c90ff,#4897ff,#569fff,#6dacff,#77b2ff,#73afff,#77b2ff,#7cb4ff,#79b3ff,#8bbdff,#9fc8ff,#97c4ff,#9ec8ff,#b1d2ff,#a8cdff,#a3cbff,#b4d4ff,#b6d6ff,#b7d6ff,#bdd9ff,#bfdbff,#bedaff,#bfdbff,#c3ddff,#d4e7ff,#cee3ff,#c2dcff,#d3e6ff,#d6e7ff,#cfe4ff,#c8e0ff,#c5deff)"></i><i style="height:3px;background:linear-gradient(90deg,#ff3600,#ff3d00,#ff2000,#e60000,#c90000,#e20000,#e90000,#d70000,#e30000,#eb0000,#cd0000,#cc0000,#f20000,#fa0000,#ff0400,#ff2d00,#ff3f00,#ff3d00,#ff6800,#ff9a00,#ffad00,#ffc500,#ffe100,#fff900,#e8ff17,#caff36,#abff55,#8bff75,#69ff96,#4dffb3,#37ffc8,#25ffda,#1cffe3,#13ffec,#10ffef,#0efff1,#0bfff4,#09fff7,#03fffc,#00f9ff,#00eeff,#00e4ff,#00d7ff,#00caff,#00bdff,#00b0ff,#00a3ff,#009cff,#0096ff,#0090ff,#008aff,#0d76ff,#167aff,#1a7dff,#2382ff,#2985ff,#348bff,#338bff,#378dff,#4394ff,#519cff,#61a5ff,#70aeff,#7ab3ff,#7db5ff,#81b7ff,#86baff,#8abdff,#93c2ff,#9bc6ff,#99c5ff,#a0c9ff,#b0d2ff,#acd0ff,#aacfff,#b8d7ff,#b7d6ff,#b2d3ff,#bedaff,#c1dcff,#bdd9ff,#bfdbff,#c3ddff,#d3e6ff 415px 420px,#d1e5ff,#d6e7ff,#d7e8ff,#d5e7ff,#d1e4ff,#cee3ff)"></i><i style="height:3px;background:linear-gradient(90deg,#ff7400,#ff7b00,#ff5f00,#ff2700,#ff0a00,#ff2400,#ff2c00,#ff1900,#ff2500,#ff2c00,#ff0c00,#ff0a00,#ff3000,#ff3800,#ff4000,#ff6700,#ff7700,#ff7400,#ff9c00,#ffcc00,#ffdc00,#fff300,#efff10,#d7ff29,#bbff44,#9fff61,#82ff7e,#67ff99,#4dffb3,#36ffc9,#25ffda,#17ffe8,#0ffff0,#08fff7,#05fffa,#02fffd,#00feff,#00faff,#00f2ff,#00e9ff,#00deff,#00d3ff,#00c8ff,#00bcff,#00b1ff,#00a5ff,#0098ff,#0092ff,#008cff,#0086ff,#0080ff,#2080ff,#2b87ff,#2f89ff,#358cff,#3b90ff,#4998ff,#4093ff,#4092ff,#4f9bff,#60a4ff,#71aeff,#77b2ff,#80b7ff,#8bbdff,#8dbeff,#92c1ff,#9fc8ff,#9ec8ff,#99c5ff,#9cc7ff,#a3cbff,#b1d3ff 360px 365px,#b2d3ff,#bedaff,#b8d6ff,#aed1ff,#bfdbff,#c3ddff,#bdd9ff,#c0dbff,#c3ddff,#d2e5ff,#d9e9ff,#e1eeff,#d9e9ff,#d8e9ff,#dbebff,#daeaff,#d8e9ff)"></i><i style="height:3px;background:linear-gradient(90deg,#f6ff09,#ecff13,#fff700,#ffc000,#ffa500,#ffc000,#ffca00,#ffb700,#ffc000,#ffc500,#ffa300,#ff9e00,#ffbf00,#ffbe00,#ffb700,#ffce00,#ffcf00,#ffbc00,#ffda00,#fdff02,#efff10,#d8ff27,#bcff44,#a5ff5b,#8bff75,#70ff90,#54ffab,#3fffc0,#2effd1,#1effe1,#12ffed,#08fff7,#02fffd,#00f9ff,#00f4ff,#00f0ff,#00ecff,#00e7ff,#00dfff,#00d5ff,#00ccff,#00c2ff,#00b8ff,#00adff,#00a3ff,#0098ff,#008dff,#0087ff,#0081ff,#007eff,#007cff,#338bff,#4394ff,#4b99ff,#4e9aff,#519cff,#549eff,#58a0ff,#5ea3ff,#66a8ff,#72afff,#7fb6ff,#7bb4ff,#81b7ff,#8cbdff,#92c1ff,#98c4ff,#9fc8ff,#a1caff,#a2caff,#a5ccff,#a6ccff,#a4cbff,#b7d6ff,#c3ddff,#c0dbff,#bcd9ff,#b7d6ff,#bdd9ff,#c2dcff,#cbe1ff,#cae1ff 405px 410px,#cde2ff,#d6e8ff,#e3efff,#d4e6ff,#cee3ff,#c9e0ff,#d4e6ff,#dcebff)"></i><i style="height:3px;background:linear-gradient(90deg,#c3ff3d,#b8ff47,#d4ff2b,#fff100,#ffd600,#fff200,#fffc00,#ffe900,#fff200,#fff500,#ffd300,#ffcd00,#ffee00,#ffec00,#ffe500,#fffc00 75px 80px,#ffe700,#faff05,#d2ff2e,#c6ff3a,#b0ff4f,#95ff6b,#7fff81,#65ff9a,#4bffb4,#31ffce,#22ffde,#17ffe9,#0cfff3,#04fffb,#00fbff,#00f3ff,#00ebff,#00e6ff,#00e1ff,#00dcff,#00d6ff,#00cfff,#00c6ff,#00beff,#00b5ff,#00acff,#00a2ff,#0098ff,#008eff,#0084ff,#007fff,#007dff,#007bff,#0078ff,#4193ff,#559fff,#62a6ff,#61a5ff,#60a5ff,#59a1ff,#6babff,#77b1ff,#78b2ff,#80b7ff,#89bcff,#7bb4ff,#7eb6ff,#8abcff,#94c2ff,#9cc6ff,#9cc7ff,#a3caff,#a9ceff,#acd0ff,#a8ceff,#95c3ff,#bdd9ff,#d4e6ff,#c1dcff,#c0dbff 380px 385px,#bad8ff,#c1dcff,#d9e9ff,#d4e6ff,#d0e4ff,#c7dfff,#d3e6ff,#e5f0ff,#cfe3ff,#c4ddff,#b6d5ff,#cee3ff,#dfedff)"></i><i style="height:3px;background:linear-gradient(90deg,#bcff43,#b2ff4e,#ceff32,#fff700,#ffdc00,#fff800,#fbff04,#ffef00,#fff800,#fffb00,#ffd900,#ffd300,#fff400 60px 65px,#ffee00,#f7ff08,#f4ff0b,#fff500,#eaff15,#c2ff3e,#b6ff49,#a1ff5f,#86ff7a,#70ff90,#57ffa9,#3effc2,#24ffdb,#16ffe9,#0efff1,#05fffa,#00fcff,#00f5ff,#00edff,#00e6ff,#00e0ff,#00dbff,#00d5ff,#00d0ff,#00c8ff,#00c0ff,#00b8ff,#00b0ff,#00a7ff,#009eff,#0094ff,#008bff,#0081ff,#007eff,#007cff,#0079ff,#0077ff,#4796ff,#5fa4ff,#6cabff,#6fadff,#6cabff,#5da3ff,#6cabff,#77b2ff,#78b2ff,#81b7ff,#8abdff,#8dbeff,#8fbfff,#8dbeff,#96c3ff,#9ec8ff,#aacfff 335px 340px,#a8ceff,#b9d7ff,#b7d6ff,#a1c9ff,#bdd9ff,#cde2ff,#bbd8ff,#bfdbff,#c7dfff,#bbd8ff,#bedaff,#cee3ff,#cce2ff,#cae1ff,#c7dfff,#cee3ff,#d6e8ff,#cbe1ff,#c6deff,#bfdaff,#d6e8ff,#e6f1ff)"></i><i style="height:3px;background:linear-gradient(90deg,#c2ff3d,#b8ff48,#d3ff2c,#fff100,#ffd700,#fff200,#fffd00,#ffea00,#fff200,#fff600,#ffd300,#ffce00,#ffee00,#ffed00,#ffe500,#fffc00,#fffd00,#ffe800,#f9ff06,#d1ff2f,#c5ff3b,#afff50,#94ff6c,#7eff82,#65ff9b,#4bffb5,#31ffcf,#21ffde,#16ffe9,#0cfff3,#03fffc,#00fbff,#00f2ff,#00ebff,#00e6ff,#00e1ff,#00dbff,#00d6ff,#00ceff,#00c6ff,#00bdff,#00b5ff,#00abff,#00a2ff,#0098ff,#008eff,#0084ff,#007fff,#007dff,#007bff,#0078ff,#4394ff,#5ca2ff,#69aaff,#70aeff,#6babff,#559eff,#62a6ff,#6cabff,#6eadff,#78b2ff,#83b8ff,#97c4ff,#99c5ff,#89bcff,#92c1ff,#9bc6ff,#b3d4ff,#aed1ff,#a4cbff,#c3ddff,#c4ddff,#aacfff,#bbd8ff,#c3ddff,#b3d3ff,#bcd9ff,#cbe2ff,#bbd8ff,#bad8ff,#c2dcff 400px 410px,#c7dfff 415px 440px,#deecff,#edf4ff)"></i><i style="height:3px;background:linear-gradient(90deg,#f2ff0d,#e8ff17,#fffa00,#ffc400,#ffa900,#ffc400,#ffce00,#ffbb00,#ffc400,#ffc800,#ffa600,#ffa200,#ffc200,#ffc100,#ffb900,#ffd100 75px 80px,#ffbe00,#ffdb00,#fbff04,#edff12,#d6ff29,#baff45,#a4ff5c,#8aff76,#6eff91,#53ffad,#3effc1,#2dffd2,#1effe2,#11ffee,#08fff7,#02fffd,#00f8ff,#00f4ff,#00efff,#00ebff,#00e7ff,#00dfff,#00d5ff,#00cbff,#00c1ff,#00b8ff,#00adff,#00a2ff,#0097ff,#008dff,#0087ff,#0081ff,#007eff,#007cff,#348cff,#4b99ff,#559eff,#5ca3ff,#58a0ff,#4595ff,#559eff,#60a5ff,#64a7ff,#6eacff,#78b2ff,#8dbeff,#8fbfff,#7fb6ff,#90c0ff,#9fc8ff,#b3d4ff,#add0ff,#a0c9ff,#b9d7ff,#bbd8ff,#a8cdff,#b3d3ff,#b9d7ff,#b5d5ff,#bad7ff,#c0dbff,#b9d7ff,#bbd8ff,#c6deff,#c8dfff,#cae1ff,#cfe4ff,#cfe3ff,#cce2ff,#cee3ff,#d0e4ff,#d2e5ff,#ddebff,#e2eeff)"></i><i style="height:3px;background:linear-gradient(90deg,#ff7800,#ff8000,#ff6400,#ff2b00,#ff0f00,#ff2800,#ff3100,#ff1e00,#ff2900,#ff3000,#ff1100,#ff0e00,#ff3400,#ff3c00,#ff4300,#ff6a00,#ff7a00,#ff7600,#ff9e00,#ffcd00,#ffde00,#fff400,#edff12,#d5ff2a,#b9ff46,#9dff63,#81ff7f,#65ff9a,#4cffb4,#35ffca,#24ffdb,#17ffe9,#0ffff0,#07fff8,#05fffa,#02fffd,#00feff,#00f9ff,#00f2ff,#00e9ff,#00deff,#00d3ff,#00c7ff,#00bcff,#00b0ff,#00a4ff,#0098ff,#0091ff,#008cff,#0086ff,#0080ff,#2181ff,#358cff,#3c90ff,#4394ff,#3f92ff,#2f89ff,#4293ff,#4f9bff,#559eff,#5fa4ff,#69aaff,#7fb6ff,#83b8ff,#71aeff,#8cbeff,#a1c9ff,#b2d3ff,#a9ceff,#9ac5ff,#aed1ff,#b1d2ff,#a4cbff,#a9ceff,#aed1ff,#b6d5ff 375px 380px,#b4d4ff,#b6d5ff,#bcd9ff,#c9e0ff,#cde2ff,#d1e4ff,#d8e8ff,#d5e7ff,#d1e5ff,#d5e7ff,#d8e9ff,#dcebff,#dbeaff,#d6e8ff)"></i><i style="height:3px;background:linear-gradient(90deg,#ff3700,#ff3e00,#ff2100,#e70000,#ca0000,#e20000,#ea0000,#d70000,#e40000,#ec0000,#ce0000,#cc0000,#f30000,#fb0000,#ff0500,#ff2e00,#ff4000,#ff3f00,#ff6a00,#ff9c00,#ffaf00,#ffc600,#ffe300,#fffa00,#e7ff18,#c8ff37,#aaff56,#8aff76,#69ff97,#4cffb3,#36ffc9,#25ffdb,#1bffe4,#13ffec,#10ffef,#0dfff2,#0bfff4,#08fff7,#03fffc,#00f8ff,#00eeff,#00e3ff,#00d6ff,#00caff,#00bdff,#00b0ff,#00a3ff,#009cff,#0096ff,#0090ff,#008aff,#0e76ff,#1c7eff,#2382ff,#2181ff,#2482ff,#2d88ff,#388eff,#4394ff,#519cff,#579fff,#5da3ff,#6cabff,#74b0ff,#73afff,#84b9ff,#92c1ff,#99c5ff,#9cc7ff,#9dc7ff,#a8cdff,#add0ff,#aed1ff,#acd0ff 365px 370px,#b6d5ff,#b3d3ff,#acd0ff,#b9d7ff,#bfdaff,#c1dcff,#c5deff,#c9e0ff,#d5e7ff,#d1e5ff,#c8e0ff,#cde2ff,#cee3ff,#cfe3ff 440px 445px,#cee3ff)"></i><i style="height:3px;background:linear-gradient(90deg,#ff2f00,#ff3500,#ff1900,#df0000,#c10000,#da0000,#e20000,#cf0000,#dc0000,#e40000,#c60000,#c40000,#ea0000,#ee0000,#f30000,#ff1800,#ff2500,#ff2100,#ff4a00,#ff7c00,#ff9000,#ffa800,#ffc600,#ffde00,#fffa00,#e5ff1b,#c5ff3b,#a1ff5f,#7bff85,#5bffa5,#42ffbd,#2effd2,#24ffdc,#1affe5,#18ffe8,#15ffea,#12ffed,#10ffef,#0afff5,#03fffc,#00f8ff,#00ecff,#00e0ff,#00d3ff,#00c5ff,#00b8ff,#00aaff,#00a3ff,#009cff,#0096ff,#0090ff,#026fff,#0a74ff,#1177ff,#0772ff,#1077ff,#328aff,#368dff,#3e91ff,#539dff,#559eff 300px 305px,#5ea3ff,#6aaaff,#78b2ff,#7fb6ff,#85baff,#84b9ff,#92c1ff,#a1caff,#a4cbff,#abcfff,#bad8ff,#b0d2ff,#abcfff,#b7d6ff,#b0d2ff,#a5ccff,#bdd9ff,#c2dcff,#bad7ff,#bdd9ff,#c1dcff,#d4e6ff,#cde3ff,#c1dbff,#c5deff 430px 435px,#c1dcff,#c3ddff,#c5deff)"></i><i style="height:3px;background:linear-gradient(90deg,#ff2e00,#ff3500,#ff1800,#de0000,#c10000,#da0000,#e10000,#ce0000,#db0000,#e30000,#c50000,#c40000,#e90000,#ed0000,#f10000,#ff1500,#ff2100,#ff1d00,#ff4500,#ff7700,#ff8b00,#ffa400,#ffc100,#ffda00,#fff600,#e9ff16,#c9ff36,#a5ff5b,#7eff82,#5dffa3,#44ffbc,#2fffd0,#25ffda,#1bffe4,#19ffe6,#16ffe9,#14ffeb,#11ffee,#0bfff4,#04fffb,#00f9ff,#00eeff,#00e2ff,#00d4ff,#00c7ff,#00b9ff,#00abff,#00a4ff,#009dff,#0097ff,#0091ff,#006eff,#0672ff,#0873ff,#0c75ff,#187bff,#358cff 280px 285px,#388eff,#4193ff,#4997ff,#519cff,#69a9ff,#75b0ff,#79b2ff,#81b7ff,#88bbff,#89bcff,#95c2ff,#a1c9ff,#a2caff,#a9ceff,#b6d5ff,#b2d3ff,#b0d2ff 370px 375px,#afd1ff,#add0ff,#bcd9ff,#c3ddff,#c5deff,#c6deff,#c8dfff,#d0e4ff,#cbe2ff,#c3ddff,#cfe4ff,#d0e4ff,#c6deff,#c3ddff,#c2dcff)"></i><i style="height:3px;background:linear-gradient(90deg,#ff3100,#ff3800,#ff1b00,#e10000,#c40000,#dd0000,#e40000,#d20000,#de0000,#e70000,#c80000,#c70000,#ed0000,#f40000,#fb0000,#ff2200,#ff3200,#ff3000,#ff5a00,#ff8c00,#ffa000,#ffb800,#ffd500,#ffed00,#f5ff0a,#d6ff29,#b7ff48,#95ff6a,#72ff8e,#53ffac,#3cffc3,#29ffd6,#1fffe0,#16ffe9,#14ffeb,#11ffee,#0ffff1,#0cfff3,#06fff9,#00feff,#00f3ff,#00e8ff,#00dbff,#00ceff,#00c1ff,#00b4ff,#00a6ff,#009fff,#0099ff,#0093ff,#008dff,#0873ff,#0e76ff,#0c75ff,#1d7fff,#2b86ff,#4494ff,#3e91ff,#3d91ff,#388eff,#4595ff,#569fff,#7bb4ff,#86baff,#7fb6ff,#87bbff,#8fbfff,#92c1ff,#9bc6ff,#a3cbff 345px 350px,#a8ceff,#b3d4ff,#b6d5ff 365px 370px,#abcfff,#afd1ff,#b7d6ff,#bdd9ff,#c4deff,#d2e5ff,#d0e4ff,#cfe3ff,#cee3ff,#cae1ff,#c5deff,#daeaff,#dbebff,#cbe1ff,#c3ddff,#c0dbff)"></i><i style="height:3px;background:linear-gradient(90deg,#ff4b00,#ff5200,#ff3600,#fc0000,#df0000,#f80000,#ff0100,#ed0000,#f90000,#ff0200,#e20000,#e10000,#ff0900,#ff1200,#ff1c00,#ff4700,#ff5a00,#ff5900,#ff8400,#ffb500,#ffc700,#ffde00,#fffa00,#ecff13,#cfff30,#b2ff4e,#95ff6b,#77ff89,#5affa6,#40ffbf,#2dffd2,#1dffe2,#15ffea,#0dfff2,#0afff5,#07fff8,#05fffa,#02fffd,#00faff,#00f0ff,#00e6ff,#00dbff,#00cfff,#00c3ff,#00b6ff,#00aaff,#009dff,#0097ff,#0091ff,#008bff,#0085ff,#167bff,#2080ff,#2a86ff,#3089ff,#388eff,#4a98ff,#4e9bff,#539dff,#559eff,#5aa1ff,#60a4ff,#7fb6ff,#87bbff,#79b3ff,#87bbff,#92c1ff,#94c2ff,#9bc6ff,#a1c9ff,#add0ff,#b0d2ff,#accfff,#b2d3ff,#b6d5ff,#b2d3ff,#b4d4ff,#b7d6ff,#bdd9ff,#c2dcff,#cae1ff,#cfe3ff,#d2e5ff,#cce2ff,#c9e0ff,#c5deff,#d6e8ff,#d7e8ff,#c8e0ff,#c9e0ff,#cae1ff)"></i><i style="height:3px;background:linear-gradient(90deg,#ffc600,#ffce00,#ffb300,#ff7c00,#ff6000,#ff7b00,#ff8400,#ff7100,#ff7b00,#ff8100,#ff6000,#ff5c00,#ff8000,#ff8200 65px 70px,#ffa000,#ffa700,#ff9b00,#ffbd00,#ffe800,#fff700,#f0ff0f,#d4ff2c,#bcff43,#a1ff5e,#86ff7a,#6aff96,#52ffae,#3cffc3,#29ffd6,#1bffe4,#0ffff0,#08fff7,#01fffe,#00fdff,#00f8ff,#00f4ff,#00f0ff,#00e9ff,#00dfff,#00d4ff,#00caff,#00bfff,#00b5ff,#00a9ff,#009eff,#0092ff,#008cff,#0086ff,#0081ff,#007eff,#2885ff,#378dff,#4d9aff,#4796ff,#4a98ff,#559eff,#62a6ff,#6dacff,#75b0ff,#72afff,#6dacff,#87baff,#8abcff,#75b0ff,#89bcff,#98c4ff 330px 335px,#9cc6ff,#9fc8ff,#b7d6ff,#b9d7ff,#a5ccff,#afd1ff,#b5d5ff,#bad8ff,#b9d7ff,#b7d6ff,#bdd9ff,#c1dbff,#c3ddff,#cee3ff,#d5e7ff,#cbe1ff,#c8e0ff,#c4deff,#d3e6ff 430px 435px,#c6deff,#cfe3ff,#d4e7ff)"></i><i style="height:3px;background:linear-gradient(90deg,#d2ff2d,#c8ff38,#e4ff1c,#ffe200,#ffc800,#ffe300,#ffed00,#ffda00,#ffe300,#ffe700,#ffc500,#ffbf00,#ffdf00,#ffdd00,#ffd400,#ffea00,#ffe900,#ffd500,#fff000,#e6ff1a,#d9ff26,#c3ff3d,#a7ff59,#91ff6f,#77ff89,#5dffa3,#42ffbe,#2fffd0,#21ffde,#15ffea,#0afff5,#03fffd,#00faff,#00f1ff,#00edff,#00e8ff,#00e4ff,#00deff,#00d6ff,#00cdff,#00c4ff,#00bbff,#00b2ff,#00a7ff,#009dff,#0093ff,#0088ff,#0082ff,#007fff,#007cff,#007aff,#3b8fff,#4e9aff,#539dff,#59a1ff,#5da3ff,#60a4ff,#68a9ff,#70adff,#75b0ff,#77b1ff,#78b2ff,#8dbeff,#93c2ff,#8dbeff,#97c4ff,#9ec8ff,#9fc9ff,#a4cbff,#a7cdff,#b6d5ff,#b7d6ff,#abcfff,#b5d5ff,#bbd8ff 370px 375px,#bcd9ff 380px 385px,#bbd8ff,#bfdbff,#c9e0ff,#cfe4ff,#d3e6ff,#d1e4ff,#cce2ff,#c5deff,#cee3ff,#d0e4ff,#cde2ff,#cbe1ff 445px 450px)"></i><i style="height:3px;background:linear-gradient(90deg,#beff41,#b4ff4c,#cfff30,#fff500,#ffdb00,#fff600,#fdff02,#ffee00,#fff600,#fffa00,#ffd700,#ffd200,#fff200 60px 65px,#ffeb00,#fbff04,#f9ff06,#fff100,#f0ff0f,#c7ff38,#bcff44,#a6ff59,#8cff74,#76ff8a,#5cffa4,#42ffbd,#29ffd6,#1affe5,#11ffee,#08fff7,#00ffff,#00f7ff,#00efff,#00e8ff,#00e2ff,#00ddff,#00d8ff,#00d2ff,#00cbff,#00c2ff,#00baff,#00b2ff,#00a9ff,#009fff,#0095ff,#008cff,#0082ff,#007eff,#007cff,#007aff,#0078ff,#4797ff,#5da3ff,#539dff,#64a7ff,#68a9ff,#63a6ff,#67a8ff,#6babff,#6eadff,#76b1ff,#7eb6ff,#8ebfff,#99c5ff,#a2caff,#a1c9ff,#a2caff,#a4cbff,#a9ceff,#aed1ff,#b3d4ff,#b5d5ff,#b0d2ff,#bad8ff,#c0dbff,#bbd8ff,#bdd9ff,#c0dbff,#b9d7ff,#bdd9ff,#cee3ff,#d0e4ff,#d1e5ff,#d5e7ff,#cfe3ff,#c4deff,#c9e0ff,#cde2ff,#d4e6ff,#c7dfff,#c1dcff)"></i><i style="height:3px;background:linear-gradient(90deg,#bdff43,#b2ff4d,#ceff31,#fff600,#ffdc00,#fff700,#fcff03,#ffef00,#fff700,#fffb00,#ffd800,#ffd300,#fff400,#fff300,#ffed00,#f8ff07,#f6ff09,#fff400,#ecff13,#c3ff3c,#b8ff47,#a3ff5d,#88ff78,#72ff8e,#59ffa7,#3fffc0,#26ffd9,#18ffe8,#0ffff0,#06fff9,#00fdff,#00f5ff,#00eeff,#00e6ff,#00e1ff,#00dbff,#00d6ff,#00d1ff,#00c9ff,#00c1ff,#00b9ff,#00b0ff,#00a8ff,#009eff,#0095ff,#008bff,#0082ff,#007eff,#007cff,#007aff,#0077ff,#4796ff,#58a0ff,#559eff,#67a8ff,#6dacff,#6fadff,#72afff,#77b2ff,#81b7ff 295px 300px,#7fb6ff,#8dbeff,#98c4ff,#a7cdff,#a5cbff,#a5ccff,#aacfff 335px 340px,#a7cdff,#b7d6ff,#bcd9ff,#b8d7ff,#b6d5ff,#b4d4ff,#b3d4ff,#b5d5ff,#b8d6ff,#bbd8ff,#c1dcff,#cde3ff,#d0e4ff,#d2e5ff,#cde2ff 415px 420px,#cee3ff 425px 430px,#cfe4ff,#d4e6ff,#c9e0ff,#c5deff)"></i><i style="height:3px;background:linear-gradient(90deg,#c9ff37,#beff41,#daff25,#ffeb00,#ffd100,#ffec00,#fff600,#ffe300,#ffec00,#fff000,#ffcd00,#ffc800,#ffe800,#ffe600,#ffde00,#fff400,#fff300,#ffdf00,#fffa00,#dbff24,#cfff30,#b9ff46,#9eff62,#88ff78,#6eff92,#54ffac,#39ffc6,#28ffd7,#1cffe3,#10ffef,#07fff8,#00ffff,#00f6ff,#00eeff,#00e9ff,#00e5ff,#00dfff,#00daff,#00d2ff,#00caff,#00c1ff,#00b8ff,#00afff,#00a4ff,#009aff,#0090ff,#0086ff,#0080ff,#007eff,#007cff,#0079ff,#3d91ff,#4897ff,#4c99ff,#5ea4ff,#67a9ff,#70adff,#73afff,#79b2ff,#8abcff,#83b9ff,#78b2ff,#84b9ff,#91c0ff,#a5ccff,#a3cbff,#a4cbff,#acd0ff,#a7cdff,#9dc7ff,#b8d7ff,#c0dbff,#bfdaff,#b0d2ff,#a7cdff,#a9ceff,#abcfff,#aed1ff,#bcd9ff,#c3ddff,#cce2ff,#d0e4ff,#d2e5ff,#c3ddff,#cae1ff,#d7e8ff,#d2e5ff,#d1e5ff,#d3e6ff,#cbe1ff,#c8e0ff)"></i><i style="height:3px;background:linear-gradient(90deg,#ffed00,#fff600,#ffdb00,#ffa400,#ff8900,#ffa400,#ffad00,#ff9a00,#ffa400,#ffa900,#ff8800,#ff8300,#ffa500 60px 65px,#ffa000,#ffba00,#ffbe00,#ffae00,#ffcd00,#fff600,#faff05,#e3ff1c,#c7ff39,#b0ff50,#95ff6a,#7aff86,#5effa2,#48ffb8,#34ffcb,#23ffdc,#16ffe9,#0cfff4,#05fffa,#00fcff,#00f8ff,#00f4ff,#00f0ff,#00ebff,#00e4ff,#00daff,#00d0ff,#00c6ff,#00bbff,#00b1ff,#00a6ff,#009bff,#008fff,#0089ff,#0084ff,#007fff,#007dff,#2e88ff,#388eff,#3c90ff,#4b98ff,#4f9bff 275px 280px,#58a0ff,#60a5ff,#6cabff,#73afff,#78b2ff,#7fb6ff,#8bbdff,#9fc8ff,#99c5ff,#96c3ff,#9bc6ff,#a0c9ff,#a3cbff,#a5ccff,#add0ff,#bddaff,#b3d4ff,#aed1ff,#bcd9ff,#bfdbff,#c1dcff,#bedaff,#c0dbff,#c7dfff,#c3ddff,#c1dbff,#c3ddff,#c6deff,#c9e0ff,#d1e5ff,#d2e5ff,#cde2ff,#c7dfff,#c5deff)"></i><i style="height:3px;background:linear-gradient(90deg,#ff6000,#ff6700,#ff4b00,#ff1200,#f40000,#ff0f00,#ff1700,#ff0400,#ff1000,#ff1700,#f70000,#f50000,#ff1d00,#ff2600,#ff2f00,#ff5800,#ff6a00,#ff6800,#ff9200,#ffc200,#ffd400,#ffea00,#f8ff07,#dfff20,#c3ff3c,#a7ff59,#8aff76,#6eff92,#52ffae,#3affc5,#28ffd7,#1affe6,#12ffee,#0afff5,#07fff8,#04fffb,#02fffd,#00fdff,#00f6ff,#00ecff,#00e2ff,#00d6ff,#00cbff,#00bfff,#00b3ff,#00a7ff,#009aff,#0094ff,#008eff,#0088ff,#0082ff,#1c7eff,#2483ff,#2985ff,#348bff 270px 275px,#2c87ff,#398fff,#4595ff,#4b99ff,#5fa4ff,#76b1ff,#78b2ff,#84b9ff,#97c4ff,#8cbeff,#88bbff,#89bcff,#98c4ff,#a7cdff,#91c0ff,#98c5ff,#bcd9ff,#b6d5ff,#b5d5ff,#cee3ff,#d2e6ff,#d4e6ff,#c0dbff,#bdd9ff,#c1dcff,#b5d5ff,#afd2ff,#c3ddff,#c1dbff,#bbd8ff,#d0e4ff,#d3e6ff,#c7dfff,#c2dcff,#c1dbff)"></i><i style="height:3px;background:linear-gradient(90deg,#ff3400,#ff3b00,#ff1e00,#e40000,#c70000,#e00000,#e70000,#d50000,#e10000,#e90000,#cb0000,#ca0000,#f00000,#f80000,#ff0100,#ff2900,#ff3a00,#ff3900,#ff6300,#ff9500,#ffa900,#ffc000,#ffdd00,#fff500,#edff12,#ceff31,#afff50,#8fff71,#6cff94,#4fffb1,#39ffc7,#26ffd9,#1dffe2,#14ffeb,#12ffee,#0ffff0,#0cfff3,#0afff5,#04fffb,#00fbff,#00f0ff,#00e5ff,#00d8ff,#00ccff,#00bfff,#00b2ff,#00a4ff,#009dff,#0097ff,#0091ff,#008bff,#0b74ff,#167aff,#1f80ff,#167aff,#197cff,#2885ff,#368dff,#4092ff,#3d91ff,#4d9aff,#60a5ff,#6eadff,#79b3ff,#80b7ff,#7eb5ff,#80b7ff,#8bbdff,#94c2ff,#9bc6ff,#92c1ff,#98c4ff,#aed1ff,#b1d3ff,#b5d5ff,#c1dcff,#c5deff,#c8e0ff,#c0dbff,#bfdaff,#c0dbff,#bdd9ff,#bcd9ff,#c5deff 415px 420px,#c3ddff,#cee3ff,#cfe4ff,#c7dfff,#cbe1ff,#cfe3ff)"></i><i style="height:3px;background:linear-gradient(90deg,#ff2e00,#ff3500,#ff1800,#de0000,#c10000,#da0000,#e10000,#cf0000,#db0000,#e40000,#c50000,#c40000,#e90000,#ee0000,#f20000,#ff1700,#ff2400,#ff1f00,#ff4800,#ff7a00,#ff8e00,#ffa700,#ffc400,#ffdd00,#fff900,#e6ff19,#c6ff39,#a2ff5d,#7cff84,#5cffa4,#43ffbd,#2effd1,#24ffdb,#1bffe5,#18ffe7,#15ffea,#13ffec,#10ffef,#0afff5,#03fffc,#00f8ff,#00edff,#00e1ff,#00d3ff,#00c6ff,#00b8ff,#00aaff,#00a3ff,#009dff,#0096ff,#0090ff,#026fff,#0f77ff,#1d7fff,#006fff,#0571ff,#2c87ff,#398fff,#4293ff,#358cff,#4092ff,#4f9bff,#69aaff,#72afff,#6dacff,#73afff,#7bb4ff,#8fbfff,#93c1ff,#92c1ff,#94c2ff,#99c5ff,#a2caff,#aed1ff,#b6d5ff,#b4d4ff,#b9d7ff,#bedaff,#c0dbff,#c2dcff,#c0dbff,#c5deff,#c9e0ff,#c8e0ff,#c9e0ff,#cbe1ff,#cee3ff,#cde2ff,#c7dfff,#d4e6ff,#ddebff)"></i><i style="height:3px;background:linear-gradient(90deg,#ff2e00,#ff3500,#ff1800,#de0000,#c10000,#da0000,#e10000,#ce0000,#db0000,#e30000,#c50000,#c40000,#e90000,#ed0000,#f10000,#ff1500,#ff2200,#ff1d00,#ff4600,#ff7800,#ff8c00,#ffa500,#ffc200,#ffdb00,#fff700,#e8ff17,#c8ff37,#a4ff5c,#7eff82,#5dffa3,#44ffbc,#2fffd1,#25ffdb,#1bffe4,#19ffe7,#16ffe9,#13ffec,#11ffee,#0bfff4,#03fffc,#00f9ff,#00eeff,#00e1ff,#00d4ff,#00c6ff,#00b9ff,#00abff,#00a4ff,#009dff,#0097ff,#0091ff,#016eff,#0671ff 260px 265px,#0973ff,#1178ff,#2483ff,#2b86ff,#328aff,#3a8fff,#4092ff,#4696ff,#60a4ff,#6dacff,#70aeff,#74b0ff,#7bb4ff,#8dbeff,#90c0ff,#8ebfff,#8fbfff,#9ac6ff,#b4d4ff,#b0d2ff,#aed1ff,#bedaff,#c2dcff,#c6deff,#bcd9ff,#bbd8ff,#bedaff,#c1dcff,#c4deff,#cbe1ff,#cde2ff,#cee3ff 425px 430px,#d0e4ff,#d4e6ff,#d3e6ff 445px 450px)"></i><i style="height:3px;background:linear-gradient(90deg,#ff3300,#ff3a00,#ff1d00,#e30000,#c60000,#df0000,#e60000,#d40000,#e00000,#e80000,#ca0000,#c90000,#ef0000,#f60000,#fe0000,#ff2700,#ff3800,#ff3600,#ff6000,#ff9200,#ffa600,#ffbe00,#ffda00,#fff200,#f0ff10,#d1ff2f,#b2ff4e,#91ff6f,#6eff92,#50ffaf,#3affc6,#27ffd8,#1effe1,#15ffea,#12ffed,#10ffef,#0dfff2,#0afff5,#05fffa,#00fcff,#00f1ff,#00e6ff,#00d9ff,#00ccff,#00bfff,#00b2ff,#00a5ff,#009eff,#0098ff,#0092ff,#008bff,#0a74ff,#0873ff,#0073ff,#2080ff,#2985ff 275px 280px,#2884ff,#2d88ff,#4998ff 295px 300px,#4696ff,#5fa4ff,#6eacff,#79b3ff,#7bb4ff,#81b7ff,#90c0ff,#92c1ff,#8fbfff,#8dbeff,#9dc7ff,#c9e0ff,#b3d4ff,#a9ceff,#c9e0ff,#cee3ff,#cfe4ff,#b9d7ff,#b6d5ff,#bcd9ff,#bedaff,#c1dcff,#cfe4ff,#d1e5ff,#d1e4ff,#d0e4ff,#d4e6ff,#e1eeff,#d3e6ff,#cae1ff)"></i><i style="height:3px;background:linear-gradient(90deg,#ff6000,#ff6800,#ff4b00,#ff1300,#f50000,#ff0f00,#ff1700,#ff0400,#ff1000,#ff1800,#f80000,#f50000,#ff1d00,#ff2600,#ff2f00,#ff5800,#ff6a00,#ff6800,#ff9200,#ffc200,#ffd400,#ffea00,#f8ff07,#dfff20,#c3ff3c,#a6ff59,#8aff76,#6dff92,#52ffae,#3affc5,#28ffd7,#1affe6,#12ffee,#0afff5,#07fff8,#04fffb,#02fffd,#00fdff,#00f6ff,#00ecff,#00e2ff,#00d6ff,#00cbff,#00bfff,#00b3ff,#00a7ff,#009aff,#0094ff,#008eff,#0088ff,#0082ff,#1c7eff,#2281ff,#197cff,#328aff,#398eff,#3b8fff,#3f92ff,#4796ff,#569fff,#5ca2ff,#62a6ff,#6dacff,#78b2ff,#83b8ff,#87bbff,#8dbeff,#97c4ff,#9bc6ff,#9dc7ff,#9ac5ff,#a1caff,#b4d4ff 360px 365px,#b5d5ff,#c3ddff,#cae1ff,#d0e4ff,#c0dbff,#bedaff,#c0dbff,#c1dbff,#c3ddff,#d3e6ff,#d4e6ff,#d3e6ff,#d0e4ff,#cde2ff,#c7dfff,#cae1ff,#cde2ff)"></i><i style="height:3px;background:linear-gradient(90deg,#fff800,#fdff02,#ffe600,#ffb000,#ff9500,#ffaf00,#ffb900,#ffa600,#ffaf00,#ffb400,#ff9300,#ff8e00,#ffb000,#ffaf00,#ffa900,#ffc200,#ffc500,#ffb300,#ffd200,#fffa00,#f6ff09,#dfff20,#c3ff3d,#acff54,#91ff6e,#76ff8a,#5affa5,#45ffbb,#32ffcd,#22ffde,#15ffeb,#0afff5,#04fffb,#00fbff,#00f7ff,#00f2ff,#00eeff,#00eaff,#00e2ff,#00d8ff,#00ceff,#00c4ff,#00baff,#00afff,#00a4ff,#009aff,#008fff,#0088ff,#0083ff,#007fff,#007cff,#318aff,#3f92ff,#398eff,#4696ff,#4c99ff,#4f9bff,#5aa1ff,#62a6ff,#65a7ff,#71aeff,#80b7ff,#7eb5ff,#84b9ff,#8dbeff,#95c2ff,#9bc6ff,#9ec8ff,#a5ccff,#abcfff,#a7cdff,#a6ccff,#a1c9ff,#b5d5ff,#c1dcff,#bedaff,#c6deff,#d0e4ff,#c8e0ff,#c6dfff,#c5deff,#c4ddff,#c5deff,#d7e8ff 415px 420px,#d5e7ff,#d0e4ff,#c7dfff,#add0ff,#c2dcff,#d0e4ff)"></i><i style="height:3px;background:linear-gradient(90deg,#c5ff3b,#baff45,#d6ff29,#ffef00,#ffd400,#fff000,#fffa00,#ffe700,#fff000,#fff400,#ffd100,#ffcc00,#ffec00,#ffea00,#ffe200,#fff900 75px 80px,#ffe400,#feff01,#d5ff2a,#c9ff36,#b4ff4c,#98ff67,#83ff7d,#69ff97,#4fffb1,#34ffcb,#24ffdb,#19ffe7,#0efff1,#05fffa,#00fcff,#00f4ff,#00ecff,#00e8ff,#00e3ff,#00ddff,#00d8ff,#00d0ff,#00c7ff,#00bfff,#00b6ff,#00adff,#00a3ff,#0099ff,#008fff,#0085ff,#0080ff,#007dff,#007bff,#0079ff,#4193ff,#539dff,#519cff,#539dff,#5ba2ff,#6dacff,#73afff,#77b2ff,#75b1ff,#7db5ff,#86baff,#8cbdff,#92c1ff,#98c4ff,#9dc7ff,#a2caff,#a1caff,#acd0ff,#b8d6ff,#b1d2ff,#add0ff,#a5ccff,#b2d3ff,#bbd8ff,#c2dcff,#c5deff,#c8dfff,#cbe1ff 390px 395px,#c4ddff 400px 405px,#c6deff,#d1e5ff,#d2e5ff,#d0e4ff 425px 430px,#cbe1ff,#b9d7ff,#c4ddff,#cde2ff)"></i><i style="height:3px;background:linear-gradient(90deg,#bcff43,#b2ff4e,#ceff32,#fff700,#ffdc00,#fff800,#fbff04,#ffef00,#fff800,#fffb00,#ffd900,#ffd300,#fff400 60px 65px,#ffee00,#f7ff08,#f4ff0b,#fff500,#eaff15,#c2ff3e,#b6ff49,#a1ff5f,#87ff79,#70ff8f,#57ffa9,#3effc2,#24ffdb,#16ffe9,#0efff1,#05fffa,#00fcff,#00f5ff,#00edff,#00e6ff,#00e0ff,#00dbff,#00d5ff,#00d0ff,#00c9ff,#00c0ff,#00b8ff,#00b0ff,#00a7ff,#009eff,#0094ff,#008bff,#0081ff,#007eff,#007cff,#0079ff,#0077ff,#4897ff,#5ca2ff,#5ea3ff,#549eff,#5fa4ff,#81b7ff,#82b8ff,#83b8ff,#7db5ff,#80b7ff,#84b9ff,#93c1ff,#9ac6ff,#9dc7ff,#a1caff,#a5cbff,#a1c9ff,#afd1ff,#c1dbff,#b7d6ff,#b2d3ff,#a8cdff,#add0ff,#b2d3ff,#c4deff,#c3ddff,#bddaff,#cde3ff,#cfe3ff,#c2dcff,#c4ddff,#c6deff,#cbe1ff 415px 420px,#cae1ff,#d0e4ff,#cfe4ff,#c4ddff,#c6dfff,#c9e0ff)"></i><i style="height:3px;background:linear-gradient(90deg,#c1ff3e,#b7ff49,#d3ff2d,#fff200,#ffd800,#fff300,#fffe00,#ffea00,#fff300,#fff700,#ffd400,#ffcf00,#ffef00,#ffee00,#ffe600,#fffe00 75px 80px,#ffea00,#f8ff07,#cfff30,#c3ff3c,#aeff52,#93ff6d,#7dff83,#63ff9d,#49ffb6,#2fffd0,#20ffe0,#15ffea,#0bfff4,#03fffc,#00faff,#00f2ff,#00eaff,#00e5ff,#00e0ff,#00dbff,#00d5ff,#00ceff,#00c5ff,#00bdff,#00b4ff,#00abff,#00a1ff,#0097ff,#008eff,#0084ff,#007fff,#007dff,#007bff,#0078ff,#4494ff,#559fff,#4e9bff,#4f9bff,#5ba2ff,#79b3ff,#75b0ff 285px 290px,#7fb6ff,#82b8ff,#83b9ff,#89bcff,#92c1ff,#9fc9ff,#a4cbff,#a8cdff,#a9ceff,#b0d2ff,#b7d6ff,#b0d2ff,#aed1ff,#aacfff,#abcfff,#add0ff,#b6d5ff,#b9d7ff,#bcd9ff,#cfe3ff,#d2e6ff,#cae1ff,#c6dfff,#c5deff,#c9e0ff,#cbe2ff,#cde2ff,#d3e6ff,#d2e5ff,#c8e0ff,#d1e4ff,#d6e8ff)"></i><i style="height:3px;background:linear-gradient(90deg,#efff10,#e5ff1a,#fffd00,#ffc700,#ffac00,#ffc700,#ffd100,#ffbe00,#ffc700,#ffcb00,#ffa900,#ffa500,#ffc500,#ffc300,#ffbc00,#ffd300 75px 80px,#ffc000,#ffdd00,#f9ff06,#ebff14,#d5ff2b,#b9ff47,#a2ff5e,#88ff78,#6dff93,#52ffae,#3dffc2,#2cffd3,#1dffe2,#11ffee,#08fff8,#01fffe,#00f7ff,#00f3ff,#00efff,#00eaff,#00e6ff,#00deff,#00d4ff,#00cbff,#00c1ff,#00b7ff,#00adff,#00a2ff,#0097ff,#008cff,#0086ff,#0081ff,#007eff,#007cff,#368dff,#4495ff,#338bff,#3e91ff,#4b99ff,#65a7ff,#5da3ff 285px 290px,#77b1ff,#7ab3ff 300px 305px,#77b2ff,#83b8ff,#9cc7ff,#a1caff,#a6cdff,#add0ff 335px 340px,#aaceff,#a5ccff,#a7cdff,#aacfff,#a7cdff,#a5ccff,#a6ccff,#add1ff,#b8d7ff,#cfe3ff,#d5e7ff,#d2e5ff,#c8e0ff,#c3ddff,#c7dfff,#cbe1ff,#cfe4ff,#d4e7ff,#d4e6ff,#cce2ff,#daeaff,#e3efff)"></i><i style="height:3px;background:linear-gradient(90deg,#ff7900,#ff8000,#ff6400,#ff2c00,#ff0f00,#ff2900,#ff3100,#ff1e00,#ff2a00,#ff3100,#ff1100,#ff0f00,#ff3500,#ff3d00,#ff4400,#ff6b00,#ff7b00,#ff7600,#ff9e00,#ffce00,#ffde00,#fff400,#edff12,#d5ff2b,#b9ff46,#9dff63,#80ff80,#65ff9b,#4bffb4,#35ffca,#24ffdb,#17ffe9,#0ffff0,#07fff8,#05fffb,#02fffd,#00fdff,#00f9ff,#00f2ff,#00e8ff,#00deff,#00d3ff,#00c7ff,#00bcff,#00b0ff,#00a4ff,#0098ff,#0091ff,#008cff,#0086ff,#0080ff,#2382ff,#328aff,#2784ff,#318aff,#368dff,#3e91ff,#4796ff,#509cff,#61a5ff,#69aaff,#70adff,#6dacff,#77b2ff,#8cbeff,#92c1ff,#99c5ff,#a7cdff,#a8cdff,#a5ccff 345px 350px,#a9ceff,#afd2ff,#a7cdff,#a1caff,#9fc8ff,#abcfff,#bad8ff,#c8e0ff,#cbe2ff,#c5deff,#c1dcff,#c0dbff,#cce2ff 415px 420px,#c9e0ff,#d2e5ff,#d3e6ff,#cfe4ff,#d6e8ff,#daeaff)"></i><i style="height:3px;background:linear-gradient(90deg,#ff3600,#ff3d00,#ff2000,#e60000,#c90000,#e20000,#ea0000,#d70000,#e30000,#eb0000,#cd0000,#cc0000,#f30000,#fb0000,#ff0400,#ff2d00,#ff3f00,#ff3e00,#ff6900,#ff9b00,#ffae00,#ffc500,#ffe200,#fff900,#e8ff17,#c9ff36,#abff55,#8bff75,#69ff97,#4dffb3,#37ffc9,#25ffdb,#1cffe4,#13ffec,#10ffef,#0efff1,#0bfff4,#08fff7,#03fffc,#00f9ff,#00eeff,#00e3ff,#00d7ff,#00caff,#00bdff,#00b0ff,#00a3ff,#009cff,#0096ff,#0090ff,#008aff,#1077ff,#2181ff,#1c7eff,#2483ff,#2282ff,#187bff,#318aff,#4495ff,#4d9aff,#59a1ff,#66a8ff,#62a6ff,#6cabff,#7db5ff,#83b9ff,#8cbdff,#a2caff,#a4cbff,#a1c9ff,#a6ccff,#acd0ff,#b5d5ff,#a7cdff,#9dc7ff,#99c5ff,#a8cdff,#bcd9ff,#c2dcff 390px 395px,#b9d7ff,#bad8ff,#bedaff,#d0e4ff,#cce2ff,#c4ddff,#d0e4ff,#d3e6ff 435px 440px,#d2e5ff,#d1e5ff)"></i><i style="height:3px;background:linear-gradient(90deg,#ff2e00,#ff3500,#ff1900,#df0000,#c10000,#da0000,#e10000,#cf0000,#db0000,#e40000,#c50000,#c40000,#ea0000,#ee0000,#f20000,#ff1700,#ff2500,#ff2000,#ff4900,#ff7b00,#ff8f00,#ffa800,#ffc500,#ffdd00,#fff900,#e5ff1a,#c6ff3a,#a2ff5e,#7cff84,#5bffa4,#43ffbd,#2effd2,#24ffdb,#1affe5,#18ffe7,#15ffea,#13ffec,#10ffef,#0afff5,#03fffc,#00f8ff,#00edff,#00e1ff,#00d3ff,#00c5ff,#00b8ff,#00aaff,#00a3ff,#009dff,#0096ff,#0090ff,#0571ff,#167bff,#1479ff,#1178ff,#1077ff,#0f76ff,#2784ff,#3a8fff,#4897ff,#4a98ff,#4997ff,#59a1ff,#6aaaff,#81b7ff,#7fb6ff,#81b7ff,#8bbdff,#99c5ff,#a8cdff,#a3cbff,#a7cdff,#b1d3ff,#abcfff,#a6ccff,#a2caff,#aed1ff,#bfdbff,#c4deff,#c6dfff,#c3ddff,#bdd9ff,#bad8ff,#c4ddff,#c8e0ff,#cde2ff,#c9e0ff,#cbe1ff,#d4e6ff,#d1e5ff,#cfe4ff)"></i><i style="height:3px;background:linear-gradient(90deg,#ff2e00,#ff3500,#ff1800,#de0000,#c10000,#da0000,#e10000,#ce0000,#db0000,#e30000,#c50000,#c40000,#e90000,#ed0000,#f10000,#ff1500,#ff2200,#ff1d00,#ff4600,#ff7700,#ff8c00,#ffa400,#ffc200,#ffda00,#fff600,#e8ff17,#c8ff37,#a4ff5b,#7eff82,#5dffa3,#44ffbc,#2fffd1,#25ffdb,#1bffe4,#19ffe7,#16ffe9,#14ffec,#11ffee,#0bfff4,#04fffc,#00f9ff,#00eeff,#00e2ff,#00d4ff,#00c6ff,#00b9ff,#00abff,#00a4ff,#009dff,#0097ff,#0091ff,#0470ff,#187cff 260px 265px,#0b74ff,#0a73ff,#1278ff,#2885ff,#3a8fff,#4d9aff,#4494ff,#358cff,#58a0ff,#70adff,#8abcff,#80b7ff,#7bb4ff,#79b3ff,#93c1ff,#b2d3ff,#a3caff,#a5cbff,#b0d2ff 360px 370px,#acd0ff,#b6d5ff,#c4ddff,#c8e0ff,#cbe2ff,#cfe3ff,#c0dbff,#b7d6ff,#b8d6ff,#c5deff,#d7e8ff,#c3ddff 430px 435px,#d5e7ff,#d1e5ff,#cfe3ff)"></i><i style="height:3px;background:linear-gradient(90deg,#ff3200,#ff3900,#ff1c00,#e20000,#c50000,#dd0000,#e50000,#d20000,#df0000,#e70000,#c90000,#c80000,#ee0000,#f50000,#fc0000,#ff2400,#ff3400,#ff3200,#ff5c00,#ff8e00,#ffa200,#ffba00,#ffd700,#ffef00,#f3ff0c,#d4ff2b,#b5ff4a,#94ff6c,#70ff8f,#52ffad,#3bffc4,#28ffd7,#1fffe0,#16ffe9,#13ffec,#11ffee,#0efff1,#0bfff4,#06fff9,#00fdff,#00f2ff,#00e7ff,#00dbff,#00cdff,#00c0ff,#00b3ff,#00a6ff,#009fff,#0099ff,#0092ff,#008cff,#0a74ff,#1a7dff,#2483ff,#197cff,#187cff,#1f80ff,#368cff,#4595ff,#3d91ff,#4495ff,#4e9aff,#5da3ff,#6eacff,#85baff,#82b8ff,#83b8ff,#85baff,#91c0ff,#9ec7ff,#a1c9ff,#a5ccff,#aaceff,#acd0ff,#add0ff,#aed1ff,#b3d4ff,#bbd8ff,#c5deff,#cce2ff,#d3e6ff,#c7dfff,#c1dbff,#c4ddff,#cfe4ff,#ddecff,#c5deff 430px 435px,#dcebff,#cee3ff,#c7dfff)"></i><i style="height:3px;background:linear-gradient(90deg,#ff5000,#ff5700,#ff3b00,#ff0200,#e40000,#fd0000,#ff0600,#f20000,#fe0000,#ff0700,#e70000,#e50000,#ff0e00,#ff1700,#ff2100,#ff4b00,#ff5e00,#ff5d00,#ff8800,#ffb900,#ffca00,#ffe100,#fffd00,#e8ff17,#ccff33,#afff51,#92ff6e,#75ff8b,#57ffa8,#3fffc1,#2cffd3,#1cffe3,#14ffeb,#0cfff3,#09fff6,#07fff8,#04fffb,#01fffe,#00f9ff,#00efff,#00e5ff,#00d9ff,#00ceff,#00c2ff,#00b6ff,#00a9ff,#009dff,#0096ff,#0090ff,#008aff,#0084ff,#177bff,#2483ff,#398eff,#3089ff 270px 275px,#348cff,#4b99ff,#569fff,#348bff,#4b99ff,#6cabff,#67a8ff,#70aeff,#85b9ff,#89bcff,#8ebfff,#95c3ff,#92c1ff,#8cbdff,#a1c9ff,#a8cdff,#a6ccff,#a9ceff,#accfff,#b0d2ff,#b2d3ff 380px 385px,#c3ddff,#cde2ff,#d8e8ff,#cfe4ff,#cae1ff,#d1e5ff,#daeaff,#e5f0ff,#c7dfff 430px 435px,#e4f0ff,#cce2ff,#bfdaff)"></i><i style="height:3px;background:linear-gradient(90deg,#ffd200,#ffda00,#ffbf00,#ff8800,#ff6d00,#ff8700,#ff9100,#ff7e00,#ff8800,#ff8d00,#ff6c00,#ff6800,#ff8b00,#ff8d00,#ff8b00,#ffa800,#ffae00,#ffa100,#ffc200,#ffec00,#fffb00,#edff13,#d0ff30,#b8ff47,#9eff62,#83ff7d,#66ff9a,#4fffb1,#3affc6,#28ffd8,#1affe6,#0efff1,#07fff8,#00ffff,#00fbff,#00f7ff,#00f3ff,#00efff,#00e7ff,#00ddff,#00d3ff,#00c9ff,#00beff,#00b3ff,#00a8ff,#009dff,#0092ff,#008bff,#0086ff,#0080ff,#007dff,#2b86ff,#398eff,#3f92ff,#4495ff,#4897ff,#4d9aff,#5da3ff,#66a8ff,#529dff,#67a8ff,#82b8ff,#81b7ff,#88bbff,#93c1ff,#98c5ff,#9fc8ff,#a8cdff,#a4cbff,#9cc6ff,#aaceff,#b1d2ff,#b4d4ff,#b2d3ff,#b0d2ff,#aed1ff,#b6d5ff,#c0dbff 385px 390px,#c6deff,#d4e7ff,#cae1ff,#c3ddff,#c8e0ff,#d3e6ff,#dfedff,#c3ddff 430px 435px,#e0edff,#d7e8ff,#d2e5ff)"></i><i style="height:3px;background:linear-gradient(90deg,#cfff31,#c4ff3b,#e0ff1f,#ffe500,#ffcb00,#ffe600,#fff000,#ffdd00,#ffe600,#ffea00,#ffc800,#ffc200,#ffe200,#ffe000,#ffd800,#ffed00 75px 80px,#ffd800,#fff300,#e2ff1d,#d6ff29,#c0ff40,#a4ff5b,#8eff72,#74ff8b,#5affa6,#3fffc0,#2dffd2,#20ffe0,#13ffec,#09fff6,#02fffd,#00f9ff,#00f0ff,#00ecff,#00e7ff,#00e2ff,#00ddff,#00d5ff,#00ccff,#00c3ff,#00baff,#00b1ff,#00a6ff,#009cff,#0092ff,#0088ff,#0082ff,#007eff,#007cff,#007aff,#3c90ff,#4b99ff,#4394ff,#569fff,#5ea3ff,#63a6ff,#6cacff,#73afff,#6fadff,#80b7ff,#95c3ff,#99c5ff,#9ec8ff,#9fc9ff,#a7cdff,#aed1ff,#bad7ff,#b5d5ff,#abcfff,#b2d3ff,#b9d7ff,#c2dcff,#bad8ff,#b4d4ff,#abcfff,#bad8ff,#cee3ff,#bcd9ff,#bedaff,#d1e5ff,#c4ddff,#bcd9ff,#c0dbff,#cbe1ff,#daeaff,#bfdbff,#c0dbff,#dcebff,#e2eeff,#e5f0ff)"></i><i style="height:3px;background:linear-gradient(90deg,#beff42,#b3ff4c,#cfff30,#fff500,#ffdb00,#fff700,#fdff02,#ffee00,#fff600,#fffa00,#ffd800,#ffd200,#fff300,#fff200,#ffec00,#faff05,#f8ff07,#fff200,#efff11,#c6ff3a,#baff45,#a5ff5b,#8aff76,#74ff8c,#5bffa5,#41ffbe,#28ffd7,#19ffe6,#10ffef,#07fff8,#00feff,#00f6ff,#00efff,#00e7ff,#00e2ff,#00dcff,#00d7ff,#00d2ff,#00caff,#00c2ff,#00baff,#00b1ff,#00a8ff,#009fff,#0095ff,#008cff,#0082ff,#007eff,#007cff,#007aff,#0078ff,#4595ff,#569fff,#5aa1ff,#6fadff,#74b0ff,#6cacff,#75b1ff,#7cb5ff,#7db5ff,#86baff,#91c0ff,#9ec8ff,#a3cbff,#a1caff,#a7cdff,#acd0ff,#b1d2ff,#add0ff,#a6ccff,#b7d6ff,#bdd9ff,#bbd8ff,#bad8ff,#b8d7ff,#b5d5ff,#b9d7ff,#c0dbff,#b7d6ff,#bcd9ff,#d0e4ff,#c6dfff,#c1dbff,#c6deff,#cfe3ff,#d9e9ff,#c5deff 430px 435px,#d4e7ff,#d5e7ff,#d6e8ff)"></i><i style="height:3px;background:linear-gradient(90deg,#bdff42,#b3ff4d,#cfff31,#fff600,#ffdc00,#fff700,#fcff03,#ffee00,#fff700,#fffb00,#ffd800,#ffd200,#fff300 60px 65px,#ffed00,#f9ff06,#f7ff08,#fff300,#edff12,#c4ff3b,#b9ff47,#a4ff5c,#89ff77,#73ff8d,#5affa6,#40ffbf,#27ffd9,#18ffe7,#0ffff0,#07fff8,#00feff,#00f6ff,#00eeff,#00e7ff,#00e1ff,#00dcff,#00d6ff,#00d1ff,#00caff,#00c1ff,#00b9ff,#00b1ff,#00a8ff,#009eff,#0095ff,#008bff,#0082ff,#007eff,#007cff,#007aff,#0077ff,#4495ff,#569fff,#66a8ff,#7eb5ff,#7eb6ff,#6babff,#74b0ff,#7cb4ff,#83b8ff,#84b9ff 300px 305px,#9bc6ff,#a2caff,#9dc7ff,#a2caff,#a6ccff,#a4cbff,#a1caff,#9dc7ff,#b9d7ff,#bedaff,#b3d4ff,#b8d7ff,#bbd8ff,#bcd9ff,#b8d6ff,#b0d2ff,#b1d3ff,#bad7ff,#cfe3ff,#c8dfff,#c4ddff,#cbe1ff,#d1e5ff,#d8e9ff,#cbe1ff,#c9e0ff,#cde2ff,#c8e0ff,#c7dfff)"></i><i style="height:3px;background:linear-gradient(90deg,#cbff34,#c1ff3f,#ddff23,#ffe900,#ffce00,#ffe900,#fff400,#ffe100,#ffe900,#ffed00,#ffcb00,#ffc600,#ffe600,#ffe300,#ffdb00,#fff100,#fff000,#ffdc00,#fff700,#dfff21,#d2ff2d,#bcff43,#a1ff5f,#8bff75,#71ff8f,#56ffa9,#3cffc4,#2bffd5,#1effe2,#12ffed,#08fff7,#01fffe,#00f7ff,#00efff,#00ebff,#00e6ff,#00e1ff,#00dbff,#00d4ff,#00cbff,#00c2ff,#00b9ff,#00afff,#00a5ff,#009bff,#0091ff,#0087ff,#0081ff,#007eff,#007cff,#0079ff,#3c90ff,#4b99ff,#58a0ff,#66a8ff,#69a9ff,#62a5ff,#6cacff,#76b1ff,#7eb5ff,#7cb4ff,#78b2ff,#8fbfff,#9ac5ff,#9ec8ff,#9cc7ff,#9dc7ff,#a9ceff,#aacfff,#a9ceff,#b8d6ff,#b8d7ff,#abcfff,#b4d4ff,#b9d7ff,#b5d5ff,#b6d5ff,#b7d6ff,#bad7ff,#c0dbff,#cee3ff,#c9e0ff,#c5deff 410px 415px,#c9e0ff,#cfe3ff,#cee3ff,#cfe3ff,#d1e5ff,#cbe2ff,#c9e0ff)"></i><i style="height:3px;background:linear-gradient(90deg,#ffe000,#ffe900,#ffce00,#ff9800,#ff7c00,#ff9700,#ffa000,#ff8d00,#ff9700,#ff9c00,#ff7b00,#ff7700,#ff9900,#ff9a00,#ff9600,#ffb200,#ffb700,#ffa800,#ffc800,#fff100,#ffff00,#e8ff18,#cbff34,#b4ff4c,#99ff66,#7eff82,#62ff9e,#4bffb5,#37ffc8,#25ffda,#18ffe7,#0dfff2,#06fff9,#00feff,#00faff,#00f5ff,#00f1ff,#00edff,#00e6ff,#00dbff,#00d1ff,#00c7ff,#00bdff,#00b2ff,#00a7ff,#009cff,#0090ff,#008aff,#0085ff,#0080ff,#007dff,#2c87ff,#398eff,#4193ff,#4796ff,#4b99ff,#509bff,#5da3ff,#68a9ff,#71aeff,#6dacff,#66a8ff,#7db5ff,#8cbeff,#9ac6ff,#92c1ff,#91c1ff,#aacfff,#b1d2ff,#b3d4ff,#b5d5ff,#b1d3ff,#a1caff,#aed1ff,#b5d5ff,#acd0ff,#b3d4ff,#bddaff,#c1dcff,#c5deff,#cce2ff,#c9e0ff,#c6dfff,#bfdaff,#c1dcff,#c5deff,#d1e5ff,#d5e7ff 435px 440px,#cee3ff,#cbe1ff)"></i><i style="height:3px;background:linear-gradient(90deg,#ff5800,#ff5f00,#ff4300,#ff0a00,#ec0000,#ff0600,#ff0e00,#fa0000,#ff0700,#ff0f00,#ef0000,#ed0000,#ff1500,#ff1e00,#ff2800,#ff5100,#ff6400,#ff6200,#ff8d00,#ffbe00,#ffcf00,#ffe600,#fcff03,#e4ff1c,#c8ff38,#abff55,#8eff72,#71ff8f,#55ffab,#3dffc3,#2affd5,#1bffe4,#13ffec,#0bfff4,#08fff7,#05fffa,#03fffc,#00ffff,#00f7ff,#00eeff,#00e3ff,#00d8ff,#00ccff,#00c0ff,#00b4ff,#00a8ff,#009bff,#0095ff,#008fff,#0089ff,#0083ff,#197cff,#2181ff,#2583ff,#2f89ff,#368dff,#4294ff,#4e9aff,#579fff,#539dff,#58a0ff,#5fa4ff,#6dacff,#7ab3ff,#89bcff,#8abcff,#8dbeff,#98c5ff,#a1c9ff,#a8cdff 345px 350px,#acd0ff,#b2d3ff 360px 365px,#b0d2ff,#a0c9ff,#abcfff,#bcd9ff,#bfdaff,#c4ddff,#cde2ff,#c7dfff,#c4ddff,#c8e0ff,#cae1ff,#cce2ff,#d2e5ff,#d5e7ff,#daeaff,#d1e4ff,#cce2ff)"></i><i style="height:3px;background:linear-gradient(90deg,#ff3300,#ff3a00,#ff1d00,#e30000,#c60000,#de0000,#e60000,#d30000,#e00000,#e80000,#ca0000,#c90000,#ef0000,#f60000,#fe0000,#ff2700,#ff3700,#ff3500,#ff6000,#ff9200,#ffa500,#ffbd00,#ffda00,#fff200,#f0ff0f,#d1ff2e,#b2ff4d,#91ff6f,#6eff91,#51ffaf,#3affc5,#27ffd8,#1effe1,#15ffea,#12ffed,#10ffef,#0dfff2,#0bfff4,#05fffa,#00fcff,#00f1ff,#00e6ff,#00d9ff,#00cdff,#00c0ff,#00b3ff,#00a5ff,#009eff,#0098ff,#0092ff,#008cff,#0973ff,#0b74ff,#0d75ff,#1b7dff,#2583ff,#378dff,#4293ff,#4897ff,#378dff,#4696ff,#5aa1ff,#5fa4ff,#6aaaff,#7ab3ff,#83b8ff,#8abcff,#87bbff,#92c1ff,#9dc7ff,#9cc7ff,#a7cdff,#c3ddff,#b6d5ff,#aacfff,#95c3ff,#a4cbff,#bad8ff,#bddaff,#c3ddff,#cee3ff,#c5deff,#c1dcff,#d2e5ff,#d4e6ff,#d3e6ff 425px 430px,#d6e8ff,#dfedff,#d3e6ff,#cee3ff)"></i><i style="height:3px;background:linear-gradient(90deg,#ff2e00,#ff3500,#ff1800,#de0000,#c10000,#da0000,#e10000,#cf0000,#db0000,#e30000,#c50000,#c40000,#e90000,#ed0000,#f10000,#ff1600,#ff2300,#ff1e00,#ff4700,#ff7900,#ff8d00,#ffa500,#ffc300,#ffdb00,#fff700,#e7ff18,#c7ff38,#a3ff5c,#7dff83,#5cffa3,#43ffbc,#2effd1,#24ffdb,#1bffe4,#18ffe7,#16ffe9,#13ffec,#11ffee,#0bfff4,#03fffc,#00f9ff,#00edff,#00e1ff,#00d4ff,#00c6ff,#00b8ff,#00abff,#00a3ff,#009dff,#0097ff,#0090ff,#016eff 255px 260px,#0075ff,#0671ff,#1177ff,#2684ff,#2e88ff,#368cff,#378dff,#4293ff,#4f9bff,#4c99ff,#59a1ff,#73b0ff,#7eb6ff,#87bbff,#85baff,#8dbeff,#95c3ff,#94c2ff,#9fc8ff,#bad8ff,#b5d5ff,#b0d2ff,#a1caff,#acd0ff,#bcd9ff,#acd0ff,#b4d4ff,#d5e7ff,#cae1ff,#c4ddff,#cee3ff,#d1e5ff,#d3e6ff,#cde2ff,#cee3ff,#d7e8ff,#d1e5ff,#cee3ff)"></i><i style="height:3px;background:linear-gradient(90deg,#ff2e00,#ff3500,#ff1800,#de0000,#c10000,#da0000,#e10000,#cf0000,#db0000,#e30000,#c50000,#c40000,#e90000,#ee0000,#f20000,#ff1600,#ff2300,#ff1e00,#ff4700,#ff7900,#ff8d00,#ffa600,#ffc300,#ffdc00,#fff700,#e7ff18,#c7ff38,#a3ff5c,#7dff83,#5cffa3,#43ffbc,#2effd1,#24ffdb,#1bffe4,#18ffe7,#16ffe9,#13ffec,#11ffee,#0bfff4,#03fffc,#00f9ff,#00edff,#00e1ff,#00d4ff,#00c6ff,#00b8ff,#00abff,#00a3ff,#009dff,#0097ff,#0090ff,#016fff 255px 260px,#007eff,#0071ff,#0873ff,#2080ff,#2583ff,#2d88ff,#4092ff,#4696ff,#4b98ff,#4092ff,#4e9aff,#72afff,#7fb6ff,#88bbff 330px 335px,#8cbeff,#90c0ff,#8fbfff,#9ac5ff,#b3d4ff,#b6d6ff,#b7d6ff,#afd1ff,#b6d5ff,#c0dbff,#9dc7ff,#a6ccff,#ddebff,#d0e4ff,#c7dfff,#cae1ff,#cfe3ff,#d4e6ff,#c7dfff,#c6dfff,#cfe3ff,#cfe4ff,#cee3ff)"></i><i style="height:3px;background:linear-gradient(90deg,#ff3300,#ff3a00,#ff1d00,#e30000,#c60000,#df0000,#e70000,#d40000,#e00000,#e90000,#ca0000,#c90000,#ef0000,#f70000,#ff0000,#ff2700,#ff3800,#ff3600,#ff6100,#ff9300,#ffa600,#ffbe00,#ffdb00,#fff300,#efff10,#d0ff2f,#b1ff4e,#90ff70,#6eff92,#50ffaf,#3affc6,#27ffd8,#1effe2,#15ffea,#12ffed,#10fff0,#0dfff2,#0afff5,#05fffa,#00fbff,#00f1ff,#00e6ff,#00d9ff,#00ccff,#00bfff,#00b2ff,#00a5ff,#009eff,#0098ff,#0091ff,#008bff,#0b74ff,#1479ff,#1077ff,#1c7eff,#2181ff,#2684ff,#2e88ff,#388eff,#4a98ff,#519cff,#569fff,#539dff,#61a5ff,#7cb5ff,#87baff,#90c0ff,#97c4ff,#9ac6ff,#9bc6ff,#95c2ff,#9dc7ff,#b6d5ff,#b7d6ff 365px 370px,#b0d2ff,#b5d5ff,#bcd9ff,#aacfff,#b0d2ff,#cce2ff,#c5deff,#c2dcff,#c8e0ff,#cbe1ff,#cee3ff,#c1dcff 430px 435px,#cfe3ff,#cde2ff,#cce2ff)"></i><i style="height:3px;background:linear-gradient(90deg,#ff5d00,#ff6400,#ff4800,#ff0f00,#f10000,#ff0b00,#ff1300,#ff0000,#ff0c00,#ff1400,#f40000,#f20000,#ff1a00,#ff2300,#ff2c00,#ff5600,#ff6800,#ff6600,#ff9000,#ffc000,#ffd200,#ffe800,#faff06,#e1ff1e,#c5ff3a,#a8ff58,#8bff75,#6fff91,#53ffad,#3bffc4,#29ffd6,#1affe5,#12ffed,#0afff5,#08fff8,#05fffa,#02fffd,#00feff,#00f6ff,#00edff,#00e2ff,#00d7ff,#00cbff,#00bfff,#00b4ff,#00a7ff,#009bff,#0094ff,#008eff,#0088ff,#0082ff,#1c7eff,#2e88ff,#388eff,#4494ff,#4293ff,#358cff,#3f92ff,#4a98ff,#5aa1ff,#61a5ff,#67a8ff,#6cabff,#78b2ff,#8abdff,#92c1ff,#9ac6ff,#a9ceff,#aacfff,#a8cdff,#9cc7ff,#a3caff,#bad8ff 360px 365px,#b8d7ff,#b2d3ff,#b4d5ff,#b9d7ff 385px 390px,#bbd8ff 395px 400px,#bcd9ff,#bedaff,#c6dfff,#c8e0ff,#c9e0ff,#bbd8ff,#bdd9ff,#cfe4ff,#cbe1ff,#cae1ff)"></i><i style="height:3px;background:linear-gradient(90deg,#ffeb00,#fff400,#ffda00,#ffa300,#ff8800,#ffa200,#ffac00,#ff9900,#ffa300,#ffa800,#ff8600,#ff8200,#ffa400 60px 65px,#ff9f00,#ffb900,#ffbd00,#ffad00,#ffcc00,#fff500,#fbff04,#e4ff1c,#c7ff38,#b0ff50,#96ff6a,#7bff85,#5effa1,#48ffb7,#35ffcb,#24ffdc,#16ffe9,#0cfff3,#05fffa,#00fdff,#00f8ff,#00f4ff,#00f0ff,#00ebff,#00e4ff,#00daff,#00d0ff,#00c6ff,#00bcff,#00b1ff,#00a6ff,#009bff,#0090ff,#0089ff,#0084ff,#007fff,#007dff,#2f89ff,#4494ff,#4d9aff,#4f9bff,#519cff,#539dff,#5fa4ff,#69aaff,#6aaaff,#72afff,#7ab3ff,#77b2ff,#7db5ff,#87bbff,#92c1ff,#9cc7ff,#a8ceff,#a9ceff,#a5ccff,#a4cbff,#add0ff,#c3ddff,#bfdaff,#bcd9ff,#bdd9ff,#bedaff 380px 385px,#c7dfff,#c5deff,#b5d5ff,#bedaff,#c5deff,#c8e0ff,#cbe2ff,#cfe3ff,#c1dcff,#c2dcff,#d1e5ff,#d2e5ff,#d4e7ff)"></i><i style="height:3px;background:linear-gradient(90deg,#c8ff37,#beff42,#daff26,#ffeb00,#ffd100,#ffec00,#fff700,#ffe400,#ffec00,#fff000,#ffce00,#ffc800,#ffe900,#ffe600,#ffde00,#fff400 75px 80px,#ffdf00,#fffb00,#dbff25,#ceff31,#b9ff47,#9dff63,#87ff79,#6eff92,#53ffac,#39ffc7,#28ffd7,#1cffe4,#10ffef,#07fff8,#00feff,#00f6ff,#00eeff,#00e9ff,#00e5ff,#00dfff,#00daff,#00d2ff,#00c9ff,#00c1ff,#00b8ff,#00aeff,#00a4ff,#009aff,#0090ff,#0086ff,#0080ff,#007eff,#007bff,#0079ff,#3f92ff,#559eff,#5ea4ff,#569fff,#5ca2ff,#6eacff,#7cb4ff,#84b9ff,#77b2ff,#80b7ff,#8bbdff,#81b7ff 310px 315px,#82b8ff,#91c0ff,#9dc7ff,#a7cdff,#a6ccff,#a1c9ff,#abcfff,#b6d5ff,#cbe1ff,#c3ddff,#bfdbff,#c8e0ff,#c6dfff,#c2dcff,#d4e6ff,#cfe4ff,#aed1ff,#c0dbff,#cce2ff,#cae1ff,#cee3ff,#d4e6ff,#c6dfff,#c7dfff,#d4e6ff,#d9eaff,#dfecff)"></i><i style="height:3px;background:linear-gradient(90deg,#bdff43,#b2ff4d,#ceff31,#fff600,#ffdc00,#fff700,#fcff03,#ffef00,#fff700,#fffb00,#ffd800,#ffd300,#fff400,#fff300,#ffed00,#f8ff07,#f6ff09,#fff400,#ecff13,#c3ff3c,#b8ff48,#a2ff5d,#88ff78,#72ff8e,#58ffa7,#3fffc1,#26ffda,#17ffe8,#0ffff1,#06fff9,#00fdff,#00f5ff,#00eeff,#00e6ff,#00e1ff,#00dbff,#00d6ff,#00d0ff,#00c9ff,#00c1ff,#00b9ff,#00b0ff,#00a7ff,#009eff,#0094ff,#008bff,#0081ff,#007eff,#007cff,#007aff,#0077ff,#4897ff,#61a5ff,#64a7ff,#69aaff,#6eacff,#72afff,#7db5ff,#84b9ff,#7bb4ff,#86baff,#94c2ff,#90c0ff,#93c2ff,#96c3ff,#9dc7ff,#a4cbff,#aed1ff,#aaceff,#a2caff,#b2d3ff,#b8d6ff,#bad7ff,#c1dcff,#c6deff,#c3ddff,#c7dfff,#cce2ff,#cbe1ff,#c7dfff,#bad7ff,#c1dcff,#c6deff,#c0dbff,#c4ddff,#c9e0ff,#c7dfff,#c8e0ff,#cfe3ff,#d5e7ff,#d9e9ff)"></i><i style="height:3px;background:linear-gradient(90deg,#bfff41,#b4ff4c,#d0ff2f,#fff500,#ffda00,#fff600,#feff01,#ffed00,#fff500,#fff900,#ffd700,#ffd100,#fff200,#fff100,#ffea00,#fcff03,#faff05,#ffef00,#f1ff0e,#c8ff37,#bdff43,#a8ff58,#8dff73,#77ff89,#5dffa3,#44ffbc,#2affd5,#1bffe4,#12ffee,#08fff7,#01ffff,#00f7ff,#00f0ff,#00e8ff,#00e3ff,#00ddff,#00d8ff,#00d3ff,#00cbff,#00c3ff,#00baff,#00b2ff,#00a9ff,#009fff,#0096ff,#008cff,#0083ff,#007fff,#007cff,#007aff,#0078ff,#4796ff,#61a5ff,#5fa4ff,#71aeff,#74b0ff,#6cabff,#73afff,#79b3ff,#76b1ff,#84b9ff,#94c2ff,#98c5ff,#9ec8ff,#a4cbff,#a5cbff,#a7cdff,#b1d2ff,#aacfff,#9fc8ff,#b5d5ff,#b7d6ff,#a6ccff,#bdd9ff,#cae1ff,#bdd9ff,#c7dfff,#d5e7ff,#c1dbff,#bedaff,#c4ddff,#c1dcff,#bedaff,#b6d6ff,#b9d7ff,#bddaff,#c7dfff,#cae1ff,#c9e0ff,#d0e4ff,#d3e6ff)"></i><i style="height:3px;background:linear-gradient(90deg,#d7ff29,#ccff33,#e8ff17,#ffde00,#ffc300,#ffde00,#ffe900,#ffd600,#ffde00,#ffe200,#ffc000,#ffbb00,#ffdb00,#ffd900,#ffd000,#ffe600,#ffe500,#ffd100,#ffed00,#eaff15,#ddff23,#c6ff39,#abff55,#95ff6b,#7bff85,#60ffa0,#45ffbb,#32ffcd,#24ffdc,#16ffe9,#0cfff3,#04fffb,#00fbff,#00f3ff,#00eeff,#00eaff,#00e5ff,#00e0ff,#00d8ff,#00cfff,#00c5ff,#00bcff,#00b3ff,#00a8ff,#009eff,#0094ff,#0089ff,#0083ff,#007fff,#007dff,#007aff,#3a8fff,#529dff,#5aa1ff,#61a5ff,#5ea4ff,#4e9aff,#5da3ff,#68a9ff,#6babff,#7ab3ff,#8cbdff,#89bcff,#8dbeff,#92c1ff,#9ac6ff,#a2caff,#acd0ff,#a8ceff,#a0c9ff,#b7d6ff,#bbd8ff,#b1d3ff,#b5d5ff,#b7d6ff,#b5d5ff,#bdd9ff,#c7dfff,#bcd9ff,#bedaff,#cbe1ff,#c3dcff,#bcd9ff,#b5d5ff 415px 420px,#b7d6ff,#c7dfff,#cbe1ff 435px 440px,#d1e5ff,#d5e7ff)"></i><i style="height:3px;background:linear-gradient(90deg,#ffb300,#ffbb00,#ffa000,#ff6900,#ff4d00,#ff6700,#ff7000,#ff5d00,#ff6700,#ff6d00,#ff4d00,#ff4900,#ff6e00,#ff7100,#ff7300,#ff9300,#ff9d00,#ff9200,#ffb600,#ffe200,#fff100,#f6ff09,#d9ff26,#c2ff3e,#a7ff59,#8bff75,#6fff91,#56ffaa,#40ffc0,#2cffd3,#1dffe2,#11ffee,#0afff5,#03fffc,#00ffff,#00fbff,#00f6ff,#00f2ff,#00ebff,#00e1ff,#00d7ff,#00ccff,#00c1ff,#00b6ff,#00abff,#009fff,#0094ff,#008dff,#0088ff,#0082ff,#007eff,#2784ff,#3b90ff,#4d9aff,#4a98ff,#4193ff,#2985ff,#4092ff,#519cff,#5aa1ff,#6babff,#7eb6ff,#75b1ff,#78b2ff,#7bb4ff,#8cbeff,#9ac5ff,#a5ccff,#a4cbff,#a0c9ff,#b7d6ff,#bedaff,#bbd8ff,#acd0ff,#a3cbff,#add0ff,#b2d3ff,#b7d6ff 385px 390px,#bedaff,#d2e5ff,#c4ddff,#b9d7ff,#b2d3ff,#b1d3ff 420px 425px,#c6dfff,#cde2ff,#cce2ff,#d3e6ff,#d6e8ff)"></i><i style="height:3px;background:linear-gradient(90deg,#ff4400,#ff4b00,#ff2e00,#f40000,#d70000,#f00000,#f80000,#e50000,#f10000,#f90000,#db0000,#d90000,#ff0100,#ff0a00,#ff1500,#ff3f00,#ff5200,#ff5100,#ff7d00,#ffae00,#ffc100,#ffd800,#fff400,#f2ff0d,#d6ff2a,#b8ff48,#9aff66,#7dff83,#5effa2,#44ffbc,#30ffd0,#1fffe0,#17ffe9,#0efff1,#0cfff3,#09fff6,#06fff9,#04fffb,#00fcff,#00f2ff,#00e8ff,#00ddff,#00d1ff,#00c4ff,#00b8ff,#00acff,#009fff,#0098ff,#0092ff,#008cff,#0086ff,#147aff,#2080ff,#2885ff,#2d88ff 270px 275px,#2986ff,#2f88ff,#368dff,#4595ff,#569fff,#69aaff,#68a9ff,#72afff,#83b8ff,#8cbeff,#94c2ff,#9bc6ff,#9dc7ff,#9cc7ff,#abcfff,#b1d2ff,#b0d2ff,#aed1ff,#afd1ff,#c0dbff,#bedaff,#b9d7ff,#b8d7ff,#bedaff,#cfe4ff,#c6deff,#bfdbff,#b6d5ff,#b9d7ff,#bddaff,#c8dfff,#cfe3ff,#daeaff,#d4e6ff,#d0e4ff)"></i><i style="height:3px;background:linear-gradient(90deg,#ff3000,#ff3700,#ff1a00,#e00000,#c30000,#dc0000,#e30000,#d10000,#dd0000,#e50000,#c70000,#c60000,#ec0000,#f20000,#f80000,#ff1f00,#ff2e00,#ff2b00,#ff5500,#ff8700,#ff9b00,#ffb300,#ffd000,#ffe800,#faff05,#dbff24,#bcff44,#99ff67,#75ff8b,#56ffaa,#3effc1,#2affd5,#21ffde,#18ffe8,#15ffea,#12ffed,#10ffef,#0dfff2,#08fff8,#00ffff,#00f4ff,#00e9ff,#00ddff,#00d0ff,#00c2ff,#00b5ff,#00a7ff,#00a0ff,#009aff,#0094ff,#008eff,#0671ff,#0973ff,#0772ff,#157aff,#1e7fff,#2f89ff,#2281ff,#2080ff,#348cff,#4595ff,#57a0ff,#5fa4ff,#70adff,#8cbeff,#8ebfff,#91c0ff,#92c1ff,#97c4ff,#9bc6ff,#a0c9ff,#a4cbff,#a7cdff,#b1d3ff,#bbd8ff,#d4e6ff,#cbe2ff,#bcd9ff,#bad8ff,#bfdaff,#cde2ff,#c9e0ff,#c5deff,#bad8ff,#c0dbff,#cae1ff,#c9e0ff,#d1e5ff,#e9f2ff,#d5e7ff,#cae1ff)"></i><i style="height:3px;background:linear-gradient(90deg,#ff2e00,#ff3500,#ff1800,#de0000,#c10000,#da0000,#e10000,#ce0000,#db0000,#e30000,#c50000,#c40000,#e90000,#ed0000,#f00000,#ff1400,#ff2000,#ff1b00,#ff4400,#ff7600,#ff8a00,#ffa300,#ffc000,#ffd900,#fff500,#eaff15,#caff35,#a6ff5a,#7fff81,#5effa2,#44ffbb,#2fffd0,#25ffda,#1cffe4,#19ffe6,#17ffe9,#14ffeb,#11ffee,#0cfff4,#04fffb,#00faff,#00eeff,#00e2ff,#00d4ff,#00c7ff,#00b9ff,#00abff,#00a4ff,#009eff,#0097ff,#0091ff,#0070ff,#0071ff,#006fff,#1278ff,#1a7dff,#2583ff 280px 285px,#2a86ff,#358cff,#4796ff,#5ba2ff,#58a0ff,#64a7ff,#7bb4ff,#83b8ff,#89bcff,#85baff,#8ebfff,#97c4ff,#9cc7ff,#a1caff,#a5ccff,#afd2ff,#b8d6ff,#cae1ff,#c3ddff,#b7d6ff,#bad8ff,#c1dcff,#d1e5ff,#cce2ff,#c8dfff,#c2dcff,#c4ddff,#c6deff,#c8e0ff,#cce2ff,#d6e7ff,#cee3ff,#cae1ff)"></i><i style="height:3px;background:linear-gradient(90deg,#ff2f00,#ff3600,#ff1900,#df0000,#c20000,#da0000,#e20000,#cf0000,#dc0000,#e40000,#c60000,#c50000,#ea0000,#ef0000,#f50000,#ff1a00,#ff2800,#ff2400,#ff4e00,#ff8000,#ff9400,#ffac00,#ffc900,#ffe200,#fffd00,#e1ff1e,#c2ff3e,#9eff61,#79ff87,#59ffa7,#41ffbf,#2cffd3,#23ffdd,#19ffe6,#17ffe8,#14ffeb,#12ffee,#0ffff0,#09fff6,#02fffd,#00f6ff,#00ebff,#00dfff,#00d2ff,#00c4ff,#00b7ff,#00a9ff,#00a2ff,#009cff,#0095ff,#008fff,#006eff,#0072ff,#0370ff,#1b7dff,#2282ff,#2684ff,#338bff,#3e91ff,#3f92ff,#519cff,#66a8ff,#59a1ff,#60a4ff,#6fadff,#7db5ff,#86baff,#7eb5ff,#8abcff,#97c4ff,#9cc7ff,#a1c9ff,#a6ccff,#afd2ff,#b6d6ff,#c2dcff,#bdd9ff,#b4d4ff,#bbd8ff,#c5deff,#d7e8ff,#cfe4ff,#cbe1ff 410px 415px,#c8dfff,#c2dcff,#c8e0ff 430px 435px,#c3ddff,#c6dfff,#cae1ff)"></i><i style="height:3px;background:linear-gradient(90deg,#ff3a00,#ff4100,#ff2400,#ea0000,#cd0000,#e60000,#ee0000,#db0000,#e70000,#ef0000,#d10000,#cf0000,#f60000,#ff0000,#ff0900,#ff3300,#ff4600,#ff4500,#ff7000,#ffa200,#ffb500,#ffcc00,#ffe800,#feff01,#e1ff1e,#c3ff3d,#a5ff5b,#86ff7a,#65ff9b,#49ffb6,#34ffcb,#23ffdd,#1affe5,#11ffee,#0ffff0,#0cfff3,#09fff6,#07fff8,#01fffe,#00f6ff,#00ecff,#00e1ff,#00d5ff,#00c8ff,#00bbff,#00afff,#00a2ff,#009bff,#0095ff,#008eff,#0088ff,#0f77ff,#1479ff,#187bff,#2181ff,#2885ff,#378dff,#3d91ff,#4494ff,#4998ff,#59a1ff,#6babff,#65a7ff,#70adff,#85baff,#8bbdff,#8ebfff,#80b7ff,#8fbfff,#a3cbff,#a2caff,#a5ccff,#aaceff,#accfff,#aed1ff,#bedaff,#bbd8ff,#b5d5ff,#b9d7ff,#bfdbff,#cde2ff,#cbe2ff,#c9e0ff,#bcd9ff,#bfdbff,#c5deff,#c8e0ff,#c8dfff,#c2dcff,#cee3ff,#d6e8ff)"></i><i style="height:3px;background:linear-gradient(90deg,#ff8800,#ff9000,#ff7400,#ff3c00,#ff1f00,#ff3900,#ff4100,#ff2e00,#ff3a00,#ff4100,#ff2100,#ff1e00,#ff4400,#ff4a00,#ff5000,#ff7500,#ff8400,#ff7e00,#ffa500,#ffd300,#ffe400,#fffa00,#e7ff18,#cfff30,#b4ff4c,#98ff68,#7bff85,#61ff9f,#48ffb8,#33ffcd,#22ffdd,#15ffea,#0dfff2,#06fff9,#03fffc,#00ffff,#00fbff,#00f7ff,#00f0ff,#00e7ff,#00dcff,#00d1ff,#00c6ff,#00baff,#00afff,#00a3ff,#0097ff,#0090ff,#008aff,#0085ff,#0080ff,#2382ff,#328aff,#338bff,#2d88ff,#358cff,#4e9aff,#4c99ff,#4f9bff,#59a0ff,#66a8ff,#74b0ff,#75b1ff,#83b8ff,#9fc8ff,#9cc7ff,#99c5ff,#84b9ff,#97c4ff,#b1d2ff,#aacfff,#abcfff,#aed1ff,#a9ceff,#a7cdff,#bbd8ff,#bad8ff,#b7d6ff 385px 390px,#bbd8ff,#c3ddff,#c8e0ff,#c9e0ff,#add0ff,#b7d6ff,#c9e0ff 425px 430px,#c7dfff,#c1dbff,#d6e8ff,#e3efff)"></i><i style="height:3px;background:linear-gradient(90deg,#eaff15,#e0ff1f,#fdff02,#ffcb00,#ffb000,#ffcb00,#ffd500,#ffc200,#ffcb00,#ffd000,#ffae00,#ffa900,#ffc900,#ffc700,#ffc000,#ffd600 75px 80px,#ffc300,#ffe000,#f7ff08,#e9ff16,#d3ff2d,#b7ff49,#a0ff60,#86ff7a,#6bff95,#50ffb0,#3bffc4,#2bffd5,#1cffe3,#10ffef,#07fff8,#01fffe,#00f7ff,#00f2ff,#00eeff,#00eaff,#00e5ff,#00ddff,#00d3ff,#00caff,#00c0ff,#00b6ff,#00acff,#00a1ff,#0097ff,#008cff,#0086ff,#0080ff,#007eff,#007bff,#358cff,#4394ff,#4092ff,#4494ff,#4f9bff,#69aaff,#6aaaff,#6dacff,#70aeff,#7ab3ff,#84b9ff,#7bb4ff,#86baff,#a2caff,#a0c9ff,#9fc8ff,#99c5ff,#a6ccff,#b7d6ff,#b5d5ff,#b6d5ff,#b7d6ff,#b8d7ff,#bbd8ff,#c5deff,#c6dfff 380px 385px,#c3ddff 390px 400px,#c6deff,#c6dfff,#bcd9ff,#c2dcff,#cbe1ff 425px 430px,#c9e0ff,#c4ddff,#cbe1ff,#d1e5ff)"></i><i style="height:3px;background:linear-gradient(90deg,#c1ff3e,#b7ff49,#d3ff2d,#fff200,#ffd800,#fff300,#fffd00,#ffea00,#fff300,#fff700,#ffd400,#ffcf00,#ffef00,#ffee00,#ffe600,#fffd00,#fffe00,#ffea00,#f8ff07,#cfff30,#c3ff3c,#aeff52,#93ff6d,#7dff83,#63ff9c,#49ffb6,#30ffd0,#20ffdf,#15ffea,#0bfff4,#03fffc,#00faff,#00f2ff,#00eaff,#00e6ff,#00e0ff,#00dbff,#00d5ff,#00ceff,#00c5ff,#00bdff,#00b4ff,#00abff,#00a1ff,#0097ff,#008eff,#0084ff,#007fff,#007dff,#007bff,#0078ff,#4294ff,#4e9aff,#4797ff,#549eff,#63a6ff,#7fb6ff,#82b8ff,#85baff,#83b8ff,#89bcff,#90c0ff,#7db5ff,#85b9ff,#a3caff,#a1c9ff,#a2caff,#abcfff,#b3d4ff,#bbd8ff,#bfdaff,#c0dbff,#bedaff,#c7dfff,#cde2ff,#cee3ff,#d1e5ff,#d5e7ff,#cee3ff,#cae1ff,#c3ddff 400px 405px,#c4ddff,#cae1ff,#cce2ff,#cde2ff,#cce2ff,#cbe2ff,#c7dfff,#c0dbff,#bfdaff)"></i><i style="height:3px;background:linear-gradient(90deg,#bcff43,#b2ff4e,#ceff32,#fff700,#ffdc00,#fff800,#fbff04,#ffef00,#fff800,#fffb00,#ffd900,#ffd300,#fff400 60px 65px,#ffee00,#f7ff08,#f4ff0b,#fff500,#eaff15,#c2ff3e,#b6ff49,#a1ff5f,#86ff7a,#70ff90,#57ffa9,#3effc2,#24ffdb,#16ffe9,#0efff1,#05fffa,#00fcff,#00f5ff,#00edff,#00e6ff,#00e0ff,#00dbff,#00d5ff,#00d0ff,#00c8ff,#00c0ff,#00b8ff,#00b0ff,#00a7ff,#009eff,#0094ff,#008bff,#0081ff,#007eff,#007cff,#0079ff,#0077ff,#4897ff,#5ca2ff,#58a0ff,#5aa1ff,#62a5ff,#73afff,#78b2ff,#7eb6ff,#84b9ff,#86baff,#88bbff,#84b9ff,#8cbdff,#9fc8ff,#a8cdff,#add0ff,#a7cdff,#b5d5ff,#c6deff,#b9d7ff,#b6d5ff,#b2d3ff,#c3ddff,#cde2ff,#c2dcff,#c5deff,#cbe1ff,#c8e0ff,#c7dfff,#c2dcff,#cae1ff,#cfe4ff,#cfe3ff,#cee3ff,#cce2ff,#cde2ff,#cfe4ff,#d6e8ff,#cbe1ff,#c5deff)"></i><i style="height:3px;background:linear-gradient(90deg,#c2ff3d,#b8ff48,#d4ff2c,#fff100,#ffd700,#fff200,#fffd00,#ffe900,#fff200,#fff600,#ffd300,#ffce00,#ffee00,#ffed00,#ffe500,#fffc00 75px 80px,#ffe800,#faff05,#d1ff2e,#c5ff3a,#b0ff50,#95ff6b,#7fff81,#65ff9b,#4bffb5,#31ffce,#21ffde,#16ffe9,#0cfff3,#03fffc,#00fbff,#00f3ff,#00ebff,#00e6ff,#00e1ff,#00dbff,#00d6ff,#00cfff,#00c6ff,#00bdff,#00b5ff,#00acff,#00a2ff,#0098ff,#008eff,#0084ff,#007fff,#007dff,#007bff,#0078ff,#4495ff,#5fa4ff,#5da3ff,#539dff,#549eff,#5ba2ff,#64a7ff,#6cacff,#7bb4ff,#7ab4ff,#78b2ff,#83b9ff,#8dbeff,#96c3ff,#a9ceff,#b3d4ff,#a0c9ff,#b3d4ff,#cde2ff,#b1d3ff,#a9ceff,#a5ccff,#bdd9ff,#cae1ff,#b6d5ff,#b8d7ff,#bfdaff,#c2dcff,#c3ddff,#bfdbff,#d0e4ff,#daeaff,#d2e6ff,#cfe4ff,#cbe1ff,#cce2ff,#d2e6ff,#e4f0ff,#d5e7ff,#cae1ff)"></i><i style="height:2px;background:linear-gradient(90deg,#f1ff0e,#e7ff19,#fffb00,#ffc500,#ffaa00,#ffc500,#ffcf00,#ffbc00,#ffc500,#ffca00,#ffa800,#ffa300,#ffc400,#ffc200,#ffba00,#ffd200 75px 80px,#ffbf00,#ffdc00,#faff05,#ecff13,#d6ff2a,#baff46,#a3ff5d,#89ff77,#6eff92,#52ffad,#3effc2,#2dffd3,#1dffe2,#11ffee,#08fff7,#01fffe,#00f8ff,#00f3ff,#00efff,#00ebff,#00e6ff,#00deff,#00d5ff,#00cbff,#00c1ff,#00b7ff,#00adff,#00a2ff,#0097ff,#008dff,#0086ff,#0081ff,#007eff,#007cff,#348cff,#4796ff,#4b98ff,#509bff,#549eff,#5ca2ff,#5da3ff,#61a5ff,#6dacff,#71aeff,#73afff,#7fb6ff,#88bbff,#8fbfff,#a1c9ff,#abcfff,#9dc7ff,#a8ceff,#b6d5ff,#a7cdff,#a5ccff,#a8cdff,#b7d6ff,#c0dbff,#b8d6ff,#b9d7ff,#bcd9ff,#c4ddff,#c6dfff,#c2dcff,#cce2ff,#d3e6ff,#d0e4ff,#cde2ff,#c8dfff,#d0e4ff,#d3e6ff,#d5e7ff,#d3e6ff,#d2e5ff)"></i></div>
<div class="hm" style="left:625px;top:18px;width:56.5px;height:306px;background:linear-gradient(0deg,#f3f7ff 0.000% 1.562%,#e6eeff 1.562% 3.125%,#d8e4ff 3.125% 4.688%,#cbdbff 4.688% 6.250%,#bdd1ff 6.250% 7.812%,#b0c8ff 7.812% 9.375%,#a2beff 9.375% 10.938%,#95b4ff 10.938% 12.500%,#88abff 12.500% 14.062%,#7aa1ff 14.062% 15.625%,#6d98ff 15.625% 17.188%,#5f8eff 17.188% 18.750%,#5285ff 18.750% 20.312%,#447bff 20.312% 21.875%,#3772ff 21.875% 23.438%,#2968ff 23.438% 25.000%,#1c5fff 25.000% 26.562%,#0e55ff 26.562% 28.125%,#014cff 28.125% 29.688%,#0072ff 29.688% 31.250%,#0095ff 31.250% 32.812%,#00b6ff 32.812% 34.375%,#00d5ff 34.375% 35.938%,#00f2ff 35.938% 37.500%,#09fff6 37.500% 39.062%,#1affe5 39.062% 40.625%,#2bffd4 40.625% 42.188%,#3dffc3 42.188% 43.750%,#4effb1 43.750% 45.312%,#60ffa0 45.312% 46.875%,#71ff8f 46.875% 48.438%,#82ff7e 48.438% 50.000%,#93ff6d 50.000% 51.562%,#a3ff5c 51.562% 53.125%,#b4ff4c 53.125% 54.688%,#c4ff3b 54.688% 56.250%,#d5ff2a 56.250% 57.812%,#e6ff1a 57.812% 59.375%,#f6ff09 59.375% 60.938%,#fff800 60.938% 62.500%,#ffe900 62.500% 64.062%,#ffd900 64.062% 65.625%,#ffca00 65.625% 67.188%,#ffbb00 67.188% 68.750%,#ffac00 68.750% 70.312%,#ff9c00 70.312% 71.875%,#ff8d00 71.875% 73.438%,#ff7e00 73.438% 75.000%,#ff6e00 75.000% 76.562%,#ff5f00 76.562% 78.125%,#ff5000 78.125% 79.688%,#ff4000 79.688% 81.250%,#ff3100 81.250% 82.812%,#ff2200 82.812% 84.375%,#ff1200 84.375% 85.938%,#ff0300 85.938% 87.500%,#f20000 87.500% 89.062%,#e30000 89.062% 90.625%,#d40000 90.625% 92.188%,#c50000 92.188% 93.750%,#b50000 93.750% 95.312%,#a60000 95.312% 96.875%,#970000 96.875% 98.438%,#880000 98.438% 100.000%)"></div>
<div class="hm" style="left:625px;top:476.3px;width:56.3px;height:306.2px;background:linear-gradient(0deg,#f3f7ff 0.000% 1.562%,#e6eeff 1.562% 3.125%,#d8e4ff 3.125% 4.688%,#cbdbff 4.688% 6.250%,#bdd1ff 6.250% 7.812%,#b0c8ff 7.812% 9.375%,#a2beff 9.375% 10.938%,#95b4ff 10.938% 12.500%,#88abff 12.500% 14.062%,#7aa1ff 14.062% 15.625%,#6d98ff 15.625% 17.188%,#5f8eff 17.188% 18.750%,#5285ff 18.750% 20.312%,#447bff 20.312% 21.875%,#3772ff 21.875% 23.438%,#2968ff 23.438% 25.000%,#1c5fff 25.000% 26.562%,#0e55ff 26.562% 28.125%,#014cff 28.125% 29.688%,#0072ff 29.688% 31.250%,#0095ff 31.250% 32.812%,#00b6ff 32.812% 34.375%,#00d5ff 34.375% 35.938%,#00f2ff 35.938% 37.500%,#09fff6 37.500% 39.062%,#1affe5 39.062% 40.625%,#2bffd4 40.625% 42.188%,#3dffc3 42.188% 43.750%,#4effb1 43.750% 45.312%,#60ffa0 45.312% 46.875%,#71ff8f 46.875% 48.438%,#82ff7e 48.438% 50.000%,#93ff6d 50.000% 51.562%,#a3ff5c 51.562% 53.125%,#b4ff4c 53.125% 54.688%,#c4ff3b 54.688% 56.250%,#d5ff2a 56.250% 57.812%,#e6ff1a 57.812% 59.375%,#f6ff09 59.375% 60.938%,#fff800 60.938% 62.500%,#ffe900 62.500% 64.062%,#ffd900 64.062% 65.625%,#ffca00 65.625% 67.188%,#ffbb00 67.188% 68.750%,#ffac00 68.750% 70.312%,#ff9c00 70.312% 71.875%,#ff8d00 71.875% 73.438%,#ff7e00 73.438% 75.000%,#ff6e00 75.000% 76.562%,#ff5f00 76.562% 78.125%,#ff5000 78.125% 79.688%,#ff4000 79.688% 81.250%,#ff3100 81.250% 82.812%,#ff2200 82.812% 84.375%,#ff1200 84.375% 85.938%,#ff0300 85.938% 87.500%,#f20000 87.500% 89.062%,#e30000 89.062% 90.625%,#d40000 90.625% 92.188%,#c50000 92.188% 93.750%,#b50000 93.750% 95.312%,#a60000 95.312% 96.875%,#970000 96.875% 98.438%,#880000 98.438% 100.000%)"></div>
<div class="hm" style="left:1439px;top:18px;width:56.3px;height:306px;background:linear-gradient(0deg,#f3f7ff 0.000% 1.562%,#e6eeff 1.562% 3.125%,#d8e4ff 3.125% 4.688%,#cbdbff 4.688% 6.250%,#bdd1ff 6.250% 7.812%,#b0c8ff 7.812% 9.375%,#a2beff 9.375% 10.938%,#95b4ff 10.938% 12.500%,#88abff 12.500% 14.062%,#7aa1ff 14.062% 15.625%,#6d98ff 15.625% 17.188%,#5f8eff 17.188% 18.750%,#5285ff 18.750% 20.312%,#447bff 20.312% 21.875%,#3772ff 21.875% 23.438%,#2968ff 23.438% 25.000%,#1c5fff 25.000% 26.562%,#0e55ff 26.562% 28.125%,#014cff 28.125% 29.688%,#0072ff 29.688% 31.250%,#0095ff 31.250% 32.812%,#00b6ff 32.812% 34.375%,#00d5ff 34.375% 35.938%,#00f2ff 35.938% 37.500%,#09fff6 37.500% 39.062%,#1affe5 39.062% 40.625%,#2bffd4 40.625% 42.188%,#3dffc3 42.188% 43.750%,#4effb1 43.750% 45.312%,#60ffa0 45.312% 46.875%,#71ff8f 46.875% 48.438%,#82ff7e 48.438% 50.000%,#93ff6d 50.000% 51.562%,#a3ff5c 51.562% 53.125%,#b4ff4c 53.125% 54.688%,#c4ff3b 54.688% 56.250%,#d5ff2a 56.250% 57.812%,#e6ff1a 57.812% 59.375%,#f6ff09 59.375% 60.938%,#fff800 60.938% 62.500%,#ffe900 62.500% 64.062%,#ffd900 64.062% 65.625%,#ffca00 65.625% 67.188%,#ffbb00 67.188% 68.750%,#ffac00 68.750% 70.312%,#ff9c00 70.312% 71.875%,#ff8d00 71.875% 73.438%,#ff7e00 73.438% 75.000%,#ff6e00 75.000% 76.562%,#ff5f00 76.562% 78.125%,#ff5000 78.125% 79.688%,#ff4000 79.688% 81.250%,#ff3100 81.250% 82.812%,#ff2200 82.812% 84.375%,#ff1200 84.375% 85.938%,#ff0300 85.938% 87.500%,#f20000 87.500% 89.062%,#e30000 89.062% 90.625%,#d40000 90.625% 92.188%,#c50000 92.188% 93.750%,#b50000 93.750% 95.312%,#a60000 95.312% 96.875%,#970000 96.875% 98.438%,#880000 98.438% 100.000%)"></div>
<div class="hm" style="left:1439px;top:476.3px;width:56.5px;height:306px;background:linear-gradient(0deg,#f3f7ff 0.000% 1.562%,#e6eeff 1.562% 3.125%,#d8e4ff 3.125% 4.688%,#cbdbff 4.688% 6.250%,#bdd1ff 6.250% 7.812%,#b0c8ff 7.812% 9.375%,#a2beff 9.375% 10.938%,#95b4ff 10.938% 12.500%,#88abff 12.500% 14.062%,#7aa1ff 14.062% 15.625%,#6d98ff 15.625% 17.188%,#5f8eff 17.188% 18.750%,#5285ff 18.750% 20.312%,#447bff 20.312% 21.875%,#3772ff 21.875% 23.438%,#2968ff 23.438% 25.000%,#1c5fff 25.000% 26.562%,#0e55ff 26.562% 28.125%,#014cff 28.125% 29.688%,#0072ff 29.688% 31.250%,#0095ff 31.250% 32.812%,#00b6ff 32.812% 34.375%,#00d5ff 34.375% 35.938%,#00f2ff 35.938% 37.500%,#09fff6 37.500% 39.062%,#1affe5 39.062% 40.625%,#2bffd4 40.625% 42.188%,#3dffc3 42.188% 43.750%,#4effb1 43.750% 45.312%,#60ffa0 45.312% 46.875%,#71ff8f 46.875% 48.438%,#82ff7e 48.438% 50.000%,#93ff6d 50.000% 51.562%,#a3ff5c 51.562% 53.125%,#b4ff4c 53.125% 54.688%,#c4ff3b 54.688% 56.250%,#d5ff2a 56.250% 57.812%,#e6ff1a 57.812% 59.375%,#f6ff09 59.375% 60.938%,#fff800 60.938% 62.500%,#ffe900 62.500% 64.062%,#ffd900 64.062% 65.625%,#ffca00 65.625% 67.188%,#ffbb00 67.188% 68.750%,#ffac00 68.750% 70.312%,#ff9c00 70.312% 71.875%,#ff8d00 71.875% 73.438%,#ff7e00 73.438% 75.000%,#ff6e00 75.000% 76.562%,#ff5f00 76.562% 78.125%,#ff5000 78.125% 79.688%,#ff4000 79.688% 81.250%,#ff3100 81.250% 82.812%,#ff2200 82.812% 84.375%,#ff1200 84.375% 85.938%,#ff0300 85.938% 87.500%,#f20000 87.500% 89.062%,#e30000 89.062% 90.625%,#d40000 90.625% 92.188%,#c50000 92.188% 93.750%,#b50000 93.750% 95.312%,#a60000 95.312% 96.875%,#970000 96.875% 98.438%,#880000 98.438% 100.000%)"></div>
<svg width="1575" height="863" viewBox="0 0 1575 863"><path d="M165.5 17.5V323.0M275.2 17.5V323.0M384.8 17.5V323.0M494.4 17.5V323.0M133.0 170.3H582.5" stroke="#000" stroke-width="0.9" stroke-dasharray="1.1 2.2" opacity="0.6" fill="none"/><path d="M165.5 323.0v-4.5 M165.5 17.5v4.5M275.2 323.0v-4.5 M275.2 17.5v4.5M384.8 323.0v-4.5 M384.8 17.5v4.5M494.4 323.0v-4.5 M494.4 17.5v4.5M133.0 170.3h4.5 M582.5 170.3h-4.5" stroke="#000" stroke-width="1.5" fill="none"/><rect x="133" y="17.5" width="449.5" height="305.5" fill="none" stroke="#111" stroke-width="1.5"/><path d="M165.5 475.5V780.5M275.2 475.5V780.5M384.8 475.5V780.5M494.4 475.5V780.5M133.0 628.3H582.0" stroke="#000" stroke-width="0.9" stroke-dasharray="1.1 2.2" opacity="0.6" fill="none"/><path d="M165.5 780.5v-4.5 M165.5 475.5v4.5M275.2 780.5v-4.5 M275.2 475.5v4.5M384.8 780.5v-4.5 M384.8 475.5v4.5M494.4 780.5v-4.5 M494.4 475.5v4.5M133.0 628.3h4.5 M582.0 628.3h-4.5" stroke="#000" stroke-width="1.5" fill="none"/><rect x="133" y="475.5" width="449" height="305" fill="none" stroke="#111" stroke-width="1.5"/><path d="M1090.5 17.5V322.5M1234.5 17.5V322.5M1378.2 17.5V322.5M946.5 61.6H1396.0M946.5 136.6H1396.0M946.5 211.4H1396.0M946.5 286.7H1396.0" stroke="#000" stroke-width="0.9" stroke-dasharray="1.1 2.2" opacity="0.6" fill="none"/><path d="M1090.5 322.5v-4.5 M1090.5 17.5v4.5M1234.5 322.5v-4.5 M1234.5 17.5v4.5M1378.2 322.5v-4.5 M1378.2 17.5v4.5M946.5 61.6h4.5 M1396.0 61.6h-4.5M946.5 136.6h4.5 M1396.0 136.6h-4.5M946.5 211.4h4.5 M1396.0 211.4h-4.5M946.5 286.7h4.5 M1396.0 286.7h-4.5" stroke="#000" stroke-width="1.5" fill="none"/><rect x="946.5" y="17.5" width="449.5" height="305" fill="none" stroke="#111" stroke-width="1.5"/><path d="M979.2 475.5V780.5M1089.0 475.5V780.5M1198.5 475.5V780.5M1308.8 475.5V780.5M946.5 501.8H1396.0M946.5 571.3H1396.0M946.5 641.5H1396.0M946.5 711.0H1396.0" stroke="#000" stroke-width="0.9" stroke-dasharray="1.1 2.2" opacity="0.6" fill="none"/><path d="M979.2 780.5v-4.5 M979.2 475.5v4.5M1089.0 780.5v-4.5 M1089.0 475.5v4.5M1198.5 780.5v-4.5 M1198.5 475.5v4.5M1308.8 780.5v-4.5 M1308.8 475.5v4.5M946.5 501.8h4.5 M1396.0 501.8h-4.5M946.5 571.3h4.5 M1396.0 571.3h-4.5M946.5 641.5h4.5 M1396.0 641.5h-4.5M946.5 711.0h4.5 M1396.0 711.0h-4.5" stroke="#000" stroke-width="1.5" fill="none"/><rect x="946.5" y="475.5" width="449.5" height="305" fill="none" stroke="#111" stroke-width="1.5"/><path d="M625.0 92.3h4 M681.5 92.3h-4M625.0 208.0h4 M681.5 208.0h-4M625.0 323.4h4 M681.5 323.4h-4" stroke="#000" stroke-width="1.3" fill="none"/><rect x="625" y="18" width="56.5" height="306" fill="none" stroke="#111" stroke-width="1.5"/><path d="M625.0 545.7h4 M681.3 545.7h-4M625.0 660.9h4 M681.3 660.9h-4M625.0 776.2h4 M681.3 776.2h-4" stroke="#000" stroke-width="1.3" fill="none"/><rect x="625" y="476.3" width="56.3" height="306.2" fill="none" stroke="#111" stroke-width="1.5"/><path d="M1439.0 53.8h4 M1495.3 53.8h-4M1439.0 110.6h4 M1495.3 110.6h-4M1439.0 168.3h4 M1495.3 168.3h-4M1439.0 225.3h4 M1495.3 225.3h-4M1439.0 282.8h4 M1495.3 282.8h-4" stroke="#000" stroke-width="1.3" fill="none"/><rect x="1439" y="18" width="56.3" height="306" fill="none" stroke="#111" stroke-width="1.5"/><path d="M1439.0 512.0h4 M1495.5 512.0h-4M1439.0 602.3h4 M1495.5 602.3h-4M1439.0 692.1h4 M1495.5 692.1h-4" stroke="#000" stroke-width="1.3" fill="none"/><rect x="1439" y="476.3" width="56.5" height="306" fill="none" stroke="#111" stroke-width="1.5"/><text x="125" y="182.651" font-size="34.5" text-anchor="end">0</text><text x="125" y="29.851" font-size="34.5" text-anchor="end">5</text><text x="125" y="335.351" font-size="34.5" text-anchor="end">-5</text><text x="165.5" y="363.602" font-size="34.5" text-anchor="middle">30</text><text x="165.5" y="821.202" font-size="34.5" text-anchor="middle">30</text><text x="275.2" y="363.602" font-size="34.5" text-anchor="middle">40</text><text x="275.2" y="821.202" font-size="34.5" text-anchor="middle">40</text><text x="384.8" y="363.602" font-size="34.5" text-anchor="middle">50</text><text x="384.8" y="821.202" font-size="34.5" text-anchor="middle">50</text><text x="494.4" y="363.602" font-size="34.5" text-anchor="middle">60</text><text x="494.4" y="821.202" font-size="34.5" text-anchor="middle">60</text><text x="357.3" y="401.2" font-size="34.5" text-anchor="middle">E / eV</text><text x="357.3" y="859.5" font-size="34.5" text-anchor="middle">E / eV</text><text x="125" y="640.651" font-size="34.5" text-anchor="end">0</text><text x="125" y="487.851" font-size="34.5" text-anchor="end">5</text><text x="125" y="792.851" font-size="34.5" text-anchor="end">-5</text><text transform="translate(74.3 175.8) rotate(-90)" font-size="34.5" text-anchor="middle">Angle / mrad</text><text transform="translate(74.3 629) rotate(-90)" font-size="34.5" text-anchor="middle">Angle / mrad</text><text transform="translate(887.8 175.9) rotate(-90)" font-size="34.5" text-anchor="middle">Angle / mrad</text><text transform="translate(899 629.4) rotate(-90)" font-size="34.5" text-anchor="middle">CEP / <tspan font-family="Liberation Serif, serif" font-weight="normal">π</tspan></text><text x="938" y="73.951" font-size="34.5" text-anchor="end">4</text><text x="938" y="148.951" font-size="34.5" text-anchor="end">2</text><text x="938" y="223.751" font-size="34.5" text-anchor="end">0</text><text x="938" y="299.051" font-size="34.5" text-anchor="end">-2</text><text x="946.5" y="364.302" font-size="34.5" text-anchor="middle">0</text><text x="1090.5" y="364.302" font-size="34.5" text-anchor="middle">2</text><text x="1234.5" y="364.302" font-size="34.5" text-anchor="middle">4</text><text x="1378.2" y="364.302" font-size="34.5" text-anchor="middle">6</text><text x="1170.5" y="402.3" font-size="34.5" text-anchor="middle">CEP / <tspan font-family="Liberation Serif, serif" font-weight="normal">π</tspan></text><text x="938.5" y="514.151" font-size="34.5" text-anchor="end">8</text><text x="938.5" y="583.651" font-size="34.5" text-anchor="end">6</text><text x="938.5" y="653.851" font-size="34.5" text-anchor="end">4</text><text x="938.5" y="723.351" font-size="34.5" text-anchor="end">2</text><text x="938.5" y="792.851" font-size="34.5" text-anchor="end">0</text><text x="979.2" y="821.202" font-size="34.5" text-anchor="middle">30</text><text x="1089" y="821.202" font-size="34.5" text-anchor="middle">40</text><text x="1198.5" y="821.202" font-size="34.5" text-anchor="middle">50</text><text x="1308.8" y="821.202" font-size="34.5" text-anchor="middle">60</text><text x="1171" y="859.5" font-size="34.5" text-anchor="middle">E / eV</text><text x="689" y="104.651" font-size="34.5" text-anchor="start">4000</text><text x="689" y="220.351" font-size="34.5" text-anchor="start">2000</text><text x="689" y="335.751" font-size="34.5" text-anchor="start">0</text><text x="689" y="558.051" font-size="34.5" text-anchor="start">10000</text><text x="689" y="673.251" font-size="34.5" text-anchor="start">5000</text><text x="689" y="788.551" font-size="34.5" text-anchor="start">0</text><text x="1503" y="66.151" font-size="34.5" text-anchor="start">100</text><text x="1503" y="122.951" font-size="34.5" text-anchor="start">80</text><text x="1503" y="180.651" font-size="34.5" text-anchor="start">60</text><text x="1503" y="237.651" font-size="34.5" text-anchor="start">40</text><text x="1503" y="295.151" font-size="34.5" text-anchor="start">20</text><text x="1503" y="524.351" font-size="34.5" text-anchor="start">6</text><text x="1503" y="614.651" font-size="34.5" text-anchor="start">4</text><text x="1503" y="704.451" font-size="34.5" text-anchor="start">2</text><text x="1495" y="464.2" font-size="34.5">x 10<tspan font-size="20" dy="-22">6</tspan></text><text x="1.5" y="31.6" font-size="39" text-anchor="start">(a)</text><text x="1.5" y="489.1" font-size="39" text-anchor="start">(b)</text><text x="802.5" y="37.8" font-size="39" text-anchor="start">(c)</text><text x="814.5" y="515.3" font-size="39" text-anchor="start">(d)</text></svg>
</body></html>
